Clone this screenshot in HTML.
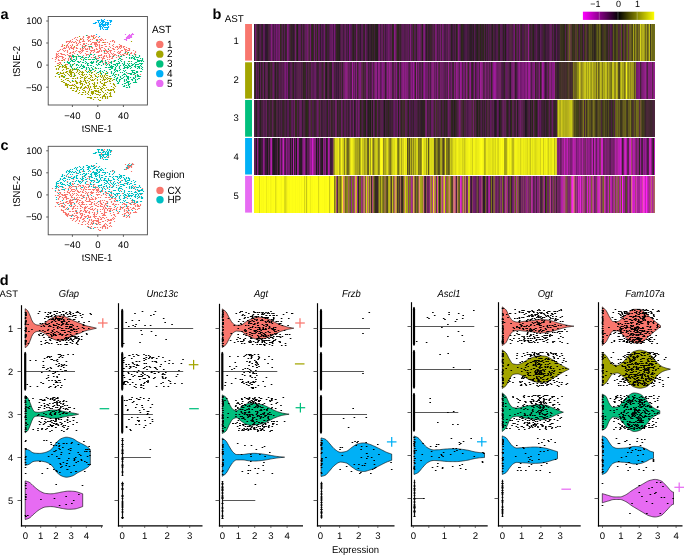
<!DOCTYPE html>
<html><head><meta charset="utf-8"><title>Figure</title>
<style>
html,body{margin:0;padding:0;background:#fff;}
body{width:685px;height:555px;overflow:hidden;}
svg{display:block;font-family:"Liberation Sans", sans-serif;text-rendering:geometricPrecision;filter:blur(0.4px);}
.h0 rect{width:1px;height:36.6px}.h1 rect{width:1px;height:36.3px}.h2 rect{width:1px;height:36.7px}.h3 rect{width:1px;height:36.5px}.h4 rect{width:1px;height:36.7px}
</style></head><body>
<svg width="685" height="555" viewBox="0 0 685 555">
<rect width="685" height="555" fill="#fff"/>
<g>
<path stroke="#F8766D" stroke-width="1.15" d="M97.92 56.5h1.15M108.92 57.5h1.15M91.92 36.5h1.15M60.92 56.5h1.15M77.92 51.5h1.15M93.92 50.5h1.15M86.92 49.5h1.15M108.92 44.5h1.15M63.92 67.5h1.15M68.92 49.5h1.15M65.92 47.5h1.15M69.92 47.5h1.15M61.92 45.5h1.15M59.92 62.5h1.15M104.92 63.5h1.15M58.92 56.5h1.15M58.92 50.5h1.15M91.92 47.5h1.15M117.92 48.5h1.15M82.92 46.5h1.15M84.92 53.5h1.15M110.92 58.5h1.15M66.92 62.5h1.15M81.92 38.5h1.15M121.92 50.5h1.15M118.92 52.5h1.15M81.92 50.5h1.15M104.92 61.5h1.15M112.92 53.5h1.15M128.93 48.5h1.15M109.92 51.5h1.15M81.92 51.5h1.15M79.92 48.5h1.15M104.92 42.5h1.15M113.92 49.5h1.15M119.92 48.5h1.15M106.92 51.5h1.15M88.92 48.5h1.15M66.92 41.5h1.15M65.92 46.5h1.15M89.92 52.5h1.15M92.92 50.5h1.15M54.92 59.5h1.15M75.92 48.5h1.15M88.92 36.5h1.15M103.92 55.5h1.15M130.93 57.5h1.15M66.92 51.5h1.15M105.92 50.5h1.15M105.92 56.5h1.15M96.92 51.5h1.15M56.92 63.5h1.15M85.92 43.5h1.15M108.92 44.5h1.15M96.92 39.5h1.15M78.92 52.5h1.15M118.92 44.5h1.15M82.92 55.5h1.15M86.92 39.5h1.15M111.92 56.5h1.15M98.92 50.5h1.15M57.92 59.5h1.15M98.92 55.5h1.15M71.92 52.5h1.15M78.92 41.5h1.15M84.92 46.5h1.15M70.92 42.5h1.15M90.92 47.5h1.15M98.92 47.5h1.15M79.92 48.5h1.15M90.92 47.5h1.15M87.92 41.5h1.15M108.92 55.5h1.15M123.92 55.5h1.15M69.92 53.5h1.15M93.92 38.5h1.15M92.92 42.5h1.15M113.92 54.5h1.15M82.92 44.5h1.15M104.92 53.5h1.15M103.92 56.5h1.15M68.92 56.5h1.15M93.92 42.5h1.15M86.92 35.5h1.15M107.92 63.5h1.15M72.92 42.5h1.15M74.92 51.5h1.15M100.92 51.5h1.15M100.92 45.5h1.15M95.92 44.5h1.15M79.92 38.5h1.15M109.92 41.5h1.15M70.92 47.5h1.15M79.92 44.5h1.15M97.92 55.5h1.15M55.92 56.5h1.15M119.92 45.5h1.15M125.92 49.5h1.15M68.92 57.5h1.15M86.92 48.5h1.15M74.92 41.5h1.15M62.92 57.5h1.15M111.92 45.5h1.15M133.93 74.5h1.15M64.92 58.5h1.15M86.92 48.5h1.15M69.92 45.5h1.15M91.92 48.5h1.15M92.92 55.5h1.15M67.92 60.5h1.15M125.92 54.5h1.15M62.92 59.5h1.15M97.92 58.5h1.15M86.92 49.5h1.15M90.92 51.5h1.15M95.92 49.5h1.15M96.92 52.5h1.15M71.92 44.5h1.15M82.92 40.5h1.15M95.92 43.5h1.15M95.92 58.5h1.15M76.92 45.5h1.15M97.92 52.5h1.15M57.92 57.5h1.15M72.92 49.5h1.15M75.92 45.5h1.15M106.92 59.5h1.15M106.92 57.5h1.15M125.92 47.5h1.15M70.92 58.5h1.15M101.92 45.5h1.15M103.92 53.5h1.15M121.92 59.5h1.15M123.92 53.5h1.15M103.92 44.5h1.15M97.92 60.5h1.15M94.92 45.5h1.15M115.92 55.5h1.15M90.92 43.5h1.15M59.92 49.5h1.15M110.92 61.5h1.15M97.92 42.5h1.15M71.92 48.5h1.15M109.92 47.5h1.15M101.92 42.5h1.15M73.92 42.5h1.15M106.92 59.5h1.15M85.92 51.5h1.15M86.92 51.5h1.15M82.92 37.5h1.15M112.92 44.5h1.15M68.92 41.5h1.15M90.92 44.5h1.15M132.93 50.5h1.15M55.92 54.5h1.15M70.92 57.5h1.15M85.92 45.5h1.15M94.92 45.5h1.15M68.92 41.5h1.15M108.92 62.5h1.15M85.92 55.5h1.15M62.92 50.5h1.15M126.92 54.5h1.15M100.92 38.5h1.15M95.92 39.5h1.15M70.92 46.5h1.15M98.92 39.5h1.15M82.92 36.5h1.15M81.92 45.5h1.15M81.92 41.5h1.15M98.92 46.5h1.15M82.92 48.5h1.15M119.92 46.5h1.15M130.93 58.5h1.15M83.92 47.5h1.15M63.92 48.5h1.15M123.92 46.5h1.15M101.92 58.5h1.15M91.92 47.5h1.15M104.92 46.5h1.15M83.92 43.5h1.15M100.92 54.5h1.15M96.92 49.5h1.15M95.92 49.5h1.15M91.92 42.5h1.15M103.92 50.5h1.15M111.92 58.5h1.15M75.92 42.5h1.15M76.92 48.5h1.15M78.92 42.5h1.15M73.92 47.5h1.15M94.92 44.5h1.15M133.93 53.5h1.15M70.92 56.5h1.15M113.92 41.5h1.15M99.92 55.5h1.15M127.92 50.5h1.15M118.92 57.5h1.15M58.92 50.5h1.15M102.92 57.5h1.15M57.92 53.5h1.15M94.92 43.5h1.15M80.92 52.5h1.15M91.92 39.5h1.15M96.92 41.5h1.15M118.92 53.5h1.15M90.92 50.5h1.15M125.92 51.5h1.15M85.92 54.5h1.15M100.92 47.5h1.15M120.92 45.5h1.15M67.92 55.5h1.15M100.92 40.5h1.15M85.92 49.5h1.15M117.92 53.5h1.15M102.92 40.5h1.15M71.92 39.5h1.15M63.92 59.5h1.15M134.93 52.5h1.15M113.92 51.5h1.15M84.92 48.5h1.15M107.92 48.5h1.15M101.92 47.5h1.15M69.92 56.5h1.15M71.92 84.5h1.15M123.92 53.5h1.15M82.92 50.5h1.15M91.92 36.5h1.15M102.92 56.5h1.15M108.92 56.5h1.15M121.92 54.5h1.15M114.92 47.5h1.15M65.92 42.5h1.15M95.92 46.5h1.15M110.92 53.5h1.15M97.92 37.5h1.15M79.92 49.5h1.15M102.92 58.5h1.15M100.92 57.5h1.15M58.92 62.5h1.15M98.92 48.5h1.15M103.92 58.5h1.15M74.92 37.5h1.15M66.92 45.5h1.15M57.92 51.5h1.15M94.92 42.5h1.15M60.92 53.5h1.15M94.92 46.5h1.15M59.92 49.5h1.15M116.92 47.5h1.15M77.92 51.5h1.15M115.92 57.5h1.15M79.92 53.5h1.15M76.92 45.5h1.15M70.92 59.5h1.15M66.92 50.5h1.15M101.92 39.5h1.15M66.92 52.5h1.15M68.92 42.5h1.15M59.92 66.5h1.15M96.92 45.5h1.15M119.92 52.5h1.15M72.92 48.5h1.15M92.92 38.5h1.15M77.92 55.5h1.15M126.92 73.5h1.15M91.92 59.5h1.15M66.92 54.5h1.15M87.92 37.5h1.15M134.93 54.5h1.15M110.92 50.5h1.15M61.92 54.5h1.15M88.92 47.5h1.15M67.92 59.5h1.15M61.92 57.5h1.15M85.92 57.5h1.15M122.92 46.5h1.15M100.92 55.5h1.15M75.92 47.5h1.15M89.92 53.5h1.15M58.92 56.5h1.15M94.92 57.5h1.15M67.92 55.5h1.15M55.92 53.5h1.15M76.92 87.5h1.15M95.92 42.5h1.15M75.92 39.5h1.15M55.92 57.5h1.15M77.92 43.5h1.15M79.92 81.5h1.15M68.92 55.5h1.15M119.92 54.5h1.15M79.92 42.5h1.15M68.92 48.5h1.15M64.92 50.5h1.15M130.93 53.5h1.15M89.92 41.5h1.15M113.92 42.5h1.15M70.92 48.5h1.15M98.92 42.5h1.15M68.92 41.5h1.15M99.92 48.5h1.15M98.92 45.5h1.15M62.92 54.5h1.15M68.92 57.5h1.15M117.92 51.5h1.15M134.93 51.5h1.15M109.92 50.5h1.15M60.92 60.5h1.15M89.92 54.5h1.15M86.92 37.5h1.15M107.92 53.5h1.15M98.92 51.5h1.15M71.92 45.5h1.15M112.92 55.5h1.15M95.92 44.5h1.15M76.92 40.5h1.15M93.92 49.5h1.15M59.92 53.5h1.15M120.92 47.5h1.15M112.92 49.5h1.15M57.92 55.5h1.15M89.92 39.5h1.15M62.92 50.5h1.15M64.92 48.5h1.15M101.92 60.5h1.15M108.92 43.5h1.15M95.92 36.5h1.15M64.92 55.5h1.15M64.92 48.5h1.15M126.92 50.5h1.15M61.92 44.5h1.15M124.92 50.5h1.15M105.92 51.5h1.15M118.92 47.5h1.15M82.92 39.5h1.15M57.92 60.5h1.15M127.92 48.5h1.15M122.92 54.5h1.15M120.92 50.5h1.15M107.92 51.5h1.15M71.92 54.5h1.15M88.92 49.5h1.15M57.92 60.5h1.15M105.92 53.5h1.15M112.92 40.5h1.15M59.92 53.5h1.15M87.92 54.5h1.15M134.93 55.5h1.15M126.92 52.5h1.15M56.92 54.5h1.15M80.92 39.5h1.15M63.92 48.5h1.15M54.92 61.5h1.15M116.92 52.5h1.15M98.92 41.5h1.15M96.92 52.5h1.15M91.92 47.5h1.15M72.92 49.5h1.15M74.92 51.5h1.15M104.92 64.5h1.15M75.92 43.5h1.15M123.92 48.5h1.15M87.92 40.5h1.15M105.92 46.5h1.15M57.92 63.5h1.15M81.92 48.5h1.15M83.92 46.5h1.15M92.92 35.5h1.15M83.92 41.5h1.15M131.93 55.5h1.15M133.93 54.5h1.15M84.92 53.5h1.15M60.92 46.5h1.15M78.92 40.5h1.15M94.92 57.5h1.15M64.92 58.5h1.15M63.92 54.5h1.15M117.92 56.5h1.15M67.92 47.5h1.15M111.92 41.5h1.15M93.92 44.5h1.15M106.92 52.5h1.15M84.92 49.5h1.15M51.92 58.5h1.15M98.92 44.5h1.15M60.92 54.5h1.15M112.92 48.5h1.15M87.92 44.5h1.15M108.92 50.5h1.15M79.92 51.5h1.15M124.92 53.5h1.15M96.92 58.5h1.15M63.92 51.5h1.15M101.92 62.5h1.15M72.92 52.5h1.15M112.92 53.5h1.15M127.92 48.5h1.15M93.92 51.5h1.15M139.93 74.5h1.15M108.92 59.5h1.15M75.92 47.5h1.15M127.92 48.5h1.15M66.92 64.5h1.15M92.92 57.5h1.15M122.92 47.5h1.15M87.92 38.5h1.15M69.92 40.5h1.15M89.92 50.5h1.15M89.92 44.5h1.15M95.92 52.5h1.15M103.92 52.5h1.15M66.92 54.5h1.15M112.92 49.5h1.15M95.92 48.5h1.15M119.92 51.5h1.15M98.92 50.5h1.15M104.92 49.5h1.15M94.92 43.5h1.15M75.92 39.5h1.15M56.92 51.5h1.15M66.92 44.5h1.15M76.92 37.5h1.15M92.92 38.5h1.15M67.92 58.5h1.15M96.92 61.5h1.15M87.92 46.5h1.15M109.92 56.5h1.15M124.92 49.5h1.15M61.92 54.5h1.15M111.92 40.5h1.15M92.92 55.5h1.15M95.92 44.5h1.15M92.92 57.5h1.15M59.92 63.5h1.15M113.92 55.5h1.15M91.92 47.5h1.15M80.92 50.5h1.15M85.92 43.5h1.15M112.92 46.5h1.15M91.92 47.5h1.15M120.92 55.5h1.15M73.92 53.5h1.15M81.92 46.5h1.15M78.92 41.5h1.15M63.92 65.5h1.15M90.92 57.5h1.15M72.92 51.5h1.15M75.92 56.5h1.15M92.92 52.5h1.15M67.92 43.5h1.15M94.92 37.5h1.15M104.92 50.5h1.15M120.92 46.5h1.15M98.92 47.5h1.15M103.92 48.5h1.15M128.93 50.5h1.15M54.92 57.5h1.15M123.92 49.5h1.15M116.92 49.5h1.15M103.92 42.5h1.15M72.92 47.5h1.15M100.92 50.5h1.15M129.93 53.5h1.15M58.92 60.5h1.15M93.92 35.5h1.15M96.92 60.5h1.15M67.92 46.5h1.15M90.92 35.5h1.15M69.92 55.5h1.15M72.92 51.5h1.15M60.92 56.5h1.15M55.92 53.5h1.15M99.92 39.5h1.15M75.92 50.5h1.15M118.92 46.5h1.15M88.92 37.5h1.15M73.92 38.5h1.15M71.92 41.5h1.15M93.92 43.5h1.15M68.92 41.5h1.15M101.92 59.5h1.15M107.92 61.5h1.15M56.92 56.5h1.15M108.92 54.5h1.15M63.92 47.5h1.15M86.92 54.5h1.15M104.92 39.5h1.15M81.92 50.5h1.15M54.92 61.5h1.15M97.92 51.5h1.15M68.92 53.5h1.15M96.92 49.5h1.15M93.92 38.5h1.15M64.92 48.5h1.15M55.92 57.5h1.15M115.92 46.5h1.15M63.92 60.5h1.15M83.92 44.5h1.15M90.92 36.5h1.15M93.92 59.5h1.15M67.92 41.5h1.15M111.92 54.5h1.15M62.92 48.5h1.15M102.92 50.5h1.15M128.93 49.5h1.15M92.92 42.5h1.15M79.92 39.5h1.15M81.92 49.5h1.15M119.92 45.5h1.15M112.92 61.5h1.15M108.92 46.5h1.15M91.92 50.5h1.15M69.92 41.5h1.15M89.92 46.5h1.15M130.93 52.5h1.15M65.92 41.5h1.15M76.92 44.5h1.15M59.92 56.5h1.15M82.92 43.5h1.15M105.92 55.5h1.15M71.92 41.5h1.15M106.92 51.5h1.15M104.92 44.5h1.15M114.92 54.5h1.15M99.92 40.5h1.15M96.92 44.5h1.15M93.92 54.5h1.15M65.92 64.5h1.15M111.92 57.5h1.15M87.92 36.5h1.15M61.92 56.5h1.15M61.92 49.5h1.15M55.92 55.5h1.15M86.92 88.5h1.15M61.92 58.5h1.15M82.92 41.5h1.15M55.92 58.5h1.15M89.92 52.5h1.15M104.92 61.5h1.15M106.92 42.5h1.15M57.92 60.5h1.15M65.92 45.5h1.15M109.92 52.5h1.15M88.92 40.5h1.15M69.92 52.5h1.15M66.92 51.5h1.15M92.92 36.5h1.15M94.92 45.5h1.15M82.92 57.5h1.15M101.92 61.5h1.15M74.92 41.5h1.15M96.92 40.5h1.15M99.92 49.5h1.15M111.92 48.5h1.15M124.92 51.5h1.15M78.92 51.5h1.15M116.92 46.5h1.15M61.92 46.5h1.15"/>
<path stroke="#00BF7D" stroke-width="1.15" d="M91.92 68.5h1.15M94.92 56.5h1.15M90.92 61.5h1.15M136.93 72.5h1.15M89.92 62.5h1.15M89.92 65.5h1.15M103.92 85.5h1.15M135.93 72.5h1.15M131.93 72.5h1.15M96.92 77.5h1.15M122.92 55.5h1.15M82.92 65.5h1.15M128.93 57.5h1.15M123.92 83.5h1.15M117.92 82.5h1.15M123.92 76.5h1.15M77.92 65.5h1.15M91.92 69.5h1.15M89.92 59.5h1.15M110.92 62.5h1.15M124.92 74.5h1.15M136.93 68.5h1.15M120.92 78.5h1.15M127.92 65.5h1.15M133.93 72.5h1.15M116.92 83.5h1.15M99.92 61.5h1.15M118.92 81.5h1.15M98.92 71.5h1.15M141.93 69.5h1.15M127.92 79.5h1.15M123.92 73.5h1.15M140.93 68.5h1.15M113.92 75.5h1.15M114.92 68.5h1.15M131.93 64.5h1.15M126.92 68.5h1.15M100.92 61.5h1.15M73.92 69.5h1.15M85.92 69.5h1.15M135.93 57.5h1.15M127.92 73.5h1.15M112.92 56.5h1.15M120.92 56.5h1.15M105.92 73.5h1.15M66.92 61.5h1.15M85.92 67.5h1.15M117.92 74.5h1.15M84.92 57.5h1.15M114.92 67.5h1.15M83.92 66.5h1.15M130.93 70.5h1.15M113.92 69.5h1.15M122.92 64.5h1.15M94.92 56.5h1.15M101.92 71.5h1.15M114.92 71.5h1.15M91.92 63.5h1.15M128.93 66.5h1.15M93.92 57.5h1.15M141.93 60.5h1.15M110.92 73.5h1.15M129.93 83.5h1.15M110.92 72.5h1.15M96.92 60.5h1.15M122.92 86.5h1.15M95.92 68.5h1.15M82.92 59.5h1.15M79.92 66.5h1.15M135.93 62.5h1.15M97.92 63.5h1.15M140.93 71.5h1.15M136.93 61.5h1.15M129.93 83.5h1.15M128.93 86.5h1.15M126.92 66.5h1.15M119.92 77.5h1.15M86.92 63.5h1.15M86.92 64.5h1.15M124.92 74.5h1.15M85.92 57.5h1.15M92.92 66.5h1.15M134.93 66.5h1.15M123.92 85.5h1.15M96.92 65.5h1.15M94.92 67.5h1.15M91.92 59.5h1.15M132.93 77.5h1.15M118.92 58.5h1.15M133.93 82.5h1.15M136.93 57.5h1.15M89.92 70.5h1.15M92.92 69.5h1.15M71.92 80.5h1.15M134.93 59.5h1.15M104.92 67.5h1.15M89.92 54.5h1.15M136.93 66.5h1.15M128.93 54.5h1.15M123.92 62.5h1.15M127.92 83.5h1.15M77.92 69.5h1.15M129.93 83.5h1.15M63.92 62.5h1.15M133.93 63.5h1.15M134.93 64.5h1.15M76.92 54.5h1.15M91.92 62.5h1.15M102.92 72.5h1.15M77.92 62.5h1.15M80.92 65.5h1.15M132.93 70.5h1.15M71.92 55.5h1.15M134.93 56.5h1.15M75.92 57.5h1.15M105.92 71.5h1.15M70.92 66.5h1.15M134.93 65.5h1.15M118.92 66.5h1.15M79.92 56.5h1.15M139.93 58.5h1.15M94.92 68.5h1.15M90.92 72.5h1.15M83.92 58.5h1.15M121.92 63.5h1.15M76.92 69.5h1.15M125.92 75.5h1.15M128.93 65.5h1.15M134.93 62.5h1.15M116.92 71.5h1.15M88.92 68.5h1.15M127.92 77.5h1.15M105.92 67.5h1.15M90.92 54.5h1.15M117.92 83.5h1.15M114.92 65.5h1.15M136.93 60.5h1.15M123.92 64.5h1.15M135.93 82.5h1.15M97.92 72.5h1.15M132.93 82.5h1.15M135.93 64.5h1.15M130.93 57.5h1.15M69.92 69.5h1.15M131.93 70.5h1.15M99.92 71.5h1.15M85.92 35.5h1.15M135.93 71.5h1.15M90.92 67.5h1.15M82.92 60.5h1.15M139.93 63.5h1.15M138.93 56.5h1.15M118.92 62.5h1.15M118.92 68.5h1.15M87.92 67.5h1.15M136.93 74.5h1.15M126.92 76.5h1.15M100.92 73.5h1.15M98.92 64.5h1.15M125.92 79.5h1.15M85.92 69.5h1.15M111.92 68.5h1.15M125.92 67.5h1.15M90.92 46.5h1.15M134.93 73.5h1.15M102.92 63.5h1.15M81.92 57.5h1.15M84.92 59.5h1.15M88.92 68.5h1.15M137.93 60.5h1.15M119.92 65.5h1.15M81.92 62.5h1.15M122.92 70.5h1.15M135.93 82.5h1.15M121.92 78.5h1.15M126.92 77.5h1.15M80.92 64.5h1.15M101.92 61.5h1.15M115.92 79.5h1.15M125.92 85.5h1.15M128.93 55.5h1.15M138.93 78.5h1.15M139.93 76.5h1.15M74.92 60.5h1.15M138.93 76.5h1.15M129.93 73.5h1.15M137.93 78.5h1.15M125.92 75.5h1.15M133.93 59.5h1.15M112.92 64.5h1.15M118.92 58.5h1.15M103.92 51.5h1.15M120.92 61.5h1.15M67.92 63.5h1.15M131.93 79.5h1.15M110.92 67.5h1.15M96.92 72.5h1.15M107.92 49.5h1.15M132.93 56.5h1.15M137.93 61.5h1.15M75.92 68.5h1.15M110.92 68.5h1.15M136.93 68.5h1.15M130.93 61.5h1.15M86.92 72.5h1.15M125.92 85.5h1.15M92.92 61.5h1.15M122.92 68.5h1.15M140.93 64.5h1.15M138.93 60.5h1.15M94.92 70.5h1.15M131.93 80.5h1.15M140.93 68.5h1.15M126.92 82.5h1.15M79.92 58.5h1.15M92.92 59.5h1.15M83.92 58.5h1.15M98.92 57.5h1.15M113.92 72.5h1.15M134.93 54.5h1.15M123.92 61.5h1.15M95.92 61.5h1.15M72.92 59.5h1.15M119.92 79.5h1.15M115.92 78.5h1.15M111.92 67.5h1.15M123.92 67.5h1.15M106.92 64.5h1.15M69.92 66.5h1.15M136.93 64.5h1.15M75.92 65.5h1.15M132.93 58.5h1.15M72.92 56.5h1.15M116.92 81.5h1.15M80.92 68.5h1.15M119.92 58.5h1.15M131.93 55.5h1.15M77.92 56.5h1.15M125.92 80.5h1.15M116.92 71.5h1.15M126.92 82.5h1.15M76.92 61.5h1.15M115.92 70.5h1.15M73.92 61.5h1.15M87.92 59.5h1.15M127.92 78.5h1.15M136.93 57.5h1.15M76.92 64.5h1.15M130.93 74.5h1.15M79.92 56.5h1.15M93.92 74.5h1.15M120.92 59.5h1.15M121.92 78.5h1.15M132.93 72.5h1.15M128.93 66.5h1.15M124.92 67.5h1.15M126.92 78.5h1.15M87.92 57.5h1.15M126.92 87.5h1.15M83.92 67.5h1.15M118.92 79.5h1.15M85.92 59.5h1.15M114.92 60.5h1.15M118.92 80.5h1.15M71.92 56.5h1.15M125.92 65.5h1.15M90.92 65.5h1.15M89.92 62.5h1.15M110.92 65.5h1.15M75.92 58.5h1.15M73.92 68.5h1.15M86.92 80.5h1.15M119.92 79.5h1.15M123.92 76.5h1.15M139.93 65.5h1.15M84.92 63.5h1.15M131.93 65.5h1.15M128.93 58.5h1.15M123.92 81.5h1.15M133.93 72.5h1.15M110.92 72.5h1.15M75.92 64.5h1.15M71.92 65.5h1.15M108.92 65.5h1.15M141.93 63.5h1.15M134.93 79.5h1.15M73.92 59.5h1.15M123.92 86.5h1.15M66.92 62.5h1.15M117.92 63.5h1.15M128.93 73.5h1.15M132.93 56.5h1.15M119.92 58.5h1.15M123.92 68.5h1.15M76.92 61.5h1.15M84.92 45.5h1.15M108.92 64.5h1.15M99.92 62.5h1.15M88.92 56.5h1.15M87.92 63.5h1.15M74.92 69.5h1.15M136.93 79.5h1.15M118.92 67.5h1.15M139.93 71.5h1.15M75.92 56.5h1.15M133.93 58.5h1.15M77.92 61.5h1.15M109.92 69.5h1.15M63.92 76.5h1.15M124.92 65.5h1.15M88.92 69.5h1.15M81.92 66.5h1.15M130.93 58.5h1.15M104.92 60.5h1.15M82.92 66.5h1.15M68.92 63.5h1.15M140.93 60.5h1.15M125.92 82.5h1.15M132.93 70.5h1.15M117.92 59.5h1.15M130.93 67.5h1.15M134.93 75.5h1.15M135.93 71.5h1.15M69.92 61.5h1.15M93.92 54.5h1.15M131.93 71.5h1.15M97.92 64.5h1.15M123.92 62.5h1.15M140.93 63.5h1.15M113.92 61.5h1.15M85.92 59.5h1.15M124.92 52.5h1.15M117.92 74.5h1.15M99.92 68.5h1.15M124.92 83.5h1.15M112.92 73.5h1.15M111.92 66.5h1.15M127.92 61.5h1.15M90.92 63.5h1.15M99.92 71.5h1.15M138.93 67.5h1.15M67.92 62.5h1.15M88.92 46.5h1.15M76.92 82.5h1.15M124.92 65.5h1.15M121.92 84.5h1.15M88.92 55.5h1.15M132.93 72.5h1.15M114.92 76.5h1.15M126.92 68.5h1.15M118.92 63.5h1.15M138.93 66.5h1.15M87.92 57.5h1.15M136.93 75.5h1.15M116.92 63.5h1.15M123.92 80.5h1.15M117.92 59.5h1.15M115.92 80.5h1.15M95.92 64.5h1.15M117.92 83.5h1.15M116.92 77.5h1.15M140.93 61.5h1.15M123.92 85.5h1.15M73.92 63.5h1.15M69.92 64.5h1.15M114.92 64.5h1.15M77.92 69.5h1.15M124.92 70.5h1.15M121.92 78.5h1.15M117.92 59.5h1.15M137.93 75.5h1.15M114.92 69.5h1.15M138.93 61.5h1.15M128.93 81.5h1.15M137.93 57.5h1.15M118.92 68.5h1.15M113.92 70.5h1.15M140.93 66.5h1.15M68.92 63.5h1.15M134.93 80.5h1.15M142.93 61.5h1.15M66.92 62.5h1.15M91.92 68.5h1.15M81.92 62.5h1.15M104.92 62.5h1.15M85.92 67.5h1.15M92.92 66.5h1.15M109.92 62.5h1.15M129.93 77.5h1.15M123.92 79.5h1.15M131.93 70.5h1.15M78.92 56.5h1.15M119.92 69.5h1.15M127.92 81.5h1.15M105.92 65.5h1.15M141.93 59.5h1.15M113.92 60.5h1.15M72.92 55.5h1.15M134.93 62.5h1.15M125.92 87.5h1.15M79.92 71.5h1.15M130.93 73.5h1.15M130.93 63.5h1.15M80.92 86.5h1.15M72.92 57.5h1.15M134.93 82.5h1.15M75.92 59.5h1.15M76.92 67.5h1.15M71.92 64.5h1.15M68.92 62.5h1.15M137.93 64.5h1.15M110.92 62.5h1.15M121.92 72.5h1.15M96.92 65.5h1.15M95.92 59.5h1.15M133.93 73.5h1.15M71.92 68.5h1.15M128.93 57.5h1.15M82.92 67.5h1.15M129.93 68.5h1.15M116.92 70.5h1.15M132.93 74.5h1.15M99.92 71.5h1.15M110.92 61.5h1.15M75.92 68.5h1.15M110.92 65.5h1.15M127.92 82.5h1.15M131.93 57.5h1.15M141.93 67.5h1.15M108.92 69.5h1.15M123.92 74.5h1.15M97.92 60.5h1.15M128.93 63.5h1.15M113.92 79.5h1.15M71.92 60.5h1.15M133.93 78.5h1.15M94.92 58.5h1.15M134.93 77.5h1.15M78.92 62.5h1.15M68.92 56.5h1.15M137.93 76.5h1.15M127.92 85.5h1.15M128.93 87.5h1.15M136.93 76.5h1.15M103.92 70.5h1.15M132.93 64.5h1.15M115.92 63.5h1.15M110.92 63.5h1.15M138.93 55.5h1.15M134.93 67.5h1.15M110.92 71.5h1.15M85.92 68.5h1.15M126.92 63.5h1.15M112.92 73.5h1.15M73.92 56.5h1.15M82.92 62.5h1.15M133.93 57.5h1.15M96.92 65.5h1.15M136.93 71.5h1.15M112.92 74.5h1.15M127.92 84.5h1.15M81.92 68.5h1.15M136.93 59.5h1.15M96.92 65.5h1.15M69.92 65.5h1.15M104.92 62.5h1.15M87.92 71.5h1.15M115.92 80.5h1.15M76.92 88.5h1.15M127.92 67.5h1.15M132.93 78.5h1.15M121.92 75.5h1.15M129.93 66.5h1.15M138.93 68.5h1.15M117.92 61.5h1.15M116.92 78.5h1.15M70.92 67.5h1.15M61.92 65.5h1.15M115.92 66.5h1.15M127.92 76.5h1.15M99.92 70.5h1.15M127.92 64.5h1.15M70.92 60.5h1.15M110.92 66.5h1.15M127.92 76.5h1.15M57.92 74.5h1.15M138.93 63.5h1.15M114.92 68.5h1.15M125.92 72.5h1.15M130.93 79.5h1.15M97.92 68.5h1.15M114.92 71.5h1.15M125.92 57.5h1.15M118.92 70.5h1.15M134.93 81.5h1.15M69.92 58.5h1.15M116.92 65.5h1.15M128.93 84.5h1.15M127.92 52.5h1.15M132.93 70.5h1.15M106.92 72.5h1.15M86.92 65.5h1.15M109.92 67.5h1.15M73.92 75.5h1.15M126.92 67.5h1.15M93.92 59.5h1.15M114.92 74.5h1.15M130.93 65.5h1.15M116.92 65.5h1.15M139.93 60.5h1.15M109.92 76.5h1.15M129.93 74.5h1.15M134.93 76.5h1.15M119.92 76.5h1.15M82.92 65.5h1.15M116.92 64.5h1.15M123.92 81.5h1.15M133.93 70.5h1.15M105.92 63.5h1.15M76.92 67.5h1.15M130.93 67.5h1.15M90.92 67.5h1.15M117.92 55.5h1.15M125.92 76.5h1.15M106.92 73.5h1.15M133.93 66.5h1.15M90.92 62.5h1.15M119.92 56.5h1.15M117.92 75.5h1.15M105.92 63.5h1.15M128.93 65.5h1.15M86.92 64.5h1.15M116.92 65.5h1.15M108.92 67.5h1.15M71.92 61.5h1.15M119.92 72.5h1.15M111.92 75.5h1.15M84.92 61.5h1.15M119.92 60.5h1.15M123.92 66.5h1.15M122.92 74.5h1.15M69.92 59.5h1.15M98.92 62.5h1.15M126.92 66.5h1.15M79.92 61.5h1.15M116.92 71.5h1.15M137.93 67.5h1.15M90.92 70.5h1.15M100.92 60.5h1.15M123.92 63.5h1.15M102.92 64.5h1.15M89.92 46.5h1.15M123.92 71.5h1.15M141.93 58.5h1.15M141.93 59.5h1.15M100.92 65.5h1.15M122.92 77.5h1.15M92.92 62.5h1.15M107.92 67.5h1.15M81.92 47.5h1.15M122.92 65.5h1.15M126.92 81.5h1.15M81.92 56.5h1.15M87.92 65.5h1.15M113.92 64.5h1.15M87.92 67.5h1.15M113.92 77.5h1.15M85.92 62.5h1.15M80.92 57.5h1.15M72.92 61.5h1.15M114.92 60.5h1.15M142.93 61.5h1.15M112.92 66.5h1.15M100.92 74.5h1.15M78.92 67.5h1.15M95.92 62.5h1.15M73.92 56.5h1.15M137.93 66.5h1.15M105.92 62.5h1.15M109.92 66.5h1.15M94.92 68.5h1.15"/>
<path stroke="#A3A500" stroke-width="1.15" d="M95.92 94.5h1.15M93.92 86.5h1.15M105.92 78.5h1.15M109.92 79.5h1.15M103.92 82.5h1.15M101.92 91.5h1.15M69.92 76.5h1.15M82.92 88.5h1.15M60.92 75.5h1.15M80.92 72.5h1.15M66.92 84.5h1.15M99.92 76.5h1.15M96.92 82.5h1.15M61.92 60.5h1.15M99.92 94.5h1.15M106.92 97.5h1.15M80.92 87.5h1.15M112.92 89.5h1.15M63.92 45.5h1.15M78.92 74.5h1.15M72.92 64.5h1.15M91.92 79.5h1.15M66.92 87.5h1.15M88.92 72.5h1.15M75.92 91.5h1.15M101.92 80.5h1.15M105.92 87.5h1.15M75.92 72.5h1.15M93.92 90.5h1.15M89.92 79.5h1.15M103.92 95.5h1.15M73.92 84.5h1.15M109.92 81.5h1.15M62.92 82.5h1.15M59.92 72.5h1.15M92.92 84.5h1.15M69.92 73.5h1.15M67.92 78.5h1.15M77.92 73.5h1.15M103.92 85.5h1.15M75.92 69.5h1.15M64.92 64.5h1.15M87.92 78.5h1.15M74.92 85.5h1.15M114.92 86.5h1.15M88.92 74.5h1.15M65.92 72.5h1.15M66.92 85.5h1.15M69.92 71.5h1.15M103.92 94.5h1.15M61.92 67.5h1.15M60.92 73.5h1.15M88.92 97.5h1.15M64.92 79.5h1.15M85.92 82.5h1.15M100.92 88.5h1.15M61.92 76.5h1.15M113.92 84.5h1.15M99.92 76.5h1.15M61.92 76.5h1.15M69.92 74.5h1.15M128.93 61.5h1.15M99.92 92.5h1.15M65.92 85.5h1.15M69.92 71.5h1.15M97.92 90.5h1.15M58.92 77.5h1.15M87.92 87.5h1.15M73.92 86.5h1.15M92.92 37.5h1.15M82.92 92.5h1.15M77.92 93.5h1.15M70.92 73.5h1.15M78.92 90.5h1.15M102.92 42.5h1.15M81.92 75.5h1.15M99.92 100.5h1.15M94.92 78.5h1.15M65.92 71.5h1.15M92.92 93.5h1.15M64.92 85.5h1.15M66.92 85.5h1.15M70.92 75.5h1.15M65.92 84.5h1.15M64.92 84.5h1.15M74.92 56.5h1.15M109.92 90.5h1.15M107.92 90.5h1.15M72.92 72.5h1.15M92.92 86.5h1.15M80.92 59.5h1.15M102.92 85.5h1.15M93.92 82.5h1.15M95.92 40.5h1.15M58.92 67.5h1.15M99.92 72.5h1.15M84.92 76.5h1.15M96.92 94.5h1.15M88.92 89.5h1.15M85.92 71.5h1.15M84.92 87.5h1.15M90.92 98.5h1.15M60.92 75.5h1.15M111.92 89.5h1.15M72.92 78.5h1.15M100.92 77.5h1.15M86.92 85.5h1.15M97.92 99.5h1.15M110.92 89.5h1.15M102.92 78.5h1.15M93.92 71.5h1.15M90.92 89.5h1.15M109.92 93.5h1.15M99.92 79.5h1.15M81.92 89.5h1.15M70.92 76.5h1.15M63.92 74.5h1.15M68.92 71.5h1.15M85.92 82.5h1.15M75.92 82.5h1.15M91.92 72.5h1.15M95.92 85.5h1.15M101.92 83.5h1.15M94.92 76.5h1.15M76.92 83.5h1.15M90.92 93.5h1.15M84.92 78.5h1.15M71.92 81.5h1.15M90.92 73.5h1.15M72.92 72.5h1.15M89.92 98.5h1.15M58.92 64.5h1.15M73.92 73.5h1.15M65.92 68.5h1.15M93.92 85.5h1.15M68.92 81.5h1.15M84.92 81.5h1.15M95.92 73.5h1.15M94.92 86.5h1.15M75.92 81.5h1.15M56.92 72.5h1.15M88.92 90.5h1.15M69.92 85.5h1.15M66.92 86.5h1.15M59.92 72.5h1.15M81.92 71.5h1.15M63.92 67.5h1.15M88.92 81.5h1.15M93.92 83.5h1.15M113.92 92.5h1.15M90.92 76.5h1.15M87.92 94.5h1.15M103.92 80.5h1.15M55.92 69.5h1.15M73.92 68.5h1.15M87.92 97.5h1.15M87.92 82.5h1.15M112.92 84.5h1.15M61.92 81.5h1.15M94.92 90.5h1.15M76.92 82.5h1.15M85.92 74.5h1.15M90.92 75.5h1.15M100.92 89.5h1.15M58.92 76.5h1.15M96.92 83.5h1.15M101.92 97.5h1.15M90.92 76.5h1.15M97.92 91.5h1.15M90.92 97.5h1.15M112.92 83.5h1.15M101.92 97.5h1.15M54.92 76.5h1.15M130.93 41.5h1.15M64.92 83.5h1.15M109.92 92.5h1.15M61.92 66.5h1.15M84.92 92.5h1.15M95.92 86.5h1.15M110.92 96.5h1.15M58.92 67.5h1.15M95.92 90.5h1.15M71.92 70.5h1.15M80.92 81.5h1.15M88.92 88.5h1.15M76.92 88.5h1.15M79.92 81.5h1.15M101.92 98.5h1.15M95.92 94.5h1.15M89.92 95.5h1.15M79.92 84.5h1.15M66.92 85.5h1.15M72.92 81.5h1.15M84.92 91.5h1.15M87.92 97.5h1.15M91.92 91.5h1.15M106.92 75.5h1.15M115.92 74.5h1.15M73.92 74.5h1.15M93.92 88.5h1.15M81.92 94.5h1.15M88.92 83.5h1.15M57.92 68.5h1.15M93.92 79.5h1.15M64.92 72.5h1.15M81.92 84.5h1.15M109.92 81.5h1.15M94.92 75.5h1.15M72.92 78.5h1.15M94.92 93.5h1.15M72.92 69.5h1.15M62.92 72.5h1.15M67.92 84.5h1.15M79.92 76.5h1.15M75.92 69.5h1.15M102.92 85.5h1.15M104.92 77.5h1.15M73.92 88.5h1.15M90.92 93.5h1.15M102.92 84.5h1.15M106.92 98.5h1.15M106.92 77.5h1.15M108.92 81.5h1.15M83.92 90.5h1.15M113.92 88.5h1.15M64.92 84.5h1.15M91.92 93.5h1.15M98.92 86.5h1.15M74.92 80.5h1.15M102.92 85.5h1.15M103.92 82.5h1.15M110.92 86.5h1.15M99.92 97.5h1.15M74.92 78.5h1.15M79.92 87.5h1.15M85.92 83.5h1.15M92.92 99.5h1.15M94.92 88.5h1.15M66.92 73.5h1.15M85.92 74.5h1.15M83.92 78.5h1.15M69.92 70.5h1.15M98.92 95.5h1.15M57.92 65.5h1.15M62.92 76.5h1.15M64.92 75.5h1.15M83.92 88.5h1.15M55.92 68.5h1.15M101.92 88.5h1.15M79.92 84.5h1.15M62.92 73.5h1.15M66.92 68.5h1.15M82.92 90.5h1.15M84.92 94.5h1.15M74.92 80.5h1.15M68.92 72.5h1.15M101.92 75.5h1.15M69.92 69.5h1.15M102.92 95.5h1.15M91.92 83.5h1.15M94.92 78.5h1.15M97.92 90.5h1.15M71.92 90.5h1.15M59.92 73.5h1.15M105.92 94.5h1.15M74.92 81.5h1.15M81.92 72.5h1.15M79.92 71.5h1.15M96.92 91.5h1.15M102.92 79.5h1.15M83.92 87.5h1.15M110.92 90.5h1.15M113.92 91.5h1.15M96.92 97.5h1.15M103.92 82.5h1.15M93.92 84.5h1.15M103.92 83.5h1.15M104.92 73.5h1.15M75.92 90.5h1.15M94.92 91.5h1.15M70.92 88.5h1.15M104.92 79.5h1.15M73.92 76.5h1.15M84.92 80.5h1.15M102.92 87.5h1.15M89.92 87.5h1.15M65.92 67.5h1.15M60.92 79.5h1.15M57.92 72.5h1.15M90.92 92.5h1.15M104.92 90.5h1.15M88.92 70.5h1.15M62.92 69.5h1.15M110.92 78.5h1.15M67.92 80.5h1.15M56.92 73.5h1.15M93.92 97.5h1.15M113.92 85.5h1.15M70.92 85.5h1.15M83.92 84.5h1.15M101.92 76.5h1.15M72.92 88.5h1.15M83.92 77.5h1.15M106.92 81.5h1.15M75.92 87.5h1.15M76.92 70.5h1.15M101.92 96.5h1.15M71.92 85.5h1.15M58.92 76.5h1.15M71.92 72.5h1.15M87.92 86.5h1.15M75.92 86.5h1.15M88.92 97.5h1.15M81.92 73.5h1.15M109.92 94.5h1.15M83.92 79.5h1.15M79.92 78.5h1.15M66.92 71.5h1.15M81.92 92.5h1.15M63.92 82.5h1.15M62.92 76.5h1.15M104.92 82.5h1.15M96.92 79.5h1.15M93.92 85.5h1.15M84.92 78.5h1.15M64.92 84.5h1.15M102.92 87.5h1.15M68.92 70.5h1.15M58.92 74.5h1.15M109.92 89.5h1.15M72.92 72.5h1.15M66.92 78.5h1.15M74.92 91.5h1.15M71.92 78.5h1.15M78.92 72.5h1.15M102.92 85.5h1.15M96.92 91.5h1.15M99.92 81.5h1.15M89.92 86.5h1.15M98.92 92.5h1.15M69.92 72.5h1.15M103.92 79.5h1.15M82.92 92.5h1.15M84.92 86.5h1.15M99.92 82.5h1.15M112.92 87.5h1.15M104.92 97.5h1.15M70.92 72.5h1.15M70.92 87.5h1.15M109.92 78.5h1.15M66.92 86.5h1.15M90.92 80.5h1.15M58.92 66.5h1.15M69.92 82.5h1.15M97.92 94.5h1.15M101.92 86.5h1.15M104.92 74.5h1.15M107.92 78.5h1.15M75.92 72.5h1.15M86.92 93.5h1.15M59.92 66.5h1.15M62.92 77.5h1.15M91.92 80.5h1.15M80.92 86.5h1.15M105.92 75.5h1.15M76.92 69.5h1.15M75.92 83.5h1.15M77.92 93.5h1.15M65.92 68.5h1.15M64.92 83.5h1.15M89.92 75.5h1.15M108.92 80.5h1.15M91.92 77.5h1.15M106.92 96.5h1.15M70.92 74.5h1.15M126.92 53.5h1.15M109.92 90.5h1.15M78.92 82.5h1.15M100.92 90.5h1.15M109.92 83.5h1.15M97.92 74.5h1.15M73.92 46.5h1.15M76.92 78.5h1.15M66.92 68.5h1.15M103.92 75.5h1.15M89.92 79.5h1.15M79.92 76.5h1.15M98.92 100.5h1.15M76.92 77.5h1.15M97.92 76.5h1.15M81.92 77.5h1.15M86.92 80.5h1.15M62.92 69.5h1.15M61.92 73.5h1.15M61.92 75.5h1.15M77.92 87.5h1.15M62.92 80.5h1.15M96.92 83.5h1.15M106.92 79.5h1.15M95.92 91.5h1.15M78.92 36.5h1.15M108.92 93.5h1.15M76.92 89.5h1.15M67.92 84.5h1.15M83.92 74.5h1.15M55.92 73.5h1.15M108.92 78.5h1.15M99.92 73.5h1.15M112.92 90.5h1.15M69.92 70.5h1.15M69.92 66.5h1.15M54.92 66.5h1.15M112.92 79.5h1.15M79.92 80.5h1.15M99.92 87.5h1.15M57.92 68.5h1.15M65.92 78.5h1.15M64.92 66.5h1.15M108.92 76.5h1.15M79.92 39.5h1.15M93.92 87.5h1.15M85.92 87.5h1.15M62.92 82.5h1.15M64.92 65.5h1.15M72.92 85.5h1.15M91.92 94.5h1.15M97.92 92.5h1.15M79.92 88.5h1.15M107.92 90.5h1.15M88.92 78.5h1.15M103.92 76.5h1.15M58.92 74.5h1.15M85.92 77.5h1.15M79.92 83.5h1.15M86.92 76.5h1.15M87.92 91.5h1.15M83.92 77.5h1.15M82.92 72.5h1.15M104.92 98.5h1.15M77.92 87.5h1.15M64.92 67.5h1.15M96.92 80.5h1.15M97.92 88.5h1.15M103.92 96.5h1.15M107.92 89.5h1.15M92.92 91.5h1.15M81.92 83.5h1.15M94.92 97.5h1.15M80.92 74.5h1.15M72.92 76.5h1.15M76.92 71.5h1.15M69.92 88.5h1.15M102.92 77.5h1.15M65.92 83.5h1.15M99.92 89.5h1.15M91.92 92.5h1.15M67.92 74.5h1.15M103.92 84.5h1.15M100.92 83.5h1.15M91.92 72.5h1.15M106.92 72.5h1.15M81.92 74.5h1.15M104.92 96.5h1.15M106.92 89.5h1.15M76.92 77.5h1.15M82.92 81.5h1.15M108.92 78.5h1.15M88.92 59.5h1.15M89.92 71.5h1.15M95.92 76.5h1.15M75.92 81.5h1.15M89.92 77.5h1.15M104.92 85.5h1.15M64.92 79.5h1.15M86.92 97.5h1.15M60.92 81.5h1.15M92.92 80.5h1.15M76.92 87.5h1.15M103.92 88.5h1.15M92.92 91.5h1.15M68.92 81.5h1.15M79.92 83.5h1.15M60.92 76.5h1.15M92.92 92.5h1.15M63.92 77.5h1.15M108.92 81.5h1.15M66.92 86.5h1.15M84.92 82.5h1.15M105.92 82.5h1.15M67.92 68.5h1.15M109.92 95.5h1.15M79.92 82.5h1.15M62.92 66.5h1.15M104.92 93.5h1.15M84.92 70.5h1.15M103.92 88.5h1.15M72.92 76.5h1.15M93.92 74.5h1.15M74.92 75.5h1.15M60.92 64.5h1.15M99.92 75.5h1.15M56.92 65.5h1.15M93.92 74.5h1.15M80.92 83.5h1.15M108.92 90.5h1.15M68.92 75.5h1.15M108.92 96.5h1.15M84.92 78.5h1.15M65.92 66.5h1.15M96.92 82.5h1.15M80.92 94.5h1.15M87.92 92.5h1.15M61.92 70.5h1.15M109.92 96.5h1.15M78.92 70.5h1.15M93.92 74.5h1.15M68.92 85.5h1.15M63.92 65.5h1.15M83.92 80.5h1.15M94.92 68.5h1.15M66.92 80.5h1.15M89.92 97.5h1.15M78.92 92.5h1.15M91.92 79.5h1.15M88.92 84.5h1.15M71.92 69.5h1.15M80.92 77.5h1.15M96.92 88.5h1.15M90.92 91.5h1.15M102.92 96.5h1.15M65.92 78.5h1.15M104.92 74.5h1.15M87.92 85.5h1.15M84.92 80.5h1.15M68.92 72.5h1.15M111.92 80.5h1.15M70.92 71.5h1.15M106.92 92.5h1.15M57.92 69.5h1.15M65.92 69.5h1.15M81.92 85.5h1.15M84.92 78.5h1.15M102.92 92.5h1.15M72.92 90.5h1.15M82.92 75.5h1.15"/>
<path stroke="#00B0F6" stroke-width="1.15" d="M101.92 28.5h1.15M105.92 29.5h1.15M106.92 22.5h1.15M104.92 27.5h1.15M99.92 29.5h1.15M102.92 29.5h1.15M103.92 19.5h1.15M102.92 21.5h1.15M103.92 25.5h1.15M101.92 25.5h1.15M102.92 26.5h1.15M106.92 25.5h1.15M106.92 25.5h1.15M102.92 20.5h1.15M98.92 20.5h1.15M109.92 24.5h1.15M101.92 28.5h1.15M93.92 23.5h1.15M101.92 24.5h1.15M105.92 27.5h1.15M92.92 23.5h1.15M101.92 27.5h1.15M109.92 21.5h1.15M104.92 29.5h1.15M109.92 22.5h1.15M95.92 34.5h1.15M106.92 22.5h1.15M100.92 24.5h1.15M99.92 24.5h1.15M109.92 22.5h1.15M100.92 21.5h1.15M109.92 20.5h1.15M103.92 24.5h1.15M102.92 20.5h1.15M103.92 21.5h1.15M100.92 24.5h1.15M106.92 20.5h1.15M108.92 20.5h1.15M100.92 23.5h1.15M103.92 27.5h1.15M101.92 20.5h1.15M104.92 22.5h1.15M107.92 26.5h1.15M106.92 29.5h1.15M99.92 27.5h1.15M105.92 24.5h1.15M107.92 26.5h1.15M100.92 19.5h1.15M107.92 27.5h1.15M99.92 22.5h1.15M104.92 23.5h1.15M106.92 20.5h1.15M97.92 22.5h1.15M100.92 26.5h1.15M94.92 22.5h1.15M97.92 21.5h1.15M99.92 27.5h1.15M102.92 24.5h1.15M102.92 25.5h1.15M94.92 23.5h1.15M100.92 24.5h1.15M107.92 22.5h1.15M106.92 23.5h1.15M107.92 22.5h1.15M106.92 20.5h1.15M99.92 28.5h1.15M101.92 25.5h1.15M102.92 29.5h1.15M109.92 22.5h1.15M94.92 23.5h1.15M98.92 26.5h1.15M106.92 24.5h1.15M96.92 20.5h1.15M109.92 21.5h1.15M96.92 40.5h1.15M106.92 28.5h1.15M101.92 20.5h1.15M99.92 27.5h1.15M99.92 26.5h1.15M98.92 24.5h1.15M99.92 29.5h1.15M100.92 20.5h1.15M107.92 23.5h1.15M97.92 20.5h1.15M109.92 21.5h1.15M93.92 23.5h1.15M102.92 22.5h1.15M101.92 23.5h1.15M99.92 22.5h1.15M107.92 24.5h1.15M110.92 20.5h1.15M97.92 20.5h1.15M98.92 25.5h1.15M101.92 21.5h1.15M106.92 24.5h1.15M110.92 21.5h1.15M106.92 23.5h1.15M102.92 21.5h1.15M95.92 22.5h1.15M106.92 27.5h1.15M104.92 22.5h1.15M105.92 22.5h1.15M101.92 22.5h1.15M108.92 20.5h1.15M104.92 24.5h1.15M98.92 23.5h1.15M99.92 28.5h1.15M99.92 25.5h1.15M104.92 25.5h1.15M98.92 36.5h1.15"/>
<path stroke="#E76BF3" stroke-width="1.15" d="M129.93 35.5h1.15M126.92 38.5h1.15M132.93 34.5h1.15M130.93 35.5h1.15M127.92 36.5h1.15M127.92 35.5h1.15M124.92 34.5h1.15M131.93 33.5h1.15M123.92 39.5h1.15M125.92 40.5h1.15M129.93 35.5h1.15M128.93 37.5h1.15M126.92 37.5h1.15M128.93 37.5h1.15M126.92 36.5h1.15M130.93 37.5h1.15M130.93 36.5h1.15M131.93 34.5h1.15M129.93 36.5h1.15M127.92 35.5h1.15M125.92 37.5h1.15M126.92 37.5h1.15M129.93 37.5h1.15M127.92 37.5h1.15M128.93 36.5h1.15M131.93 34.5h1.15M130.93 34.5h1.15M127.92 37.5h1.15M132.93 34.5h1.15M127.92 37.5h1.15M128.93 35.5h1.15M131.93 33.5h1.15M127.92 36.5h1.15M128.93 38.5h1.15M125.92 39.5h1.15M127.92 36.5h1.15M127.92 36.5h1.15M124.92 39.5h1.15M128.93 36.5h1.15M127.92 38.5h1.15M125.92 38.5h1.15M128.93 34.5h1.15"/>
</g>
<rect x="48.2" y="16.5" width="99.2" height="88.5" fill="none" stroke="#4d4d4d" stroke-width="0.9"/>
<line x1="46.2" y1="21" x2="48.2" y2="21" stroke="#4d4d4d" stroke-width="0.9"/>
<text x="42.2" y="24.3" font-size="9.6" text-anchor="end">100</text>
<line x1="46.2" y1="43" x2="48.2" y2="43" stroke="#4d4d4d" stroke-width="0.9"/>
<text x="42.2" y="46.3" font-size="9.6" text-anchor="end">50</text>
<line x1="46.2" y1="65.1" x2="48.2" y2="65.1" stroke="#4d4d4d" stroke-width="0.9"/>
<text x="42.2" y="68.4" font-size="9.6" text-anchor="end">0</text>
<line x1="46.2" y1="87.2" x2="48.2" y2="87.2" stroke="#4d4d4d" stroke-width="0.9"/>
<text x="42.2" y="90.5" font-size="9.6" text-anchor="end">−50</text>
<line x1="72.4" y1="105" x2="72.4" y2="107" stroke="#4d4d4d" stroke-width="0.9"/>
<text x="72.4" y="118.6" font-size="9.6" text-anchor="middle">−40</text>
<line x1="97.8" y1="105" x2="97.8" y2="107" stroke="#4d4d4d" stroke-width="0.9"/>
<text x="97.8" y="118.6" font-size="9.6" text-anchor="middle">0</text>
<line x1="123.4" y1="105" x2="123.4" y2="107" stroke="#4d4d4d" stroke-width="0.9"/>
<text x="123.4" y="118.6" font-size="9.6" text-anchor="middle">40</text>
<text x="0" y="0" font-size="9.5" text-anchor="middle" transform="translate(97,131.6) scale(1,1.07)">tSNE-1</text>
<text transform="translate(20.4,61.3) rotate(-90) scale(1,1.07)" font-size="9.5" text-anchor="middle">tSNE-2</text>
<text x="0" y="0" font-size="10" transform="translate(151.9,33.2) scale(1,1.04)">AST</text>
<circle cx="159.8" cy="44.4" r="3.7" fill="#F8766D"/>
<text x="0" y="0" font-size="10" transform="translate(166.9,47.7) scale(1,1.04)">1</text>
<circle cx="159.8" cy="54.15" r="3.7" fill="#A3A500"/>
<text x="0" y="0" font-size="10" transform="translate(166.9,57.45) scale(1,1.04)">2</text>
<circle cx="159.8" cy="63.9" r="3.7" fill="#00BF7D"/>
<text x="0" y="0" font-size="10" transform="translate(166.9,67.2) scale(1,1.04)">3</text>
<circle cx="159.8" cy="73.65" r="3.7" fill="#00B0F6"/>
<text x="0" y="0" font-size="10" transform="translate(166.9,76.95) scale(1,1.04)">4</text>
<circle cx="159.8" cy="83.4" r="3.7" fill="#E76BF3"/>
<text x="0" y="0" font-size="10" transform="translate(166.9,86.7) scale(1,1.04)">5</text>
<g>
<path stroke="#00BFC4" stroke-width="1.15" d="M101.92 155.5h1.15M122.92 177.5h1.15M87.92 227.5h1.15M115.92 187.5h1.15M124.92 200.5h1.15M107.92 179.5h1.15M108.92 194.5h1.15M104.92 173.5h1.15M72.92 199.5h1.15M87.92 173.5h1.15M117.92 183.5h1.15M85.92 173.5h1.15M98.92 185.5h1.15M112.92 179.5h1.15M118.92 196.5h1.15M131.93 185.5h1.15M100.92 168.5h1.15M106.92 203.5h1.15M61.92 187.5h1.15M91.92 180.5h1.15M122.92 184.5h1.15M72.92 178.5h1.15M97.92 151.5h1.15M93.92 184.5h1.15M124.92 204.5h1.15M124.92 194.5h1.15M67.92 177.5h1.15M119.92 202.5h1.15M99.92 156.5h1.15M101.92 175.5h1.15M55.92 182.5h1.15M108.92 187.5h1.15M97.92 186.5h1.15M55.92 183.5h1.15M140.93 201.5h1.15M112.92 173.5h1.15M109.92 211.5h1.15M107.92 220.5h1.15M105.92 185.5h1.15M70.92 205.5h1.15M121.92 184.5h1.15M123.92 196.5h1.15M110.92 180.5h1.15M134.93 192.5h1.15M106.92 152.5h1.15M96.92 171.5h1.15M97.92 149.5h1.15M98.92 166.5h1.15M110.92 195.5h1.15M98.92 172.5h1.15M75.92 169.5h1.15M65.92 176.5h1.15M63.92 181.5h1.15M72.92 181.5h1.15M86.92 195.5h1.15M74.92 181.5h1.15M134.93 197.5h1.15M102.92 151.5h1.15M73.92 168.5h1.15M128.93 196.5h1.15M130.93 186.5h1.15M110.92 192.5h1.15M69.92 183.5h1.15M133.93 184.5h1.15M91.92 177.5h1.15M88.92 166.5h1.15M71.92 174.5h1.15M66.92 184.5h1.15M84.92 174.5h1.15M100.92 154.5h1.15M90.92 195.5h1.15M104.92 191.5h1.15M126.92 193.5h1.15M104.92 154.5h1.15M89.92 182.5h1.15M61.92 200.5h1.15M123.92 175.5h1.15M141.93 197.5h1.15M116.92 193.5h1.15M102.92 152.5h1.15M141.93 189.5h1.15M99.92 179.5h1.15M96.92 182.5h1.15M96.92 211.5h1.15M114.92 198.5h1.15M113.92 194.5h1.15M92.92 223.5h1.15M98.92 177.5h1.15M101.92 189.5h1.15M96.92 170.5h1.15M56.92 183.5h1.15M64.92 185.5h1.15M113.92 181.5h1.15M122.92 185.5h1.15M76.92 175.5h1.15M138.93 185.5h1.15M128.93 193.5h1.15M127.92 196.5h1.15M119.92 175.5h1.15M99.92 152.5h1.15M139.93 193.5h1.15M101.92 158.5h1.15M102.92 151.5h1.15M87.92 168.5h1.15M100.92 190.5h1.15M95.92 174.5h1.15M68.92 205.5h1.15M61.92 174.5h1.15M117.92 193.5h1.15M140.93 193.5h1.15M128.93 165.5h1.15M105.92 154.5h1.15M132.93 164.5h1.15M94.92 186.5h1.15M105.92 156.5h1.15M68.92 170.5h1.15M108.92 180.5h1.15M139.93 187.5h1.15M61.92 189.5h1.15M76.92 178.5h1.15M103.92 182.5h1.15M95.92 152.5h1.15M95.92 174.5h1.15M106.92 187.5h1.15M90.92 173.5h1.15M106.92 155.5h1.15M69.92 184.5h1.15M84.92 221.5h1.15M106.92 193.5h1.15M126.92 198.5h1.15M136.93 190.5h1.15M102.92 156.5h1.15M59.92 186.5h1.15M85.92 173.5h1.15M131.93 210.5h1.15M125.92 202.5h1.15M107.92 151.5h1.15M103.92 182.5h1.15M93.92 167.5h1.15M70.92 176.5h1.15M134.93 195.5h1.15M107.92 153.5h1.15M83.92 176.5h1.15M120.92 176.5h1.15M99.92 158.5h1.15M94.92 172.5h1.15M118.92 188.5h1.15M140.93 196.5h1.15M104.92 152.5h1.15M73.92 183.5h1.15M124.92 181.5h1.15M102.92 155.5h1.15M60.92 176.5h1.15M103.92 174.5h1.15M120.92 191.5h1.15M131.93 187.5h1.15M90.92 184.5h1.15M79.92 181.5h1.15M118.92 187.5h1.15M61.92 186.5h1.15M97.92 150.5h1.15M94.92 167.5h1.15M130.93 191.5h1.15M127.92 178.5h1.15M108.92 149.5h1.15M76.92 175.5h1.15M113.92 190.5h1.15M108.92 184.5h1.15M109.92 176.5h1.15M64.92 178.5h1.15M108.92 189.5h1.15M136.93 198.5h1.15M105.92 176.5h1.15M130.93 188.5h1.15M102.92 180.5h1.15M128.93 195.5h1.15M117.92 180.5h1.15M95.92 173.5h1.15M123.92 183.5h1.15M134.93 196.5h1.15M141.93 189.5h1.15M100.92 149.5h1.15M89.92 176.5h1.15M115.92 210.5h1.15M118.92 174.5h1.15M114.92 190.5h1.15M127.92 191.5h1.15M108.92 176.5h1.15M99.92 158.5h1.15M137.93 187.5h1.15M106.92 152.5h1.15M126.92 196.5h1.15M90.92 177.5h1.15M76.92 184.5h1.15M63.92 177.5h1.15M113.92 190.5h1.15M80.92 179.5h1.15M129.93 198.5h1.15M66.92 174.5h1.15M116.92 200.5h1.15M89.92 183.5h1.15M133.93 187.5h1.15M95.92 169.5h1.15M65.92 176.5h1.15M108.92 174.5h1.15M127.92 194.5h1.15M126.92 198.5h1.15M66.92 184.5h1.15M71.92 171.5h1.15M56.92 181.5h1.15M99.92 154.5h1.15M92.92 166.5h1.15M78.92 166.5h1.15M67.92 185.5h1.15M129.93 165.5h1.15M103.92 179.5h1.15M135.93 192.5h1.15M96.92 180.5h1.15M79.92 169.5h1.15M125.92 215.5h1.15M106.92 181.5h1.15M71.92 215.5h1.15M80.92 169.5h1.15M61.92 186.5h1.15M129.93 195.5h1.15M67.92 173.5h1.15M95.92 182.5h1.15M116.92 182.5h1.15M132.93 200.5h1.15M92.92 228.5h1.15M126.92 202.5h1.15M99.92 156.5h1.15M134.93 184.5h1.15M138.93 190.5h1.15M130.93 187.5h1.15M79.92 169.5h1.15M133.93 202.5h1.15M112.92 196.5h1.15M79.92 183.5h1.15M108.92 191.5h1.15M112.92 178.5h1.15M141.93 193.5h1.15M82.92 180.5h1.15M120.92 188.5h1.15M112.92 185.5h1.15M94.92 175.5h1.15M66.92 215.5h1.15M106.92 153.5h1.15M68.92 171.5h1.15M123.92 191.5h1.15M78.92 171.5h1.15M91.92 177.5h1.15M138.93 197.5h1.15M100.92 180.5h1.15M121.92 189.5h1.15M98.92 155.5h1.15M134.93 181.5h1.15M87.92 169.5h1.15M116.92 195.5h1.15M113.92 184.5h1.15M107.92 155.5h1.15M102.92 186.5h1.15M69.92 174.5h1.15M91.92 166.5h1.15M108.92 150.5h1.15M115.92 193.5h1.15M107.92 183.5h1.15M94.92 175.5h1.15M62.92 189.5h1.15M118.92 200.5h1.15M86.92 169.5h1.15M103.92 178.5h1.15M107.92 191.5h1.15M128.93 188.5h1.15M98.92 180.5h1.15M83.92 173.5h1.15M131.93 199.5h1.15M85.92 165.5h1.15M81.92 174.5h1.15M82.92 173.5h1.15M93.92 153.5h1.15M89.92 168.5h1.15M99.92 158.5h1.15M81.92 181.5h1.15M112.92 186.5h1.15M123.92 169.5h1.15M110.92 197.5h1.15M82.92 170.5h1.15M60.92 182.5h1.15M61.92 179.5h1.15M102.92 150.5h1.15M98.92 175.5h1.15M132.93 188.5h1.15M118.92 198.5h1.15M66.92 174.5h1.15M85.92 179.5h1.15M79.92 178.5h1.15M98.92 187.5h1.15M82.92 178.5h1.15M128.93 195.5h1.15M90.92 186.5h1.15M136.93 198.5h1.15M104.92 183.5h1.15M100.92 156.5h1.15M102.92 170.5h1.15M114.92 190.5h1.15M65.92 172.5h1.15M138.93 186.5h1.15M126.92 168.5h1.15M135.93 202.5h1.15M109.92 152.5h1.15M74.92 171.5h1.15M64.92 178.5h1.15M94.92 172.5h1.15M64.92 180.5h1.15M115.92 200.5h1.15M119.92 184.5h1.15M123.92 194.5h1.15M64.92 188.5h1.15M99.92 169.5h1.15M82.92 169.5h1.15M89.92 176.5h1.15M128.93 195.5h1.15M94.92 152.5h1.15M109.92 222.5h1.15M132.93 180.5h1.15M93.92 181.5h1.15M132.93 194.5h1.15M114.92 195.5h1.15M55.92 184.5h1.15M142.93 191.5h1.15M92.92 184.5h1.15M111.92 187.5h1.15M125.92 167.5h1.15M114.92 197.5h1.15M91.92 177.5h1.15M104.92 168.5h1.15M136.93 187.5h1.15M101.92 150.5h1.15M61.92 176.5h1.15M57.92 187.5h1.15M98.92 177.5h1.15M95.92 176.5h1.15M87.92 166.5h1.15M131.93 164.5h1.15M112.92 190.5h1.15M87.92 171.5h1.15M128.93 186.5h1.15M123.92 206.5h1.15M140.93 189.5h1.15M93.92 174.5h1.15M89.92 174.5h1.15M127.92 167.5h1.15M100.92 191.5h1.15M96.92 169.5h1.15M130.93 193.5h1.15M98.92 169.5h1.15M104.92 176.5h1.15M74.92 181.5h1.15M106.92 159.5h1.15M94.92 173.5h1.15M100.92 177.5h1.15M59.92 182.5h1.15M59.92 196.5h1.15M125.92 206.5h1.15M141.93 198.5h1.15M123.92 191.5h1.15M107.92 178.5h1.15M124.92 181.5h1.15M90.92 175.5h1.15M75.92 175.5h1.15M134.93 194.5h1.15M113.92 172.5h1.15M68.92 185.5h1.15M99.92 158.5h1.15M127.92 178.5h1.15M103.92 172.5h1.15M57.92 183.5h1.15M128.93 184.5h1.15M71.92 169.5h1.15M131.93 193.5h1.15M118.92 176.5h1.15M77.92 180.5h1.15M108.92 195.5h1.15M111.92 170.5h1.15M89.92 180.5h1.15M134.93 181.5h1.15M73.92 176.5h1.15M93.92 153.5h1.15M75.92 176.5h1.15M61.92 175.5h1.15M59.92 183.5h1.15M90.92 166.5h1.15M72.92 179.5h1.15M90.92 165.5h1.15M58.92 190.5h1.15M93.92 172.5h1.15M130.93 195.5h1.15M114.92 201.5h1.15M88.92 186.5h1.15M82.92 173.5h1.15M101.92 188.5h1.15M76.92 170.5h1.15M103.92 157.5h1.15M58.92 180.5h1.15M119.92 178.5h1.15M122.92 198.5h1.15M67.92 185.5h1.15M129.93 165.5h1.15M111.92 197.5h1.15M119.92 195.5h1.15M111.92 174.5h1.15M114.92 183.5h1.15M99.92 155.5h1.15M96.92 182.5h1.15M116.92 176.5h1.15M68.92 186.5h1.15M85.92 181.5h1.15M68.92 183.5h1.15M72.92 181.5h1.15M73.92 177.5h1.15M130.93 196.5h1.15M62.92 180.5h1.15M98.92 175.5h1.15M80.92 182.5h1.15M64.92 209.5h1.15M112.92 178.5h1.15M119.92 181.5h1.15M101.92 149.5h1.15M95.92 163.5h1.15M103.92 184.5h1.15M81.92 177.5h1.15M82.92 171.5h1.15M95.92 179.5h1.15M90.92 176.5h1.15M124.92 197.5h1.15M105.92 159.5h1.15M128.93 178.5h1.15M99.92 157.5h1.15M101.92 155.5h1.15M77.92 181.5h1.15M101.92 152.5h1.15M69.92 182.5h1.15M74.92 167.5h1.15M82.92 221.5h1.15M110.92 201.5h1.15M112.92 182.5h1.15M79.92 167.5h1.15M98.92 176.5h1.15M54.92 188.5h1.15M100.92 187.5h1.15M117.92 188.5h1.15M98.92 149.5h1.15M58.92 180.5h1.15M75.92 180.5h1.15M60.92 186.5h1.15M95.92 170.5h1.15M80.92 187.5h1.15M110.92 183.5h1.15M92.92 187.5h1.15M116.92 201.5h1.15M105.92 180.5h1.15M104.92 192.5h1.15M114.92 194.5h1.15M92.92 166.5h1.15M88.92 167.5h1.15M91.92 177.5h1.15M59.92 179.5h1.15M125.92 187.5h1.15M76.92 167.5h1.15M93.92 178.5h1.15M74.92 171.5h1.15M62.92 178.5h1.15M128.93 179.5h1.15M116.92 194.5h1.15M136.93 187.5h1.15M83.92 173.5h1.15M70.92 178.5h1.15M129.93 203.5h1.15M90.92 181.5h1.15M98.92 152.5h1.15M84.92 182.5h1.15M96.92 175.5h1.15M95.92 172.5h1.15M127.92 177.5h1.15M91.92 172.5h1.15M86.92 165.5h1.15M84.92 175.5h1.15M104.92 180.5h1.15M125.92 177.5h1.15M62.92 184.5h1.15M103.92 154.5h1.15M106.92 182.5h1.15M131.93 195.5h1.15M132.93 202.5h1.15M86.92 218.5h1.15M115.92 185.5h1.15M126.92 182.5h1.15M111.92 184.5h1.15M86.92 167.5h1.15M55.92 187.5h1.15M106.92 150.5h1.15M105.92 151.5h1.15M132.93 200.5h1.15M88.92 170.5h1.15M104.92 178.5h1.15M139.93 201.5h1.15M114.92 206.5h1.15M98.92 174.5h1.15M133.93 200.5h1.15M93.92 173.5h1.15M81.92 168.5h1.15M106.92 181.5h1.15M62.92 180.5h1.15M112.92 193.5h1.15M136.93 201.5h1.15M116.92 179.5h1.15M101.92 172.5h1.15M86.92 178.5h1.15M96.92 169.5h1.15M106.92 206.5h1.15M106.92 150.5h1.15M132.93 200.5h1.15M119.92 188.5h1.15M63.92 177.5h1.15M125.92 195.5h1.15M119.92 188.5h1.15M61.92 206.5h1.15M99.92 170.5h1.15M78.92 181.5h1.15M94.92 175.5h1.15M122.92 195.5h1.15M92.92 171.5h1.15M128.93 184.5h1.15M82.92 197.5h1.15M60.92 184.5h1.15M112.92 203.5h1.15M120.92 184.5h1.15M128.93 187.5h1.15M98.92 180.5h1.15M133.93 201.5h1.15M73.92 172.5h1.15M109.92 196.5h1.15M82.92 167.5h1.15M122.92 200.5h1.15M94.92 176.5h1.15M91.92 166.5h1.15M111.92 177.5h1.15M132.93 186.5h1.15M79.92 172.5h1.15M112.92 176.5h1.15M100.92 184.5h1.15M89.92 228.5h1.15M100.92 180.5h1.15M79.92 211.5h1.15M81.92 179.5h1.15M125.92 181.5h1.15M110.92 191.5h1.15M114.92 176.5h1.15M99.92 157.5h1.15M68.92 177.5h1.15M101.92 177.5h1.15M106.92 157.5h1.15M131.93 185.5h1.15M98.92 171.5h1.15M104.92 192.5h1.15M130.93 164.5h1.15M134.93 189.5h1.15M107.92 157.5h1.15M126.92 196.5h1.15M117.92 178.5h1.15M102.92 193.5h1.15M97.92 172.5h1.15M93.92 187.5h1.15M78.92 170.5h1.15M137.93 195.5h1.15M123.92 198.5h1.15M109.92 171.5h1.15M63.92 175.5h1.15M63.92 184.5h1.15M128.93 180.5h1.15M107.92 154.5h1.15M66.92 181.5h1.15M69.92 169.5h1.15M95.92 174.5h1.15M130.93 181.5h1.15M61.92 183.5h1.15M85.92 174.5h1.15M118.92 191.5h1.15M123.92 215.5h1.15M83.92 171.5h1.15M57.92 204.5h1.15M123.92 179.5h1.15M94.92 152.5h1.15M93.92 165.5h1.15M99.92 152.5h1.15M67.92 171.5h1.15M82.92 166.5h1.15M127.92 182.5h1.15M92.92 182.5h1.15M85.92 184.5h1.15M88.92 176.5h1.15M133.93 188.5h1.15M70.92 185.5h1.15M101.92 169.5h1.15M62.92 203.5h1.15M56.92 186.5h1.15M69.92 177.5h1.15M113.92 184.5h1.15M92.92 153.5h1.15M95.92 224.5h1.15M107.92 152.5h1.15M71.92 181.5h1.15M123.92 190.5h1.15M125.92 183.5h1.15M126.92 180.5h1.15M78.92 171.5h1.15M70.92 172.5h1.15M131.93 200.5h1.15M140.93 197.5h1.15M117.92 190.5h1.15M99.92 178.5h1.15M79.92 200.5h1.15M118.92 197.5h1.15M89.92 184.5h1.15M66.92 170.5h1.15M101.92 227.5h1.15M108.92 174.5h1.15M108.92 184.5h1.15M71.92 171.5h1.15M79.92 178.5h1.15M127.92 215.5h1.15M120.92 175.5h1.15M109.92 192.5h1.15M84.92 179.5h1.15M88.92 177.5h1.15M127.92 210.5h1.15M103.92 188.5h1.15M94.92 187.5h1.15M136.93 193.5h1.15M94.92 174.5h1.15M69.92 195.5h1.15M119.92 199.5h1.15M104.92 172.5h1.15M109.92 150.5h1.15M119.92 175.5h1.15M110.92 192.5h1.15M106.92 149.5h1.15M105.92 186.5h1.15M92.92 180.5h1.15M98.92 155.5h1.15M98.92 154.5h1.15M75.92 211.5h1.15M66.92 182.5h1.15M79.92 213.5h1.15M139.93 194.5h1.15M71.92 174.5h1.15M100.92 170.5h1.15M116.92 177.5h1.15M55.92 185.5h1.15M75.92 178.5h1.15M75.92 220.5h1.15M120.92 186.5h1.15M89.92 184.5h1.15M108.92 173.5h1.15M59.92 178.5h1.15M79.92 174.5h1.15M126.92 183.5h1.15M81.92 180.5h1.15M136.93 189.5h1.15M75.92 177.5h1.15M96.92 173.5h1.15M54.92 186.5h1.15M65.92 171.5h1.15M118.92 182.5h1.15M118.92 193.5h1.15M130.93 188.5h1.15M140.93 190.5h1.15M97.92 181.5h1.15M102.92 159.5h1.15M103.92 180.5h1.15M71.92 178.5h1.15M111.92 187.5h1.15M55.92 199.5h1.15M73.92 203.5h1.15M68.92 179.5h1.15M105.92 193.5h1.15M137.93 194.5h1.15M122.92 175.5h1.15M134.93 184.5h1.15M102.92 172.5h1.15M122.92 193.5h1.15M138.93 193.5h1.15M77.92 173.5h1.15M121.92 180.5h1.15M134.93 184.5h1.15M105.92 183.5h1.15M103.92 186.5h1.15M124.92 180.5h1.15M109.92 151.5h1.15M99.92 185.5h1.15M81.92 178.5h1.15M112.92 183.5h1.15M104.92 153.5h1.15M123.92 192.5h1.15M101.92 150.5h1.15M55.92 187.5h1.15M126.92 165.5h1.15M66.92 179.5h1.15M106.92 155.5h1.15M118.92 211.5h1.15M117.92 185.5h1.15M127.92 195.5h1.15M126.92 167.5h1.15M104.92 191.5h1.15M92.92 168.5h1.15M109.92 152.5h1.15M66.92 209.5h1.15M130.93 183.5h1.15M106.92 188.5h1.15M101.92 157.5h1.15M141.93 190.5h1.15M84.92 177.5h1.15M115.92 176.5h1.15M95.92 179.5h1.15M60.92 186.5h1.15M97.92 182.5h1.15M74.92 186.5h1.15M91.92 177.5h1.15M110.92 150.5h1.15M115.92 196.5h1.15M96.92 149.5h1.15M86.92 178.5h1.15M100.92 175.5h1.15M109.92 151.5h1.15M123.92 201.5h1.15M100.92 149.5h1.15M57.92 193.5h1.15M133.93 196.5h1.15M100.92 150.5h1.15M136.93 202.5h1.15M109.92 180.5h1.15M138.93 196.5h1.15M119.92 176.5h1.15M92.92 172.5h1.15M96.92 179.5h1.15M104.92 157.5h1.15M137.93 197.5h1.15M104.92 204.5h1.15M127.92 180.5h1.15M62.92 206.5h1.15M118.92 197.5h1.15M128.93 191.5h1.15M67.92 189.5h1.15M110.92 187.5h1.15M109.92 151.5h1.15M138.93 191.5h1.15M93.92 168.5h1.15M131.93 202.5h1.15M109.92 152.5h1.15M108.92 186.5h1.15M140.93 198.5h1.15M67.92 208.5h1.15M127.92 164.5h1.15M135.93 187.5h1.15M68.92 171.5h1.15M124.92 179.5h1.15M102.92 154.5h1.15M63.92 178.5h1.15M82.92 195.5h1.15M110.92 193.5h1.15M120.92 207.5h1.15M101.92 152.5h1.15M96.92 179.5h1.15M106.92 154.5h1.15M120.92 177.5h1.15M126.92 211.5h1.15M91.92 177.5h1.15M64.92 178.5h1.15M68.92 171.5h1.15M76.92 173.5h1.15M113.92 179.5h1.15M101.92 154.5h1.15M100.92 185.5h1.15M81.92 187.5h1.15M94.92 220.5h1.15M57.92 181.5h1.15M78.92 172.5h1.15M97.92 201.5h1.15M123.92 178.5h1.15M68.92 186.5h1.15M109.92 154.5h1.15M102.92 159.5h1.15M106.92 172.5h1.15M133.93 182.5h1.15M97.92 185.5h1.15M68.92 172.5h1.15M128.93 166.5h1.15M137.93 191.5h1.15M104.92 152.5h1.15M94.92 187.5h1.15M84.92 183.5h1.15M139.93 190.5h1.15M130.93 196.5h1.15M125.92 178.5h1.15M106.92 152.5h1.15M62.92 206.5h1.15M83.92 175.5h1.15M131.93 163.5h1.15M118.92 177.5h1.15M119.92 186.5h1.15M104.92 159.5h1.15M55.92 197.5h1.15M97.92 167.5h1.15M63.92 189.5h1.15M123.92 210.5h1.15M107.92 180.5h1.15M70.92 216.5h1.15M117.92 189.5h1.15M123.92 183.5h1.15M118.92 188.5h1.15M79.92 178.5h1.15M102.92 186.5h1.15M86.92 178.5h1.15M135.93 194.5h1.15M72.92 177.5h1.15M54.92 190.5h1.15M75.92 172.5h1.15M75.92 168.5h1.15M81.92 176.5h1.15M121.92 202.5h1.15M97.92 152.5h1.15M98.92 181.5h1.15M109.92 182.5h1.15M106.92 154.5h1.15M93.92 204.5h1.15M103.92 154.5h1.15M78.92 182.5h1.15M133.93 192.5h1.15M117.92 189.5h1.15M105.92 181.5h1.15M123.92 197.5h1.15M61.92 184.5h1.15M69.92 171.5h1.15M103.92 151.5h1.15M91.92 169.5h1.15M124.92 195.5h1.15M136.93 196.5h1.15M142.93 191.5h1.15M74.92 199.5h1.15M116.92 195.5h1.15M88.92 179.5h1.15M119.92 182.5h1.15M90.92 174.5h1.15M134.93 191.5h1.15M87.92 167.5h1.15M104.92 153.5h1.15M100.92 154.5h1.15M90.92 180.5h1.15M55.92 186.5h1.15M72.92 172.5h1.15M92.92 168.5h1.15M99.92 191.5h1.15M113.92 171.5h1.15M129.93 183.5h1.15M137.93 190.5h1.15M123.92 185.5h1.15M75.92 188.5h1.15M94.92 153.5h1.15M104.92 189.5h1.15M95.92 178.5h1.15M126.92 184.5h1.15M125.92 205.5h1.15"/>
<path stroke="#F8766D" stroke-width="1.15" d="M108.92 211.5h1.15M100.92 154.5h1.15M122.92 216.5h1.15M123.92 214.5h1.15M74.92 210.5h1.15M100.92 219.5h1.15M91.92 192.5h1.15M75.92 198.5h1.15M127.92 165.5h1.15M134.93 209.5h1.15M64.92 195.5h1.15M81.92 202.5h1.15M82.92 196.5h1.15M62.92 207.5h1.15M83.92 209.5h1.15M76.92 216.5h1.15M83.92 208.5h1.15M94.92 186.5h1.15M81.92 215.5h1.15M69.92 204.5h1.15M64.92 194.5h1.15M65.92 201.5h1.15M124.92 204.5h1.15M70.92 187.5h1.15M94.92 198.5h1.15M101.92 227.5h1.15M100.92 204.5h1.15M93.92 227.5h1.15M128.93 167.5h1.15M59.92 201.5h1.15M126.92 212.5h1.15M72.92 219.5h1.15M81.92 191.5h1.15M86.92 201.5h1.15M69.92 188.5h1.15M72.92 208.5h1.15M88.92 219.5h1.15M58.92 206.5h1.15M84.92 221.5h1.15M93.92 213.5h1.15M93.92 184.5h1.15M79.92 218.5h1.15M68.92 202.5h1.15M124.92 213.5h1.15M129.93 207.5h1.15M66.92 192.5h1.15M89.92 201.5h1.15M127.92 206.5h1.15M127.92 212.5h1.15M91.92 198.5h1.15M102.92 226.5h1.15M88.92 189.5h1.15M104.92 194.5h1.15M131.93 208.5h1.15M69.92 186.5h1.15M75.92 210.5h1.15M51.92 188.5h1.15M70.92 200.5h1.15M64.92 212.5h1.15M85.92 189.5h1.15M86.92 194.5h1.15M63.92 197.5h1.15M72.92 186.5h1.15M72.92 194.5h1.15M104.92 228.5h1.15M74.92 205.5h1.15M89.92 217.5h1.15M79.92 208.5h1.15M90.92 192.5h1.15M123.92 216.5h1.15M69.92 199.5h1.15M106.92 202.5h1.15M75.92 198.5h1.15M102.92 225.5h1.15M101.92 200.5h1.15M65.92 202.5h1.15M86.92 184.5h1.15M83.92 187.5h1.15M76.92 194.5h1.15M54.92 191.5h1.15M74.92 221.5h1.15M66.92 216.5h1.15M70.92 189.5h1.15M95.92 190.5h1.15M136.93 205.5h1.15M93.92 212.5h1.15M57.92 202.5h1.15M93.92 215.5h1.15M84.92 211.5h1.15M134.93 209.5h1.15M100.92 203.5h1.15M83.92 214.5h1.15M118.92 209.5h1.15M77.92 191.5h1.15M90.92 202.5h1.15M58.92 186.5h1.15M92.92 190.5h1.15M78.92 202.5h1.15M77.92 203.5h1.15M133.93 204.5h1.15M63.92 212.5h1.15M87.92 196.5h1.15M98.92 216.5h1.15M66.92 201.5h1.15M72.92 215.5h1.15M73.92 197.5h1.15M130.93 204.5h1.15M79.92 213.5h1.15M138.93 206.5h1.15M104.92 223.5h1.15M105.92 208.5h1.15M133.93 203.5h1.15M102.92 187.5h1.15M88.92 227.5h1.15M63.92 192.5h1.15M116.92 207.5h1.15M137.93 206.5h1.15M98.92 222.5h1.15M102.92 207.5h1.15M89.92 189.5h1.15M92.92 216.5h1.15M76.92 200.5h1.15M89.92 209.5h1.15M72.92 207.5h1.15M80.92 217.5h1.15M103.92 213.5h1.15M87.92 215.5h1.15M127.92 213.5h1.15M88.92 200.5h1.15M76.92 217.5h1.15M55.92 188.5h1.15M123.92 211.5h1.15M128.93 166.5h1.15M87.92 216.5h1.15M137.93 205.5h1.15M128.93 167.5h1.15M103.92 218.5h1.15M99.92 224.5h1.15M112.92 170.5h1.15M125.92 215.5h1.15M79.92 188.5h1.15M109.92 181.5h1.15M90.92 199.5h1.15M62.92 212.5h1.15M108.92 206.5h1.15M106.92 209.5h1.15M71.92 189.5h1.15M80.92 216.5h1.15M67.92 192.5h1.15M68.92 201.5h1.15M90.92 193.5h1.15M100.92 218.5h1.15M95.92 187.5h1.15M124.92 169.5h1.15M87.92 201.5h1.15M60.92 210.5h1.15M113.92 221.5h1.15M102.92 221.5h1.15M119.92 209.5h1.15M115.92 208.5h1.15M55.92 202.5h1.15M90.92 222.5h1.15M104.92 220.5h1.15M69.92 201.5h1.15M96.92 195.5h1.15M65.92 198.5h1.15M114.92 198.5h1.15M119.92 206.5h1.15M132.93 204.5h1.15M86.92 215.5h1.15M58.92 204.5h1.15M86.92 194.5h1.15M92.92 210.5h1.15M123.92 210.5h1.15M67.92 198.5h1.15M61.92 210.5h1.15M76.92 197.5h1.15M122.92 207.5h1.15M94.92 188.5h1.15M57.92 195.5h1.15M81.92 219.5h1.15M93.92 204.5h1.15M107.92 208.5h1.15M73.92 199.5h1.15M85.92 204.5h1.15M113.92 201.5h1.15M113.92 205.5h1.15M92.92 199.5h1.15M126.92 207.5h1.15M94.92 205.5h1.15M96.92 189.5h1.15M64.92 213.5h1.15M119.92 208.5h1.15M67.92 214.5h1.15M69.92 195.5h1.15M99.92 201.5h1.15M112.92 217.5h1.15M60.92 209.5h1.15M138.93 197.5h1.15M123.92 203.5h1.15M126.92 196.5h1.15M81.92 171.5h1.15M81.92 201.5h1.15M78.92 192.5h1.15M107.92 197.5h1.15M127.92 168.5h1.15M98.92 201.5h1.15M71.92 208.5h1.15M64.92 196.5h1.15M69.92 201.5h1.15M72.92 184.5h1.15M71.92 200.5h1.15M73.92 216.5h1.15M63.92 190.5h1.15M92.92 196.5h1.15M83.92 210.5h1.15M88.92 204.5h1.15M89.92 171.5h1.15M103.92 214.5h1.15M102.92 208.5h1.15M65.92 196.5h1.15M129.93 204.5h1.15M80.92 215.5h1.15M64.92 205.5h1.15M70.92 202.5h1.15M118.92 182.5h1.15M93.92 209.5h1.15M83.92 220.5h1.15M86.92 226.5h1.15M104.92 192.5h1.15M96.92 213.5h1.15M73.92 213.5h1.15M104.92 215.5h1.15M89.92 192.5h1.15M71.92 211.5h1.15M65.92 175.5h1.15M74.92 211.5h1.15M116.92 211.5h1.15M115.92 209.5h1.15M97.92 190.5h1.15M94.92 220.5h1.15M104.92 197.5h1.15M65.92 208.5h1.15M103.92 225.5h1.15M66.92 181.5h1.15M81.92 224.5h1.15M85.92 187.5h1.15M90.92 206.5h1.15M126.92 211.5h1.15M89.92 182.5h1.15M84.92 208.5h1.15M109.92 220.5h1.15M72.92 202.5h1.15M96.92 191.5h1.15M71.92 214.5h1.15M84.92 193.5h1.15M125.92 168.5h1.15M90.92 223.5h1.15M127.92 166.5h1.15M65.92 199.5h1.15M77.92 192.5h1.15M60.92 205.5h1.15M58.92 192.5h1.15M90.92 197.5h1.15M90.92 204.5h1.15M69.92 211.5h1.15M85.92 192.5h1.15M66.92 216.5h1.15M62.92 210.5h1.15M103.92 211.5h1.15M101.92 191.5h1.15M111.92 171.5h1.15M101.92 213.5h1.15M63.92 204.5h1.15M69.92 206.5h1.15M113.92 198.5h1.15M105.92 193.5h1.15M100.92 219.5h1.15M117.92 204.5h1.15M133.93 212.5h1.15M99.92 227.5h1.15M121.92 193.5h1.15M82.92 218.5h1.15M71.92 191.5h1.15M87.92 192.5h1.15M110.92 151.5h1.15M99.92 211.5h1.15M99.92 217.5h1.15M85.92 207.5h1.15M66.92 216.5h1.15M81.92 204.5h1.15M91.92 189.5h1.15M83.92 216.5h1.15M87.92 189.5h1.15M121.92 214.5h1.15M95.92 198.5h1.15M64.92 214.5h1.15M99.92 219.5h1.15M78.92 220.5h1.15M57.92 190.5h1.15M68.92 211.5h1.15M104.92 212.5h1.15M117.92 213.5h1.15M96.92 210.5h1.15M110.92 202.5h1.15M136.93 204.5h1.15M132.93 202.5h1.15M117.92 185.5h1.15M91.92 189.5h1.15M99.92 230.5h1.15M86.92 178.5h1.15M61.92 203.5h1.15M127.92 166.5h1.15M123.92 209.5h1.15M85.92 201.5h1.15M114.92 216.5h1.15M106.92 219.5h1.15M97.92 189.5h1.15M76.92 206.5h1.15M97.92 188.5h1.15M63.92 197.5h1.15M108.92 208.5h1.15M105.92 217.5h1.15M100.92 213.5h1.15M96.92 187.5h1.15M72.92 211.5h1.15M61.92 194.5h1.15M86.92 193.5h1.15M112.92 219.5h1.15M77.92 195.5h1.15M66.92 191.5h1.15M65.92 197.5h1.15M90.92 203.5h1.15M83.92 207.5h1.15M96.92 202.5h1.15M76.92 206.5h1.15M102.92 150.5h1.15M105.92 192.5h1.15M93.92 203.5h1.15M71.92 197.5h1.15M90.92 191.5h1.15M124.92 164.5h1.15M128.93 217.5h1.15M109.92 209.5h1.15M67.92 188.5h1.15M127.92 208.5h1.15M72.92 206.5h1.15M98.92 230.5h1.15M89.92 224.5h1.15M73.92 189.5h1.15M98.92 194.5h1.15M83.92 207.5h1.15M83.92 218.5h1.15M116.92 201.5h1.15M79.92 191.5h1.15M91.92 193.5h1.15M83.92 195.5h1.15M79.92 205.5h1.15M87.92 222.5h1.15M92.92 189.5h1.15M112.92 212.5h1.15M65.92 214.5h1.15M85.92 187.5h1.15M60.92 203.5h1.15M70.92 190.5h1.15M70.92 176.5h1.15M91.92 202.5h1.15M62.92 211.5h1.15M94.92 197.5h1.15M81.92 196.5h1.15M69.92 215.5h1.15M79.92 214.5h1.15M132.93 186.5h1.15M68.92 215.5h1.15M92.92 196.5h1.15M80.92 202.5h1.15M64.92 188.5h1.15M70.92 204.5h1.15M79.92 186.5h1.15M108.92 199.5h1.15M91.92 202.5h1.15M117.92 204.5h1.15M112.92 219.5h1.15M127.92 213.5h1.15M125.92 197.5h1.15M90.92 197.5h1.15M79.92 200.5h1.15M69.92 202.5h1.15M73.92 193.5h1.15M82.92 221.5h1.15M88.92 201.5h1.15M97.92 204.5h1.15M82.92 204.5h1.15M95.92 194.5h1.15M68.92 200.5h1.15M91.92 206.5h1.15M75.92 201.5h1.15M85.92 197.5h1.15M95.92 216.5h1.15M123.92 204.5h1.15M93.92 216.5h1.15M99.92 200.5h1.15M107.92 156.5h1.15M68.92 193.5h1.15M91.92 199.5h1.15M97.92 218.5h1.15M88.92 227.5h1.15M72.92 191.5h1.15M125.92 217.5h1.15M130.93 200.5h1.15M132.93 164.5h1.15M111.92 218.5h1.15M89.92 227.5h1.15M113.92 221.5h1.15M76.92 218.5h1.15M66.92 191.5h1.15M67.92 213.5h1.15M66.92 198.5h1.15M72.92 186.5h1.15M54.92 195.5h1.15M90.92 220.5h1.15M81.92 180.5h1.15M113.92 209.5h1.15M66.92 214.5h1.15M106.92 188.5h1.15M110.92 219.5h1.15M84.92 208.5h1.15M82.92 185.5h1.15M84.92 186.5h1.15M95.92 220.5h1.15M105.92 212.5h1.15M102.92 217.5h1.15M71.92 202.5h1.15M101.92 217.5h1.15M98.92 191.5h1.15M125.92 169.5h1.15M113.92 218.5h1.15M91.92 221.5h1.15M109.92 208.5h1.15M75.92 186.5h1.15M101.92 226.5h1.15M125.92 212.5h1.15M96.92 194.5h1.15M60.92 206.5h1.15M121.92 204.5h1.15M85.92 199.5h1.15M109.92 210.5h1.15M97.92 197.5h1.15M81.92 222.5h1.15M76.92 191.5h1.15M135.93 201.5h1.15M83.92 188.5h1.15M99.92 205.5h1.15M80.92 195.5h1.15M91.92 198.5h1.15M141.93 188.5h1.15M96.92 224.5h1.15M67.92 192.5h1.15M76.92 219.5h1.15M139.93 204.5h1.15M111.92 198.5h1.15M117.92 204.5h1.15M76.92 199.5h1.15M89.92 204.5h1.15M93.92 217.5h1.15M99.92 201.5h1.15M88.92 212.5h1.15M108.92 210.5h1.15M88.92 213.5h1.15M63.92 195.5h1.15M59.92 196.5h1.15M94.92 198.5h1.15M131.93 164.5h1.15M129.93 166.5h1.15M134.93 212.5h1.15M92.92 221.5h1.15M75.92 217.5h1.15M71.92 186.5h1.15M104.92 226.5h1.15M81.92 207.5h1.15M104.92 207.5h1.15M101.92 209.5h1.15M68.92 187.5h1.15M136.93 206.5h1.15M75.92 199.5h1.15M61.92 195.5h1.15M59.92 193.5h1.15M109.92 225.5h1.15M103.92 212.5h1.15M103.92 210.5h1.15M106.92 221.5h1.15M127.92 209.5h1.15M88.92 198.5h1.15M75.92 193.5h1.15M106.92 157.5h1.15M101.92 215.5h1.15M111.92 186.5h1.15M69.92 194.5h1.15M66.92 198.5h1.15M92.92 186.5h1.15M96.92 209.5h1.15M76.92 213.5h1.15M92.92 214.5h1.15M102.92 214.5h1.15M102.92 214.5h1.15M127.92 167.5h1.15M84.92 189.5h1.15M127.92 166.5h1.15M137.93 208.5h1.15M105.92 195.5h1.15M103.92 214.5h1.15M63.92 206.5h1.15M75.92 189.5h1.15M107.92 220.5h1.15M79.92 185.5h1.15M57.92 190.5h1.15M93.92 217.5h1.15M66.92 203.5h1.15M82.92 186.5h1.15M95.92 205.5h1.15M93.92 214.5h1.15M73.92 204.5h1.15M65.92 194.5h1.15M90.92 209.5h1.15M128.93 214.5h1.15M69.92 195.5h1.15M88.92 178.5h1.15M61.92 206.5h1.15M103.92 212.5h1.15M67.92 176.5h1.15M54.92 206.5h1.15M136.93 190.5h1.15M102.92 215.5h1.15M119.92 190.5h1.15M138.93 208.5h1.15M70.92 215.5h1.15M132.93 212.5h1.15M127.92 202.5h1.15M82.92 202.5h1.15M102.92 208.5h1.15M70.92 218.5h1.15M84.92 217.5h1.15M75.92 173.5h1.15M86.92 210.5h1.15M86.92 210.5h1.15M96.92 190.5h1.15M115.92 204.5h1.15M94.92 199.5h1.15M131.93 201.5h1.15M59.92 192.5h1.15M56.92 195.5h1.15M114.92 201.5h1.15M62.92 202.5h1.15M66.92 215.5h1.15M84.92 200.5h1.15M74.92 210.5h1.15M80.92 210.5h1.15M99.92 203.5h1.15M130.93 209.5h1.15M135.93 201.5h1.15M116.92 213.5h1.15M72.92 179.5h1.15M139.93 205.5h1.15M113.92 215.5h1.15M129.93 213.5h1.15M72.92 202.5h1.15M58.92 186.5h1.15M72.92 202.5h1.15M91.92 224.5h1.15M90.92 226.5h1.15M97.92 221.5h1.15M68.92 186.5h1.15M77.92 199.5h1.15M77.92 199.5h1.15M123.92 206.5h1.15M86.92 206.5h1.15M97.92 223.5h1.15M108.92 226.5h1.15M81.92 213.5h1.15M104.92 204.5h1.15M77.92 184.5h1.15M57.92 189.5h1.15M135.93 212.5h1.15M103.92 205.5h1.15M101.92 158.5h1.15M108.92 197.5h1.15M101.92 191.5h1.15M133.93 188.5h1.15M60.92 194.5h1.15M96.92 206.5h1.15M78.92 185.5h1.15M64.92 214.5h1.15M56.92 202.5h1.15M93.92 201.5h1.15M109.92 222.5h1.15M111.92 196.5h1.15M110.92 202.5h1.15M79.92 211.5h1.15M93.92 189.5h1.15M79.92 210.5h1.15M96.92 195.5h1.15M71.92 195.5h1.15M127.92 166.5h1.15M97.92 222.5h1.15M110.92 226.5h1.15M79.92 214.5h1.15M82.92 192.5h1.15M67.92 209.5h1.15M75.92 195.5h1.15M120.92 180.5h1.15M81.92 185.5h1.15M88.92 185.5h1.15M60.92 205.5h1.15M75.92 187.5h1.15M72.92 218.5h1.15M88.92 199.5h1.15M87.92 176.5h1.15M69.92 203.5h1.15M92.92 185.5h1.15M134.93 186.5h1.15M87.92 197.5h1.15M64.92 214.5h1.15M101.92 204.5h1.15M96.92 221.5h1.15M76.92 199.5h1.15M100.92 195.5h1.15M116.92 195.5h1.15M119.92 207.5h1.15M72.92 206.5h1.15M123.92 213.5h1.15M126.92 206.5h1.15M103.92 200.5h1.15M129.93 213.5h1.15M132.93 207.5h1.15M110.92 191.5h1.15M91.92 209.5h1.15M85.92 212.5h1.15M78.92 212.5h1.15M58.92 197.5h1.15M83.92 204.5h1.15M110.92 195.5h1.15M113.92 200.5h1.15M71.92 184.5h1.15M69.92 188.5h1.15M79.92 211.5h1.15M127.92 206.5h1.15M81.92 204.5h1.15M68.92 193.5h1.15M90.92 223.5h1.15M83.92 197.5h1.15M122.92 203.5h1.15M65.92 198.5h1.15M76.92 217.5h1.15M68.92 192.5h1.15M103.92 206.5h1.15M131.93 163.5h1.15M78.92 204.5h1.15M85.92 204.5h1.15M58.92 204.5h1.15M94.92 205.5h1.15M69.92 199.5h1.15M93.92 180.5h1.15M73.92 218.5h1.15M92.92 220.5h1.15M74.92 190.5h1.15M105.92 224.5h1.15M64.92 214.5h1.15M115.92 209.5h1.15M96.92 195.5h1.15M69.92 218.5h1.15M126.92 216.5h1.15M107.92 219.5h1.15M102.92 217.5h1.15M109.92 225.5h1.15M113.92 214.5h1.15M74.92 208.5h1.15M74.92 215.5h1.15M95.92 166.5h1.15M71.92 199.5h1.15M71.92 193.5h1.15M87.92 187.5h1.15M57.92 198.5h1.15M68.92 202.5h1.15M71.92 209.5h1.15M130.93 167.5h1.15M70.92 187.5h1.15M106.92 205.5h1.15M96.92 212.5h1.15M62.92 187.5h1.15M108.92 210.5h1.15M78.92 200.5h1.15M75.92 220.5h1.15M70.92 196.5h1.15M80.92 224.5h1.15M82.92 190.5h1.15M136.93 209.5h1.15M64.92 202.5h1.15M94.92 208.5h1.15M125.92 169.5h1.15M125.92 208.5h1.15M69.92 191.5h1.15M59.92 201.5h1.15M75.92 213.5h1.15M110.92 220.5h1.15M89.92 216.5h1.15M71.92 220.5h1.15M79.92 195.5h1.15M109.92 213.5h1.15M101.92 191.5h1.15M105.92 203.5h1.15M93.92 189.5h1.15M62.92 199.5h1.15M130.93 166.5h1.15M95.92 214.5h1.15M134.93 205.5h1.15M71.92 183.5h1.15M69.92 200.5h1.15M94.92 216.5h1.15M97.92 219.5h1.15M110.92 208.5h1.15M84.92 206.5h1.15M58.92 197.5h1.15M100.92 153.5h1.15M89.92 192.5h1.15M80.92 189.5h1.15M97.92 194.5h1.15M86.92 223.5h1.15M85.92 198.5h1.15M92.92 165.5h1.15M81.92 214.5h1.15M90.92 228.5h1.15M68.92 211.5h1.15M99.92 206.5h1.15M84.92 207.5h1.15M72.92 189.5h1.15M102.92 215.5h1.15M129.93 212.5h1.15M112.92 204.5h1.15M76.92 212.5h1.15M85.92 199.5h1.15M65.92 208.5h1.15M102.92 194.5h1.15M129.93 166.5h1.15M108.92 208.5h1.15M57.92 199.5h1.15M76.92 190.5h1.15M121.92 208.5h1.15M94.92 223.5h1.15M88.92 217.5h1.15M103.92 149.5h1.15M88.92 220.5h1.15M77.92 186.5h1.15M79.92 217.5h1.15M135.93 212.5h1.15M87.92 208.5h1.15M103.92 226.5h1.15M59.92 203.5h1.15M65.92 213.5h1.15M85.92 184.5h1.15M132.93 208.5h1.15M91.92 208.5h1.15M66.92 191.5h1.15M58.92 206.5h1.15M93.92 204.5h1.15M77.92 223.5h1.15M81.92 203.5h1.15M87.92 224.5h1.15M82.92 211.5h1.15M99.92 201.5h1.15M77.92 217.5h1.15M87.92 217.5h1.15M134.93 203.5h1.15M96.92 213.5h1.15M128.93 210.5h1.15M125.92 210.5h1.15M110.92 201.5h1.15M98.92 224.5h1.15M57.92 198.5h1.15M82.92 176.5h1.15M77.92 217.5h1.15M58.92 206.5h1.15M73.92 204.5h1.15M67.92 203.5h1.15M112.92 203.5h1.15M82.92 219.5h1.15M106.92 225.5h1.15M99.92 209.5h1.15M58.92 194.5h1.15M117.92 212.5h1.15M56.92 192.5h1.15M70.92 203.5h1.15M86.92 181.5h1.15M96.92 227.5h1.15M95.92 189.5h1.15M81.92 192.5h1.15M87.92 226.5h1.15M95.92 203.5h1.15M128.93 163.5h1.15M62.92 198.5h1.15M56.92 203.5h1.15M126.92 208.5h1.15M118.92 209.5h1.15M105.92 205.5h1.15M111.92 204.5h1.15M93.92 215.5h1.15M79.92 206.5h1.15M101.92 206.5h1.15M125.92 204.5h1.15M101.92 228.5h1.15M111.92 210.5h1.15M88.92 208.5h1.15M69.92 199.5h1.15M94.92 208.5h1.15M112.92 214.5h1.15M77.92 223.5h1.15M89.92 209.5h1.15M73.92 198.5h1.15M109.92 220.5h1.15M64.92 197.5h1.15M85.92 212.5h1.15M84.92 216.5h1.15M124.92 183.5h1.15M89.92 194.5h1.15M107.92 193.5h1.15M75.92 202.5h1.15M99.92 192.5h1.15M87.92 184.5h1.15M94.92 198.5h1.15M121.92 208.5h1.15M66.92 214.5h1.15M134.93 211.5h1.15M109.92 219.5h1.15M78.92 221.5h1.15M102.92 202.5h1.15M126.92 166.5h1.15M84.92 212.5h1.15M130.93 165.5h1.15M73.92 191.5h1.15M63.92 207.5h1.15M84.92 210.5h1.15M85.92 211.5h1.15M80.92 194.5h1.15M75.92 212.5h1.15M110.92 198.5h1.15M103.92 224.5h1.15M91.92 223.5h1.15M89.92 199.5h1.15M101.92 221.5h1.15M106.92 228.5h1.15M110.92 215.5h1.15M116.92 207.5h1.15M109.92 195.5h1.15M85.92 197.5h1.15M109.92 206.5h1.15M95.92 192.5h1.15M140.93 194.5h1.15M96.92 218.5h1.15M99.92 211.5h1.15M101.92 190.5h1.15M99.92 202.5h1.15M66.92 207.5h1.15M127.92 206.5h1.15M57.92 185.5h1.15M73.92 206.5h1.15M102.92 214.5h1.15M85.92 216.5h1.15M76.92 212.5h1.15M106.92 210.5h1.15M85.92 189.5h1.15M84.92 191.5h1.15M96.92 220.5h1.15M108.92 223.5h1.15M92.92 192.5h1.15M128.93 203.5h1.15M91.92 209.5h1.15M84.92 210.5h1.15M127.92 167.5h1.15M84.92 224.5h1.15M64.92 209.5h1.15M103.92 215.5h1.15M76.92 208.5h1.15M133.93 208.5h1.15M105.92 197.5h1.15M75.92 186.5h1.15M65.92 215.5h1.15M114.92 199.5h1.15M116.92 201.5h1.15M105.92 201.5h1.15M97.92 192.5h1.15M63.92 194.5h1.15M130.93 171.5h1.15M80.92 213.5h1.15M76.92 201.5h1.15M88.92 211.5h1.15M66.92 216.5h1.15M75.92 199.5h1.15M82.92 195.5h1.15M97.92 229.5h1.15M94.92 218.5h1.15M73.92 186.5h1.15M130.93 202.5h1.15M87.92 221.5h1.15M76.92 197.5h1.15M87.92 195.5h1.15M109.92 185.5h1.15M99.92 197.5h1.15M104.92 227.5h1.15M84.92 208.5h1.15M88.92 198.5h1.15M109.92 223.5h1.15M61.92 205.5h1.15M113.92 207.5h1.15M70.92 197.5h1.15M108.92 220.5h1.15M110.92 194.5h1.15M82.92 189.5h1.15M103.92 209.5h1.15M121.92 207.5h1.15M93.92 220.5h1.15M97.92 220.5h1.15M60.92 189.5h1.15M81.92 198.5h1.15M109.92 199.5h1.15M80.92 206.5h1.15M99.92 205.5h1.15M67.92 190.5h1.15M58.92 196.5h1.15M90.92 219.5h1.15M97.92 206.5h1.15M70.92 206.5h1.15M114.92 204.5h1.15M89.92 207.5h1.15M100.92 206.5h1.15M78.92 197.5h1.15M128.93 167.5h1.15M80.92 204.5h1.15M106.92 227.5h1.15M106.92 201.5h1.15M95.92 223.5h1.15M134.93 206.5h1.15M75.92 215.5h1.15M91.92 221.5h1.15M91.92 212.5h1.15M80.92 198.5h1.15M104.92 203.5h1.15M103.92 218.5h1.15M62.92 195.5h1.15M90.92 206.5h1.15M72.92 181.5h1.15M95.92 221.5h1.15M112.92 209.5h1.15M99.92 222.5h1.15M61.92 197.5h1.15M117.92 212.5h1.15M87.92 186.5h1.15M57.92 190.5h1.15M94.92 227.5h1.15M134.93 205.5h1.15M104.92 208.5h1.15M73.92 186.5h1.15M66.92 194.5h1.15M128.93 216.5h1.15M87.92 212.5h1.15M92.92 222.5h1.15"/>
</g>
<rect x="48.2" y="146.3" width="99.2" height="88.5" fill="none" stroke="#4d4d4d" stroke-width="0.9"/>
<line x1="46.2" y1="150.8" x2="48.2" y2="150.8" stroke="#4d4d4d" stroke-width="0.9"/>
<text x="42.2" y="154.1" font-size="9.6" text-anchor="end">100</text>
<line x1="46.2" y1="172.8" x2="48.2" y2="172.8" stroke="#4d4d4d" stroke-width="0.9"/>
<text x="42.2" y="176.1" font-size="9.6" text-anchor="end">50</text>
<line x1="46.2" y1="194.9" x2="48.2" y2="194.9" stroke="#4d4d4d" stroke-width="0.9"/>
<text x="42.2" y="198.2" font-size="9.6" text-anchor="end">0</text>
<line x1="46.2" y1="217" x2="48.2" y2="217" stroke="#4d4d4d" stroke-width="0.9"/>
<text x="42.2" y="220.3" font-size="9.6" text-anchor="end">−50</text>
<line x1="72.4" y1="234.8" x2="72.4" y2="236.8" stroke="#4d4d4d" stroke-width="0.9"/>
<text x="72.4" y="248.4" font-size="9.6" text-anchor="middle">−40</text>
<line x1="97.8" y1="234.8" x2="97.8" y2="236.8" stroke="#4d4d4d" stroke-width="0.9"/>
<text x="97.8" y="248.4" font-size="9.6" text-anchor="middle">0</text>
<line x1="123.4" y1="234.8" x2="123.4" y2="236.8" stroke="#4d4d4d" stroke-width="0.9"/>
<text x="123.4" y="248.4" font-size="9.6" text-anchor="middle">40</text>
<text x="0" y="0" font-size="9.5" text-anchor="middle" transform="translate(97,261.4) scale(1,1.07)">tSNE-1</text>
<text transform="translate(20.4,191.1) rotate(-90) scale(1,1.07)" font-size="9.5" text-anchor="middle">tSNE-2</text>
<text x="0" y="0" font-size="10" transform="translate(152.9,177.6) scale(1,1.04)">Region</text>
<circle cx="160" cy="190.4" r="3.7" fill="#F8766D"/>
<text x="0" y="0" font-size="10" transform="translate(167.4,193.8) scale(1,1.04)">CX</text>
<circle cx="160" cy="199.7" r="3.7" fill="#00BFC4"/>
<text x="0" y="0" font-size="10" transform="translate(167.4,203.1) scale(1,1.04)">HP</text>
<text x="0.6" y="18.6" font-size="14.5" font-weight="bold">a</text>
<text x="0.6" y="149.7" font-size="14.5" font-weight="bold">c</text>
<text x="212.6" y="18.8" font-size="14.5" font-weight="bold">b</text>
<text x="-0.2" y="284.6" font-size="14.5" font-weight="bold">d</text>
<g shape-rendering="crispEdges">
<g transform="translate(0,24)" class="h0">
<rect x="253.8" width="0.2" fill="#241d1d"/>
<rect x="254" fill="#3b1d34"/>
<rect x="255" fill="#791a76"/>
<rect x="256" fill="#552b40"/>
<rect x="257" fill="#3f2134"/>
<rect x="258" fill="#301d29"/>
<rect x="259" fill="#471c40"/>
<rect x="260" fill="#551c4f"/>
<rect x="261" fill="#3c2032"/>
<rect x="262" fill="#321e2b"/>
<rect x="263" fill="#5e1b59"/>
<rect x="264" fill="#5a1c54"/>
<rect x="265" fill="#321632"/>
<rect x="266" fill="#2f172e"/>
<rect x="267" fill="#301e29"/>
<rect x="268" fill="#47223b"/>
<rect x="269" fill="#4e1d47"/>
<rect x="270" fill="#5a1d53"/>
<rect x="271" fill="#851d7e"/>
<rect x="272" fill="#611e58"/>
<rect x="273" fill="#4a1649"/>
<rect x="274" fill="#691c63"/>
<rect x="275" fill="#531a4f"/>
<rect x="276" fill="#771975"/>
<rect x="277" fill="#621b5d"/>
<rect x="278" fill="#691c63"/>
<rect x="279" fill="#761d6f"/>
<rect x="280" fill="#33291f"/>
<rect x="281" fill="#432336"/>
<rect x="282" fill="#541f4c"/>
<rect x="283" fill="#39202f"/>
<rect x="284" fill="#5a1b55"/>
<rect x="285" fill="#37212c"/>
<rect x="286" fill="#3d2133"/>
<rect x="287" fill="#7e1c78"/>
<rect x="288" fill="#6c1b67"/>
<rect x="289" fill="#4f1c48"/>
<rect x="290" fill="#3f2332"/>
<rect x="291" fill="#312523"/>
<rect x="292" fill="#381d31"/>
<rect x="293" fill="#301b2b"/>
<rect x="294" fill="#441f3a"/>
<rect x="295" fill="#721e6b"/>
<rect x="296" fill="#3e2332"/>
<rect x="297" fill="#24201a"/>
<rect x="298" fill="#551c4f"/>
<rect x="299" fill="#5e175c"/>
<rect x="300" fill="#591b53"/>
<rect x="301" fill="#342327"/>
<rect x="302" fill="#591e51"/>
<rect x="303" fill="#3a1c33"/>
<rect x="304" fill="#4e2043"/>
<rect x="305" fill="#631e5c"/>
<rect x="306" fill="#621c5c"/>
<rect x="307" fill="#731c6d"/>
<rect x="308" fill="#5e274d"/>
<rect x="309" fill="#48223c"/>
<rect x="310" fill="#741872"/>
<rect x="311" fill="#372428"/>
<rect x="312" fill="#2e2a1a"/>
<rect x="313" fill="#3c1f34"/>
<rect x="314" fill="#6e1d67"/>
<rect x="315" fill="#3c252c"/>
<rect x="316" fill="#5b1b56"/>
<rect x="317" fill="#2e2b19"/>
<rect x="318" fill="#601c5a"/>
<rect x="319" fill="#581856"/>
<rect x="320" fill="#321b2d"/>
<rect x="321" fill="#5a1957"/>
<rect x="322" fill="#441941"/>
<rect x="323" fill="#50194d"/>
<rect x="324" fill="#6f1c69"/>
<rect x="325" fill="#3d2132"/>
<rect x="326" fill="#2e261f"/>
<rect x="327" fill="#421b3d"/>
<rect x="328" fill="#3f2035"/>
<rect x="329" fill="#511b4c"/>
<rect x="330" fill="#621a5e"/>
<rect x="331" fill="#641b60"/>
<rect x="332" fill="#6d1c67"/>
<rect x="333" fill="#451645"/>
<rect x="334" fill="#791976"/>
<rect x="335" fill="#4e1a4a"/>
<rect x="336" fill="#342723"/>
<rect x="337" fill="#2c2022"/>
<rect x="338" fill="#2d2122"/>
<rect x="339" fill="#261a22"/>
<rect x="340" fill="#471e3f"/>
<rect x="341" fill="#5c1e53"/>
<rect x="342" fill="#591e51"/>
<rect x="343" fill="#3f1c39"/>
<rect x="344" fill="#571e4e"/>
<rect x="345" fill="#661e5e"/>
<rect x="346" fill="#431c3e"/>
<rect x="347" fill="#551a51"/>
<rect x="348" fill="#381d31"/>
<rect x="349" fill="#771677"/>
<rect x="350" fill="#591659"/>
<rect x="351" fill="#4f1b4b"/>
<rect x="352" fill="#39212e"/>
<rect x="353" fill="#2a221d"/>
<rect x="354" fill="#411c3b"/>
<rect x="355" fill="#361f2c"/>
<rect x="356" fill="#731d6b"/>
<rect x="357" fill="#4b2141"/>
<rect x="358" fill="#3d2230"/>
<rect x="359" fill="#431c3e"/>
<rect x="360" fill="#311631"/>
<rect x="361" fill="#551d4e"/>
<rect x="362" fill="#5b1b56"/>
<rect x="363" fill="#3a232d"/>
<rect x="364" fill="#35202b"/>
<rect x="365" fill="#6c1c65"/>
<rect x="366" fill="#4f1a4b"/>
<rect x="367" fill="#411c3b"/>
<rect x="368" fill="#291b24"/>
<rect x="369" fill="#401f37"/>
<rect x="370" fill="#3b2032"/>
<rect x="371" fill="#2c1d25"/>
<rect x="372" fill="#362527"/>
<rect x="373" fill="#2e2321"/>
<rect x="374" fill="#421c3c"/>
<rect x="375" fill="#2a241b"/>
<rect x="376" fill="#271f1e"/>
<rect x="377" fill="#251d1e"/>
<rect x="378" fill="#601d59"/>
<rect x="379" fill="#721d6c"/>
<rect x="380" fill="#471945"/>
<rect x="381" fill="#602353"/>
<rect x="382" fill="#651b60"/>
<rect x="383" fill="#402531"/>
<rect x="384" fill="#621e5a"/>
<rect x="385" fill="#40173f"/>
<rect x="386" fill="#591a55"/>
<rect x="387" fill="#5c1b57"/>
<rect x="388" fill="#701b6b"/>
<rect x="389" fill="#651c5f"/>
<rect x="390" fill="#551e4d"/>
<rect x="391" fill="#5e2054"/>
<rect x="392" fill="#302621"/>
<rect x="393" fill="#342327"/>
<rect x="394" fill="#8a1987"/>
<rect x="395" fill="#711f68"/>
<rect x="396" fill="#532345"/>
<rect x="397" fill="#31291e"/>
<rect x="398" fill="#2f2322"/>
<rect x="399" fill="#422236"/>
<rect x="400" fill="#37212c"/>
<rect x="401" fill="#511f48"/>
<rect x="402" fill="#5b1a57"/>
<rect x="403" fill="#5d1b57"/>
<rect x="404" fill="#4f1c49"/>
<rect x="405" fill="#541c4d"/>
<rect x="406" fill="#5a1f51"/>
<rect x="407" fill="#581e50"/>
<rect x="408" fill="#62185f"/>
<rect x="409" fill="#481e40"/>
<rect x="410" fill="#821f79"/>
<rect x="411" fill="#521d4b"/>
<rect x="412" fill="#501d4a"/>
<rect x="413" fill="#332f1a"/>
<rect x="414" fill="#551b50"/>
<rect x="415" fill="#511e49"/>
<rect x="416" fill="#351e2d"/>
<rect x="417" fill="#661e5e"/>
<rect x="418" fill="#6c1969"/>
<rect x="419" fill="#771a74"/>
<rect x="420" fill="#661d5f"/>
<rect x="421" fill="#522543"/>
<rect x="422" fill="#2b1e23"/>
<rect x="423" fill="#701f67"/>
<rect x="424" fill="#821c7c"/>
<rect x="425" fill="#4f184d"/>
<rect x="426" fill="#2e1d26"/>
<rect x="427" fill="#48223c"/>
<rect x="428" fill="#342327"/>
<rect x="429" fill="#391936"/>
<rect x="430" fill="#3a262b"/>
<rect x="431" fill="#3d2132"/>
<rect x="432" fill="#4c2240"/>
<rect x="433" fill="#581d52"/>
<rect x="434" fill="#47223a"/>
<rect x="435" fill="#7b1e73"/>
<rect x="436" fill="#721b6d"/>
<rect x="437" fill="#461d40"/>
<rect x="438" fill="#5a1d53"/>
<rect x="439" fill="#4f1b4a"/>
<rect x="440" fill="#741f6b"/>
<rect x="441" fill="#47233a"/>
<rect x="442" fill="#781975"/>
<rect x="443" fill="#64205a"/>
<rect x="444" fill="#491a46"/>
<rect x="445" fill="#4a1a46"/>
<rect x="446" fill="#5b1e52"/>
<rect x="447" fill="#501e47"/>
<rect x="448" fill="#6d1e65"/>
<rect x="449" fill="#5d1d56"/>
<rect x="450" fill="#4f1e47"/>
<rect x="451" fill="#2b1f22"/>
<rect x="452" fill="#3b1938"/>
<rect x="453" fill="#4d1b48"/>
<rect x="454" fill="#401d38"/>
<rect x="455" fill="#521e4a"/>
<rect x="456" fill="#2b221f"/>
<rect x="457" fill="#442436"/>
<rect x="458" fill="#7c1a77"/>
<rect x="459" fill="#61185f"/>
<rect x="460" fill="#4c1c46"/>
<rect x="461" fill="#2a251b"/>
<rect x="462" fill="#31281f"/>
<rect x="463" fill="#331c2d"/>
<rect x="464" fill="#41193f"/>
<rect x="465" fill="#4b1c46"/>
<rect x="466" fill="#4f1b4a"/>
<rect x="467" fill="#3f1a3b"/>
<rect x="468" fill="#421f38"/>
<rect x="469" fill="#361c2f"/>
<rect x="470" fill="#2d1b28"/>
<rect x="471" fill="#2d1f24"/>
<rect x="472" fill="#3b1839"/>
<rect x="473" fill="#2a2020"/>
<rect x="474" fill="#541b4f"/>
<rect x="475" fill="#3c1c36"/>
<rect x="476" fill="#301d2a"/>
<rect x="477" fill="#262319"/>
<rect x="478" fill="#3c2032"/>
<rect x="479" fill="#3e2232"/>
<rect x="480" fill="#2b2719"/>
<rect x="481" fill="#381f2f"/>
<rect x="482" fill="#34202a"/>
<rect x="483" fill="#2d291b"/>
<rect x="484" fill="#4e2045"/>
<rect x="485" fill="#2c2221"/>
<rect x="486" fill="#4d1c47"/>
<rect x="487" fill="#391e31"/>
<rect x="488" fill="#511a4d"/>
<rect x="489" fill="#46213b"/>
<rect x="490" fill="#512245"/>
<rect x="491" fill="#3d1c37"/>
<rect x="492" fill="#28201e"/>
<rect x="493" fill="#4c2240"/>
<rect x="494" fill="#402036"/>
<rect x="495" fill="#3d163d"/>
<rect x="496" fill="#501b4b"/>
<rect x="497" fill="#521c4c"/>
<rect x="498" fill="#332524"/>
<rect x="499" fill="#2c2220"/>
<rect x="500" fill="#581c52"/>
<rect x="501" fill="#561f4d"/>
<rect x="502" fill="#4a1a46"/>
<rect x="503" fill="#2d2221"/>
<rect x="504" fill="#421b3d"/>
<rect x="505" fill="#231e1b"/>
<rect x="506" fill="#4f1a4b"/>
<rect x="507" fill="#5e1a5a"/>
<rect x="508" fill="#4f194c"/>
<rect x="509" fill="#512444"/>
<rect x="510" fill="#542842"/>
<rect x="511" fill="#512641"/>
<rect x="512" fill="#48203e"/>
<rect x="513" fill="#601a5c"/>
<rect x="514" fill="#761973"/>
<rect x="515" fill="#2f291c"/>
<rect x="516" fill="#4f2540"/>
<rect x="517" fill="#601e57"/>
<rect x="518" fill="#471e3f"/>
<rect x="519" fill="#721a6e"/>
<rect x="520" fill="#462438"/>
<rect x="521" fill="#36212b"/>
<rect x="522" fill="#4c1849"/>
<rect x="523" fill="#4d194b"/>
<rect x="524" fill="#462734"/>
<rect x="525" fill="#5b264b"/>
<rect x="526" fill="#541f4b"/>
<rect x="527" fill="#502442"/>
<rect x="528" fill="#901f87"/>
<rect x="529" fill="#4b1e44"/>
<rect x="530" fill="#39242b"/>
<rect x="531" fill="#49203f"/>
<rect x="532" fill="#382529"/>
<rect x="533" fill="#27211c"/>
<rect x="534" fill="#461a42"/>
<rect x="535" fill="#481d41"/>
<rect x="536" fill="#5b1958"/>
<rect x="537" fill="#401e38"/>
<rect x="538" fill="#371a32"/>
<rect x="539" fill="#2f182c"/>
<rect x="540" fill="#5d1c58"/>
<rect x="541" fill="#4e1b4a"/>
<rect x="542" fill="#451c3e"/>
<rect x="543" fill="#3e252f"/>
<rect x="544" fill="#322326"/>
<rect x="545" fill="#371835"/>
<rect x="546" fill="#471f3e"/>
<rect x="547" fill="#451a41"/>
<rect x="548" fill="#421b3d"/>
<rect x="549" fill="#561e4e"/>
<rect x="550" fill="#66205c"/>
<rect x="551" fill="#611e59"/>
<rect x="552" fill="#3c242e"/>
<rect x="553" fill="#551c50"/>
<rect x="554" fill="#331f2a"/>
<rect x="555" fill="#32192f"/>
<rect x="556" fill="#591b54"/>
<rect x="557" fill="#3a1b35"/>
<rect x="558" fill="#3b1d34"/>
<rect x="559" fill="#402135"/>
<rect x="560" fill="#403621"/>
<rect x="561" fill="#38301e"/>
<rect x="562" fill="#38311d"/>
<rect x="563" fill="#2e2d17"/>
<rect x="564" fill="#2f271d"/>
<rect x="565" fill="#56214b"/>
<rect x="566" fill="#312a1d"/>
<rect x="567" fill="#483529"/>
<rect x="568" fill="#683c42"/>
<rect x="569" fill="#69611e"/>
<rect x="570" fill="#613f38"/>
<rect x="571" fill="#543633"/>
<rect x="572" fill="#342d1c"/>
<rect x="573" fill="#383519"/>
<rect x="574" fill="#372c21"/>
<rect x="575" fill="#533c2c"/>
<rect x="576" fill="#503333"/>
<rect x="577" fill="#494817"/>
<rect x="578" fill="#352428"/>
<rect x="579" fill="#4f2243"/>
<rect x="580" fill="#39331b"/>
<rect x="581" fill="#423721"/>
<rect x="582" fill="#2f2421"/>
<rect x="583" fill="#581f4f"/>
<rect x="584" fill="#3a2a26"/>
<rect x="585" fill="#4c441e"/>
<rect x="586" fill="#57333a"/>
<rect x="587" fill="#382727"/>
<rect x="588" fill="#3d371c"/>
<rect x="589" fill="#57531a"/>
<rect x="590" fill="#4b461b"/>
<rect x="591" fill="#524c1c"/>
<rect x="592" fill="#332e1b"/>
<rect x="593" fill="#41381f"/>
<rect x="594" fill="#2d2122"/>
<rect x="595" fill="#332b1e"/>
<rect x="596" fill="#4c4919"/>
<rect x="597" fill="#5f5d18"/>
<rect x="598" fill="#444119"/>
<rect x="599" fill="#6e671d"/>
<rect x="600" fill="#545218"/>
<rect x="601" fill="#292818"/>
<rect x="602" fill="#3c2c26"/>
<rect x="603" fill="#433523"/>
<rect x="604" fill="#444119"/>
<rect x="605" fill="#463d1f"/>
<rect x="606" fill="#362c20"/>
<rect x="607" fill="#322820"/>
<rect x="608" fill="#4f273e"/>
<rect x="609" fill="#3e2b29"/>
<rect x="610" fill="#5a1e51"/>
<rect x="611" fill="#4e1a4a"/>
<rect x="612" fill="#3d262d"/>
<rect x="613" fill="#5c5919"/>
<rect x="614" fill="#3d3320"/>
<rect x="615" fill="#363517"/>
<rect x="616" fill="#524d1a"/>
<rect x="617" fill="#514c1b"/>
<rect x="618" fill="#4d273c"/>
<rect x="619" fill="#4c3032"/>
<rect x="620" fill="#564f1d"/>
<rect x="621" fill="#692d52"/>
<rect x="622" fill="#2d261d"/>
<rect x="623" fill="#4c4b16"/>
<rect x="624" fill="#5f373e"/>
<rect x="625" fill="#452932"/>
<rect x="626" fill="#4c4a18"/>
<rect x="627" fill="#606016"/>
<rect x="628" fill="#603046"/>
<rect x="629" fill="#69601e"/>
<rect x="630" fill="#716423"/>
<rect x="631" fill="#5d551e"/>
<rect x="632" fill="#474418"/>
<rect x="633" fill="#a6a418"/>
<rect x="634" fill="#575419"/>
<rect x="635" fill="#908b1a"/>
<rect x="636" fill="#6e661f"/>
<rect x="637" fill="#58521c"/>
<rect x="638" fill="#77711c"/>
<rect x="639" fill="#6f6124"/>
<rect x="640" fill="#d9d41b"/>
<rect x="641" fill="#a19e19"/>
<rect x="642" fill="#b2ac1c"/>
<rect x="643" fill="#b5b219"/>
<rect x="644" fill="#9c9a19"/>
<rect x="645" fill="#70691c"/>
<rect x="646" fill="#9c961d"/>
<rect x="647" fill="#5f5a1b"/>
<rect x="648" fill="#7f791c"/>
<rect x="649" fill="#bfbb1a"/>
<rect x="650" fill="#3f3b1a"/>
<rect x="651" fill="#847e1c"/>
<rect x="652" fill="#696718"/>
<rect x="653" fill="#6b6819"/>
<rect x="654" width="0.9" fill="#706e18"/>
</g>
<g transform="translate(0,62.3)" class="h1">
<rect x="253.8" width="0.2" fill="#48312d"/>
<rect x="254" fill="#452f2c"/>
<rect x="255" fill="#2e2421"/>
<rect x="256" fill="#621b5d"/>
<rect x="257" fill="#451a41"/>
<rect x="258" fill="#57214c"/>
<rect x="259" fill="#251c1f"/>
<rect x="260" fill="#5c1e54"/>
<rect x="261" fill="#342327"/>
<rect x="262" fill="#4a223d"/>
<rect x="263" fill="#661f5d"/>
<rect x="264" fill="#2d2123"/>
<rect x="265" fill="#561c50"/>
<rect x="266" fill="#5b254c"/>
<rect x="267" fill="#531f4a"/>
<rect x="268" fill="#29201f"/>
<rect x="269" fill="#322325"/>
<rect x="270" fill="#4a253b"/>
<rect x="271" fill="#3e292b"/>
<rect x="272" fill="#58204d"/>
<rect x="273" fill="#6a1b65"/>
<rect x="274" fill="#4b1e43"/>
<rect x="275" fill="#291f21"/>
<rect x="276" fill="#4e2044"/>
<rect x="277" fill="#37242a"/>
<rect x="278" fill="#411f38"/>
<rect x="279" fill="#5a1c54"/>
<rect x="280" fill="#4e2044"/>
<rect x="281" fill="#511e49"/>
<rect x="282" fill="#5d1f54"/>
<rect x="283" fill="#511e49"/>
<rect x="284" fill="#6b1f62"/>
<rect x="285" fill="#7d197a"/>
<rect x="286" fill="#5f1a5b"/>
<rect x="287" fill="#761a72"/>
<rect x="288" fill="#341e2c"/>
<rect x="289" fill="#3b1f32"/>
<rect x="290" fill="#571855"/>
<rect x="291" fill="#5c2150"/>
<rect x="292" fill="#442238"/>
<rect x="293" fill="#2d2320"/>
<rect x="294" fill="#571c51"/>
<rect x="295" fill="#451744"/>
<rect x="296" fill="#4d1f44"/>
<rect x="297" fill="#55214a"/>
<rect x="298" fill="#59234c"/>
<rect x="299" fill="#581f4f"/>
<rect x="300" fill="#5b254c"/>
<rect x="301" fill="#471c41"/>
<rect x="302" fill="#502442"/>
<rect x="303" fill="#2d2420"/>
<rect x="304" fill="#352625"/>
<rect x="305" fill="#352526"/>
<rect x="306" fill="#591857"/>
<rect x="307" fill="#3d1e35"/>
<rect x="308" fill="#522543"/>
<rect x="309" fill="#442435"/>
<rect x="310" fill="#412334"/>
<rect x="311" fill="#641d5d"/>
<rect x="312" fill="#581d51"/>
<rect x="313" fill="#551c4f"/>
<rect x="314" fill="#651b61"/>
<rect x="315" fill="#6b1d64"/>
<rect x="316" fill="#4a1d43"/>
<rect x="317" fill="#3a1d33"/>
<rect x="318" fill="#402333"/>
<rect x="319" fill="#5e1d57"/>
<rect x="320" fill="#591b54"/>
<rect x="321" fill="#4e2241"/>
<rect x="322" fill="#3b252d"/>
<rect x="323" fill="#512245"/>
<rect x="324" fill="#711f68"/>
<rect x="325" fill="#2f2322"/>
<rect x="326" fill="#231c1d"/>
<rect x="327" fill="#4b233d"/>
<rect x="328" fill="#552249"/>
<rect x="329" fill="#3b2130"/>
<rect x="330" fill="#322523"/>
<rect x="331" fill="#301d29"/>
<rect x="332" fill="#741d6d"/>
<rect x="333" fill="#6a1f61"/>
<rect x="334" fill="#452339"/>
<rect x="335" fill="#4d1b48"/>
<rect x="336" fill="#3d183b"/>
<rect x="337" fill="#4b1d44"/>
<rect x="338" fill="#381837"/>
<rect x="339" fill="#58234b"/>
<rect x="340" fill="#452536"/>
<rect x="341" fill="#602056"/>
<rect x="342" fill="#381f30"/>
<rect x="343" fill="#69205f"/>
<rect x="344" fill="#732267"/>
<rect x="345" fill="#891c83"/>
<rect x="346" fill="#8c2082"/>
<rect x="347" fill="#7e2371"/>
<rect x="348" fill="#622058"/>
<rect x="349" fill="#6a1e63"/>
<rect x="350" fill="#521e4a"/>
<rect x="351" fill="#4d1f44"/>
<rect x="352" fill="#a41d9d"/>
<rect x="353" fill="#612255"/>
<rect x="354" fill="#7a1c74"/>
<rect x="355" fill="#551952"/>
<rect x="356" fill="#851f7c"/>
<rect x="357" fill="#3e252f"/>
<rect x="358" fill="#642159"/>
<rect x="359" fill="#7d1b79"/>
<rect x="360" fill="#801a7c"/>
<rect x="361" fill="#60294d"/>
<rect x="362" fill="#592847"/>
<rect x="363" fill="#3c252d"/>
<rect x="364" fill="#512245"/>
<rect x="365" fill="#48223c"/>
<rect x="366" fill="#7b1d74"/>
<rect x="367" fill="#781e70"/>
<rect x="368" fill="#461c40"/>
<rect x="369" fill="#5a1d53"/>
<rect x="370" fill="#441c3e"/>
<rect x="371" fill="#522048"/>
<rect x="372" fill="#7c1a78"/>
<rect x="373" fill="#501f46"/>
<rect x="374" fill="#712265"/>
<rect x="375" fill="#8b227f"/>
<rect x="376" fill="#901b8b"/>
<rect x="377" fill="#561656"/>
<rect x="378" fill="#912483"/>
<rect x="379" fill="#8a1e82"/>
<rect x="380" fill="#5a1b55"/>
<rect x="381" fill="#6a1a66"/>
<rect x="382" fill="#8a1888"/>
<rect x="383" fill="#7d2271"/>
<rect x="384" fill="#751e6d"/>
<rect x="385" fill="#371d30"/>
<rect x="386" fill="#611c5b"/>
<rect x="387" fill="#8f1e87"/>
<rect x="388" fill="#77216d"/>
<rect x="389" fill="#98218d"/>
<rect x="390" fill="#832079"/>
<rect x="391" fill="#802175"/>
<rect x="392" fill="#48213d"/>
<rect x="393" fill="#501c4a"/>
<rect x="394" fill="#772569"/>
<rect x="395" fill="#632158"/>
<rect x="396" fill="#861983"/>
<rect x="397" fill="#471f3e"/>
<rect x="398" fill="#382529"/>
<rect x="399" fill="#7e1d77"/>
<rect x="400" fill="#451f3c"/>
<rect x="401" fill="#721a6e"/>
<rect x="402" fill="#851f7c"/>
<rect x="403" fill="#901f87"/>
<rect x="404" fill="#7c1d74"/>
<rect x="405" fill="#8d1c87"/>
<rect x="406" fill="#7f2174"/>
<rect x="407" fill="#811b7c"/>
<rect x="408" fill="#5f1d58"/>
<rect x="409" fill="#4e2143"/>
<rect x="410" fill="#6c1f62"/>
<rect x="411" fill="#881d82"/>
<rect x="412" fill="#731a6f"/>
<rect x="413" fill="#9c1a98"/>
<rect x="414" fill="#6f1c68"/>
<rect x="415" fill="#362428"/>
<rect x="416" fill="#9c2191"/>
<rect x="417" fill="#591c52"/>
<rect x="418" fill="#771d70"/>
<rect x="419" fill="#502046"/>
<rect x="420" fill="#541c4e"/>
<rect x="421" fill="#651e5d"/>
<rect x="422" fill="#3f2035"/>
<rect x="423" fill="#7a1a75"/>
<rect x="424" fill="#951793"/>
<rect x="425" fill="#6f1d68"/>
<rect x="426" fill="#6a1c64"/>
<rect x="427" fill="#701c6a"/>
<rect x="428" fill="#4e1f44"/>
<rect x="429" fill="#69225d"/>
<rect x="430" fill="#491c43"/>
<rect x="431" fill="#771b72"/>
<rect x="432" fill="#88237b"/>
<rect x="433" fill="#89217d"/>
<rect x="434" fill="#641e5c"/>
<rect x="435" fill="#771b72"/>
<rect x="436" fill="#571a52"/>
<rect x="437" fill="#871c81"/>
<rect x="438" fill="#59254a"/>
<rect x="439" fill="#4d263d"/>
<rect x="440" fill="#731f6a"/>
<rect x="441" fill="#6c2161"/>
<rect x="442" fill="#6f1e67"/>
<rect x="443" fill="#651d5e"/>
<rect x="444" fill="#5a2050"/>
<rect x="445" fill="#551c4e"/>
<rect x="446" fill="#631d5c"/>
<rect x="447" fill="#4f1f46"/>
<rect x="448" fill="#981f8f"/>
<rect x="449" fill="#562646"/>
<rect x="450" fill="#5b1a57"/>
<rect x="451" fill="#721e6a"/>
<rect x="452" fill="#46203c"/>
<rect x="453" fill="#402135"/>
<rect x="454" fill="#841d7c"/>
<rect x="455" fill="#602353"/>
<rect x="456" fill="#951b90"/>
<rect x="457" fill="#842179"/>
<rect x="458" fill="#751c6f"/>
<rect x="459" fill="#571f4e"/>
<rect x="460" fill="#9a1997"/>
<rect x="461" fill="#8c2081"/>
<rect x="462" fill="#502145"/>
<rect x="463" fill="#731871"/>
<rect x="464" fill="#731b6e"/>
<rect x="465" fill="#4f2441"/>
<rect x="466" fill="#8c1e84"/>
<rect x="467" fill="#642456"/>
<rect x="468" fill="#3d292a"/>
<rect x="469" fill="#791e71"/>
<rect x="470" fill="#91188f"/>
<rect x="471" fill="#432336"/>
<rect x="472" fill="#36222b"/>
<rect x="473" fill="#571d50"/>
<rect x="474" fill="#831c7d"/>
<rect x="475" fill="#3e2034"/>
<rect x="476" fill="#5f1c59"/>
<rect x="477" fill="#6f186d"/>
<rect x="478" fill="#7c1c75"/>
<rect x="479" fill="#501f47"/>
<rect x="480" fill="#9f1e97"/>
<rect x="481" fill="#902284"/>
<rect x="482" fill="#85217b"/>
<rect x="483" fill="#512146"/>
<rect x="484" fill="#5c1e55"/>
<rect x="485" fill="#7f2273"/>
<rect x="486" fill="#5e1c59"/>
<rect x="487" fill="#611f57"/>
<rect x="488" fill="#732069"/>
<rect x="489" fill="#522048"/>
<rect x="490" fill="#731d6c"/>
<rect x="491" fill="#36212b"/>
<rect x="492" fill="#66215c"/>
<rect x="493" fill="#91198d"/>
<rect x="494" fill="#9f199c"/>
<rect x="495" fill="#971e8f"/>
<rect x="496" fill="#771b71"/>
<rect x="497" fill="#681e60"/>
<rect x="498" fill="#6d1f64"/>
<rect x="499" fill="#702363"/>
<rect x="500" fill="#712265"/>
<rect x="501" fill="#4f2144"/>
<rect x="502" fill="#491846"/>
<rect x="503" fill="#401c3a"/>
<rect x="504" fill="#352228"/>
<rect x="505" fill="#5c2151"/>
<rect x="506" fill="#641763"/>
<rect x="507" fill="#602056"/>
<rect x="508" fill="#5a234d"/>
<rect x="509" fill="#461d3f"/>
<rect x="510" fill="#2f192b"/>
<rect x="511" fill="#6b1e64"/>
<rect x="512" fill="#781d71"/>
<rect x="513" fill="#822178"/>
<rect x="514" fill="#6d2260"/>
<rect x="515" fill="#321a2e"/>
<rect x="516" fill="#471d3f"/>
<rect x="517" fill="#631b5f"/>
<rect x="518" fill="#831a7f"/>
<rect x="519" fill="#921f89"/>
<rect x="520" fill="#701a6c"/>
<rect x="521" fill="#761972"/>
<rect x="522" fill="#811d7a"/>
<rect x="523" fill="#841c7e"/>
<rect x="524" fill="#731a6f"/>
<rect x="525" fill="#871f7e"/>
<rect x="526" fill="#941d8d"/>
<rect x="527" fill="#691e61"/>
<rect x="528" fill="#991e92"/>
<rect x="529" fill="#a11c9a"/>
<rect x="530" fill="#771e6f"/>
<rect x="531" fill="#4e1d48"/>
<rect x="532" fill="#741e6c"/>
<rect x="533" fill="#7d1c77"/>
<rect x="534" fill="#8a1b85"/>
<rect x="535" fill="#3b242c"/>
<rect x="536" fill="#5a234e"/>
<rect x="537" fill="#532049"/>
<rect x="538" fill="#621e5a"/>
<rect x="539" fill="#811d79"/>
<rect x="540" fill="#332326"/>
<rect x="541" fill="#5c2052"/>
<rect x="542" fill="#a31e9c"/>
<rect x="543" fill="#951893"/>
<rect x="544" fill="#611d5a"/>
<rect x="545" fill="#371835"/>
<rect x="546" fill="#491a45"/>
<rect x="547" fill="#691d62"/>
<rect x="548" fill="#51283f"/>
<rect x="549" fill="#802176"/>
<rect x="550" fill="#8c2082"/>
<rect x="551" fill="#6c1f62"/>
<rect x="552" fill="#881787"/>
<rect x="553" fill="#881a84"/>
<rect x="554" fill="#902185"/>
<rect x="555" fill="#3f292c"/>
<rect x="556" fill="#442337"/>
<rect x="557" fill="#302026"/>
<rect x="558" fill="#361b30"/>
<rect x="559" fill="#3f3025"/>
<rect x="560" fill="#3f3124"/>
<rect x="561" fill="#4b342d"/>
<rect x="562" fill="#44312a"/>
<rect x="563" fill="#462f2d"/>
<rect x="564" fill="#422c2c"/>
<rect x="565" fill="#492f2f"/>
<rect x="566" fill="#422c2c"/>
<rect x="567" fill="#3f361f"/>
<rect x="568" fill="#57412c"/>
<rect x="569" fill="#4c342e"/>
<rect x="570" fill="#3f282d"/>
<rect x="571" fill="#472a33"/>
<rect x="572" fill="#443227"/>
<rect x="573" fill="#7d761c"/>
<rect x="574" fill="#6d5f24"/>
<rect x="575" fill="#6a6020"/>
<rect x="576" fill="#6c6b17"/>
<rect x="577" fill="#8f8b1b"/>
<rect x="578" fill="#948f1a"/>
<rect x="579" fill="#d3d019"/>
<rect x="580" fill="#b3aa1f"/>
<rect x="581" fill="#8d841e"/>
<rect x="582" fill="#9e981d"/>
<rect x="583" fill="#afaa1b"/>
<rect x="584" fill="#c5c01b"/>
<rect x="585" fill="#cac51a"/>
<rect x="586" fill="#9d9c17"/>
<rect x="587" fill="#c7c419"/>
<rect x="588" fill="#a29f19"/>
<rect x="589" fill="#cfcc19"/>
<rect x="590" fill="#a7a519"/>
<rect x="591" fill="#999817"/>
<rect x="592" fill="#c3bd1c"/>
<rect x="593" fill="#a49c1e"/>
<rect x="594" fill="#9c9919"/>
<rect x="595" fill="#a5a11a"/>
<rect x="596" fill="#746822"/>
<rect x="597" fill="#b4ae1c"/>
<rect x="598" fill="#66621a"/>
<rect x="599" fill="#87811c"/>
<rect x="600" fill="#c1ba1d"/>
<rect x="601" fill="#afac19"/>
<rect x="602" fill="#817b1c"/>
<rect x="603" fill="#aeae16"/>
<rect x="604" fill="#a4a217"/>
<rect x="605" fill="#c6c21a"/>
<rect x="606" fill="#bfb91c"/>
<rect x="607" fill="#86811b"/>
<rect x="608" fill="#b2ad1b"/>
<rect x="609" fill="#958e1d"/>
<rect x="610" fill="#827e1a"/>
<rect x="611" fill="#716e19"/>
<rect x="612" fill="#c0c016"/>
<rect x="613" fill="#c7c418"/>
<rect x="614" fill="#92891f"/>
<rect x="615" fill="#8f871d"/>
<rect x="616" fill="#c5c01a"/>
<rect x="617" fill="#aba51d"/>
<rect x="618" fill="#56501c"/>
<rect x="619" fill="#4d451e"/>
<rect x="620" fill="#a4a01a"/>
<rect x="621" fill="#c6c418"/>
<rect x="622" fill="#a3a019"/>
<rect x="623" fill="#a8a41a"/>
<rect x="624" fill="#77711c"/>
<rect x="625" fill="#9d951e"/>
<rect x="626" fill="#f3f019"/>
<rect x="627" fill="#a09c1a"/>
<rect x="628" fill="#8c881a"/>
<rect x="629" fill="#afab1a"/>
<rect x="630" fill="#8d861c"/>
<rect x="631" fill="#a6a01c"/>
<rect x="632" fill="#9f961e"/>
<rect x="633" fill="#9c961c"/>
<rect x="634" fill="#59501f"/>
<rect x="635" fill="#827720"/>
<rect x="636" fill="#6e1a6b"/>
<rect x="637" fill="#761b71"/>
<rect x="638" fill="#7e1e76"/>
<rect x="639" fill="#881986"/>
<rect x="640" fill="#432237"/>
<rect x="641" fill="#6b1e63"/>
<rect x="642" fill="#7d1d76"/>
<rect x="643" fill="#841f7b"/>
<rect x="644" fill="#8e1f85"/>
<rect x="645" fill="#9b2190"/>
<rect x="646" fill="#6d1f64"/>
<rect x="647" fill="#4d2142"/>
<rect x="648" fill="#88217d"/>
<rect x="649" fill="#8a1c83"/>
<rect x="650" fill="#871f7e"/>
<rect x="651" fill="#912087"/>
<rect x="652" fill="#59224c"/>
<rect x="653" fill="#86207c"/>
<rect x="654" width="0.9" fill="#951f8c"/>
</g>
<g transform="translate(0,100)" class="h2">
<rect x="253.8" width="0.2" fill="#29211e"/>
<rect x="254" fill="#531c4e"/>
<rect x="255" fill="#40272f"/>
<rect x="256" fill="#2b1d25"/>
<rect x="257" fill="#531f4a"/>
<rect x="258" fill="#5c1b57"/>
<rect x="259" fill="#431a40"/>
<rect x="260" fill="#2a2020"/>
<rect x="261" fill="#422137"/>
<rect x="262" fill="#441e3d"/>
<rect x="263" fill="#5c2052"/>
<rect x="264" fill="#511c4a"/>
<rect x="265" fill="#4c1c47"/>
<rect x="266" fill="#65215a"/>
<rect x="267" fill="#312226"/>
<rect x="268" fill="#3c2032"/>
<rect x="269" fill="#4c1c45"/>
<rect x="270" fill="#3a252b"/>
<rect x="271" fill="#3b222f"/>
<rect x="272" fill="#5e2054"/>
<rect x="273" fill="#482538"/>
<rect x="274" fill="#312225"/>
<rect x="275" fill="#2b221f"/>
<rect x="276" fill="#4d233f"/>
<rect x="277" fill="#4c2041"/>
<rect x="278" fill="#381a35"/>
<rect x="279" fill="#4f2144"/>
<rect x="280" fill="#3f2035"/>
<rect x="281" fill="#4f1c49"/>
<rect x="282" fill="#39202e"/>
<rect x="283" fill="#352625"/>
<rect x="284" fill="#45213a"/>
<rect x="285" fill="#4f1f46"/>
<rect x="286" fill="#391f30"/>
<rect x="287" fill="#531752"/>
<rect x="288" fill="#561c50"/>
<rect x="289" fill="#342228"/>
<rect x="290" fill="#3b2829"/>
<rect x="291" fill="#571b52"/>
<rect x="292" fill="#5e195b"/>
<rect x="293" fill="#4b1c45"/>
<rect x="294" fill="#6b235e"/>
<rect x="295" fill="#312a1d"/>
<rect x="296" fill="#342c1e"/>
<rect x="297" fill="#541e4c"/>
<rect x="298" fill="#3e2134"/>
<rect x="299" fill="#5b1d54"/>
<rect x="300" fill="#651f5d"/>
<rect x="301" fill="#5e1c58"/>
<rect x="302" fill="#311c2b"/>
<rect x="303" fill="#4e2143"/>
<rect x="304" fill="#4c2042"/>
<rect x="305" fill="#342327"/>
<rect x="306" fill="#2a2817"/>
<rect x="307" fill="#302a1c"/>
<rect x="308" fill="#3d1d36"/>
<rect x="309" fill="#621d5b"/>
<rect x="310" fill="#542249"/>
<rect x="311" fill="#422f29"/>
<rect x="312" fill="#4f184d"/>
<rect x="313" fill="#4c1f43"/>
<rect x="314" fill="#37232a"/>
<rect x="315" fill="#3d2231"/>
<rect x="316" fill="#511e49"/>
<rect x="317" fill="#6b1b66"/>
<rect x="318" fill="#5b2150"/>
<rect x="319" fill="#3f2c29"/>
<rect x="320" fill="#59234c"/>
<rect x="321" fill="#361f2e"/>
<rect x="322" fill="#421a3e"/>
<rect x="323" fill="#4c233f"/>
<rect x="324" fill="#4a2040"/>
<rect x="325" fill="#501b4b"/>
<rect x="326" fill="#421e3b"/>
<rect x="327" fill="#2e261e"/>
<rect x="328" fill="#5a1c54"/>
<rect x="329" fill="#431c3d"/>
<rect x="330" fill="#562646"/>
<rect x="331" fill="#342623"/>
<rect x="332" fill="#3f2134"/>
<rect x="333" fill="#4d2241"/>
<rect x="334" fill="#3f1e37"/>
<rect x="335" fill="#6d2064"/>
<rect x="336" fill="#69205f"/>
<rect x="337" fill="#312423"/>
<rect x="338" fill="#442139"/>
<rect x="339" fill="#3b252c"/>
<rect x="340" fill="#382529"/>
<rect x="341" fill="#6a1e63"/>
<rect x="342" fill="#551c4f"/>
<rect x="343" fill="#372627"/>
<rect x="344" fill="#571b51"/>
<rect x="345" fill="#591a55"/>
<rect x="346" fill="#422137"/>
<rect x="347" fill="#532148"/>
<rect x="348" fill="#391d32"/>
<rect x="349" fill="#4c1b47"/>
<rect x="350" fill="#6c1e64"/>
<rect x="351" fill="#412235"/>
<rect x="352" fill="#4a1947"/>
<rect x="353" fill="#702066"/>
<rect x="354" fill="#2c1d24"/>
<rect x="355" fill="#3f1c39"/>
<rect x="356" fill="#701d68"/>
<rect x="357" fill="#521f49"/>
<rect x="358" fill="#721e6a"/>
<rect x="359" fill="#5d1b58"/>
<rect x="360" fill="#2a251a"/>
<rect x="361" fill="#422433"/>
<rect x="362" fill="#4f1d48"/>
<rect x="363" fill="#38222d"/>
<rect x="364" fill="#2f291c"/>
<rect x="365" fill="#27201d"/>
<rect x="366" fill="#5e1d57"/>
<rect x="367" fill="#3b1c35"/>
<rect x="368" fill="#261d1f"/>
<rect x="369" fill="#2d2321"/>
<rect x="370" fill="#1e1e16"/>
<rect x="371" fill="#542347"/>
<rect x="372" fill="#26201b"/>
<rect x="373" fill="#641e5c"/>
<rect x="374" fill="#501f47"/>
<rect x="375" fill="#2d2122"/>
<rect x="376" fill="#372f1e"/>
<rect x="377" fill="#5f1c59"/>
<rect x="378" fill="#3f1f35"/>
<rect x="379" fill="#3b2130"/>
<rect x="380" fill="#502243"/>
<rect x="381" fill="#542149"/>
<rect x="382" fill="#571d50"/>
<rect x="383" fill="#411d3a"/>
<rect x="384" fill="#1f1c19"/>
<rect x="385" fill="#471e3f"/>
<rect x="386" fill="#38242b"/>
<rect x="387" fill="#3a1f31"/>
<rect x="388" fill="#2e271d"/>
<rect x="389" fill="#3d2033"/>
<rect x="390" fill="#3c1b37"/>
<rect x="391" fill="#442238"/>
<rect x="392" fill="#3e2132"/>
<rect x="393" fill="#591b54"/>
<rect x="394" fill="#681a64"/>
<rect x="395" fill="#531e4b"/>
<rect x="396" fill="#521f4a"/>
<rect x="397" fill="#6b1a67"/>
<rect x="398" fill="#28201d"/>
<rect x="399" fill="#641c5d"/>
<rect x="400" fill="#45203b"/>
<rect x="401" fill="#30291e"/>
<rect x="402" fill="#462834"/>
<rect x="403" fill="#432732"/>
<rect x="404" fill="#3b2e23"/>
<rect x="405" fill="#601e58"/>
<rect x="406" fill="#58204d"/>
<rect x="407" fill="#441e3d"/>
<rect x="408" fill="#2d261d"/>
<rect x="409" fill="#551a52"/>
<rect x="410" fill="#471a43"/>
<rect x="411" fill="#3d2132"/>
<rect x="412" fill="#491b45"/>
<rect x="413" fill="#351f2c"/>
<rect x="414" fill="#531c4d"/>
<rect x="415" fill="#511f48"/>
<rect x="416" fill="#501d49"/>
<rect x="417" fill="#442039"/>
<rect x="418" fill="#36202c"/>
<rect x="419" fill="#431e3b"/>
<rect x="420" fill="#362329"/>
<rect x="421" fill="#2e1b2a"/>
<rect x="422" fill="#2d2122"/>
<rect x="423" fill="#2e2123"/>
<rect x="424" fill="#2f2521"/>
<rect x="425" fill="#6e2361"/>
<rect x="426" fill="#781c72"/>
<rect x="427" fill="#402036"/>
<rect x="428" fill="#4d1f44"/>
<rect x="429" fill="#4c2240"/>
<rect x="430" fill="#3a2030"/>
<rect x="431" fill="#661963"/>
<rect x="432" fill="#6b1e63"/>
<rect x="433" fill="#5b1f52"/>
<rect x="434" fill="#3d282a"/>
<rect x="435" fill="#602057"/>
<rect x="436" fill="#433029"/>
<rect x="437" fill="#4e2341"/>
<rect x="438" fill="#49233d"/>
<rect x="439" fill="#551f4d"/>
<rect x="440" fill="#4c1e44"/>
<rect x="441" fill="#312621"/>
<rect x="442" fill="#49213e"/>
<rect x="443" fill="#481c42"/>
<rect x="444" fill="#2e261e"/>
<rect x="445" fill="#3d2132"/>
<rect x="446" fill="#312423"/>
<rect x="447" fill="#451e3d"/>
<rect x="448" fill="#6c1e64"/>
<rect x="449" fill="#5b2150"/>
<rect x="450" fill="#532049"/>
<rect x="451" fill="#2f261f"/>
<rect x="452" fill="#2b231e"/>
<rect x="453" fill="#3c1d35"/>
<rect x="454" fill="#232316"/>
<rect x="455" fill="#352526"/>
<rect x="456" fill="#3d2033"/>
<rect x="457" fill="#4b2041"/>
<rect x="458" fill="#5a244c"/>
<rect x="459" fill="#771a74"/>
<rect x="460" fill="#65205b"/>
<rect x="461" fill="#4d2939"/>
<rect x="462" fill="#462636"/>
<rect x="463" fill="#312720"/>
<rect x="464" fill="#4d2043"/>
<rect x="465" fill="#48243a"/>
<rect x="466" fill="#571e4f"/>
<rect x="467" fill="#481a44"/>
<rect x="468" fill="#541c4e"/>
<rect x="469" fill="#5c1f54"/>
<rect x="470" fill="#5f1d58"/>
<rect x="471" fill="#56224a"/>
<rect x="472" fill="#4b2a37"/>
<rect x="473" fill="#722069"/>
<rect x="474" fill="#41272f"/>
<rect x="475" fill="#512343"/>
<rect x="476" fill="#351d2d"/>
<rect x="477" fill="#242416"/>
<rect x="478" fill="#412532"/>
<rect x="479" fill="#2d2122"/>
<rect x="480" fill="#432138"/>
<rect x="481" fill="#511c4b"/>
<rect x="482" fill="#35202b"/>
<rect x="483" fill="#47233a"/>
<rect x="484" fill="#341f2b"/>
<rect x="485" fill="#541a50"/>
<rect x="486" fill="#38242a"/>
<rect x="487" fill="#522a3e"/>
<rect x="488" fill="#512344"/>
<rect x="489" fill="#3f2034"/>
<rect x="490" fill="#61195e"/>
<rect x="491" fill="#591f50"/>
<rect x="492" fill="#4d2142"/>
<rect x="493" fill="#5a2050"/>
<rect x="494" fill="#30172f"/>
<rect x="495" fill="#231c1d"/>
<rect x="496" fill="#361b31"/>
<rect x="497" fill="#611b5c"/>
<rect x="498" fill="#51184f"/>
<rect x="499" fill="#211e19"/>
<rect x="500" fill="#322424"/>
<rect x="501" fill="#3e1c38"/>
<rect x="502" fill="#58234b"/>
<rect x="503" fill="#671e5f"/>
<rect x="504" fill="#58224d"/>
<rect x="505" fill="#5f2153"/>
<rect x="506" fill="#3c252e"/>
<rect x="507" fill="#2b231e"/>
<rect x="508" fill="#3d1f34"/>
<rect x="509" fill="#521b4d"/>
<rect x="510" fill="#2c1a28"/>
<rect x="511" fill="#2e2e16"/>
<rect x="512" fill="#58214e"/>
<rect x="513" fill="#562349"/>
<rect x="514" fill="#3d2032"/>
<rect x="515" fill="#3a222e"/>
<rect x="516" fill="#632159"/>
<rect x="517" fill="#291e20"/>
<rect x="518" fill="#501f47"/>
<rect x="519" fill="#5d1d57"/>
<rect x="520" fill="#6e1e65"/>
<rect x="521" fill="#5a214f"/>
<rect x="522" fill="#5a2050"/>
<rect x="523" fill="#49223d"/>
<rect x="524" fill="#471e3f"/>
<rect x="525" fill="#20181e"/>
<rect x="526" fill="#281925"/>
<rect x="527" fill="#3e2232"/>
<rect x="528" fill="#4a1f41"/>
<rect x="529" fill="#501d49"/>
<rect x="530" fill="#2a1a26"/>
<rect x="531" fill="#442535"/>
<rect x="532" fill="#292719"/>
<rect x="533" fill="#602056"/>
<rect x="534" fill="#422631"/>
<rect x="535" fill="#31281f"/>
<rect x="536" fill="#28221c"/>
<rect x="537" fill="#441c3e"/>
<rect x="538" fill="#701b6b"/>
<rect x="539" fill="#551d4e"/>
<rect x="540" fill="#5e1a5a"/>
<rect x="541" fill="#411c3b"/>
<rect x="542" fill="#3e2133"/>
<rect x="543" fill="#3b2130"/>
<rect x="544" fill="#2f2025"/>
<rect x="545" fill="#471e3f"/>
<rect x="546" fill="#2f1f26"/>
<rect x="547" fill="#332523"/>
<rect x="548" fill="#432534"/>
<rect x="549" fill="#5b1e53"/>
<rect x="550" fill="#362428"/>
<rect x="551" fill="#4c233f"/>
<rect x="552" fill="#6a1a66"/>
<rect x="553" fill="#402532"/>
<rect x="554" fill="#322523"/>
<rect x="555" fill="#362428"/>
<rect x="556" fill="#451f3d"/>
<rect x="557" fill="#888618"/>
<rect x="558" fill="#cfcc19"/>
<rect x="559" fill="#b1ad19"/>
<rect x="560" fill="#aba71b"/>
<rect x="561" fill="#cfc71e"/>
<rect x="562" fill="#bdba18"/>
<rect x="563" fill="#aeac17"/>
<rect x="564" fill="#b8b41b"/>
<rect x="565" fill="#afab19"/>
<rect x="566" fill="#aeab1a"/>
<rect x="567" fill="#b4b01a"/>
<rect x="568" fill="#bab11f"/>
<rect x="569" fill="#c2be1b"/>
<rect x="570" fill="#c6c517"/>
<rect x="571" fill="#cbcb17"/>
<rect x="572" fill="#a09a1c"/>
<rect x="573" fill="#766d1f"/>
<rect x="574" fill="#4e471c"/>
<rect x="575" fill="#565319"/>
<rect x="576" fill="#433f1a"/>
<rect x="577" fill="#434217"/>
<rect x="578" fill="#403a1b"/>
<rect x="579" fill="#553c2f"/>
<rect x="580" fill="#3d3122"/>
<rect x="581" fill="#473e1e"/>
<rect x="582" fill="#5f5322"/>
<rect x="583" fill="#78731b"/>
<rect x="584" fill="#49233d"/>
<rect x="585" fill="#6b651c"/>
<rect x="586" fill="#403125"/>
<rect x="587" fill="#5e581c"/>
<rect x="588" fill="#726e19"/>
<rect x="589" fill="#59521d"/>
<rect x="590" fill="#59521d"/>
<rect x="591" fill="#423820"/>
<rect x="592" fill="#564f1e"/>
<rect x="593" fill="#796f20"/>
<rect x="594" fill="#635d1b"/>
<rect x="595" fill="#453f1c"/>
<rect x="596" fill="#392e21"/>
<rect x="597" fill="#4e4420"/>
<rect x="598" fill="#5e551f"/>
<rect x="599" fill="#524c1c"/>
<rect x="600" fill="#544723"/>
<rect x="601" fill="#4a2739"/>
<rect x="602" fill="#3d361d"/>
<rect x="603" fill="#494619"/>
<rect x="604" fill="#59521d"/>
<rect x="605" fill="#40391e"/>
<rect x="606" fill="#4b431e"/>
<rect x="607" fill="#362f1e"/>
<rect x="608" fill="#534e1c"/>
<rect x="609" fill="#3d292a"/>
<rect x="610" fill="#352a22"/>
<rect x="611" fill="#481f3f"/>
<rect x="612" fill="#362824"/>
<rect x="613" fill="#423d1c"/>
<rect x="614" fill="#502144"/>
<rect x="615" fill="#665923"/>
<rect x="616" fill="#656417"/>
<rect x="617" fill="#6f6a1b"/>
<rect x="618" fill="#5b5021"/>
<rect x="619" fill="#6b6120"/>
<rect x="620" fill="#3c381a"/>
<rect x="621" fill="#3d341e"/>
<rect x="622" fill="#514a1d"/>
<rect x="623" fill="#675c21"/>
<rect x="624" fill="#645d1d"/>
<rect x="625" fill="#696619"/>
<rect x="626" fill="#483e21"/>
<rect x="627" fill="#3e351f"/>
<rect x="628" fill="#635b1f"/>
<rect x="629" fill="#625d1b"/>
<rect x="630" fill="#79741b"/>
<rect x="631" fill="#44401a"/>
<rect x="632" fill="#46312b"/>
<rect x="633" fill="#51392f"/>
<rect x="634" fill="#5c581a"/>
<rect x="635" fill="#4d4023"/>
<rect x="636" fill="#746c1f"/>
<rect x="637" fill="#6e6a1a"/>
<rect x="638" fill="#69621d"/>
<rect x="639" fill="#572e3f"/>
<rect x="640" fill="#735336"/>
<rect x="641" fill="#564c20"/>
<rect x="642" fill="#3e371d"/>
<rect x="643" fill="#413d1a"/>
<rect x="644" fill="#403125"/>
<rect x="645" fill="#38232b"/>
<rect x="646" fill="#492639"/>
<rect x="647" fill="#4c2839"/>
<rect x="648" fill="#482836"/>
<rect x="649" fill="#452833"/>
<rect x="650" fill="#3e252e"/>
<rect x="651" fill="#3e282d"/>
<rect x="652" fill="#422335"/>
<rect x="653" fill="#48223d"/>
<rect x="654" width="0.9" fill="#4c263b"/>
</g>
<g transform="translate(0,138)" class="h3">
<rect x="253.8" width="0.2" fill="#5e1f55"/>
<rect x="254" fill="#5d1e55"/>
<rect x="255" fill="#5c1c55"/>
<rect x="256" fill="#231820"/>
<rect x="257" fill="#8d1d86"/>
<rect x="258" fill="#4b1b45"/>
<rect x="259" fill="#201b1b"/>
<rect x="260" fill="#281c22"/>
<rect x="261" fill="#3e1c37"/>
<rect x="262" fill="#441842"/>
<rect x="263" fill="#8e1c88"/>
<rect x="264" fill="#741a70"/>
<rect x="265" fill="#381836"/>
<rect x="266" fill="#391a35"/>
<rect x="267" fill="#1e191b"/>
<rect x="268" fill="#5f2154"/>
<rect x="269" fill="#321a2e"/>
<rect x="270" fill="#931e8b"/>
<rect x="271" fill="#b61fad"/>
<rect x="272" fill="#411c3c"/>
<rect x="273" fill="#1e181c"/>
<rect x="274" fill="#21181f"/>
<rect x="275" fill="#311730"/>
<rect x="276" fill="#301b2a"/>
<rect x="277" fill="#542447"/>
<rect x="278" fill="#1d1c16"/>
<rect x="279" fill="#441c3e"/>
<rect x="280" fill="#8e1c88"/>
<rect x="281" fill="#4e1d47"/>
<rect x="282" fill="#8e198a"/>
<rect x="283" fill="#c323b6"/>
<rect x="284" fill="#5f1b5a"/>
<rect x="285" fill="#481b42"/>
<rect x="286" fill="#8b1b86"/>
<rect x="287" fill="#691a65"/>
<rect x="288" fill="#771c71"/>
<rect x="289" fill="#6f1b6a"/>
<rect x="290" fill="#2c1b27"/>
<rect x="291" fill="#6d1c66"/>
<rect x="292" fill="#2b1829"/>
<rect x="293" fill="#b71fae"/>
<rect x="294" fill="#3b1d33"/>
<rect x="295" fill="#651f5d"/>
<rect x="296" fill="#1d1a19"/>
<rect x="297" fill="#9d1b98"/>
<rect x="298" fill="#891c83"/>
<rect x="299" fill="#301c2a"/>
<rect x="300" fill="#2a1b25"/>
<rect x="301" fill="#291926"/>
<rect x="302" fill="#691a65"/>
<rect x="303" fill="#8e1e86"/>
<rect x="304" fill="#991c93"/>
<rect x="305" fill="#5c1b57"/>
<rect x="306" fill="#2e192b"/>
<rect x="307" fill="#5e1e56"/>
<rect x="308" fill="#591d52"/>
<rect x="309" fill="#781c72"/>
<rect x="310" fill="#a01f97"/>
<rect x="311" fill="#941991"/>
<rect x="312" fill="#d21bcd"/>
<rect x="313" fill="#a02492"/>
<rect x="314" fill="#851f7d"/>
<rect x="315" fill="#811f78"/>
<rect x="316" fill="#1c171b"/>
<rect x="317" fill="#621a5f"/>
<rect x="318" fill="#2d1b28"/>
<rect x="319" fill="#841e7c"/>
<rect x="320" fill="#441c3f"/>
<rect x="321" fill="#2e1b29"/>
<rect x="322" fill="#211c1b"/>
<rect x="323" fill="#8a237e"/>
<rect x="324" fill="#721a6e"/>
<rect x="325" fill="#8f1c89"/>
<rect x="326" fill="#2e1b29"/>
<rect x="327" fill="#461e3e"/>
<rect x="328" fill="#ac1ea4"/>
<rect x="329" fill="#8e1a8a"/>
<rect x="330" fill="#3d1b38"/>
<rect x="331" fill="#3c1d36"/>
<rect x="332" fill="#521e4a"/>
<rect x="333" fill="#8d683b"/>
<rect x="334" fill="#9f9f16"/>
<rect x="335" fill="#dfdc19"/>
<rect x="336" fill="#ded71d"/>
<rect x="337" fill="#ded91a"/>
<rect x="338" fill="#eeed18"/>
<rect x="339" fill="#aaa41c"/>
<rect x="340" fill="#c7c21b"/>
<rect x="341" fill="#f7f31a"/>
<rect x="342" fill="#dcd71b"/>
<rect x="343" fill="#cac917"/>
<rect x="344" fill="#847c1e"/>
<rect x="345" fill="#d6d418"/>
<rect x="346" fill="#a09c1a"/>
<rect x="347" fill="#6b641d"/>
<rect x="348" fill="#746d1e"/>
<rect x="349" fill="#a7a31a"/>
<rect x="350" fill="#deda1a"/>
<rect x="351" fill="#f6f21a"/>
<rect x="352" fill="#eeec18"/>
<rect x="353" fill="#dedb18"/>
<rect x="354" fill="#c8c717"/>
<rect x="355" fill="#a8a41b"/>
<rect x="356" fill="#aca71c"/>
<rect x="357" fill="#a49f1b"/>
<rect x="358" fill="#ada91a"/>
<rect x="359" fill="#807e17"/>
<rect x="360" fill="#b2b018"/>
<rect x="361" fill="#eeea1a"/>
<rect x="362" fill="#c9c31c"/>
<rect x="363" fill="#cac719"/>
<rect x="364" fill="#a29a1e"/>
<rect x="365" fill="#b4ae1c"/>
<rect x="366" fill="#c1bd1a"/>
<rect x="367" fill="#6d661e"/>
<rect x="368" fill="#655c1f"/>
<rect x="369" fill="#d7d31a"/>
<rect x="370" fill="#a29f1a"/>
<rect x="371" fill="#f2f018"/>
<rect x="372" fill="#ada220"/>
<rect x="373" fill="#7a6e21"/>
<rect x="374" fill="#aba819"/>
<rect x="375" fill="#c8c41a"/>
<rect x="376" fill="#cfcd17"/>
<rect x="377" fill="#bebb19"/>
<rect x="378" fill="#84801a"/>
<rect x="379" fill="#9c971b"/>
<rect x="380" fill="#f9f619"/>
<rect x="381" fill="#fffe1b"/>
<rect x="382" fill="#f9f11d"/>
<rect x="383" fill="#8f871e"/>
<rect x="384" fill="#b0aa1b"/>
<rect x="385" fill="#abaa17"/>
<rect x="386" fill="#cccb17"/>
<rect x="387" fill="#e0dc1a"/>
<rect x="388" fill="#b3ae1c"/>
<rect x="389" fill="#8f8421"/>
<rect x="390" fill="#7c731f"/>
<rect x="391" fill="#adaa19"/>
<rect x="392" fill="#cfcd18"/>
<rect x="393" fill="#dedb18"/>
<rect x="394" fill="#d9d817"/>
<rect x="395" fill="#f1ef18"/>
<rect x="396" fill="#efec18"/>
<rect x="397" fill="#918d1a"/>
<rect x="398" fill="#737218"/>
<rect x="399" fill="#b6b319"/>
<rect x="400" fill="#e1dd1a"/>
<rect x="401" fill="#aba61b"/>
<rect x="402" fill="#d8d41a"/>
<rect x="403" fill="#d2ce1a"/>
<rect x="404" fill="#f6ef1d"/>
<rect x="405" fill="#e4e219"/>
<rect x="406" fill="#ecea18"/>
<rect x="407" fill="#544921"/>
<rect x="408" fill="#85801b"/>
<rect x="409" fill="#544a20"/>
<rect x="410" fill="#b4af1b"/>
<rect x="411" fill="#807a1c"/>
<rect x="412" fill="#bdb61c"/>
<rect x="413" fill="#8b8918"/>
<rect x="414" fill="#c2be1a"/>
<rect x="415" fill="#a7a716"/>
<rect x="416" fill="#d2d117"/>
<rect x="417" fill="#d7d518"/>
<rect x="418" fill="#7a751b"/>
<rect x="419" fill="#87801d"/>
<rect x="420" fill="#777517"/>
<rect x="421" fill="#978f1e"/>
<rect x="422" fill="#fbf819"/>
<rect x="423" fill="#e5e319"/>
<rect x="424" fill="#d4d119"/>
<rect x="425" fill="#dddc17"/>
<rect x="426" fill="#9b9a17"/>
<rect x="427" fill="#d3d218"/>
<rect x="428" fill="#5a561a"/>
<rect x="429" fill="#bfba1b"/>
<rect x="430" fill="#e0de18"/>
<rect x="431" fill="#d9d816"/>
<rect x="432" fill="#dedb19"/>
<rect x="433" fill="#d6d21a"/>
<rect x="434" fill="#59521d"/>
<rect x="435" fill="#68641a"/>
<rect x="436" fill="#918a1c"/>
<rect x="437" fill="#797718"/>
<rect x="438" fill="#544e1c"/>
<rect x="439" fill="#5d581c"/>
<rect x="440" fill="#a5a11a"/>
<rect x="441" fill="#ada91a"/>
<rect x="442" fill="#726820"/>
<rect x="443" fill="#504224"/>
<rect x="444" fill="#837920"/>
<rect x="445" fill="#ddd91a"/>
<rect x="446" fill="#7d751e"/>
<rect x="447" fill="#7e781c"/>
<rect x="448" fill="#605c1a"/>
<rect x="449" fill="#78731b"/>
<rect x="450" fill="#cac817"/>
<rect x="451" fill="#b8b51a"/>
<rect x="452" fill="#c8c618"/>
<rect x="453" fill="#e1e116"/>
<rect x="454" fill="#e7e517"/>
<rect x="455" fill="#dad817"/>
<rect x="456" fill="#ebea16"/>
<rect x="457" fill="#f4f417"/>
<rect x="458" fill="#eae917"/>
<rect x="459" fill="#e4e416"/>
<rect x="460" fill="#e8e816"/>
<rect x="461" fill="#edec16"/>
<rect x="462" fill="#d5d417"/>
<rect x="463" fill="#dede17"/>
<rect x="464" fill="#cac719"/>
<rect x="465" fill="#dfdd17"/>
<rect x="466" fill="#eded16"/>
<rect x="467" fill="#efef16"/>
<rect x="468" fill="#f4f416"/>
<rect x="469" fill="#f8f816"/>
<rect x="470" fill="#ebeb16"/>
<rect x="471" fill="#ecec16"/>
<rect x="472" fill="#d0ce18"/>
<rect x="473" fill="#f5f516"/>
<rect x="474" fill="#f5f516"/>
<rect x="475" fill="#e8e816"/>
<rect x="476" fill="#e6e616"/>
<rect x="477" fill="#eded16"/>
<rect x="478" fill="#eeee16"/>
<rect x="479" fill="#f5f517"/>
<rect x="480" fill="#fbfb17"/>
<rect x="481" fill="#ffff16"/>
<rect x="482" fill="#f8f816"/>
<rect x="483" fill="#f0ef16"/>
<rect x="484" fill="#b3b217"/>
<rect x="485" fill="#c2c018"/>
<rect x="486" fill="#eeed17"/>
<rect x="487" fill="#eeed18"/>
<rect x="488" fill="#e3e316"/>
<rect x="489" fill="#e3e316"/>
<rect x="490" fill="#e5e417"/>
<rect x="491" fill="#ebeb16"/>
<rect x="492" fill="#d8d816"/>
<rect x="493" fill="#dbdb16"/>
<rect x="494" fill="#e6e616"/>
<rect x="495" fill="#d6d616"/>
<rect x="496" fill="#f3f316"/>
<rect x="497" fill="#dcdc16"/>
<rect x="498" fill="#d7d617"/>
<rect x="499" fill="#f4f416"/>
<rect x="500" fill="#f4f316"/>
<rect x="501" fill="#fdfd16"/>
<rect x="502" fill="#f7f617"/>
<rect x="503" fill="#fafa16"/>
<rect x="504" fill="#a6a418"/>
<rect x="505" fill="#a4a416"/>
<rect x="506" fill="#adab17"/>
<rect x="507" fill="#e5e516"/>
<rect x="508" fill="#f9f916"/>
<rect x="509" fill="#ecec16"/>
<rect x="510" fill="#f5f516"/>
<rect x="511" fill="#dddd16"/>
<rect x="512" fill="#bbba17"/>
<rect x="513" fill="#bdb71b"/>
<rect x="514" fill="#ebe819"/>
<rect x="515" fill="#f6f617"/>
<rect x="516" fill="#f4f416"/>
<rect x="517" fill="#eeee16"/>
<rect x="518" fill="#ebea17"/>
<rect x="519" fill="#f0ef17"/>
<rect x="520" fill="#d4d417"/>
<rect x="521" fill="#ebea17"/>
<rect x="522" fill="#f2f117"/>
<rect x="523" fill="#e8e816"/>
<rect x="524" fill="#eeee16"/>
<rect x="525" fill="#e7e717"/>
<rect x="526" fill="#e7e617"/>
<rect x="527" fill="#dad916"/>
<rect x="528" fill="#efee17"/>
<rect x="529" fill="#e1e016"/>
<rect x="530" fill="#c6c517"/>
<rect x="531" fill="#f0f016"/>
<rect x="532" fill="#e2e216"/>
<rect x="533" fill="#eded16"/>
<rect x="534" fill="#e1e117"/>
<rect x="535" fill="#d9d816"/>
<rect x="536" fill="#e2e116"/>
<rect x="537" fill="#e9e816"/>
<rect x="538" fill="#eceb17"/>
<rect x="539" fill="#ebeb16"/>
<rect x="540" fill="#d4d119"/>
<rect x="541" fill="#f6f517"/>
<rect x="542" fill="#f6f616"/>
<rect x="543" fill="#cecc17"/>
<rect x="544" fill="#f1f116"/>
<rect x="545" fill="#eeee16"/>
<rect x="546" fill="#f6f616"/>
<rect x="547" fill="#e3e317"/>
<rect x="548" fill="#cfce17"/>
<rect x="549" fill="#edec17"/>
<rect x="550" fill="#e5e516"/>
<rect x="551" fill="#e3e216"/>
<rect x="552" fill="#f2f217"/>
<rect x="553" fill="#f6f616"/>
<rect x="554" fill="#bbba16"/>
<rect x="555" fill="#e2e117"/>
<rect x="556" fill="#decd27"/>
<rect x="557" fill="#842575"/>
<rect x="558" fill="#791e71"/>
<rect x="559" fill="#901c8a"/>
<rect x="560" fill="#641e5c"/>
<rect x="561" fill="#76216c"/>
<rect x="562" fill="#9d2192"/>
<rect x="563" fill="#922583"/>
<rect x="564" fill="#c521ba"/>
<rect x="565" fill="#98248a"/>
<rect x="566" fill="#a21e99"/>
<rect x="567" fill="#bf21b4"/>
<rect x="568" fill="#87217c"/>
<rect x="569" fill="#98238b"/>
<rect x="570" fill="#7a1d72"/>
<rect x="571" fill="#7c1e74"/>
<rect x="572" fill="#991f8f"/>
<rect x="573" fill="#bd1fb3"/>
<rect x="574" fill="#af23a2"/>
<rect x="575" fill="#a9239c"/>
<rect x="576" fill="#751a72"/>
<rect x="577" fill="#8f2086"/>
<rect x="578" fill="#8d1b88"/>
<rect x="579" fill="#a71f9e"/>
<rect x="580" fill="#922286"/>
<rect x="581" fill="#83207a"/>
<rect x="582" fill="#b023a3"/>
<rect x="583" fill="#812176"/>
<rect x="584" fill="#802472"/>
<rect x="585" fill="#732a5f"/>
<rect x="586" fill="#9d2390"/>
<rect x="587" fill="#851d7e"/>
<rect x="588" fill="#941e8b"/>
<rect x="589" fill="#901d89"/>
<rect x="590" fill="#711e69"/>
<rect x="591" fill="#932485"/>
<rect x="592" fill="#bc1bb7"/>
<rect x="593" fill="#55204b"/>
<rect x="594" fill="#bc24af"/>
<rect x="595" fill="#941d8d"/>
<rect x="596" fill="#641d5d"/>
<rect x="597" fill="#a01d9a"/>
<rect x="598" fill="#ab1ca5"/>
<rect x="599" fill="#76216c"/>
<rect x="600" fill="#823b5d"/>
<rect x="601" fill="#ce23c0"/>
<rect x="602" fill="#ce1fc5"/>
<rect x="603" fill="#642259"/>
<rect x="604" fill="#6d2064"/>
<rect x="605" fill="#822079"/>
<rect x="606" fill="#751c6e"/>
<rect x="607" fill="#762566"/>
<rect x="608" fill="#7a216f"/>
<rect x="609" fill="#641e5c"/>
<rect x="610" fill="#571c51"/>
<rect x="611" fill="#791e71"/>
<rect x="612" fill="#78216e"/>
<rect x="613" fill="#712166"/>
<rect x="614" fill="#831f7a"/>
<rect x="615" fill="#b222a7"/>
<rect x="616" fill="#9f2392"/>
<rect x="617" fill="#a52596"/>
<rect x="618" fill="#bb22af"/>
<rect x="619" fill="#bd1cb7"/>
<rect x="620" fill="#d21ccc"/>
<rect x="621" fill="#a22099"/>
<rect x="622" fill="#3c1c36"/>
<rect x="623" fill="#6a2060"/>
<rect x="624" fill="#bb24ae"/>
<rect x="625" fill="#d120c7"/>
<rect x="626" fill="#ad1da6"/>
<rect x="627" fill="#611f58"/>
<rect x="628" fill="#5b1f52"/>
<rect x="629" fill="#bd21b2"/>
<rect x="630" fill="#d820ce"/>
<rect x="631" fill="#a24d6c"/>
<rect x="632" fill="#94208a"/>
<rect x="633" fill="#b420aa"/>
<rect x="634" fill="#ad1fa4"/>
<rect x="635" fill="#862675"/>
<rect x="636" fill="#6b2060"/>
<rect x="637" fill="#8a2080"/>
<rect x="638" fill="#832277"/>
<rect x="639" fill="#2f2124"/>
<rect x="640" fill="#9c1c96"/>
<rect x="641" fill="#531f4b"/>
<rect x="642" fill="#4a1e43"/>
<rect x="643" fill="#961f8e"/>
<rect x="644" fill="#861a82"/>
<rect x="645" fill="#9b1b96"/>
<rect x="646" fill="#791c73"/>
<rect x="647" fill="#491b45"/>
<rect x="648" fill="#551f4c"/>
<rect x="649" fill="#c422b8"/>
<rect x="650" fill="#cb24bd"/>
<rect x="651" fill="#901f88"/>
<rect x="652" fill="#541c4e"/>
<rect x="653" fill="#2d1d26"/>
<rect x="654" width="0.9" fill="#bf1db8"/>
</g>
<g transform="translate(0,175.9)" class="h4">
<rect x="253.8" width="0.2" fill="#fcfc16"/>
<rect x="254" fill="#fcfc16"/>
<rect x="255" fill="#fcfb16"/>
<rect x="256" fill="#fffe17"/>
<rect x="257" fill="#fefd18"/>
<rect x="258" fill="#ffff17"/>
<rect x="259" fill="#dfdf16"/>
<rect x="260" fill="#ffff16"/>
<rect x="261" fill="#fbfb16"/>
<rect x="262" fill="#fdfc17"/>
<rect x="263" fill="#fbfa17"/>
<rect x="264" fill="#ffff17"/>
<rect x="265" fill="#ffff17"/>
<rect x="266" fill="#eceb16"/>
<rect x="267" fill="#fdfd16"/>
<rect x="268" fill="#fbfb16"/>
<rect x="269" fill="#ffff17"/>
<rect x="270" fill="#f5f516"/>
<rect x="271" fill="#f9f916"/>
<rect x="272" fill="#fdfd16"/>
<rect x="273" fill="#fcfc16"/>
<rect x="274" fill="#ffff17"/>
<rect x="275" fill="#dfdf16"/>
<rect x="276" fill="#f1f116"/>
<rect x="277" fill="#fdfd16"/>
<rect x="278" fill="#ffff16"/>
<rect x="279" fill="#fefe16"/>
<rect x="280" fill="#fcfc16"/>
<rect x="281" fill="#f7f716"/>
<rect x="282" fill="#ffff17"/>
<rect x="283" fill="#fffe16"/>
<rect x="284" fill="#dcdc16"/>
<rect x="285" fill="#d8d816"/>
<rect x="286" fill="#e9e718"/>
<rect x="287" fill="#f8f617"/>
<rect x="288" fill="#fcfc16"/>
<rect x="289" fill="#fafa16"/>
<rect x="290" fill="#ffff16"/>
<rect x="291" fill="#fefe17"/>
<rect x="292" fill="#fcfc16"/>
<rect x="293" fill="#fefe16"/>
<rect x="294" fill="#ffff16"/>
<rect x="295" fill="#fafa16"/>
<rect x="296" fill="#ffff16"/>
<rect x="297" fill="#fdfc17"/>
<rect x="298" fill="#fffe16"/>
<rect x="299" fill="#fafa16"/>
<rect x="300" fill="#ffff17"/>
<rect x="301" fill="#f8f816"/>
<rect x="302" fill="#fefd17"/>
<rect x="303" fill="#ffff18"/>
<rect x="304" fill="#d8d816"/>
<rect x="305" fill="#f8f816"/>
<rect x="306" fill="#c6c616"/>
<rect x="307" fill="#f7f716"/>
<rect x="308" fill="#ffff16"/>
<rect x="309" fill="#fcfc16"/>
<rect x="310" fill="#eded16"/>
<rect x="311" fill="#fcfc16"/>
<rect x="312" fill="#fbfb16"/>
<rect x="313" fill="#ffff16"/>
<rect x="314" fill="#fdfd16"/>
<rect x="315" fill="#ffff16"/>
<rect x="316" fill="#ffff16"/>
<rect x="317" fill="#ffff16"/>
<rect x="318" fill="#dbdb16"/>
<rect x="319" fill="#fafa16"/>
<rect x="320" fill="#ffff16"/>
<rect x="321" fill="#ffff17"/>
<rect x="322" fill="#fefe16"/>
<rect x="323" fill="#ffff16"/>
<rect x="324" fill="#f9f916"/>
<rect x="325" fill="#fcfc16"/>
<rect x="326" fill="#fcfb16"/>
<rect x="327" fill="#ffff16"/>
<rect x="328" fill="#ffff17"/>
<rect x="329" fill="#c9c817"/>
<rect x="330" fill="#f7f716"/>
<rect x="331" fill="#fdfc16"/>
<rect x="332" fill="#ffff17"/>
<rect x="333" fill="#fffe17"/>
<rect x="334" fill="#848118"/>
<rect x="335" fill="#b0ab1a"/>
<rect x="336" fill="#ab5071"/>
<rect x="337" fill="#532b3e"/>
<rect x="338" fill="#a09720"/>
<rect x="339" fill="#948d1d"/>
<rect x="340" fill="#706e19"/>
<rect x="341" fill="#a6a418"/>
<rect x="342" fill="#fce929"/>
<rect x="343" fill="#da846c"/>
<rect x="344" fill="#bf8d48"/>
<rect x="345" fill="#6c6a19"/>
<rect x="346" fill="#817d1a"/>
<rect x="347" fill="#918d1a"/>
<rect x="348" fill="#a05f58"/>
<rect x="349" fill="#88702e"/>
<rect x="350" fill="#655e1d"/>
<rect x="351" fill="#9a238d"/>
<rect x="352" fill="#7d741f"/>
<rect x="353" fill="#804f47"/>
<rect x="354" fill="#af4282"/>
<rect x="355" fill="#e2a157"/>
<rect x="356" fill="#b7b419"/>
<rect x="357" fill="#922781"/>
<rect x="358" fill="#302125"/>
<rect x="359" fill="#716d1a"/>
<rect x="360" fill="#66621a"/>
<rect x="361" fill="#9c3081"/>
<rect x="362" fill="#843c5e"/>
<rect x="363" fill="#b0695d"/>
<rect x="364" fill="#cc7072"/>
<rect x="365" fill="#736b1e"/>
<rect x="366" fill="#d3cf1a"/>
<rect x="367" fill="#c16770"/>
<rect x="368" fill="#bca42e"/>
<rect x="369" fill="#75602b"/>
<rect x="370" fill="#b87e50"/>
<rect x="371" fill="#362b21"/>
<rect x="372" fill="#ac477b"/>
<rect x="373" fill="#8e6d37"/>
<rect x="374" fill="#535019"/>
<rect x="375" fill="#342b1f"/>
<rect x="376" fill="#362824"/>
<rect x="377" fill="#39252a"/>
<rect x="378" fill="#716324"/>
<rect x="379" fill="#a29e19"/>
<rect x="380" fill="#726f19"/>
<rect x="381" fill="#b8b519"/>
<rect x="382" fill="#8b841c"/>
<rect x="383" fill="#70681e"/>
<rect x="384" fill="#947932"/>
<rect x="385" fill="#986a44"/>
<rect x="386" fill="#61581f"/>
<rect x="387" fill="#524522"/>
<rect x="388" fill="#ada919"/>
<rect x="389" fill="#c0bb1b"/>
<rect x="390" fill="#827a1f"/>
<rect x="391" fill="#513c2b"/>
<rect x="392" fill="#c1be19"/>
<rect x="393" fill="#7e682c"/>
<rect x="394" fill="#b56665"/>
<rect x="395" fill="#d99f51"/>
<rect x="396" fill="#b59a31"/>
<rect x="397" fill="#463428"/>
<rect x="398" fill="#645d1c"/>
<rect x="399" fill="#4f3431"/>
<rect x="400" fill="#9c674b"/>
<rect x="401" fill="#402c2a"/>
<rect x="402" fill="#362724"/>
<rect x="403" fill="#716e1a"/>
<rect x="404" fill="#c17760"/>
<rect x="405" fill="#d1cf18"/>
<rect x="406" fill="#a09d19"/>
<rect x="407" fill="#a5a11a"/>
<rect x="408" fill="#8b425f"/>
<rect x="409" fill="#807e18"/>
<rect x="410" fill="#87623b"/>
<rect x="411" fill="#aa2c95"/>
<rect x="412" fill="#933c6d"/>
<rect x="413" fill="#dfa84d"/>
<rect x="414" fill="#9a733d"/>
<rect x="415" fill="#543c2e"/>
<rect x="416" fill="#777419"/>
<rect x="417" fill="#5c591a"/>
<rect x="418" fill="#90594d"/>
<rect x="419" fill="#e39860"/>
<rect x="420" fill="#acac16"/>
<rect x="421" fill="#a7a11c"/>
<rect x="422" fill="#948e1c"/>
<rect x="423" fill="#cf796d"/>
<rect x="424" fill="#552645"/>
<rect x="425" fill="#312126"/>
<rect x="426" fill="#905254"/>
<rect x="427" fill="#6e2163"/>
<rect x="428" fill="#682657"/>
<rect x="429" fill="#872c71"/>
<rect x="430" fill="#b67557"/>
<rect x="431" fill="#8d881b"/>
<rect x="432" fill="#a83d81"/>
<rect x="433" fill="#ead42b"/>
<rect x="434" fill="#cc6a79"/>
<rect x="435" fill="#978924"/>
<rect x="436" fill="#652556"/>
<rect x="437" fill="#db559c"/>
<rect x="438" fill="#7f761e"/>
<rect x="439" fill="#2b2121"/>
<rect x="440" fill="#67631a"/>
<rect x="441" fill="#be6c69"/>
<rect x="442" fill="#a7417c"/>
<rect x="443" fill="#c38e4b"/>
<rect x="444" fill="#d8d618"/>
<rect x="445" fill="#b42f9a"/>
<rect x="446" fill="#7a7020"/>
<rect x="447" fill="#89801f"/>
<rect x="448" fill="#ab7d44"/>
<rect x="449" fill="#cf855f"/>
<rect x="450" fill="#8a851b"/>
<rect x="451" fill="#564e1f"/>
<rect x="452" fill="#563d2e"/>
<rect x="453" fill="#c87767"/>
<rect x="454" fill="#d96987"/>
<rect x="455" fill="#a85966"/>
<rect x="456" fill="#491e41"/>
<rect x="457" fill="#bb824f"/>
<rect x="458" fill="#736a20"/>
<rect x="459" fill="#615720"/>
<rect x="460" fill="#e32ecb"/>
<rect x="461" fill="#c127af"/>
<rect x="462" fill="#955f4c"/>
<rect x="463" fill="#bf8b4b"/>
<rect x="464" fill="#89544c"/>
<rect x="465" fill="#c46a70"/>
<rect x="466" fill="#633741"/>
<rect x="467" fill="#872479"/>
<rect x="468" fill="#bdb71c"/>
<rect x="469" fill="#bbb220"/>
<rect x="470" fill="#5a1c53"/>
<rect x="471" fill="#371b32"/>
<rect x="472" fill="#7f3f56"/>
<rect x="473" fill="#721f69"/>
<rect x="474" fill="#6f1c69"/>
<rect x="475" fill="#621a5e"/>
<rect x="476" fill="#623246"/>
<rect x="477" fill="#704b3b"/>
<rect x="478" fill="#4d253e"/>
<rect x="479" fill="#832178"/>
<rect x="480" fill="#7e1e75"/>
<rect x="481" fill="#9f3e78"/>
<rect x="482" fill="#7c3e54"/>
<rect x="483" fill="#2c1c26"/>
<rect x="484" fill="#2b1e23"/>
<rect x="485" fill="#655f1c"/>
<rect x="486" fill="#722661"/>
<rect x="487" fill="#421d3b"/>
<rect x="488" fill="#98218d"/>
<rect x="489" fill="#ac239f"/>
<rect x="490" fill="#502640"/>
<rect x="491" fill="#7c771a"/>
<rect x="492" fill="#391e31"/>
<rect x="493" fill="#7c4f43"/>
<rect x="494" fill="#835f3a"/>
<rect x="495" fill="#752665"/>
<rect x="496" fill="#641c5f"/>
<rect x="497" fill="#772963"/>
<rect x="498" fill="#602353"/>
<rect x="499" fill="#543832"/>
<rect x="500" fill="#88405e"/>
<rect x="501" fill="#7b1d74"/>
<rect x="502" fill="#806b2b"/>
<rect x="503" fill="#4a312f"/>
<rect x="504" fill="#711e69"/>
<rect x="505" fill="#b03a8c"/>
<rect x="506" fill="#945259"/>
<rect x="507" fill="#942387"/>
<rect x="508" fill="#4a243c"/>
<rect x="509" fill="#622d4b"/>
<rect x="510" fill="#625c1c"/>
<rect x="511" fill="#39222e"/>
<rect x="512" fill="#6a1c64"/>
<rect x="513" fill="#7c2170"/>
<rect x="514" fill="#8c4959"/>
<rect x="515" fill="#615621"/>
<rect x="516" fill="#ad3192"/>
<rect x="517" fill="#856339"/>
<rect x="518" fill="#7f4056"/>
<rect x="519" fill="#472439"/>
<rect x="520" fill="#4c1d45"/>
<rect x="521" fill="#7a315f"/>
<rect x="522" fill="#712563"/>
<rect x="523" fill="#823860"/>
<rect x="524" fill="#6e1e65"/>
<rect x="525" fill="#7c365b"/>
<rect x="526" fill="#911e8a"/>
<rect x="527" fill="#91386f"/>
<rect x="528" fill="#762567"/>
<rect x="529" fill="#723a4e"/>
<rect x="530" fill="#623345"/>
<rect x="531" fill="#b33297"/>
<rect x="532" fill="#a02591"/>
<rect x="533" fill="#56214b"/>
<rect x="534" fill="#66215b"/>
<rect x="535" fill="#88237c"/>
<rect x="536" fill="#4a2040"/>
<rect x="537" fill="#87217b"/>
<rect x="538" fill="#7e2372"/>
<rect x="539" fill="#943c6e"/>
<rect x="540" fill="#462c30"/>
<rect x="541" fill="#491a45"/>
<rect x="542" fill="#603244"/>
<rect x="543" fill="#8b425e"/>
<rect x="544" fill="#9a1f91"/>
<rect x="545" fill="#2d2221"/>
<rect x="546" fill="#534e1c"/>
<rect x="547" fill="#69235d"/>
<rect x="548" fill="#6e2163"/>
<rect x="549" fill="#74503b"/>
<rect x="550" fill="#b53d8e"/>
<rect x="551" fill="#531e4b"/>
<rect x="552" fill="#7d2a69"/>
<rect x="553" fill="#72493f"/>
<rect x="554" fill="#682c52"/>
<rect x="555" fill="#7f3065"/>
<rect x="556" fill="#412334"/>
<rect x="557" fill="#762665"/>
<rect x="558" fill="#702265"/>
<rect x="559" fill="#69205f"/>
<rect x="560" fill="#832475"/>
<rect x="561" fill="#ac21a1"/>
<rect x="562" fill="#b821ad"/>
<rect x="563" fill="#b33c8d"/>
<rect x="564" fill="#bc379b"/>
<rect x="565" fill="#914f58"/>
<rect x="566" fill="#7c5240"/>
<rect x="567" fill="#743456"/>
<rect x="568" fill="#84207a"/>
<rect x="569" fill="#7f2075"/>
<rect x="570" fill="#884b52"/>
<rect x="571" fill="#d52ebc"/>
<rect x="572" fill="#fa27ea"/>
<rect x="573" fill="#ed5aa9"/>
<rect x="574" fill="#b36168"/>
<rect x="575" fill="#7b3160"/>
<rect x="576" fill="#a1387f"/>
<rect x="577" fill="#831e7b"/>
<rect x="578" fill="#d325c4"/>
<rect x="579" fill="#ba25aa"/>
<rect x="580" fill="#e822db"/>
<rect x="581" fill="#992985"/>
<rect x="582" fill="#c130a8"/>
<rect x="583" fill="#a54a71"/>
<rect x="584" fill="#9c377b"/>
<rect x="585" fill="#6d374c"/>
<rect x="586" fill="#7b1f71"/>
<rect x="587" fill="#d625c7"/>
<rect x="588" fill="#854952"/>
<rect x="589" fill="#c823ba"/>
<rect x="590" fill="#af2a9b"/>
<rect x="591" fill="#806035"/>
<rect x="592" fill="#b24781"/>
<rect x="593" fill="#bf369f"/>
<rect x="594" fill="#6b1e63"/>
<rect x="595" fill="#7e1a7a"/>
<rect x="596" fill="#7e4153"/>
<rect x="597" fill="#bc2aa8"/>
<rect x="598" fill="#d226c3"/>
<rect x="599" fill="#d637b5"/>
<rect x="600" fill="#ad5a68"/>
<rect x="601" fill="#702165"/>
<rect x="602" fill="#824e4a"/>
<rect x="603" fill="#746723"/>
<rect x="604" fill="#c938a6"/>
<rect x="605" fill="#a8249a"/>
<rect x="606" fill="#75216a"/>
<rect x="607" fill="#8a2080"/>
<rect x="608" fill="#bf29ac"/>
<rect x="609" fill="#6a5828"/>
<rect x="610" fill="#bd30a3"/>
<rect x="611" fill="#b61fad"/>
<rect x="612" fill="#7e1e76"/>
<rect x="613" fill="#964369"/>
<rect x="614" fill="#b0299d"/>
<rect x="615" fill="#744f3b"/>
<rect x="616" fill="#a44476"/>
<rect x="617" fill="#9b446c"/>
<rect x="618" fill="#7f6134"/>
<rect x="619" fill="#9b258c"/>
<rect x="620" fill="#c92db1"/>
<rect x="621" fill="#6c5929"/>
<rect x="622" fill="#fb26eb"/>
<rect x="623" fill="#97228b"/>
<rect x="624" fill="#9e2291"/>
<rect x="625" fill="#5d3241"/>
<rect x="626" fill="#5a4d23"/>
<rect x="627" fill="#7d1e75"/>
<rect x="628" fill="#b423a8"/>
<rect x="629" fill="#822276"/>
<rect x="630" fill="#6a215f"/>
<rect x="631" fill="#d17078"/>
<rect x="632" fill="#e630cc"/>
<rect x="633" fill="#cc1fc4"/>
<rect x="634" fill="#d21fc9"/>
<rect x="635" fill="#a74479"/>
<rect x="636" fill="#d231b7"/>
<rect x="637" fill="#a42298"/>
<rect x="638" fill="#9f2491"/>
<rect x="639" fill="#9f2590"/>
<rect x="640" fill="#d222c6"/>
<rect x="641" fill="#c924bb"/>
<rect x="642" fill="#d343a6"/>
<rect x="643" fill="#ff35e1"/>
<rect x="644" fill="#f02bdc"/>
<rect x="645" fill="#c423b6"/>
<rect x="646" fill="#fd1ff5"/>
<rect x="647" fill="#c523b8"/>
<rect x="648" fill="#a9239c"/>
<rect x="649" fill="#9e3a7b"/>
<rect x="650" fill="#cc2db5"/>
<rect x="651" fill="#bd5e74"/>
<rect x="652" fill="#a92798"/>
<rect x="653" fill="#a84f6f"/>
<rect x="654" width="0.9" fill="#b26662"/>
</g>
</g>
<rect x="245.1" y="24" width="6.9" height="36.6" fill="#F8766D"/>
<text x="236.2" y="44.1" font-size="9.5" text-anchor="middle">1</text>
<rect x="245.1" y="62.3" width="6.9" height="36.3" fill="#A3A500"/>
<text x="236.2" y="82.7" font-size="9.5" text-anchor="middle">2</text>
<rect x="245.1" y="100" width="6.9" height="36.7" fill="#00BF7D"/>
<text x="236.2" y="121.3" font-size="9.5" text-anchor="middle">3</text>
<rect x="245.1" y="138" width="6.9" height="36.5" fill="#00B0F6"/>
<text x="236.2" y="159.9" font-size="9.5" text-anchor="middle">4</text>
<rect x="245.1" y="175.9" width="6.9" height="36.7" fill="#E76BF3"/>
<text x="236.2" y="198.5" font-size="9.5" text-anchor="middle">5</text>
<text x="224.8" y="22" font-size="9.8">AST</text>
<defs><linearGradient id="cb" x1="0" x2="1" y1="0" y2="0"><stop offset="0" stop-color="#ff00ff"/><stop offset="0.5" stop-color="#000000"/><stop offset="1" stop-color="#ffff00"/></linearGradient></defs>
<rect x="582.9" y="11.7" width="71.3" height="8.2" fill="url(#cb)"/>
<line x1="599.3" y1="11.7" x2="599.3" y2="19.9" stroke="#ffffff" stroke-opacity="0.45" stroke-width="0.6"/>
<line x1="618" y1="11.7" x2="618" y2="19.9" stroke="#ffffff" stroke-opacity="0.45" stroke-width="0.6"/>
<line x1="637.2" y1="11.7" x2="637.2" y2="19.9" stroke="#ffffff" stroke-opacity="0.45" stroke-width="0.6"/>
<text x="600.4" y="7.3" font-size="9" text-anchor="end">−1</text>
<text x="618.5" y="7.3" font-size="9" text-anchor="middle">0</text>
<text x="637.4" y="7.3" font-size="9" text-anchor="middle">1</text>
<line x1="21.5" y1="305.2" x2="21.5" y2="526.5" stroke="#000" stroke-width="1.15"/>
<line x1="20.9" y1="525.9" x2="102.8" y2="525.9" stroke="#000" stroke-width="1.15"/>
<line x1="17.5" y1="328.5" x2="21.5" y2="328.5" stroke="#333" stroke-width="0.8"/>
<line x1="17.5" y1="371.5" x2="21.5" y2="371.5" stroke="#333" stroke-width="0.8"/>
<line x1="17.5" y1="414.5" x2="21.5" y2="414.5" stroke="#333" stroke-width="0.8"/>
<line x1="17.5" y1="457.5" x2="21.5" y2="457.5" stroke="#333" stroke-width="0.8"/>
<line x1="17.5" y1="500.5" x2="21.5" y2="500.5" stroke="#333" stroke-width="0.8"/>
<line x1="25.5" y1="525.7" x2="25.5" y2="528" stroke="#333" stroke-width="0.7"/>
<line x1="40.7" y1="525.7" x2="40.7" y2="528" stroke="#333" stroke-width="0.7"/>
<line x1="55.9" y1="525.7" x2="55.9" y2="528" stroke="#333" stroke-width="0.7"/>
<line x1="71.1" y1="525.7" x2="71.1" y2="528" stroke="#333" stroke-width="0.7"/>
<line x1="86.3" y1="525.7" x2="86.3" y2="528" stroke="#333" stroke-width="0.7"/>
<line x1="101.5" y1="525.7" x2="101.5" y2="528" stroke="#333" stroke-width="0.7"/>
<text x="25.5" y="539.1" font-size="9.6" text-anchor="middle">0</text>
<text x="40.7" y="539.1" font-size="9.6" text-anchor="middle">1</text>
<text x="55.9" y="539.1" font-size="9.6" text-anchor="middle">2</text>
<text x="71.1" y="539.1" font-size="9.6" text-anchor="middle">3</text>
<text x="86.3" y="539.1" font-size="9.6" text-anchor="middle">4</text>
<text x="0" y="0" font-size="9.4" text-anchor="middle" font-style="italic" transform="translate(68.9,297.3) scale(1,1.08)">Gfap</text>
<path d="M25.2,308.7 L26.49,309.61 L27.79,310.86 L29.08,313.29 L30.38,316.28 L31.67,319.89 L32.97,322.24 L34.26,323.75 L35.56,324.44 L36.85,324.92 L38.15,325.1 L39.44,324.98 L40.73,324.72 L42.03,324.37 L43.32,323.77 L44.62,323 L45.91,322.15 L47.21,321.1 L48.5,320.04 L49.8,319.14 L51.09,318.4 L52.39,317.73 L53.68,317.16 L54.97,316.7 L56.27,316.25 L57.56,315.89 L58.86,315.71 L60.15,315.74 L61.45,315.9 L62.74,316.12 L64.04,316.37 L65.33,316.78 L66.63,317.31 L67.92,317.89 L69.21,318.47 L70.51,319.11 L71.8,319.78 L73.1,320.44 L74.39,321.04 L75.69,321.58 L76.98,322.09 L78.28,322.59 L79.57,323.09 L80.87,323.62 L82.16,324.2 L83.45,324.78 L84.75,325.31 L86.04,325.74 L87.34,326.07 L88.63,326.35 L89.93,326.61 L91.22,326.89 L92.52,327.2 L93.81,327.53 L95.11,327.87 L96.4,328.2 L96.4,328.2 L95.11,328.53 L93.81,328.87 L92.52,329.2 L91.22,329.51 L89.93,329.79 L88.63,330.05 L87.34,330.33 L86.04,330.66 L84.75,331.09 L83.45,331.62 L82.16,332.2 L80.87,332.78 L79.57,333.31 L78.28,333.81 L76.98,334.31 L75.69,334.82 L74.39,335.36 L73.1,335.96 L71.8,336.62 L70.51,337.29 L69.21,337.93 L67.92,338.51 L66.63,339.09 L65.33,339.62 L64.04,340.03 L62.74,340.28 L61.45,340.5 L60.15,340.66 L58.86,340.69 L57.56,340.51 L56.27,340.15 L54.97,339.7 L53.68,339.24 L52.39,338.67 L51.09,338 L49.8,337.26 L48.5,336.36 L47.21,335.3 L45.91,334.25 L44.62,333.4 L43.32,332.63 L42.03,332.03 L40.73,331.68 L39.44,331.42 L38.15,331.3 L36.85,331.48 L35.56,331.96 L34.26,332.65 L32.97,334.16 L31.67,336.51 L30.38,340.12 L29.08,343.11 L27.79,345.54 L26.49,346.79 L25.2,347.7Z" fill="#F8766D" stroke="#000" stroke-width="0.6"/>
<path stroke="#000" stroke-width="1" d="M24.88 322.5h1.6M25.19 329.5h1.6M25.04 341.5h1.6M24.86 328.5h1.6M24.94 321.5h1.6M24.96 331.5h1.6M24.66 330.5h1.6M24.85 317.5h1.6M25.07 340.5h1.6M25.08 340.5h1.6M24.72 324.5h1.6M24.76 312.5h1.6M25.07 315.5h1.6M25.18 328.5h1.6M24.91 341.5h1.6M24.82 341.5h1.6M25.1 334.5h1.6M25.17 328.5h1.6M24.86 335.5h1.6M24.72 336.5h1.6M24.68 343.5h1.6M25.26 320.5h1.6M24.84 334.5h1.6M25.27 327.5h1.6M24.91 328.5h1.6M24.68 340.5h1.6M25.05 336.5h1.6M25.18 314.5h1.6M24.81 335.5h1.6M24.72 330.5h1.6M24.96 321.5h1.6M24.66 330.5h1.6M24.68 337.5h1.6M25.21 315.5h1.6M25.06 331.5h1.6M25.02 321.5h1.6M24.77 344.5h1.6M25.14 313.5h1.6M24.75 323.5h1.6M24.9 314.5h1.6M25.23 335.5h1.6M24.82 324.5h1.6M24.72 318.5h1.6M24.77 342.5h1.6M24.98 312.5h1.6M77.22 312.5h1.6M70.06 338.5h1.6M45.67 316.5h1.6M65.21 335.5h1.6M56.97 328.5h1.6M65.93 342.5h1.6M69.55 336.5h1.6M66.78 334.5h1.6M62.78 330.5h1.6M61.97 339.5h1.6M67.68 316.5h1.6M76.69 311.5h1.6M58.59 320.5h1.6M80.75 339.5h1.6M87.99 328.5h1.6M61.79 321.5h1.6M68.28 331.5h1.6M40.62 344.5h1.6M53.23 329.5h1.6M70.58 339.5h1.6M59.51 333.5h1.6M38.66 335.5h1.6M47.61 329.5h1.6M50.68 319.5h1.6M59.44 316.5h1.6M71.6 316.5h1.6M71.22 335.5h1.6M77.76 338.5h1.6M50.91 335.5h1.6M57.17 319.5h1.6M72.57 315.5h1.6M76.5 326.5h1.6M72.26 341.5h1.6M38.05 334.5h1.6M60.66 321.5h1.6M66.51 326.5h1.6M70.87 327.5h1.6M61.12 322.5h1.6M40.32 341.5h1.6M81.16 317.5h1.6M42.17 330.5h1.6M54.08 334.5h1.6M59.16 316.5h1.6M72.93 328.5h1.6M61.23 324.5h1.6M65.84 338.5h1.6M61.28 330.5h1.6M47.02 314.5h1.6M39.75 333.5h1.6M63.95 332.5h1.6M67.39 331.5h1.6M54.87 315.5h1.6M46.38 333.5h1.6M62.19 323.5h1.6M49.12 339.5h1.6M56.28 342.5h1.6M45.33 324.5h1.6M58.61 318.5h1.6M72.88 339.5h1.6M89.53 313.5h1.6M53.6 320.5h1.6M59.22 341.5h1.6M82.95 328.5h1.6M75.59 312.5h1.6M77.52 340.5h1.6M67.19 324.5h1.6M70.33 329.5h1.6M51.45 321.5h1.6M73.36 329.5h1.6M56.17 342.5h1.6M66.14 322.5h1.6M82.61 324.5h1.6M40.2 333.5h1.6M65.31 326.5h1.6M58.69 312.5h1.6M60.1 334.5h1.6M50.71 322.5h1.6M55.27 335.5h1.6M63.76 321.5h1.6M78.38 339.5h1.6M73.88 319.5h1.6M43.58 326.5h1.6M86.18 334.5h1.6M57.48 344.5h1.6M51.04 315.5h1.6M38.79 311.5h1.6M68.01 321.5h1.6M74.39 337.5h1.6M88.29 321.5h1.6M49.47 313.5h1.6M56.93 339.5h1.6M63.23 321.5h1.6M67.44 338.5h1.6M58.43 324.5h1.6M47.85 312.5h1.6M48.4 323.5h1.6M83.3 322.5h1.6M78.07 338.5h1.6M52.82 334.5h1.6M68.99 326.5h1.6M67.79 340.5h1.6M54.48 311.5h1.6M56.73 327.5h1.6M61.33 339.5h1.6M56.15 318.5h1.6M72.6 329.5h1.6M69.3 327.5h1.6M59.12 327.5h1.6M46.51 333.5h1.6M62.34 340.5h1.6M65.76 323.5h1.6M56.07 313.5h1.6M47.54 317.5h1.6M66.48 334.5h1.6M61.97 324.5h1.6M60.94 322.5h1.6M49.86 312.5h1.6M62.2 317.5h1.6M63.19 315.5h1.6M46.78 342.5h1.6M53.01 325.5h1.6M61.69 328.5h1.6M47.36 316.5h1.6M60.81 330.5h1.6M54.37 325.5h1.6M79.86 315.5h1.6M57.79 339.5h1.6M69.05 327.5h1.6M69.92 314.5h1.6M44.37 343.5h1.6M56.15 318.5h1.6M73.41 336.5h1.6M66.82 314.5h1.6M48.66 319.5h1.6M60.91 328.5h1.6M53.45 311.5h1.6M72.19 336.5h1.6M27.63 343.5h1.6M59.35 312.5h1.6M75.98 342.5h1.6M44.92 340.5h1.6M79.31 313.5h1.6M71.48 340.5h1.6M67.97 328.5h1.6M47.04 330.5h1.6M65.06 313.5h1.6M74.88 336.5h1.6M52.86 335.5h1.6M54.82 321.5h1.6M66.52 344.5h1.6M60.71 314.5h1.6M69.8 324.5h1.6M69.2 319.5h1.6M75.73 343.5h1.6M74.28 338.5h1.6M64.12 338.5h1.6M71.63 336.5h1.6M41.71 335.5h1.6M61.31 318.5h1.6M40.57 326.5h1.6M37.63 313.5h1.6M83.03 325.5h1.6M65.35 344.5h1.6M62.91 314.5h1.6M52.53 333.5h1.6M55.18 325.5h1.6M67.72 337.5h1.6M46.99 314.5h1.6M38.93 330.5h1.6M48.32 337.5h1.6M50.66 316.5h1.6M60.61 325.5h1.6M42.83 325.5h1.6M78.12 321.5h1.6M74.9 315.5h1.6M75.68 329.5h1.6M60.69 319.5h1.6M51.56 330.5h1.6M77.72 312.5h1.6M71.23 324.5h1.6M83 328.5h1.6M51.08 336.5h1.6M68.93 311.5h1.6M65.76 312.5h1.6M57.36 318.5h1.6M77.6 336.5h1.6M57.28 326.5h1.6M50.51 332.5h1.6M57.7 332.5h1.6M49.38 316.5h1.6M69.67 332.5h1.6M76.05 331.5h1.6M65.05 344.5h1.6M85.79 333.5h1.6M62.69 323.5h1.6M49.92 326.5h1.6M56.17 323.5h1.6M66.01 339.5h1.6M64.38 332.5h1.6M82.63 325.5h1.6M81.74 327.5h1.6M55 335.5h1.6M76.02 338.5h1.6M80.97 336.5h1.6M49.63 326.5h1.6M44.8 321.5h1.6M90.39 314.5h1.6M51.96 331.5h1.6M50.05 334.5h1.6M69.24 339.5h1.6M52.79 324.5h1.6M73.3 329.5h1.6M59.38 334.5h1.6M76.11 337.5h1.6M55.29 317.5h1.6M54.41 319.5h1.6M54.93 325.5h1.6M56.43 311.5h1.6M44.15 331.5h1.6M76.92 344.5h1.6M70.79 326.5h1.6M56.08 331.5h1.6M44.82 323.5h1.6M60.67 339.5h1.6M54.58 334.5h1.6M64.8 340.5h1.6M72.46 313.5h1.6M44.52 312.5h1.6M48.85 325.5h1.6M61.99 334.5h1.6M57.15 340.5h1.6M47.99 326.5h1.6M74.81 317.5h1.6M64.37 344.5h1.6M48 333.5h1.6M73.76 315.5h1.6M69.74 312.5h1.6M82.07 314.5h1.6M58.6 334.5h1.6M72.36 325.5h1.6M46.95 324.5h1.6M62.88 319.5h1.6M69.22 326.5h1.6M65.99 328.5h1.6M50.89 343.5h1.6M71.53 343.5h1.6M39.56 323.5h1.6M42.67 334.5h1.6M63.75 330.5h1.6M64.89 337.5h1.6M82.01 331.5h1.6M50.73 338.5h1.6M69.07 316.5h1.6M49.67 340.5h1.6M73.89 331.5h1.6M69.64 342.5h1.6M66.97 319.5h1.6M63.21 320.5h1.6M48.25 343.5h1.6M53.48 314.5h1.6M65.99 337.5h1.6M69.87 334.5h1.6M76.24 333.5h1.6M57.69 320.5h1.6M43.18 337.5h1.6M59.81 344.5h1.6M27.3 324.5h1.6M58.82 319.5h1.6M68.83 313.5h1.6M59.31 318.5h1.6M31.15 329.5h1.6M75.66 333.5h1.6M57.63 324.5h1.6M52.48 319.5h1.6M72.91 319.5h1.6M45.55 342.5h1.6M54.04 325.5h1.6M54.98 318.5h1.6M77.05 341.5h1.6M71.56 330.5h1.6M52.7 327.5h1.6M41.62 323.5h1.6M70.27 330.5h1.6M52.19 318.5h1.6M62.1 311.5h1.6M69.1 313.5h1.6M68.15 321.5h1.6M28.12 331.5h1.6M51.81 319.5h1.6M54.09 332.5h1.6M65.22 324.5h1.6M66.73 324.5h1.6M77.66 328.5h1.6M73.89 329.5h1.6M65.3 328.5h1.6M54.18 316.5h1.6M43.99 318.5h1.6M62.77 311.5h1.6M70.05 336.5h1.6M61.28 335.5h1.6"/>
<line x1="25.5" y1="371.5" x2="75" y2="371.5" stroke="#444" stroke-width="0.9"/>
<rect x="24.1" y="351.7" width="2.2" height="39" rx="1.1" ry="2.5"/>
<path stroke="#000" stroke-width="1" d="M42.69 365.5h1.6M52.94 373.5h1.6M48.15 380.5h1.6M47.28 356.5h1.6M49.66 386.5h1.6M59.74 356.5h1.6M55.46 382.5h1.6M47.36 356.5h1.6M50.49 368.5h1.6M47.64 375.5h1.6M57.28 385.5h1.6M60.69 366.5h1.6M48.26 356.5h1.6M35.07 360.5h1.6M49.72 367.5h1.6M61.73 357.5h1.6M47.57 377.5h1.6M52.58 371.5h1.6M55.58 381.5h1.6M48.76 370.5h1.6M29.57 386.5h1.6M56.88 371.5h1.6M56.81 382.5h1.6M57.69 354.5h1.6M58.23 374.5h1.6M50.45 356.5h1.6M61.56 365.5h1.6M45.85 369.5h1.6M63.02 367.5h1.6M58.31 363.5h1.6M49.74 386.5h1.6M63.55 364.5h1.6M55.56 364.5h1.6M40.29 382.5h1.6M42.51 361.5h1.6M61.01 385.5h1.6M59.89 369.5h1.6M48.2 387.5h1.6M56.65 359.5h1.6M67.32 354.5h1.6M64.19 370.5h1.6M56.74 361.5h1.6M62.6 355.5h1.6M53.14 360.5h1.6M54.44 387.5h1.6M54.54 380.5h1.6M61.46 371.5h1.6M72.42 354.5h1.6M60.66 355.5h1.6M60.82 364.5h1.6M52.95 376.5h1.6M29.5 360.5h1.6M57.53 366.5h1.6M65.61 365.5h1.6M65.35 370.5h1.6M52.16 373.5h1.6M58.47 354.5h1.6M42.36 383.5h1.6M56.29 376.5h1.6M58.37 365.5h1.6M58.45 357.5h1.6M64.03 379.5h1.6M59.5 354.5h1.6M46.33 357.5h1.6M60.04 387.5h1.6M47.24 368.5h1.6M43.2 367.5h1.6M56.48 377.5h1.6M26.45 384.5h1.6M59.01 380.5h1.6M43.82 358.5h1.6M54.49 372.5h1.6M36.64 386.5h1.6M55.03 386.5h1.6M40.97 372.5h1.6M45.91 378.5h1.6M42.52 383.5h1.6M62.86 365.5h1.6M51.33 380.5h1.6M55.58 360.5h1.6M59.51 382.5h1.6M54.75 371.5h1.6M51.37 359.5h1.6M48.96 357.5h1.6M54.88 382.5h1.6M52.99 384.5h1.6M50.4 359.5h1.6M65.62 361.5h1.6M57.87 380.5h1.6M42.13 367.5h1.6"/>
<path d="M25.2,395.5 L26.5,396.58 L27.8,397.91 L29.11,400.44 L30.41,403.62 L31.71,407.24 L33.01,409.88 L34.32,411.64 L35.62,412.06 L36.92,412.23 L38.22,412.3 L39.53,412.27 L40.83,412.19 L42.13,412.07 L43.43,411.81 L44.74,411.46 L46.04,411.15 L47.34,410.8 L48.64,410.46 L49.95,410.2 L51.25,410.1 L52.55,410.1 L53.85,410.1 L55.16,410.1 L56.46,410.1 L57.76,410.14 L59.06,410.35 L60.37,410.66 L61.67,411.01 L62.97,411.31 L64.27,411.57 L65.58,411.83 L66.88,412.07 L68.18,412.31 L69.48,412.53 L70.79,412.72 L72.09,412.9 L73.39,413.09 L74.69,413.32 L76,413.59 L77.3,413.9 L78.6,414.2 L78.6,414.2 L77.3,414.5 L76,414.81 L74.69,415.08 L73.39,415.31 L72.09,415.5 L70.79,415.68 L69.48,415.87 L68.18,416.09 L66.88,416.33 L65.58,416.57 L64.27,416.83 L62.97,417.09 L61.67,417.39 L60.37,417.74 L59.06,418.05 L57.76,418.26 L56.46,418.3 L55.16,418.3 L53.85,418.3 L52.55,418.3 L51.25,418.3 L49.95,418.2 L48.64,417.94 L47.34,417.6 L46.04,417.25 L44.74,416.94 L43.43,416.59 L42.13,416.33 L40.83,416.21 L39.53,416.13 L38.22,416.1 L36.92,416.17 L35.62,416.34 L34.32,416.76 L33.01,418.52 L31.71,421.16 L30.41,424.78 L29.11,427.96 L27.8,430.49 L26.5,431.82 L25.2,432.9Z" fill="#00BF7D" stroke="#000" stroke-width="0.6"/>
<path stroke="#000" stroke-width="1" d="M24.79 401.5h1.6M25 409.5h1.6M25.17 407.5h1.6M24.67 397.5h1.6M24.94 431.5h1.6M25.22 419.5h1.6M25.14 397.5h1.6M25.14 417.5h1.6M24.75 397.5h1.6M25.08 398.5h1.6M24.95 397.5h1.6M25.04 397.5h1.6M25.27 423.5h1.6M24.64 396.5h1.6M25.27 425.5h1.6M25.15 413.5h1.6M25.17 422.5h1.6M25.18 406.5h1.6M24.66 413.5h1.6M25.01 428.5h1.6M24.98 404.5h1.6M24.62 402.5h1.6M25.26 396.5h1.6M25.06 429.5h1.6M24.94 427.5h1.6M25.03 410.5h1.6M24.87 398.5h1.6M24.75 398.5h1.6M25.08 419.5h1.6M24.6 411.5h1.6M24.63 417.5h1.6M24.82 417.5h1.6M24.71 429.5h1.6M25.06 423.5h1.6M25.18 411.5h1.6M24.64 416.5h1.6M25.02 423.5h1.6M24.99 415.5h1.6M24.74 402.5h1.6M24.67 408.5h1.6M25.11 398.5h1.6M24.91 417.5h1.6M24.66 400.5h1.6M25.29 423.5h1.6M24.69 431.5h1.6M51.33 426.5h1.6M50.08 414.5h1.6M72.24 417.5h1.6M53.69 400.5h1.6M48.2 421.5h1.6M38.9 424.5h1.6M42.65 416.5h1.6M55.26 420.5h1.6M56.31 404.5h1.6M44.73 419.5h1.6M50.51 420.5h1.6M42.83 400.5h1.6M58.77 402.5h1.6M55.15 421.5h1.6M51.31 408.5h1.6M60.01 407.5h1.6M58.1 419.5h1.6M53.95 402.5h1.6M28.92 406.5h1.6M58.78 410.5h1.6M60.49 419.5h1.6M55.7 424.5h1.6M38.57 421.5h1.6M57.72 409.5h1.6M32.21 398.5h1.6M67.56 426.5h1.6M38.61 402.5h1.6M50.56 425.5h1.6M72.37 424.5h1.6M64.05 405.5h1.6M60.26 417.5h1.6M67.04 409.5h1.6M55.44 419.5h1.6M39.46 399.5h1.6M43.99 405.5h1.6M49.69 421.5h1.6M69.27 407.5h1.6M42.74 424.5h1.6M43.76 399.5h1.6M63.19 412.5h1.6M58.94 411.5h1.6M49.69 399.5h1.6M58.33 405.5h1.6M65.39 408.5h1.6M72.69 420.5h1.6M50.05 398.5h1.6M58.2 412.5h1.6M52.23 403.5h1.6M64.78 409.5h1.6M50.85 415.5h1.6M50.09 412.5h1.6M55.51 410.5h1.6M54.33 421.5h1.6M47.65 405.5h1.6M37.82 409.5h1.6M40.59 405.5h1.6M41.52 428.5h1.6M51.21 422.5h1.6M49.52 424.5h1.6M26.8 424.5h1.6M61.83 426.5h1.6M49.22 414.5h1.6M46.56 404.5h1.6M48.54 410.5h1.6M59.3 414.5h1.6M55.07 419.5h1.6M53.37 400.5h1.6M46.08 407.5h1.6M66.5 405.5h1.6M47.5 426.5h1.6M32.45 429.5h1.6M49.55 408.5h1.6M48.91 403.5h1.6M51.07 426.5h1.6M62.73 408.5h1.6M53.72 402.5h1.6M76.16 422.5h1.6M64.46 425.5h1.6M60.06 403.5h1.6M55 427.5h1.6M47.18 398.5h1.6M45.11 422.5h1.6M67.1 417.5h1.6M53.61 405.5h1.6M57.17 424.5h1.6M62.58 401.5h1.6M53.98 413.5h1.6M39.19 407.5h1.6M55.93 423.5h1.6M55.13 407.5h1.6M66.24 429.5h1.6M51.92 399.5h1.6M64.05 421.5h1.6M36.95 415.5h1.6M73.47 408.5h1.6M60.89 430.5h1.6M48.13 426.5h1.6M52.2 406.5h1.6M39.96 422.5h1.6M62.72 425.5h1.6M62.74 412.5h1.6M62.49 401.5h1.6M49.96 425.5h1.6M73.49 417.5h1.6M28.32 408.5h1.6M56.85 402.5h1.6M48.36 407.5h1.6M67.04 428.5h1.6M37.26 428.5h1.6M45.71 397.5h1.6M55.96 398.5h1.6M66.65 419.5h1.6M53.34 411.5h1.6M48.48 410.5h1.6M57.06 398.5h1.6M49.27 431.5h1.6M61.24 423.5h1.6M75.67 430.5h1.6M41.43 428.5h1.6M55.47 398.5h1.6M69.01 411.5h1.6M65.97 413.5h1.6M57.57 400.5h1.6M52.82 423.5h1.6M66.73 420.5h1.6M65.77 413.5h1.6M57.63 418.5h1.6M52.03 398.5h1.6M43.61 408.5h1.6M46.92 421.5h1.6M65.66 401.5h1.6M68.02 407.5h1.6M41.4 416.5h1.6M49.79 418.5h1.6M59.88 411.5h1.6M40.73 399.5h1.6M52.38 397.5h1.6M54.45 414.5h1.6M53.81 414.5h1.6M27.27 407.5h1.6M54.27 421.5h1.6M55.24 402.5h1.6M55.75 418.5h1.6M62.64 413.5h1.6M44.97 429.5h1.6M37.96 414.5h1.6M51.77 411.5h1.6M56.77 405.5h1.6M43.7 423.5h1.6M52.5 420.5h1.6M61.66 413.5h1.6M57.58 425.5h1.6M46.36 428.5h1.6M41.1 429.5h1.6M43.97 421.5h1.6M63.13 400.5h1.6M52.51 406.5h1.6M53.87 423.5h1.6M66.94 422.5h1.6M61.92 406.5h1.6M56.28 403.5h1.6M38.04 407.5h1.6M59.34 401.5h1.6M56.96 397.5h1.6M49.51 413.5h1.6M55.18 424.5h1.6M59.3 408.5h1.6M63.11 431.5h1.6M41.03 418.5h1.6M56.09 401.5h1.6M60.04 406.5h1.6M43.48 403.5h1.6M59.56 422.5h1.6M28.42 400.5h1.6M52.47 425.5h1.6M65.22 413.5h1.6M56.74 407.5h1.6M60.52 424.5h1.6M43.84 406.5h1.6M44.04 400.5h1.6M41.79 400.5h1.6M62.73 403.5h1.6M69.23 421.5h1.6M37.17 430.5h1.6M59.78 422.5h1.6M43.09 413.5h1.6M51.13 430.5h1.6M45.23 414.5h1.6M54.42 413.5h1.6M62.34 404.5h1.6M53.75 397.5h1.6M54.12 399.5h1.6M54.93 427.5h1.6M51.35 425.5h1.6M46.75 404.5h1.6M65.77 408.5h1.6M58.76 409.5h1.6M54.98 418.5h1.6M54.86 412.5h1.6M63.3 427.5h1.6"/>
<path d="M25.2,448.9 L26.48,449.28 L27.75,449.65 L29.03,450.11 L30.31,450.9 L31.58,451.9 L32.86,452.73 L34.14,453.05 L35.41,453.19 L36.69,453.3 L37.96,453.37 L39.24,453.4 L40.52,453.36 L41.79,453.2 L43.07,452.96 L44.35,452.66 L45.62,452.34 L46.9,451.92 L48.18,451.35 L49.45,450.66 L50.73,449.83 L52.01,448.76 L53.28,447.1 L54.56,445.15 L55.84,443.26 L57.11,441.79 L58.39,440.63 L59.66,439.58 L60.94,438.75 L62.22,438.2 L63.49,437.75 L64.77,437.39 L66.05,437.21 L67.32,437.24 L68.6,437.43 L69.88,437.72 L71.15,438.08 L72.43,438.48 L73.71,439.07 L74.98,439.86 L76.26,440.74 L77.54,441.57 L78.81,442.27 L80.09,442.89 L81.36,443.49 L82.64,444.12 L83.92,444.81 L85.19,445.54 L86.47,446.28 L87.75,447.13 L89.02,448.16 L90.3,449.6 L90.3,464.8 L89.02,466.24 L87.75,467.27 L86.47,468.12 L85.19,468.86 L83.92,469.59 L82.64,470.28 L81.36,470.91 L80.09,471.51 L78.81,472.13 L77.54,472.83 L76.26,473.66 L74.98,474.54 L73.71,475.33 L72.43,475.92 L71.15,476.32 L69.88,476.68 L68.6,476.97 L67.32,477.16 L66.05,477.19 L64.77,477.01 L63.49,476.65 L62.22,476.2 L60.94,475.65 L59.66,474.82 L58.39,473.77 L57.11,472.61 L55.84,471.14 L54.56,469.25 L53.28,467.3 L52.01,465.64 L50.73,464.57 L49.45,463.74 L48.18,463.05 L46.9,462.48 L45.62,462.06 L44.35,461.74 L43.07,461.44 L41.79,461.2 L40.52,461.04 L39.24,461 L37.96,461.03 L36.69,461.1 L35.41,461.21 L34.14,461.35 L32.86,461.67 L31.58,462.5 L30.31,463.5 L29.03,464.29 L27.75,464.75 L26.48,465.12 L25.2,465.5Z" fill="#00B0F6" stroke="#000" stroke-width="0.6"/>
<path stroke="#000" stroke-width="1" d="M24.85 473.5h1.6M25.19 449.5h1.6M24.73 467.5h1.6M24.68 459.5h1.6M24.73 457.5h1.6M25.09 440.5h1.6M24.84 448.5h1.6M25.17 464.5h1.6M24.79 462.5h1.6M24.65 441.5h1.6M25.08 456.5h1.6M24.85 448.5h1.6M69.67 448.5h1.6M50.1 442.5h1.6M55.7 442.5h1.6M75.03 471.5h1.6M59.93 464.5h1.6M74.94 457.5h1.6M52.85 445.5h1.6M85.98 451.5h1.6M77.41 452.5h1.6M87.58 464.5h1.6M60.01 467.5h1.6M73.28 465.5h1.6M86.75 456.5h1.6M71.26 442.5h1.6M85.07 449.5h1.6M58.02 443.5h1.6M53.37 451.5h1.6M39.24 461.5h1.6M58.28 446.5h1.6M80.53 459.5h1.6M88.37 446.5h1.6M65.41 465.5h1.6M60.73 452.5h1.6M69.73 450.5h1.6M56.23 471.5h1.6M43.25 440.5h1.6M86.44 449.5h1.6M80.9 460.5h1.6M77.38 461.5h1.6M65.91 443.5h1.6M75.43 462.5h1.6M53.97 451.5h1.6M78.67 454.5h1.6M68.63 466.5h1.6M68.59 453.5h1.6M45.8 440.5h1.6M89.2 455.5h1.6M50.54 444.5h1.6M89.28 464.5h1.6M59.25 449.5h1.6M88.36 449.5h1.6M58.33 448.5h1.6M73.49 460.5h1.6M84.03 461.5h1.6M70.04 448.5h1.6M59.46 463.5h1.6M83.95 471.5h1.6M70.58 443.5h1.6M66 463.5h1.6M67.85 449.5h1.6M66.82 469.5h1.6M85.93 462.5h1.6M58.71 458.5h1.6M46.71 468.5h1.6M61.21 466.5h1.6M73.8 459.5h1.6M70.27 472.5h1.6M59.06 472.5h1.6M51.24 454.5h1.6M65.93 463.5h1.6M55.66 470.5h1.6M47.81 456.5h1.6M41.48 473.5h1.6M83.14 441.5h1.6M66.56 460.5h1.6M73.58 458.5h1.6M75.56 471.5h1.6M55.51 445.5h1.6M84.13 451.5h1.6M68 458.5h1.6M89.16 451.5h1.6M63.17 443.5h1.6M62.59 443.5h1.6M57.81 458.5h1.6M62.61 462.5h1.6M77.71 444.5h1.6M80.03 455.5h1.6M53.09 469.5h1.6M60.34 454.5h1.6M49.43 464.5h1.6M56.01 456.5h1.6M66.45 469.5h1.6M58.68 445.5h1.6M55.21 450.5h1.6M62.08 447.5h1.6"/>
<path d="M25.2,480.9 L26.48,481.26 L27.76,481.63 L29.03,482.12 L30.31,482.97 L31.59,484.17 L32.87,485.45 L34.14,486.57 L35.42,487.68 L36.7,488.78 L37.98,489.79 L39.26,490.66 L40.53,491.39 L41.81,492.1 L43.09,492.73 L44.37,493.19 L45.64,493.43 L46.92,493.57 L48.2,493.68 L49.48,493.76 L50.76,493.8 L52.03,493.77 L53.31,493.64 L54.59,493.44 L55.87,493.2 L57.14,492.98 L58.42,492.73 L59.7,492.45 L60.98,492.16 L62.26,491.91 L63.53,491.7 L64.81,491.49 L66.09,491.3 L67.37,491.16 L68.64,491.1 L69.92,491.12 L71.2,491.16 L72.48,491.24 L73.76,491.33 L75.03,491.45 L76.31,491.7 L77.59,492.06 L78.87,492.49 L80.14,492.92 L81.42,493.34 L82.7,493.8 L82.7,506.6 L81.42,507.06 L80.14,507.48 L78.87,507.91 L77.59,508.34 L76.31,508.7 L75.03,508.95 L73.76,509.07 L72.48,509.16 L71.2,509.24 L69.92,509.28 L68.64,509.3 L67.37,509.24 L66.09,509.1 L64.81,508.91 L63.53,508.7 L62.26,508.49 L60.98,508.24 L59.7,507.95 L58.42,507.67 L57.14,507.42 L55.87,507.2 L54.59,506.96 L53.31,506.76 L52.03,506.63 L50.76,506.6 L49.48,506.64 L48.2,506.72 L46.92,506.83 L45.64,506.97 L44.37,507.21 L43.09,507.67 L41.81,508.3 L40.53,509.01 L39.26,509.74 L37.98,510.61 L36.7,511.62 L35.42,512.72 L34.14,513.83 L32.87,514.95 L31.59,516.23 L30.31,517.43 L29.03,518.28 L27.76,518.77 L26.48,519.14 L25.2,519.5Z" fill="#E76BF3" stroke="#000" stroke-width="0.6"/>
<path stroke="#000" stroke-width="1" d="M25.03 516.5h1.6M25.04 497.5h1.6M25.23 494.5h1.6M25.21 483.5h1.6M24.96 516.5h1.6M24.86 499.5h1.6M24.87 485.5h1.6M24.95 496.5h1.6M25.16 488.5h1.6M24.64 515.5h1.6"/>
<path stroke="#000" stroke-width="1" d="M40.12 499.5h1.6M53.67 498.5h1.6M65.35 496.5h1.6M72.94 500.5h1.6M78.08 494.5h1.6M58.81 505.5h1.6M65.35 504.5h1.6M71.07 503.5h1.6M55.42 484.5h1.6M81.7 485.5h1.6M27.04 515.5h1.6"/>
<line x1="98" y1="323" x2="107.6" y2="323" stroke="#F8766D" stroke-width="1.25"/>
<line x1="102.8" y1="318.2" x2="102.8" y2="327.8" stroke="#F8766D" stroke-width="1.25"/>
<line x1="99.6" y1="408.7" x2="109.2" y2="408.7" stroke="#00BF7D" stroke-width="1.25"/>
<line x1="118.5" y1="303.2" x2="118.5" y2="526.5" stroke="#000" stroke-width="1.15"/>
<line x1="117.9" y1="525.9" x2="202.5" y2="525.9" stroke="#000" stroke-width="1.15"/>
<line x1="114.5" y1="328.5" x2="118.5" y2="328.5" stroke="#333" stroke-width="0.8"/>
<line x1="114.5" y1="371.5" x2="118.5" y2="371.5" stroke="#333" stroke-width="0.8"/>
<line x1="114.5" y1="414.5" x2="118.5" y2="414.5" stroke="#333" stroke-width="0.8"/>
<line x1="114.5" y1="457.5" x2="118.5" y2="457.5" stroke="#333" stroke-width="0.8"/>
<line x1="114.5" y1="500.5" x2="118.5" y2="500.5" stroke="#333" stroke-width="0.8"/>
<line x1="122.2" y1="525.7" x2="122.2" y2="528" stroke="#333" stroke-width="0.7"/>
<line x1="144.7" y1="525.7" x2="144.7" y2="528" stroke="#333" stroke-width="0.7"/>
<line x1="167.2" y1="525.7" x2="167.2" y2="528" stroke="#333" stroke-width="0.7"/>
<line x1="189.7" y1="525.7" x2="189.7" y2="528" stroke="#333" stroke-width="0.7"/>
<text x="122.2" y="539.1" font-size="9.6" text-anchor="middle">0</text>
<text x="144.7" y="539.1" font-size="9.6" text-anchor="middle">1</text>
<text x="167.2" y="539.1" font-size="9.6" text-anchor="middle">2</text>
<text x="189.7" y="539.1" font-size="9.6" text-anchor="middle">3</text>
<text x="0" y="0" font-size="9.4" text-anchor="middle" font-style="italic" transform="translate(162.3,297.3) scale(1,1.08)">Unc13c</text>
<line x1="122.2" y1="328.5" x2="193.2" y2="328.5" stroke="#444" stroke-width="0.9"/>
<rect x="121.1" y="308.7" width="2.2" height="39" rx="1.1" ry="2.5"/>
<path stroke="#000" stroke-width="1" d="M139.22 342.5h1.6M134.4 326.5h1.6M141.7 311.5h1.6M165.34 339.5h1.6M164.39 322.5h1.6M144.26 325.5h1.6M127.98 326.5h1.6M134.21 313.5h1.6M140.37 330.5h1.6M154.63 311.5h1.6M171.28 324.5h1.6M122.9 343.5h1.6M162.88 318.5h1.6M141.23 334.5h1.6M149.81 325.5h1.6M150.12 315.5h1.6M138.41 320.5h1.6M131.56 320.5h1.6M150.7 331.5h1.6M153.07 314.5h1.6M132.32 325.5h1.6M125.39 322.5h1.6M155.01 335.5h1.6M135.28 324.5h1.6"/>
<line x1="122.2" y1="371.5" x2="183.2" y2="371.5" stroke="#444" stroke-width="0.9"/>
<rect x="121.1" y="351.7" width="2.2" height="39" rx="1.1" ry="2.5"/>
<path stroke="#000" stroke-width="1" d="M145.11 359.5h1.6M144.27 378.5h1.6M168.67 360.5h1.6M136.07 365.5h1.6M181.16 383.5h1.6M155.17 361.5h1.6M132.33 363.5h1.6M149.6 367.5h1.6M167.58 386.5h1.6M140.25 385.5h1.6M137.79 355.5h1.6M154.32 373.5h1.6M140.2 387.5h1.6M154.13 361.5h1.6M136.3 364.5h1.6M175.61 376.5h1.6M169.48 381.5h1.6M162.35 378.5h1.6M125.63 366.5h1.6M151.02 371.5h1.6M149.36 356.5h1.6M122.9 368.5h1.6M146.01 381.5h1.6M122.9 360.5h1.6M142.53 385.5h1.6M135.75 361.5h1.6M151.74 361.5h1.6M138.88 376.5h1.6M161.7 376.5h1.6M164.52 378.5h1.6M127.15 382.5h1.6M155.74 386.5h1.6M145.56 357.5h1.6M132.38 376.5h1.6M182.25 359.5h1.6M124.99 381.5h1.6M143.67 358.5h1.6M165.13 377.5h1.6M137.88 370.5h1.6M122.9 382.5h1.6M133.75 364.5h1.6M164.97 372.5h1.6M162.26 373.5h1.6M133.38 371.5h1.6M147.38 381.5h1.6M146.29 369.5h1.6M148.67 366.5h1.6M143.21 354.5h1.6M143.11 358.5h1.6M140.47 374.5h1.6M168.24 363.5h1.6M162.08 374.5h1.6M137.76 365.5h1.6M151.28 358.5h1.6M148.41 377.5h1.6M138.64 361.5h1.6M140.2 376.5h1.6M154.21 377.5h1.6M174.17 383.5h1.6M130.93 374.5h1.6M164.48 361.5h1.6M162.18 357.5h1.6M135.04 384.5h1.6M133.68 386.5h1.6M135.35 367.5h1.6M144.09 374.5h1.6M123.51 382.5h1.6M140.42 384.5h1.6M147.99 376.5h1.6M128.75 379.5h1.6M124.11 357.5h1.6M139.04 379.5h1.6M157.96 356.5h1.6M130.95 358.5h1.6M178.16 370.5h1.6M128.06 364.5h1.6M145.92 366.5h1.6M161.89 377.5h1.6M129.85 367.5h1.6M132.66 366.5h1.6M123.68 377.5h1.6M149.01 357.5h1.6M122.9 383.5h1.6M147.91 355.5h1.6M142.63 378.5h1.6M141.21 376.5h1.6M169.83 383.5h1.6M163.04 386.5h1.6M127.53 372.5h1.6M144.04 367.5h1.6M133.18 356.5h1.6M143.21 383.5h1.6M128.92 355.5h1.6M159.48 366.5h1.6M129.54 379.5h1.6M125.42 364.5h1.6M122.9 358.5h1.6M128.36 355.5h1.6M122.9 371.5h1.6M155.19 368.5h1.6M143.38 360.5h1.6M126.13 381.5h1.6M129.86 366.5h1.6M143.96 382.5h1.6M140.68 387.5h1.6M133.88 375.5h1.6M135.88 354.5h1.6M155.93 358.5h1.6M146.61 375.5h1.6M162.96 369.5h1.6M153.85 367.5h1.6M123.58 381.5h1.6M150.82 372.5h1.6M180.59 363.5h1.6M131.81 362.5h1.6M152.95 378.5h1.6M135.32 387.5h1.6M141.96 375.5h1.6M152.73 357.5h1.6M160.36 383.5h1.6M135.7 361.5h1.6M142.86 368.5h1.6M172.16 363.5h1.6M148.07 358.5h1.6M161.58 374.5h1.6M157.87 372.5h1.6M151.34 357.5h1.6M144.09 378.5h1.6M163.94 374.5h1.6M122.9 383.5h1.6M122.9 368.5h1.6M142.94 388.5h1.6M124.77 384.5h1.6M160.36 364.5h1.6M147.13 382.5h1.6M141.87 372.5h1.6M176.88 374.5h1.6M150.74 372.5h1.6M137.33 355.5h1.6M129.25 384.5h1.6M162.25 382.5h1.6M153.62 373.5h1.6M147.25 380.5h1.6M167.98 380.5h1.6M132.17 354.5h1.6M145.24 355.5h1.6M155.71 362.5h1.6M127.97 373.5h1.6M155.02 361.5h1.6M131.88 382.5h1.6M136.48 372.5h1.6M154.61 367.5h1.6M133.11 366.5h1.6M142.35 373.5h1.6M128.76 368.5h1.6M122.9 384.5h1.6M145.38 363.5h1.6M136.64 365.5h1.6M122.9 362.5h1.6M122.9 375.5h1.6M156.34 369.5h1.6M143.54 363.5h1.6M153.4 371.5h1.6M129.2 366.5h1.6M137.97 376.5h1.6"/>
<line x1="122.2" y1="414.5" x2="152.9" y2="414.5" stroke="#444" stroke-width="0.9"/>
<rect x="121.1" y="394.7" width="2.2" height="39" rx="1.1" ry="2.5"/>
<path stroke="#000" stroke-width="1" d="M141.35 405.5h1.6M149.78 407.5h1.6M128.67 399.5h1.6M144.36 420.5h1.6M141.32 405.5h1.6M136.93 420.5h1.6M143.35 427.5h1.6M128.18 419.5h1.6M151.59 419.5h1.6M138.78 399.5h1.6M144.85 425.5h1.6M146.95 413.5h1.6M151.75 421.5h1.6M129.42 429.5h1.6M138.03 421.5h1.6M135.19 424.5h1.6M139.58 412.5h1.6M130.36 399.5h1.6M138.35 420.5h1.6M136.84 417.5h1.6M130.08 430.5h1.6M151.52 404.5h1.6M138.79 410.5h1.6M146.63 411.5h1.6M133.01 401.5h1.6M148.65 417.5h1.6M123.78 400.5h1.6M137.66 399.5h1.6M143.11 409.5h1.6M131.08 417.5h1.6M146.37 414.5h1.6M135.98 398.5h1.6M131.29 397.5h1.6M141.71 407.5h1.6M126.81 410.5h1.6M127.09 409.5h1.6M147.77 411.5h1.6M125.77 426.5h1.6M125.03 405.5h1.6M143.01 398.5h1.6M138.63 424.5h1.6M136.09 404.5h1.6M147.52 400.5h1.6M125.82 427.5h1.6M148.37 398.5h1.6M126.2 400.5h1.6M139.73 397.5h1.6M149.56 423.5h1.6M131.81 402.5h1.6M134.97 407.5h1.6"/>
<line x1="122.2" y1="457.5" x2="150.9" y2="457.5" stroke="#444" stroke-width="0.9"/>
<line x1="122.5" y1="438.7" x2="122.5" y2="475.7" stroke="#111" stroke-width="1.2"/>
<path stroke="#000" stroke-width="1" d="M121.7 444.5h1.6M121.7 440.5h1.6M121.7 449.5h1.6M121.7 467.5h1.6M121.7 458.5h1.6M121.7 453.5h1.6M121.7 453.5h1.6M121.7 466.5h1.6M121.7 457.5h1.6M121.7 440.5h1.6M121.7 452.5h1.6M121.7 471.5h1.6M121.7 450.5h1.6M121.7 459.5h1.6M121.7 440.5h1.6M121.7 438.5h1.6M121.7 465.5h1.6M121.7 446.5h1.6M121.7 444.5h1.6M121.7 451.5h1.6M121.7 472.5h1.6M121.7 475.5h1.6M121.7 465.5h1.6M121.7 450.5h1.6M121.7 464.5h1.6M121.7 461.5h1.6M121.7 453.5h1.6M121.7 458.5h1.6M121.7 459.5h1.6M121.7 444.5h1.6"/>
<line x1="122.5" y1="481.7" x2="122.5" y2="518.7" stroke="#111" stroke-width="1.2"/>
<path stroke="#000" stroke-width="1" d="M121.7 483.5h1.6M121.7 495.5h1.6M121.7 517.5h1.6M121.7 484.5h1.6M121.7 511.5h1.6M121.7 485.5h1.6M121.7 518.5h1.6M121.7 504.5h1.6M121.7 503.5h1.6M121.7 489.5h1.6M121.7 512.5h1.6M121.7 488.5h1.6M121.7 483.5h1.6M121.7 509.5h1.6M121.7 483.5h1.6M121.7 489.5h1.6M121.7 502.5h1.6M121.7 498.5h1.6M121.7 483.5h1.6M121.7 488.5h1.6M121.7 507.5h1.6M121.7 505.5h1.6M121.7 496.5h1.6M121.7 495.5h1.6M121.7 496.5h1.6M121.7 517.5h1.6M121.7 501.5h1.6M121.7 517.5h1.6M121.7 517.5h1.6M121.7 506.5h1.6"/>
<path stroke="#000" stroke-width="1" d="M149.5 449.5h1.6"/>
<line x1="188.8" y1="364.7" x2="198.4" y2="364.7" stroke="#A3A500" stroke-width="1.25"/>
<line x1="193.6" y1="359.9" x2="193.6" y2="369.5" stroke="#A3A500" stroke-width="1.25"/>
<line x1="189.2" y1="408.7" x2="198.8" y2="408.7" stroke="#00BF7D" stroke-width="1.25"/>
<line x1="219.5" y1="303.8" x2="219.5" y2="526.5" stroke="#000" stroke-width="1.15"/>
<line x1="218.9" y1="525.9" x2="303" y2="525.9" stroke="#000" stroke-width="1.15"/>
<line x1="215.5" y1="328.5" x2="219.5" y2="328.5" stroke="#333" stroke-width="0.8"/>
<line x1="215.5" y1="371.5" x2="219.5" y2="371.5" stroke="#333" stroke-width="0.8"/>
<line x1="215.5" y1="414.5" x2="219.5" y2="414.5" stroke="#333" stroke-width="0.8"/>
<line x1="215.5" y1="457.5" x2="219.5" y2="457.5" stroke="#333" stroke-width="0.8"/>
<line x1="215.5" y1="500.5" x2="219.5" y2="500.5" stroke="#333" stroke-width="0.8"/>
<line x1="222.3" y1="525.7" x2="222.3" y2="528" stroke="#333" stroke-width="0.7"/>
<line x1="238.5" y1="525.7" x2="238.5" y2="528" stroke="#333" stroke-width="0.7"/>
<line x1="254.7" y1="525.7" x2="254.7" y2="528" stroke="#333" stroke-width="0.7"/>
<line x1="270.9" y1="525.7" x2="270.9" y2="528" stroke="#333" stroke-width="0.7"/>
<line x1="287.1" y1="525.7" x2="287.1" y2="528" stroke="#333" stroke-width="0.7"/>
<text x="222.3" y="539.1" font-size="9.6" text-anchor="middle">0</text>
<text x="238.5" y="539.1" font-size="9.6" text-anchor="middle">1</text>
<text x="254.7" y="539.1" font-size="9.6" text-anchor="middle">2</text>
<text x="270.9" y="539.1" font-size="9.6" text-anchor="middle">3</text>
<text x="287.1" y="539.1" font-size="9.6" text-anchor="middle">4</text>
<text x="0" y="0" font-size="9.4" text-anchor="middle" font-style="italic" transform="translate(261,297.3) scale(1,1.08)">Agt</text>
<path d="M222.3,308.9 L223.58,309.81 L224.85,310.73 L226.13,311.95 L227.41,314.11 L228.68,316.77 L229.96,319.08 L231.24,321.27 L232.51,323.05 L233.79,324.1 L235.07,324.91 L236.34,325.29 L237.62,325.27 L238.9,325.18 L240.18,325.04 L241.45,324.85 L242.73,324.22 L244.01,323.23 L245.28,322.21 L246.56,321.42 L247.84,320.68 L249.11,319.98 L250.39,319.35 L251.67,318.81 L252.94,318.31 L254.22,317.81 L255.5,317.4 L256.77,317.14 L258.05,317.11 L259.33,317.18 L260.6,317.31 L261.88,317.47 L263.16,317.66 L264.43,317.89 L265.71,318.22 L266.99,318.61 L268.26,319.06 L269.54,319.53 L270.82,320.12 L272.09,320.79 L273.37,321.5 L274.65,322.18 L275.93,322.8 L277.2,323.41 L278.48,324 L279.76,324.55 L281.03,325.05 L282.31,325.49 L283.59,325.91 L284.86,326.29 L286.14,326.63 L287.42,326.95 L288.69,327.22 L289.97,327.47 L291.25,327.71 L292.52,327.95 L293.8,328.2 L293.8,328.2 L292.52,328.45 L291.25,328.69 L289.97,328.93 L288.69,329.18 L287.42,329.45 L286.14,329.77 L284.86,330.11 L283.59,330.49 L282.31,330.91 L281.03,331.35 L279.76,331.85 L278.48,332.4 L277.2,332.99 L275.93,333.6 L274.65,334.22 L273.37,334.9 L272.09,335.61 L270.82,336.28 L269.54,336.87 L268.26,337.34 L266.99,337.79 L265.71,338.18 L264.43,338.51 L263.16,338.74 L261.88,338.93 L260.6,339.09 L259.33,339.22 L258.05,339.29 L256.77,339.26 L255.5,339 L254.22,338.59 L252.94,338.09 L251.67,337.59 L250.39,337.05 L249.11,336.42 L247.84,335.72 L246.56,334.98 L245.28,334.19 L244.01,333.17 L242.73,332.18 L241.45,331.55 L240.18,331.36 L238.9,331.22 L237.62,331.13 L236.34,331.11 L235.07,331.49 L233.79,332.3 L232.51,333.35 L231.24,335.13 L229.96,337.32 L228.68,339.63 L227.41,342.29 L226.13,344.45 L224.85,345.67 L223.58,346.59 L222.3,347.5Z" fill="#F8766D" stroke="#000" stroke-width="0.6"/>
<path stroke="#000" stroke-width="1" d="M222.21 339.5h1.6M221.97 315.5h1.6M222.02 319.5h1.6M222.13 319.5h1.6M221.91 334.5h1.6M221.79 339.5h1.6M222.14 335.5h1.6M222.08 324.5h1.6M221.82 338.5h1.6M221.99 337.5h1.6M222.13 316.5h1.6M222.28 340.5h1.6M221.83 343.5h1.6M222.33 334.5h1.6M221.81 317.5h1.6M221.94 339.5h1.6M221.88 326.5h1.6M222.2 314.5h1.6M221.94 319.5h1.6M221.83 332.5h1.6M222.14 343.5h1.6M222.38 320.5h1.6M221.75 333.5h1.6M221.94 311.5h1.6M222.18 323.5h1.6M222.28 314.5h1.6M222.19 310.5h1.6M222.06 330.5h1.6M222.27 324.5h1.6M222.33 322.5h1.6M222.31 346.5h1.6M221.8 341.5h1.6M222.26 323.5h1.6M221.88 340.5h1.6M221.92 314.5h1.6M222.25 312.5h1.6M221.85 334.5h1.6M222.33 343.5h1.6M222.13 313.5h1.6M222.35 329.5h1.6M222.12 320.5h1.6M221.86 316.5h1.6M222.27 327.5h1.6M221.92 345.5h1.6M222.23 322.5h1.6M275.46 321.5h1.6M259.38 338.5h1.6M247.98 328.5h1.6M248.95 336.5h1.6M267.29 317.5h1.6M277.27 336.5h1.6M272.37 341.5h1.6M254.29 331.5h1.6M243.83 330.5h1.6M262.72 333.5h1.6M244.48 338.5h1.6M249.74 332.5h1.6M270.7 328.5h1.6M265.12 335.5h1.6M259.15 338.5h1.6M267.11 317.5h1.6M272.39 328.5h1.6M251.82 315.5h1.6M261.5 320.5h1.6M237.26 341.5h1.6M264.47 334.5h1.6M255.69 317.5h1.6M242.55 321.5h1.6M275.05 334.5h1.6M248.03 323.5h1.6M249.64 323.5h1.6M291.74 313.5h1.6M268.69 321.5h1.6M258.28 340.5h1.6M269.18 342.5h1.6M255.91 320.5h1.6M270.24 335.5h1.6M269.08 332.5h1.6M253.46 330.5h1.6M264.33 338.5h1.6M256.31 338.5h1.6M257.4 325.5h1.6M257.88 336.5h1.6M263.17 340.5h1.6M271.08 337.5h1.6M242.99 334.5h1.6M249.8 321.5h1.6M256.82 323.5h1.6M281.61 336.5h1.6M271.88 334.5h1.6M244.99 325.5h1.6M273.48 315.5h1.6M265.74 343.5h1.6M266.9 337.5h1.6M261.56 314.5h1.6M273.24 340.5h1.6M249.22 342.5h1.6M258.77 327.5h1.6M257.23 338.5h1.6M272.38 315.5h1.6M260.76 334.5h1.6M248.92 342.5h1.6M239.31 338.5h1.6M268.76 344.5h1.6M284.95 334.5h1.6M290.99 313.5h1.6M246.98 320.5h1.6M254.86 342.5h1.6M273.01 318.5h1.6M280.61 321.5h1.6M245.11 331.5h1.6M267.53 320.5h1.6M271.79 337.5h1.6M271.54 345.5h1.6M270.99 328.5h1.6M261.77 317.5h1.6M258.06 333.5h1.6M262.97 329.5h1.6M265.29 326.5h1.6M270.55 335.5h1.6M250.73 316.5h1.6M250.19 341.5h1.6M253.03 311.5h1.6M268.66 322.5h1.6M267.61 335.5h1.6M281.63 325.5h1.6M262.88 335.5h1.6M263.73 340.5h1.6M277.65 330.5h1.6M256.99 338.5h1.6M260.4 330.5h1.6M241.04 343.5h1.6M273.16 329.5h1.6M273.03 313.5h1.6M273.78 329.5h1.6M274.08 340.5h1.6M272.63 319.5h1.6M266.75 318.5h1.6M245.32 312.5h1.6M270.76 319.5h1.6M255.36 332.5h1.6M248.85 332.5h1.6M251.52 320.5h1.6M276.07 315.5h1.6M261.63 324.5h1.6M240.6 341.5h1.6M251.45 335.5h1.6M244.34 317.5h1.6M261.71 329.5h1.6M229.79 340.5h1.6M263.31 317.5h1.6M263.35 341.5h1.6M250.69 323.5h1.6M267.46 312.5h1.6M264.78 318.5h1.6M286.53 334.5h1.6M285.95 312.5h1.6M241.26 331.5h1.6M250.12 338.5h1.6M264.87 317.5h1.6M272.39 319.5h1.6M264.02 342.5h1.6M271.86 341.5h1.6M264.25 340.5h1.6M258.7 331.5h1.6M274.5 329.5h1.6M262.4 327.5h1.6M236.16 339.5h1.6M264.29 317.5h1.6M268.53 332.5h1.6M252.8 341.5h1.6M266.38 324.5h1.6M245.34 335.5h1.6M249.73 329.5h1.6M237.4 334.5h1.6M284.72 343.5h1.6M272.89 317.5h1.6M248.04 313.5h1.6M266.6 325.5h1.6M252.81 324.5h1.6M265.02 317.5h1.6M274.05 331.5h1.6M252.18 333.5h1.6M239.09 312.5h1.6M257.37 314.5h1.6M264.69 321.5h1.6M265.54 315.5h1.6M258.99 328.5h1.6M251.91 344.5h1.6M263.02 333.5h1.6M278.43 323.5h1.6M237.46 328.5h1.6M267.38 331.5h1.6M268.3 338.5h1.6M276.07 336.5h1.6M258.11 337.5h1.6M259.33 333.5h1.6M268.67 326.5h1.6M250.28 337.5h1.6M247.21 317.5h1.6M277.22 321.5h1.6M237.92 325.5h1.6M271.93 341.5h1.6M253.82 324.5h1.6M271.14 342.5h1.6M241.93 341.5h1.6M260.86 339.5h1.6M253.09 321.5h1.6M274.8 339.5h1.6M275.24 331.5h1.6M250.98 338.5h1.6M254.51 312.5h1.6M240.04 323.5h1.6M233.58 325.5h1.6M265.68 340.5h1.6M252.72 318.5h1.6M257.01 312.5h1.6M248.26 322.5h1.6M245.28 330.5h1.6M271.6 342.5h1.6M273.11 327.5h1.6M264.4 329.5h1.6M272.25 338.5h1.6M265.64 315.5h1.6M254.33 316.5h1.6M261.43 342.5h1.6M279.14 341.5h1.6M252.64 314.5h1.6M280.93 345.5h1.6M271.85 343.5h1.6M265.31 329.5h1.6M269.08 315.5h1.6M279.31 334.5h1.6M270.77 321.5h1.6M252.75 321.5h1.6M242.22 314.5h1.6M248.68 342.5h1.6M257.49 316.5h1.6M253.76 331.5h1.6M279.06 336.5h1.6M251.22 318.5h1.6M256.99 325.5h1.6M239.97 311.5h1.6M265.93 317.5h1.6M256.93 335.5h1.6M249.61 327.5h1.6M260.11 336.5h1.6M257.56 340.5h1.6M288.86 334.5h1.6M274.83 327.5h1.6M278.42 341.5h1.6M257.48 338.5h1.6M261.19 335.5h1.6M274.07 333.5h1.6M233.82 342.5h1.6M248.24 341.5h1.6M289.78 338.5h1.6M243.76 343.5h1.6M253.47 312.5h1.6M251.84 317.5h1.6M261.66 313.5h1.6M240.77 324.5h1.6M271.61 323.5h1.6M264.73 336.5h1.6M254.8 327.5h1.6M227.64 318.5h1.6M243.75 315.5h1.6M244.36 329.5h1.6M276.05 333.5h1.6M269.31 315.5h1.6M241.37 311.5h1.6M244.57 331.5h1.6M272.96 336.5h1.6M280.78 318.5h1.6M257.47 327.5h1.6M271.25 313.5h1.6M254.12 319.5h1.6M264.91 332.5h1.6M279.99 323.5h1.6M273.04 340.5h1.6M243.65 318.5h1.6M251.18 333.5h1.6M256.65 331.5h1.6M250.14 342.5h1.6M254.05 323.5h1.6M252.04 326.5h1.6M261.31 319.5h1.6M268.67 340.5h1.6M258.71 312.5h1.6M249.99 329.5h1.6M259.39 344.5h1.6M249.48 340.5h1.6M255.54 330.5h1.6M279.79 337.5h1.6M259.96 332.5h1.6M279.37 342.5h1.6M262.93 336.5h1.6M257.35 341.5h1.6M256.32 319.5h1.6M254.8 312.5h1.6M266.88 321.5h1.6M268.46 313.5h1.6M247.72 325.5h1.6M265.32 324.5h1.6M230.44 333.5h1.6M258.74 329.5h1.6M262.79 314.5h1.6M273.21 330.5h1.6M270.18 311.5h1.6M256.31 339.5h1.6M265.31 322.5h1.6M263.76 344.5h1.6M268.07 328.5h1.6M255.76 316.5h1.6M282.73 314.5h1.6M261.24 314.5h1.6M263.91 334.5h1.6M251.45 327.5h1.6M262.47 328.5h1.6M269.87 334.5h1.6M235.51 313.5h1.6M258.98 344.5h1.6M269.93 337.5h1.6M261.96 320.5h1.6M260 320.5h1.6M272.25 320.5h1.6M251.75 316.5h1.6M249.88 316.5h1.6M237.85 321.5h1.6M262.93 344.5h1.6M265.76 336.5h1.6M254.67 330.5h1.6M259.21 329.5h1.6M260.99 316.5h1.6M260.24 344.5h1.6M261.42 340.5h1.6M263.9 345.5h1.6M256.46 344.5h1.6M265.18 312.5h1.6M243.06 340.5h1.6M256.8 342.5h1.6M245.76 333.5h1.6M240.07 341.5h1.6M265.76 317.5h1.6M269.01 342.5h1.6M255.52 330.5h1.6M249.05 334.5h1.6M257.24 322.5h1.6M241.53 315.5h1.6M257.14 329.5h1.6M268.84 327.5h1.6M248.38 321.5h1.6M263.71 313.5h1.6M261.21 312.5h1.6M278.43 324.5h1.6M261.47 338.5h1.6M263.01 325.5h1.6M262.25 312.5h1.6M261.55 341.5h1.6M287.98 318.5h1.6M264.97 328.5h1.6M243 339.5h1.6M266.8 313.5h1.6M271.59 329.5h1.6M237.41 337.5h1.6M262.76 336.5h1.6M283.77 330.5h1.6M270.53 322.5h1.6M261.16 332.5h1.6M262.59 335.5h1.6M287.28 325.5h1.6M254.16 333.5h1.6M238.95 319.5h1.6M284.86 345.5h1.6M267.28 340.5h1.6"/>
<line x1="222.3" y1="371.5" x2="277.3" y2="371.5" stroke="#444" stroke-width="0.9"/>
<rect x="221.2" y="351.7" width="2.2" height="39" rx="1.1" ry="2.5"/>
<path stroke="#000" stroke-width="1" d="M248.37 354.5h1.6M255.73 365.5h1.6M251.72 355.5h1.6M230.83 383.5h1.6M248.84 369.5h1.6M250.22 382.5h1.6M241.71 374.5h1.6M265.63 377.5h1.6M241.04 382.5h1.6M253.67 373.5h1.6M257.32 359.5h1.6M224.8 382.5h1.6M264.04 359.5h1.6M251.7 388.5h1.6M255.43 373.5h1.6M250.07 370.5h1.6M251.41 363.5h1.6M247.5 382.5h1.6M256.34 367.5h1.6M255.4 361.5h1.6M244.47 368.5h1.6M245.91 384.5h1.6M248.19 385.5h1.6M244.63 355.5h1.6M248.82 354.5h1.6M243.35 372.5h1.6M256.11 362.5h1.6M245.48 382.5h1.6M234.85 378.5h1.6M248.28 365.5h1.6M252.38 372.5h1.6M255.02 370.5h1.6M250.88 357.5h1.6M224.32 385.5h1.6M258.52 357.5h1.6M239.56 379.5h1.6M254.69 381.5h1.6M254.86 364.5h1.6M257.56 354.5h1.6M253.63 382.5h1.6M255.23 379.5h1.6M229.04 366.5h1.6M242.06 381.5h1.6M251.84 387.5h1.6M257.9 356.5h1.6M250.66 384.5h1.6M248.82 362.5h1.6M250.38 355.5h1.6M252.43 381.5h1.6M246.21 361.5h1.6M252.05 366.5h1.6M250.38 358.5h1.6M252.44 382.5h1.6M251.36 384.5h1.6M250.13 354.5h1.6M247.55 381.5h1.6M252.32 387.5h1.6M258.25 366.5h1.6M248.64 354.5h1.6M241.77 382.5h1.6M251.29 377.5h1.6M258.05 358.5h1.6M249.12 361.5h1.6M235.58 366.5h1.6M248.86 355.5h1.6M253.97 360.5h1.6M256.07 367.5h1.6M271.44 367.5h1.6M243.21 383.5h1.6M233.55 368.5h1.6M256.48 363.5h1.6M252.39 388.5h1.6M249.59 375.5h1.6M242.25 369.5h1.6M250.78 387.5h1.6M264.2 386.5h1.6M229.02 356.5h1.6M247.69 385.5h1.6M256.07 375.5h1.6M247.56 358.5h1.6M262.43 381.5h1.6M252.25 373.5h1.6M241.39 379.5h1.6M267.27 363.5h1.6M252.6 382.5h1.6M254.34 377.5h1.6M248.33 354.5h1.6M243.96 375.5h1.6M249.24 383.5h1.6M226.45 375.5h1.6M231.16 369.5h1.6M257.55 385.5h1.6M237.17 356.5h1.6M252.12 387.5h1.6M247.45 371.5h1.6M234.46 362.5h1.6M270.74 384.5h1.6M253.8 354.5h1.6M271.49 359.5h1.6M255.14 362.5h1.6M257.41 364.5h1.6M249.58 376.5h1.6M249.07 372.5h1.6M246.91 368.5h1.6M250.79 356.5h1.6M245.85 354.5h1.6M243.25 356.5h1.6M254.87 387.5h1.6M249.41 354.5h1.6M268.2 356.5h1.6"/>
<path d="M222.3,394.9 L223.58,395.64 L224.87,396.38 L226.15,397.47 L227.44,399.77 L228.72,402.75 L230.01,405.19 L231.29,407.47 L232.58,409.18 L233.86,409.96 L235.15,410.48 L236.43,410.7 L237.72,410.28 L239,409.2 L240.28,407.95 L241.57,406.95 L242.85,406.04 L244.14,405.19 L245.42,404.49 L246.71,404.01 L247.99,403.57 L249.28,403.24 L250.56,403.1 L251.85,403.14 L253.13,403.26 L254.42,403.42 L255.7,403.6 L256.98,403.78 L258.27,403.97 L259.55,404.2 L260.84,404.45 L262.12,404.75 L263.41,405.14 L264.69,405.64 L265.98,406.21 L267.26,406.81 L268.55,407.41 L269.83,408.05 L271.12,408.74 L272.4,409.42 L273.68,410.07 L274.97,410.65 L276.25,411.15 L277.54,411.63 L278.82,412.07 L280.11,412.48 L281.39,412.83 L282.68,413.13 L283.96,413.37 L285.25,413.59 L286.53,413.79 L287.82,413.99 L289.1,414.2 L289.1,414.2 L287.82,414.41 L286.53,414.61 L285.25,414.81 L283.96,415.03 L282.68,415.27 L281.39,415.57 L280.11,415.92 L278.82,416.33 L277.54,416.77 L276.25,417.25 L274.97,417.75 L273.68,418.33 L272.4,418.98 L271.12,419.66 L269.83,420.35 L268.55,420.99 L267.26,421.59 L265.98,422.19 L264.69,422.76 L263.41,423.26 L262.12,423.65 L260.84,423.95 L259.55,424.2 L258.27,424.43 L256.98,424.62 L255.7,424.8 L254.42,424.98 L253.13,425.14 L251.85,425.26 L250.56,425.3 L249.28,425.16 L247.99,424.83 L246.71,424.39 L245.42,423.91 L244.14,423.21 L242.85,422.36 L241.57,421.45 L240.28,420.45 L239,419.2 L237.72,418.12 L236.43,417.7 L235.15,417.92 L233.86,418.44 L232.58,419.22 L231.29,420.93 L230.01,423.21 L228.72,425.65 L227.44,428.63 L226.15,430.93 L224.87,432.02 L223.58,432.76 L222.3,433.5Z" fill="#00BF7D" stroke="#000" stroke-width="0.6"/>
<path stroke="#000" stroke-width="1" d="M222.05 426.5h1.6M221.78 403.5h1.6M221.89 414.5h1.6M222.3 405.5h1.6M221.95 421.5h1.6M222.16 403.5h1.6M222.11 417.5h1.6M221.78 408.5h1.6M221.88 406.5h1.6M221.77 417.5h1.6M222.05 425.5h1.6M221.9 425.5h1.6M221.73 424.5h1.6M221.95 418.5h1.6M222.2 401.5h1.6M221.72 415.5h1.6M222.24 404.5h1.6M221.92 426.5h1.6M222.18 422.5h1.6M222.37 420.5h1.6M221.98 396.5h1.6M222.34 430.5h1.6M221.78 399.5h1.6M221.79 401.5h1.6M221.86 430.5h1.6M221.84 418.5h1.6M222.23 404.5h1.6M222.21 423.5h1.6M222.34 431.5h1.6M222.37 421.5h1.6M222.18 403.5h1.6M222.16 412.5h1.6M221.91 397.5h1.6M222.12 431.5h1.6M221.86 416.5h1.6M222.26 415.5h1.6M222.35 426.5h1.6M222.08 397.5h1.6M221.92 428.5h1.6M221.98 400.5h1.6M222.13 410.5h1.6M222.1 396.5h1.6M222.27 410.5h1.6M221.77 418.5h1.6M222.32 402.5h1.6M224.16 400.5h1.6M248.42 414.5h1.6M267.96 427.5h1.6M263.8 426.5h1.6M240.75 406.5h1.6M258.21 422.5h1.6M271.02 421.5h1.6M243.01 424.5h1.6M248.62 405.5h1.6M254.16 429.5h1.6M255.77 419.5h1.6M241.3 399.5h1.6M234.95 423.5h1.6M276.14 424.5h1.6M243.83 412.5h1.6M250.63 402.5h1.6M256.5 429.5h1.6M262.91 414.5h1.6M244.02 404.5h1.6M271.3 407.5h1.6M255.01 411.5h1.6M242.75 417.5h1.6M241.9 401.5h1.6M245.68 414.5h1.6M263.5 409.5h1.6M280.19 405.5h1.6M280.46 410.5h1.6M251.94 424.5h1.6M258.1 415.5h1.6M260.25 430.5h1.6M247.79 429.5h1.6M259.43 400.5h1.6M256.01 421.5h1.6M235.21 400.5h1.6M256.19 425.5h1.6M251.62 419.5h1.6M283.79 421.5h1.6M244.01 397.5h1.6M265.79 399.5h1.6M235.47 411.5h1.6M251.77 401.5h1.6M268.83 414.5h1.6M246.58 428.5h1.6M253.09 401.5h1.6M264.23 423.5h1.6M248.09 408.5h1.6M272.74 421.5h1.6M265.9 409.5h1.6M267.34 413.5h1.6M263.42 420.5h1.6M244.4 410.5h1.6M268.36 425.5h1.6M253.49 429.5h1.6M249.67 429.5h1.6M224.11 427.5h1.6M253.85 422.5h1.6M267.76 397.5h1.6M249.95 402.5h1.6M263.19 427.5h1.6M241.22 418.5h1.6M259.96 414.5h1.6M242.44 418.5h1.6M247.58 399.5h1.6M257.85 401.5h1.6M259.61 418.5h1.6M267.48 418.5h1.6M260.5 429.5h1.6M240.95 398.5h1.6M250.06 429.5h1.6M260.71 398.5h1.6M241.39 416.5h1.6M271.03 400.5h1.6M252.89 424.5h1.6M254.61 402.5h1.6M252.52 402.5h1.6M273.51 421.5h1.6M269.5 401.5h1.6M248.5 411.5h1.6M258.41 397.5h1.6M258.41 401.5h1.6M247.17 417.5h1.6M256.39 413.5h1.6M255.62 427.5h1.6M237.13 408.5h1.6M232.02 423.5h1.6M258.78 416.5h1.6M241.64 405.5h1.6M237.18 402.5h1.6M258.22 403.5h1.6M259.82 398.5h1.6M267.02 408.5h1.6M282.53 397.5h1.6M263.37 413.5h1.6M244.64 410.5h1.6M267.28 417.5h1.6M241.33 409.5h1.6M250.78 427.5h1.6M261.87 422.5h1.6M241.09 403.5h1.6M249.32 416.5h1.6M243.02 430.5h1.6M253.66 428.5h1.6M249.74 428.5h1.6M264.37 415.5h1.6M240.48 411.5h1.6M235.18 416.5h1.6M267.64 416.5h1.6M260.23 423.5h1.6M238.65 414.5h1.6M254.08 407.5h1.6M254.92 403.5h1.6M253.76 417.5h1.6M235.22 414.5h1.6M257.24 405.5h1.6M236.81 426.5h1.6M225.91 398.5h1.6M256.12 404.5h1.6M242.9 418.5h1.6M260.47 407.5h1.6M243.36 428.5h1.6M268.3 419.5h1.6M271.32 430.5h1.6M256.69 411.5h1.6M236.41 422.5h1.6M252.25 420.5h1.6M251.47 421.5h1.6M252.27 415.5h1.6M256.07 399.5h1.6M259.4 426.5h1.6M252.05 417.5h1.6M244.21 419.5h1.6M254.26 400.5h1.6M260.5 416.5h1.6M252.29 403.5h1.6M257.99 400.5h1.6M255.67 414.5h1.6M227.95 403.5h1.6M259.26 428.5h1.6M244.22 413.5h1.6M256.88 412.5h1.6M267.1 414.5h1.6M244.3 429.5h1.6M256.98 431.5h1.6M260.77 410.5h1.6M238.01 430.5h1.6M257.52 426.5h1.6M240.73 412.5h1.6M247.77 412.5h1.6M276.57 402.5h1.6M264.73 423.5h1.6M252.11 418.5h1.6M272.11 423.5h1.6M256.85 415.5h1.6M250.45 404.5h1.6M241.99 424.5h1.6M235.04 409.5h1.6M264.79 424.5h1.6M272.91 415.5h1.6M246.88 426.5h1.6M270.98 399.5h1.6M241.27 430.5h1.6M259.95 430.5h1.6M248.72 397.5h1.6M247.26 426.5h1.6M238.28 418.5h1.6M250.16 414.5h1.6M249.09 415.5h1.6M244.84 405.5h1.6M255.54 399.5h1.6M247.89 399.5h1.6M271.37 398.5h1.6M256.73 407.5h1.6M250.6 400.5h1.6M244.63 426.5h1.6M275.41 403.5h1.6M238.58 428.5h1.6M247.81 416.5h1.6M272.07 423.5h1.6M252.59 421.5h1.6M247.53 430.5h1.6M241.41 416.5h1.6M237.73 403.5h1.6M262.47 424.5h1.6M255.36 400.5h1.6M248.36 409.5h1.6M246.67 414.5h1.6M253.8 398.5h1.6M236.25 403.5h1.6M245.07 424.5h1.6M249.22 425.5h1.6M251.64 414.5h1.6M247.1 398.5h1.6M244.82 412.5h1.6M243.96 404.5h1.6M251.48 409.5h1.6M253.43 427.5h1.6M257.46 430.5h1.6M241.78 413.5h1.6M242.66 425.5h1.6M241.31 399.5h1.6M248.69 412.5h1.6M275.03 399.5h1.6M242.34 405.5h1.6M259.37 406.5h1.6M239.15 423.5h1.6M253.85 424.5h1.6M254.8 399.5h1.6M226.96 417.5h1.6M243.65 414.5h1.6M247.66 402.5h1.6M267.86 426.5h1.6M261.96 407.5h1.6M252.16 424.5h1.6M251.49 420.5h1.6M260.74 414.5h1.6M270.8 398.5h1.6M248.63 398.5h1.6M239.7 416.5h1.6M245.73 398.5h1.6M245.73 429.5h1.6M256.33 405.5h1.6M257.55 430.5h1.6M248.64 401.5h1.6M254.21 397.5h1.6M252 398.5h1.6M256.62 416.5h1.6M268.98 412.5h1.6M261.76 428.5h1.6M252.73 399.5h1.6M253.15 423.5h1.6M239.47 409.5h1.6M249.17 401.5h1.6M232.59 423.5h1.6M260.32 409.5h1.6M263.64 412.5h1.6M258.11 422.5h1.6M251.04 400.5h1.6M241.37 407.5h1.6M237.01 407.5h1.6M238.97 425.5h1.6M246.51 421.5h1.6M261.53 425.5h1.6M267.24 422.5h1.6M248.87 406.5h1.6M246.96 406.5h1.6M244.85 429.5h1.6M276.3 421.5h1.6M269.13 400.5h1.6M265.48 415.5h1.6M263.63 403.5h1.6M250.35 420.5h1.6M261.08 429.5h1.6M263.35 430.5h1.6M244.31 410.5h1.6M264.24 416.5h1.6M272.86 423.5h1.6M262.15 413.5h1.6M259.36 410.5h1.6M274.9 408.5h1.6M255.08 403.5h1.6M234.88 406.5h1.6M239.02 404.5h1.6M241.85 429.5h1.6M251.27 426.5h1.6M249.03 426.5h1.6M274.69 399.5h1.6M270.7 408.5h1.6M266.19 410.5h1.6M271.48 426.5h1.6M265.22 426.5h1.6M270.74 404.5h1.6M265.38 415.5h1.6M255.12 406.5h1.6M262.03 426.5h1.6M227.46 413.5h1.6M270.35 430.5h1.6M270.34 414.5h1.6M257.45 406.5h1.6M246.31 409.5h1.6M266.84 420.5h1.6M262.57 417.5h1.6M263.83 420.5h1.6M237.59 420.5h1.6M251.12 404.5h1.6M261.83 429.5h1.6M266.12 409.5h1.6M261.11 422.5h1.6M272.13 424.5h1.6M260.05 417.5h1.6M269.29 431.5h1.6M257.34 424.5h1.6M253.58 407.5h1.6M241.83 409.5h1.6M239.36 425.5h1.6M261.95 404.5h1.6M235.17 405.5h1.6M242.91 407.5h1.6M253.05 428.5h1.6M247.85 416.5h1.6M246.85 415.5h1.6"/>
<path d="M222.3,438.1 L223.6,439.03 L224.9,439.98 L226.19,441.22 L227.49,443.25 L228.79,445.68 L230.09,447.86 L231.39,450 L232.68,451.78 L233.98,453.04 L235.28,454.09 L236.58,454.5 L237.88,454.5 L239.17,454.5 L240.47,454.5 L241.77,454.5 L243.07,454.48 L244.36,454.33 L245.66,454.11 L246.96,453.88 L248.26,453.7 L249.56,453.58 L250.85,453.47 L252.15,453.37 L253.45,453.31 L254.75,453.31 L256.05,453.36 L257.34,453.45 L258.64,453.57 L259.94,453.69 L261.24,453.83 L262.54,453.99 L263.83,454.18 L265.13,454.38 L266.43,454.59 L267.73,454.82 L269.02,455.08 L270.32,455.33 L271.62,455.57 L272.92,455.79 L274.22,456.01 L275.51,456.21 L276.81,456.4 L278.11,456.56 L279.41,456.7 L280.71,456.83 L282,456.95 L283.3,457.07 L284.6,457.2 L284.6,457.2 L283.3,457.33 L282,457.45 L280.71,457.57 L279.41,457.7 L278.11,457.84 L276.81,458 L275.51,458.19 L274.22,458.39 L272.92,458.61 L271.62,458.83 L270.32,459.07 L269.02,459.32 L267.73,459.58 L266.43,459.81 L265.13,460.02 L263.83,460.22 L262.54,460.41 L261.24,460.57 L259.94,460.71 L258.64,460.83 L257.34,460.95 L256.05,461.04 L254.75,461.09 L253.45,461.09 L252.15,461.03 L250.85,460.93 L249.56,460.82 L248.26,460.7 L246.96,460.52 L245.66,460.29 L244.36,460.07 L243.07,459.92 L241.77,459.9 L240.47,459.9 L239.17,459.9 L237.88,459.9 L236.58,459.9 L235.28,460.31 L233.98,461.36 L232.68,462.62 L231.39,464.4 L230.09,466.54 L228.79,468.72 L227.49,471.15 L226.19,473.18 L224.9,474.42 L223.6,475.37 L222.3,476.3Z" fill="#00B0F6" stroke="#000" stroke-width="0.6"/>
<path stroke="#000" stroke-width="1" d="M221.91 453.5h1.6M221.95 474.5h1.6M222.1 463.5h1.6M222.11 462.5h1.6M222.22 439.5h1.6M222.09 454.5h1.6M221.91 445.5h1.6M221.91 453.5h1.6M221.86 451.5h1.6M222.38 460.5h1.6M222.38 459.5h1.6M222.03 446.5h1.6M221.73 471.5h1.6M221.7 466.5h1.6M222.26 451.5h1.6M221.88 452.5h1.6M222 447.5h1.6M222.11 464.5h1.6M221.89 464.5h1.6M221.81 449.5h1.6M222.2 465.5h1.6M221.95 453.5h1.6M222.32 464.5h1.6M222.04 470.5h1.6M222.22 444.5h1.6"/>
<line x1="222.3" y1="500.5" x2="255.3" y2="500.5" stroke="#444" stroke-width="0.9"/>
<line x1="222.5" y1="481.7" x2="222.5" y2="518.7" stroke="#111" stroke-width="1.2"/>
<path stroke="#000" stroke-width="1" d="M221.7 498.5h1.6M221.7 518.5h1.6M221.7 483.5h1.6M221.7 516.5h1.6M221.7 515.5h1.6M221.7 487.5h1.6M221.7 488.5h1.6M221.7 492.5h1.6M221.7 508.5h1.6M221.7 486.5h1.6M221.7 507.5h1.6M221.7 489.5h1.6M221.7 510.5h1.6M221.7 489.5h1.6M221.7 487.5h1.6M221.7 511.5h1.6M221.7 481.5h1.6M221.7 498.5h1.6M221.7 497.5h1.6M221.7 497.5h1.6M221.7 483.5h1.6M221.7 490.5h1.6M221.7 503.5h1.6M221.7 493.5h1.6M221.7 518.5h1.6M221.7 503.5h1.6M221.7 484.5h1.6M221.7 496.5h1.6M221.7 495.5h1.6M221.7 490.5h1.6"/>
<path stroke="#000" stroke-width="1" d="M254.6 484.5h1.6M236.89 443.5h1.6M244.13 445.5h1.6M250.67 445.5h1.6M255.57 449.5h1.6M261.65 447.5h1.6M263.75 446.5h1.6M269 452.5h1.6M240.74 454.5h1.6M249.97 454.5h1.6M250.32 456.5h1.6M259.08 454.5h1.6M264.33 456.5h1.6M263.16 462.5h1.6M247.98 465.5h1.6M262.35 465.5h1.6M254.4 468.5h1.6M257.67 468.5h1.6M241.56 471.5h1.6M247.4 470.5h1.6M249.5 470.5h1.6M262.81 470.5h1.6M247.4 473.5h1.6M256.74 473.5h1.6M271.57 473.5h1.6M249.97 461.5h1.6"/>
<line x1="295.2" y1="323" x2="304.8" y2="323" stroke="#F8766D" stroke-width="1.25"/>
<line x1="300" y1="318.2" x2="300" y2="327.8" stroke="#F8766D" stroke-width="1.25"/>
<line x1="294.9" y1="363.9" x2="304.5" y2="363.9" stroke="#A3A500" stroke-width="1.25"/>
<line x1="295.6" y1="407.7" x2="305.2" y2="407.7" stroke="#00BF7D" stroke-width="1.25"/>
<line x1="300.4" y1="402.9" x2="300.4" y2="412.5" stroke="#00BF7D" stroke-width="1.25"/>
<line x1="317.5" y1="303.2" x2="317.5" y2="526.5" stroke="#000" stroke-width="1.15"/>
<line x1="316.9" y1="525.9" x2="394.5" y2="525.9" stroke="#000" stroke-width="1.15"/>
<line x1="313.5" y1="328.5" x2="317.5" y2="328.5" stroke="#333" stroke-width="0.8"/>
<line x1="313.5" y1="371.5" x2="317.5" y2="371.5" stroke="#333" stroke-width="0.8"/>
<line x1="313.5" y1="414.5" x2="317.5" y2="414.5" stroke="#333" stroke-width="0.8"/>
<line x1="313.5" y1="457.5" x2="317.5" y2="457.5" stroke="#333" stroke-width="0.8"/>
<line x1="313.5" y1="500.5" x2="317.5" y2="500.5" stroke="#333" stroke-width="0.8"/>
<line x1="320.5" y1="525.7" x2="320.5" y2="528" stroke="#333" stroke-width="0.7"/>
<line x1="339.6" y1="525.7" x2="339.6" y2="528" stroke="#333" stroke-width="0.7"/>
<line x1="358.7" y1="525.7" x2="358.7" y2="528" stroke="#333" stroke-width="0.7"/>
<line x1="377.8" y1="525.7" x2="377.8" y2="528" stroke="#333" stroke-width="0.7"/>
<text x="320.5" y="539.1" font-size="9.6" text-anchor="middle">0</text>
<text x="339.6" y="539.1" font-size="9.6" text-anchor="middle">1</text>
<text x="358.7" y="539.1" font-size="9.6" text-anchor="middle">2</text>
<text x="377.8" y="539.1" font-size="9.6" text-anchor="middle">3</text>
<text x="0" y="0" font-size="9.4" text-anchor="middle" font-style="italic" transform="translate(351.3,297.3) scale(1,1.08)">Frzb</text>
<line x1="320.5" y1="328.5" x2="370" y2="328.5" stroke="#444" stroke-width="0.9"/>
<rect x="319.9" y="308.7" width="2.2" height="39" rx="1.1" ry="2.5"/>
<line x1="320.5" y1="371.5" x2="363.9" y2="371.5" stroke="#444" stroke-width="0.9"/>
<rect x="319.9" y="351.7" width="2.2" height="39" rx="1.1" ry="2.5"/>
<line x1="320.5" y1="414.5" x2="367" y2="414.5" stroke="#444" stroke-width="0.9"/>
<rect x="319.9" y="394.7" width="2.2" height="39" rx="1.1" ry="2.5"/>
<path d="M321,437.9 L322.29,438.22 L323.57,438.54 L324.86,438.96 L326.14,439.71 L327.43,441.01 L328.71,442.55 L330,444.01 L331.28,445.52 L332.57,447.08 L333.85,448.45 L335.14,449.49 L336.43,450.48 L337.71,451.37 L339,452.02 L340.28,452.3 L341.57,452.25 L342.85,452.11 L344.14,451.88 L345.42,451.59 L346.71,451.23 L347.99,450.5 L349.28,449.48 L350.57,448.38 L351.85,447.4 L353.14,446.53 L354.42,445.62 L355.71,444.77 L356.99,444.11 L358.28,443.71 L359.56,443.41 L360.85,443.16 L362.13,442.99 L363.42,442.9 L364.71,442.97 L365.99,443.21 L367.28,443.56 L368.56,443.97 L369.85,444.38 L371.13,444.83 L372.42,445.36 L373.7,445.93 L374.99,446.51 L376.27,447.11 L377.56,447.74 L378.85,448.4 L380.13,449.06 L381.42,449.71 L382.7,450.37 L383.99,451.03 L385.27,451.68 L386.56,452.27 L387.84,452.79 L389.13,453.24 L390.41,453.67 L391.7,454.1 L391.7,460.3 L390.41,460.73 L389.13,461.16 L387.84,461.61 L386.56,462.13 L385.27,462.72 L383.99,463.37 L382.7,464.03 L381.42,464.69 L380.13,465.34 L378.85,466 L377.56,466.66 L376.27,467.29 L374.99,467.89 L373.7,468.47 L372.42,469.04 L371.13,469.57 L369.85,470.02 L368.56,470.43 L367.28,470.84 L365.99,471.19 L364.71,471.43 L363.42,471.5 L362.13,471.41 L360.85,471.24 L359.56,470.99 L358.28,470.69 L356.99,470.29 L355.71,469.63 L354.42,468.78 L353.14,467.87 L351.85,467 L350.57,466.02 L349.28,464.92 L347.99,463.9 L346.71,463.17 L345.42,462.81 L344.14,462.52 L342.85,462.29 L341.57,462.15 L340.28,462.1 L339,462.38 L337.71,463.03 L336.43,463.92 L335.14,464.91 L333.85,465.95 L332.57,467.32 L331.28,468.88 L330,470.39 L328.71,471.85 L327.43,473.39 L326.14,474.69 L324.86,475.44 L323.57,475.86 L322.29,476.18 L321,476.5Z" fill="#00B0F6" stroke="#000" stroke-width="0.6"/>
<path stroke="#000" stroke-width="1" d="M320.63 453.5h1.6M320.89 440.5h1.6M320.86 448.5h1.6M320.81 463.5h1.6M320.62 472.5h1.6M320.47 445.5h1.6M320.89 442.5h1.6M320.99 460.5h1.6M320.89 464.5h1.6M320.56 460.5h1.6M320.83 467.5h1.6M321.05 458.5h1.6M321.08 452.5h1.6M320.89 443.5h1.6M320.91 449.5h1.6M320.97 447.5h1.6M320.6 444.5h1.6M320.92 461.5h1.6M320.56 442.5h1.6M320.66 444.5h1.6M321.07 458.5h1.6M320.97 440.5h1.6M320.94 459.5h1.6M320.6 445.5h1.6M320.5 465.5h1.6M320.89 473.5h1.6M320.98 443.5h1.6M321 463.5h1.6M372.91 449.5h1.6M367.15 456.5h1.6M339.19 449.5h1.6M365.81 453.5h1.6M339.36 469.5h1.6M378.15 454.5h1.6M374.93 467.5h1.6M350.65 471.5h1.6M366.1 453.5h1.6M363.77 465.5h1.6M370.01 473.5h1.6M373.75 468.5h1.6M365.33 442.5h1.6M360.83 446.5h1.6M373.4 460.5h1.6M390.3 462.5h1.6M345.85 466.5h1.6M351.62 442.5h1.6M376.99 444.5h1.6M371.85 469.5h1.6M373.68 464.5h1.6M353.54 464.5h1.6M361.61 465.5h1.6M357.26 441.5h1.6M341.55 455.5h1.6M390.9 469.5h1.6M370.88 457.5h1.6M355.44 445.5h1.6M360.34 449.5h1.6M358.98 473.5h1.6M339.6 447.5h1.6M358.13 464.5h1.6M357.59 468.5h1.6M360.6 457.5h1.6M325.19 457.5h1.6M360.09 472.5h1.6M365.82 446.5h1.6M341.49 447.5h1.6M356.31 442.5h1.6M354.25 441.5h1.6M364.58 463.5h1.6M366.03 458.5h1.6"/>
<line x1="321.5" y1="481.7" x2="321.5" y2="518.7" stroke="#111" stroke-width="1.2"/>
<path stroke="#000" stroke-width="1" d="M320.7 512.5h1.6M320.7 491.5h1.6M320.7 487.5h1.6M320.7 483.5h1.6M320.7 498.5h1.6M320.7 494.5h1.6M320.7 516.5h1.6M320.7 512.5h1.6M320.7 502.5h1.6M320.7 497.5h1.6M320.7 502.5h1.6M320.7 517.5h1.6M320.7 509.5h1.6M320.7 484.5h1.6M320.7 513.5h1.6M320.7 488.5h1.6M320.7 486.5h1.6M320.7 483.5h1.6M320.7 504.5h1.6M320.7 511.5h1.6M320.7 505.5h1.6M320.7 509.5h1.6M320.7 515.5h1.6M320.7 496.5h1.6M320.7 485.5h1.6M320.7 509.5h1.6M320.7 507.5h1.6M320.7 499.5h1.6M320.7 493.5h1.6M320.7 500.5h1.6"/>
<path stroke="#000" stroke-width="1" d="M368.5 312.5h1.6M362.2 318.5h1.6M362.2 333.5h1.6M362.2 373.5h1.6M352.4 408.5h1.6M342.8 418.5h1.6M353.6 417.5h1.6M365.5 417.5h1.6M347.8 427.5h1.6"/>
<line x1="386.9" y1="441.9" x2="396.5" y2="441.9" stroke="#00B0F6" stroke-width="1.25"/>
<line x1="391.7" y1="437.1" x2="391.7" y2="446.7" stroke="#00B0F6" stroke-width="1.25"/>
<line x1="411.5" y1="302.2" x2="411.5" y2="526.5" stroke="#000" stroke-width="1.15"/>
<line x1="410.9" y1="525.9" x2="487.7" y2="525.9" stroke="#000" stroke-width="1.15"/>
<line x1="407.5" y1="326.5" x2="411.5" y2="326.5" stroke="#333" stroke-width="0.8"/>
<line x1="407.5" y1="369.5" x2="411.5" y2="369.5" stroke="#333" stroke-width="0.8"/>
<line x1="407.5" y1="412.5" x2="411.5" y2="412.5" stroke="#333" stroke-width="0.8"/>
<line x1="407.5" y1="455.5" x2="411.5" y2="455.5" stroke="#333" stroke-width="0.8"/>
<line x1="407.5" y1="498.5" x2="411.5" y2="498.5" stroke="#333" stroke-width="0.8"/>
<line x1="413.3" y1="525.7" x2="413.3" y2="528" stroke="#333" stroke-width="0.7"/>
<line x1="428.8" y1="525.7" x2="428.8" y2="528" stroke="#333" stroke-width="0.7"/>
<line x1="444.3" y1="525.7" x2="444.3" y2="528" stroke="#333" stroke-width="0.7"/>
<line x1="459.8" y1="525.7" x2="459.8" y2="528" stroke="#333" stroke-width="0.7"/>
<line x1="475.3" y1="525.7" x2="475.3" y2="528" stroke="#333" stroke-width="0.7"/>
<text x="413.3" y="539.1" font-size="9.6" text-anchor="middle">0</text>
<text x="444.3" y="539.1" font-size="9.6" text-anchor="middle">1</text>
<text x="475.3" y="539.1" font-size="9.6" text-anchor="middle">2</text>
<text x="0" y="0" font-size="9.4" text-anchor="middle" font-style="italic" transform="translate(449,297.3) scale(1,1.08)">Ascl1</text>
<line x1="413.3" y1="326.5" x2="474.3" y2="326.5" stroke="#444" stroke-width="0.9"/>
<rect x="412.9" y="306.7" width="2.2" height="39" rx="1.1" ry="2.5"/>
<line x1="413.3" y1="369.5" x2="470.8" y2="369.5" stroke="#444" stroke-width="0.9"/>
<rect x="412.9" y="349.7" width="2.2" height="39" rx="1.1" ry="2.5"/>
<line x1="413.3" y1="412.5" x2="458.3" y2="412.5" stroke="#444" stroke-width="0.9"/>
<rect x="412.9" y="392.7" width="2.2" height="39" rx="1.1" ry="2.5"/>
<path d="M414,435.9 L415.28,436.42 L416.56,436.94 L417.85,437.6 L419.13,438.67 L420.41,440.2 L421.69,441.84 L422.97,443.3 L424.25,444.76 L425.54,446.16 L426.82,447.29 L428.1,448.06 L429.38,448.75 L430.66,449.34 L431.95,449.75 L433.23,449.9 L434.51,449.89 L435.79,449.85 L437.07,449.8 L438.35,449.73 L439.64,449.66 L440.92,449.53 L442.2,449.37 L443.48,449.22 L444.76,449.1 L446.05,449.01 L447.33,448.93 L448.61,448.85 L449.89,448.81 L451.17,448.8 L452.45,448.8 L453.74,448.8 L455.02,448.8 L456.3,448.8 L457.58,448.83 L458.86,448.94 L460.15,449.1 L461.43,449.27 L462.71,449.44 L463.99,449.61 L465.27,449.8 L466.55,450.01 L467.84,450.23 L469.12,450.49 L470.4,450.81 L471.68,451.16 L472.96,451.48 L474.25,451.75 L475.53,451.98 L476.81,452.2 L478.09,452.39 L479.37,452.55 L480.65,452.66 L481.94,452.75 L483.22,452.82 L484.5,452.9 L484.5,457.5 L483.22,457.58 L481.94,457.65 L480.65,457.74 L479.37,457.85 L478.09,458.01 L476.81,458.2 L475.53,458.42 L474.25,458.65 L472.96,458.92 L471.68,459.24 L470.4,459.59 L469.12,459.91 L467.84,460.17 L466.55,460.39 L465.27,460.6 L463.99,460.79 L462.71,460.96 L461.43,461.13 L460.15,461.3 L458.86,461.46 L457.58,461.57 L456.3,461.6 L455.02,461.6 L453.74,461.6 L452.45,461.6 L451.17,461.6 L449.89,461.59 L448.61,461.55 L447.33,461.47 L446.05,461.39 L444.76,461.3 L443.48,461.18 L442.2,461.03 L440.92,460.87 L439.64,460.74 L438.35,460.67 L437.07,460.6 L435.79,460.55 L434.51,460.51 L433.23,460.5 L431.95,460.65 L430.66,461.06 L429.38,461.65 L428.1,462.34 L426.82,463.11 L425.54,464.24 L424.25,465.64 L422.97,467.1 L421.69,468.56 L420.41,470.2 L419.13,471.73 L417.85,472.8 L416.56,473.46 L415.28,473.98 L414,474.5Z" fill="#00B0F6" stroke="#000" stroke-width="0.6"/>
<path stroke="#000" stroke-width="1" d="M413.78 469.5h1.6M414.06 463.5h1.6M413.51 456.5h1.6M413.53 443.5h1.6M413.48 443.5h1.6M413.68 466.5h1.6M414.06 458.5h1.6M413.74 453.5h1.6M413.57 441.5h1.6M413.52 437.5h1.6M413.66 460.5h1.6M413.6 451.5h1.6M413.95 458.5h1.6M413.49 445.5h1.6M413.72 437.5h1.6M413.76 441.5h1.6M414 442.5h1.6M413.63 450.5h1.6M413.79 452.5h1.6M413.45 468.5h1.6M413.85 446.5h1.6M413.69 462.5h1.6M413.55 468.5h1.6M413.58 444.5h1.6M414.01 448.5h1.6M413.46 467.5h1.6M414.04 458.5h1.6M413.89 439.5h1.6M437.07 463.5h1.6M456.18 450.5h1.6M442.33 456.5h1.6M438.33 457.5h1.6M470.39 438.5h1.6M430.87 456.5h1.6M451.88 466.5h1.6M481.84 462.5h1.6M464.99 469.5h1.6M435.94 444.5h1.6M462.74 441.5h1.6M482.14 452.5h1.6M422.28 443.5h1.6M453.82 451.5h1.6M442.8 452.5h1.6M473.5 456.5h1.6M435.49 446.5h1.6M483.08 453.5h1.6M430.82 451.5h1.6M421.49 454.5h1.6M429.81 446.5h1.6M420.29 460.5h1.6M461.52 464.5h1.6M431.73 467.5h1.6M458.96 465.5h1.6M441.87 467.5h1.6M459.37 449.5h1.6M459.84 468.5h1.6M435.29 446.5h1.6M437.85 444.5h1.6M458.77 444.5h1.6M461.9 453.5h1.6M436.72 466.5h1.6M458.61 442.5h1.6M460.01 443.5h1.6M434.9 470.5h1.6M455.47 448.5h1.6M481.67 461.5h1.6M415.3 450.5h1.6M440.54 454.5h1.6M452.35 448.5h1.6M450.61 438.5h1.6M441.72 468.5h1.6M441.01 455.5h1.6M449.88 454.5h1.6"/>
<line x1="413.3" y1="498.5" x2="423.9" y2="498.5" stroke="#444" stroke-width="0.9"/>
<line x1="414.5" y1="479.7" x2="414.5" y2="516.7" stroke="#111" stroke-width="1.2"/>
<path stroke="#000" stroke-width="1" d="M413.7 495.5h1.6M413.7 507.5h1.6M413.7 490.5h1.6M413.7 516.5h1.6M413.7 506.5h1.6M413.7 488.5h1.6M413.7 506.5h1.6M413.7 507.5h1.6M413.7 504.5h1.6M413.7 512.5h1.6M413.7 489.5h1.6M413.7 493.5h1.6M413.7 486.5h1.6M413.7 485.5h1.6M413.7 502.5h1.6M413.7 482.5h1.6M413.7 508.5h1.6M413.7 492.5h1.6M413.7 505.5h1.6M413.7 516.5h1.6M413.7 498.5h1.6M413.7 511.5h1.6M413.7 510.5h1.6M413.7 511.5h1.6M413.7 498.5h1.6M413.7 499.5h1.6M413.7 507.5h1.6M413.7 501.5h1.6M413.7 488.5h1.6M413.7 511.5h1.6"/>
<path stroke="#000" stroke-width="1" d="M432.1 312.5h1.6M426.7 317.5h1.6M428.2 318.5h1.6M433.9 315.5h1.6M448.3 312.5h1.6M448.3 314.5h1.6M442.9 318.5h1.6M444.2 319.5h1.6M457.9 313.5h1.6M462.4 315.5h1.6M461.9 318.5h1.6M456.1 319.5h1.6M454.7 321.5h1.6M473 310.5h1.6M447.1 324.5h1.6M441.1 327.5h1.6M457.7 331.5h1.6M461.5 335.5h1.6M447.1 336.5h1.6M415.9 341.5h1.6M425.8 342.5h1.6M463.1 341.5h1.6M439.3 354.5h1.6M447.4 353.5h1.6M452.8 367.5h1.6M469.4 369.5h1.6M429.4 398.5h1.6M429.4 402.5h1.6M452.9 411.5h1.6M447.1 412.5h1.6M437 422.5h1.6M452.1 424.5h1.6M457.1 424.5h1.6M423.1 498.5h1.6"/>
<line x1="477" y1="441.8" x2="486.6" y2="441.8" stroke="#00B0F6" stroke-width="1.25"/>
<line x1="481.8" y1="437" x2="481.8" y2="446.6" stroke="#00B0F6" stroke-width="1.25"/>
<line x1="498.5" y1="302.2" x2="498.5" y2="526.5" stroke="#000" stroke-width="1.15"/>
<line x1="497.9" y1="525.9" x2="580.7" y2="525.9" stroke="#000" stroke-width="1.15"/>
<line x1="494.5" y1="326.5" x2="498.5" y2="326.5" stroke="#333" stroke-width="0.8"/>
<line x1="494.5" y1="369.5" x2="498.5" y2="369.5" stroke="#333" stroke-width="0.8"/>
<line x1="494.5" y1="412.5" x2="498.5" y2="412.5" stroke="#333" stroke-width="0.8"/>
<line x1="494.5" y1="455.5" x2="498.5" y2="455.5" stroke="#333" stroke-width="0.8"/>
<line x1="494.5" y1="498.5" x2="498.5" y2="498.5" stroke="#333" stroke-width="0.8"/>
<line x1="502.3" y1="525.7" x2="502.3" y2="528" stroke="#333" stroke-width="0.7"/>
<line x1="521.6" y1="525.7" x2="521.6" y2="528" stroke="#333" stroke-width="0.7"/>
<line x1="540.9" y1="525.7" x2="540.9" y2="528" stroke="#333" stroke-width="0.7"/>
<line x1="560.2" y1="525.7" x2="560.2" y2="528" stroke="#333" stroke-width="0.7"/>
<text x="502.3" y="539.1" font-size="9.6" text-anchor="middle">0</text>
<text x="521.6" y="539.1" font-size="9.6" text-anchor="middle">1</text>
<text x="540.9" y="539.1" font-size="9.6" text-anchor="middle">2</text>
<text x="560.2" y="539.1" font-size="9.6" text-anchor="middle">3</text>
<text x="0" y="0" font-size="9.4" text-anchor="middle" font-style="italic" transform="translate(545.3,297.3) scale(1,1.08)">Ogt</text>
<path d="M502.3,306.9 L503.58,307.8 L504.86,308.71 L506.14,309.97 L507.41,312.37 L508.69,315.31 L509.97,317.5 L511.25,319.31 L512.53,320.63 L513.81,321.23 L515.09,321.68 L516.36,321.98 L517.64,322.1 L518.92,322.03 L520.2,321.84 L521.48,321.63 L522.76,321.46 L524.04,321.32 L525.31,321.19 L526.59,321.06 L527.87,320.94 L529.15,320.83 L530.43,320.72 L531.71,320.63 L532.99,320.52 L534.26,320.38 L535.54,320.16 L536.82,319.87 L538.1,319.6 L539.38,319.42 L540.66,319.41 L541.94,319.46 L543.21,319.55 L544.49,319.67 L545.77,319.8 L547.05,319.96 L548.33,320.17 L549.61,320.43 L550.89,320.71 L552.16,321.01 L553.44,321.38 L554.72,321.79 L556,322.22 L557.28,322.63 L558.56,323.02 L559.84,323.41 L561.11,323.79 L562.39,324.14 L563.67,324.47 L564.95,324.77 L566.23,325.05 L567.51,325.3 L568.79,325.51 L570.06,325.7 L571.34,325.87 L572.62,326.03 L573.9,326.2 L573.9,326.2 L572.62,326.37 L571.34,326.53 L570.06,326.7 L568.79,326.89 L567.51,327.1 L566.23,327.35 L564.95,327.63 L563.67,327.93 L562.39,328.26 L561.11,328.61 L559.84,328.99 L558.56,329.38 L557.28,329.77 L556,330.18 L554.72,330.61 L553.44,331.02 L552.16,331.39 L550.89,331.69 L549.61,331.97 L548.33,332.23 L547.05,332.44 L545.77,332.6 L544.49,332.73 L543.21,332.85 L541.94,332.94 L540.66,332.99 L539.38,332.98 L538.1,332.8 L536.82,332.53 L535.54,332.24 L534.26,332.02 L532.99,331.88 L531.71,331.77 L530.43,331.68 L529.15,331.57 L527.87,331.46 L526.59,331.34 L525.31,331.21 L524.04,331.08 L522.76,330.94 L521.48,330.77 L520.2,330.56 L518.92,330.37 L517.64,330.3 L516.36,330.42 L515.09,330.72 L513.81,331.17 L512.53,331.77 L511.25,333.09 L509.97,334.9 L508.69,337.09 L507.41,340.03 L506.14,342.43 L504.86,343.69 L503.58,344.6 L502.3,345.5Z" fill="#F8766D" stroke="#000" stroke-width="0.6"/>
<path stroke="#000" stroke-width="1" d="M502.11 332.5h1.6M502.15 333.5h1.6M502.04 319.5h1.6M501.78 321.5h1.6M502.08 343.5h1.6M501.71 319.5h1.6M502.37 333.5h1.6M502.32 314.5h1.6M501.97 325.5h1.6M502.32 329.5h1.6M502.08 342.5h1.6M502.03 340.5h1.6M502.13 326.5h1.6M502.21 328.5h1.6M501.92 331.5h1.6M502.13 321.5h1.6M501.87 318.5h1.6M501.91 328.5h1.6M502.04 327.5h1.6M502.18 308.5h1.6M502.25 337.5h1.6M501.89 336.5h1.6M502.17 339.5h1.6M502.4 341.5h1.6M501.93 337.5h1.6M501.73 342.5h1.6M502.02 338.5h1.6M501.82 343.5h1.6M502.25 315.5h1.6M501.79 341.5h1.6M502.17 333.5h1.6M502.15 319.5h1.6M501.74 341.5h1.6M502.37 335.5h1.6M501.98 335.5h1.6M501.72 308.5h1.6M501.86 323.5h1.6M502.35 319.5h1.6M501.79 340.5h1.6M501.87 341.5h1.6M502.06 330.5h1.6M502.09 322.5h1.6M501.95 339.5h1.6M501.97 313.5h1.6M501.86 342.5h1.6M528.24 315.5h1.6M561.34 342.5h1.6M551.94 332.5h1.6M529.62 328.5h1.6M528.83 330.5h1.6M562.21 337.5h1.6M554.19 320.5h1.6M540.21 316.5h1.6M541.06 312.5h1.6M530.24 340.5h1.6M559.13 333.5h1.6M552.09 329.5h1.6M541.22 320.5h1.6M514.35 309.5h1.6M552.17 342.5h1.6M552.21 330.5h1.6M554.52 319.5h1.6M527.66 338.5h1.6M538.18 331.5h1.6M541.51 336.5h1.6M533.01 329.5h1.6M522.69 329.5h1.6M509.8 343.5h1.6M552.15 318.5h1.6M529.27 329.5h1.6M535.49 340.5h1.6M548.95 325.5h1.6M527.16 319.5h1.6M528.33 312.5h1.6M544.26 338.5h1.6M531.52 318.5h1.6M532.96 336.5h1.6M536.16 335.5h1.6M526.6 340.5h1.6M521.01 343.5h1.6M532.76 323.5h1.6M539.1 323.5h1.6M533.84 337.5h1.6M524.33 340.5h1.6M540.09 327.5h1.6M533.71 325.5h1.6M564.04 329.5h1.6M539.27 330.5h1.6M511.32 340.5h1.6M537.67 319.5h1.6M536.55 312.5h1.6M521.2 317.5h1.6M544.85 338.5h1.6M544.9 333.5h1.6M520.61 326.5h1.6M523.74 341.5h1.6M513.86 335.5h1.6M547.09 315.5h1.6M516.08 327.5h1.6M523.27 336.5h1.6M530.24 315.5h1.6M543.28 310.5h1.6M536.09 333.5h1.6M531.1 342.5h1.6M546.3 312.5h1.6M516.56 331.5h1.6M538.58 324.5h1.6M546.2 337.5h1.6M533.81 318.5h1.6M540.98 331.5h1.6M560.26 331.5h1.6M535.39 314.5h1.6M549.08 336.5h1.6M540.17 313.5h1.6M544.68 328.5h1.6M525.45 328.5h1.6M516.33 326.5h1.6M537.39 323.5h1.6M566.82 343.5h1.6M529.9 340.5h1.6M531.29 310.5h1.6M556.61 311.5h1.6M551.13 313.5h1.6M561.47 331.5h1.6M531 314.5h1.6M523.64 326.5h1.6M547.94 331.5h1.6M541.96 317.5h1.6M556.55 332.5h1.6M543.66 320.5h1.6M550.94 313.5h1.6M550.44 335.5h1.6M530.09 334.5h1.6M541.79 339.5h1.6M543.42 335.5h1.6M521.25 312.5h1.6M523.13 339.5h1.6M551.97 325.5h1.6M560.52 310.5h1.6M566.18 331.5h1.6M536.73 324.5h1.6M521.3 336.5h1.6M539.21 327.5h1.6M528.41 342.5h1.6M522.32 310.5h1.6M543.09 321.5h1.6M516.17 326.5h1.6M549.57 334.5h1.6M546.94 315.5h1.6M539.41 325.5h1.6M518.94 328.5h1.6M525.3 313.5h1.6M528.81 336.5h1.6M543.25 341.5h1.6M537.01 342.5h1.6M512.63 330.5h1.6M528.36 316.5h1.6M530.18 330.5h1.6M552.02 316.5h1.6M537.9 317.5h1.6M526.42 334.5h1.6M540.59 318.5h1.6M529.61 335.5h1.6M514.58 313.5h1.6M549.87 327.5h1.6M533.99 342.5h1.6M539.78 323.5h1.6M531.91 311.5h1.6M557.07 319.5h1.6M554.29 324.5h1.6M546.95 313.5h1.6M549.31 317.5h1.6M534.31 314.5h1.6M560.33 309.5h1.6M525.63 321.5h1.6M530.72 330.5h1.6M557.12 328.5h1.6M557.68 325.5h1.6M553.67 326.5h1.6M537.49 324.5h1.6M548.94 335.5h1.6M547.38 311.5h1.6M532.74 334.5h1.6M554.15 326.5h1.6M545.1 337.5h1.6M520.81 340.5h1.6M533.33 329.5h1.6M559.7 317.5h1.6M546.8 333.5h1.6M523.25 337.5h1.6M546.38 331.5h1.6M545.57 340.5h1.6M518.63 311.5h1.6M551.44 325.5h1.6M540.9 313.5h1.6M539.25 317.5h1.6M509.77 313.5h1.6M518.79 312.5h1.6M551.36 335.5h1.6M531.46 316.5h1.6M526.71 316.5h1.6M546 312.5h1.6M553.63 341.5h1.6M513.51 328.5h1.6M535.74 335.5h1.6M543.03 313.5h1.6M549.48 321.5h1.6M529.42 320.5h1.6M534.32 322.5h1.6M543.63 317.5h1.6M516.19 333.5h1.6M546.47 335.5h1.6M536.54 322.5h1.6M523.64 314.5h1.6M534.48 315.5h1.6M518.73 322.5h1.6M554.54 311.5h1.6M513.02 338.5h1.6M522.3 328.5h1.6M532.2 316.5h1.6M536.06 317.5h1.6M526.42 328.5h1.6M536.25 324.5h1.6M534.95 330.5h1.6M553.54 326.5h1.6M518.61 318.5h1.6M552.03 314.5h1.6M555.46 320.5h1.6M532.77 311.5h1.6M548.91 319.5h1.6M526.28 325.5h1.6M554.78 326.5h1.6M559.96 336.5h1.6M518.4 321.5h1.6M528.18 311.5h1.6M550.12 318.5h1.6M544.44 335.5h1.6M551.59 314.5h1.6M518.54 334.5h1.6M525.82 328.5h1.6M523.39 326.5h1.6M538.06 316.5h1.6M536.27 321.5h1.6M503.77 322.5h1.6M519.41 324.5h1.6M537.07 316.5h1.6M560.18 325.5h1.6M540.27 325.5h1.6M546.96 339.5h1.6M538.81 325.5h1.6M522.84 317.5h1.6M529.88 325.5h1.6M536.98 310.5h1.6M553.37 311.5h1.6M535.39 340.5h1.6M526.4 330.5h1.6M554.12 332.5h1.6M518.54 334.5h1.6M529.32 342.5h1.6M531.68 322.5h1.6M510.29 323.5h1.6M534.89 319.5h1.6M535.24 328.5h1.6M531.15 316.5h1.6M527.67 340.5h1.6M525.27 326.5h1.6M538.44 330.5h1.6M535.96 339.5h1.6M533.92 338.5h1.6M523.58 340.5h1.6M527.69 341.5h1.6M529.77 331.5h1.6M541.98 330.5h1.6M539.97 329.5h1.6M559.74 321.5h1.6M517.56 334.5h1.6M533.05 312.5h1.6M532.85 341.5h1.6M531.67 330.5h1.6M530.76 319.5h1.6M543.03 337.5h1.6M537.97 337.5h1.6M541.24 322.5h1.6M509.48 339.5h1.6M536.51 314.5h1.6M562.07 321.5h1.6M559.26 341.5h1.6M561.46 316.5h1.6M531.69 338.5h1.6M517.13 341.5h1.6M518.79 327.5h1.6M530.2 335.5h1.6M545.29 335.5h1.6M546.47 326.5h1.6M526.74 333.5h1.6M549.44 322.5h1.6M544.85 315.5h1.6M526.98 332.5h1.6M538.21 322.5h1.6M565.66 325.5h1.6M539.23 310.5h1.6M522.08 328.5h1.6M530.28 324.5h1.6M528.22 326.5h1.6M554.5 313.5h1.6M516.56 318.5h1.6M556.35 319.5h1.6M539.7 339.5h1.6M522.08 323.5h1.6M542.77 326.5h1.6M536.68 337.5h1.6M538.51 339.5h1.6M558.27 331.5h1.6M545.34 329.5h1.6M509.81 335.5h1.6M549.58 327.5h1.6M557.65 331.5h1.6M546.6 342.5h1.6M508.99 313.5h1.6M547.26 327.5h1.6M527.4 338.5h1.6M545.7 316.5h1.6M548.87 311.5h1.6M543.01 330.5h1.6M543.73 314.5h1.6M523.21 310.5h1.6M531.91 311.5h1.6M530.83 314.5h1.6M552.2 341.5h1.6M537.63 315.5h1.6M521.3 310.5h1.6M518.31 338.5h1.6M539.49 333.5h1.6M538.19 309.5h1.6M555.23 326.5h1.6M542.59 341.5h1.6M543.04 322.5h1.6M522.44 312.5h1.6M532.06 315.5h1.6M541.86 317.5h1.6M549.99 315.5h1.6M507.25 317.5h1.6M519.08 340.5h1.6M514.01 318.5h1.6M554.31 313.5h1.6M546.67 325.5h1.6M518.57 317.5h1.6M527.07 311.5h1.6M529.23 311.5h1.6M520 324.5h1.6M547.85 316.5h1.6M520.54 325.5h1.6M526.61 336.5h1.6M537.31 313.5h1.6M557.87 338.5h1.6M555.49 316.5h1.6M505.96 314.5h1.6M526.18 321.5h1.6M512.58 327.5h1.6M558.49 310.5h1.6M536.49 335.5h1.6M533.59 332.5h1.6M523.84 338.5h1.6M529.78 338.5h1.6M554.92 318.5h1.6M521.21 325.5h1.6M518.08 327.5h1.6M530.77 329.5h1.6M541.07 318.5h1.6M539.21 312.5h1.6M518.93 320.5h1.6M525.98 320.5h1.6M530.27 331.5h1.6M534.68 328.5h1.6M529.63 319.5h1.6"/>
<path d="M502.3,349.9 L503.59,350.81 L504.87,351.74 L506.16,352.99 L507.45,355.22 L508.73,357.93 L510.02,360.14 L511.31,362.25 L512.59,363.71 L513.88,364.1 L515.17,364.32 L516.45,364.45 L517.74,364.5 L519.02,364.29 L520.31,363.8 L521.6,363.18 L522.88,362.57 L524.17,361.84 L525.46,361.01 L526.74,360.18 L528.03,359.44 L529.32,358.81 L530.6,358.2 L531.89,357.64 L533.18,357.17 L534.46,356.81 L535.75,356.47 L537.04,356.16 L538.32,355.93 L539.61,355.81 L540.9,355.81 L542.18,355.88 L543.47,356 L544.76,356.15 L546.04,356.34 L547.33,356.76 L548.62,357.42 L549.9,358.21 L551.19,359.01 L552.48,359.74 L553.76,360.5 L555.05,361.29 L556.33,362.09 L557.62,362.87 L558.91,363.65 L560.19,364.44 L561.48,365.21 L562.77,365.95 L564.05,366.65 L565.34,367.31 L566.63,367.94 L567.91,368.57 L569.2,369.2 L569.2,369.2 L567.91,369.83 L566.63,370.46 L565.34,371.09 L564.05,371.75 L562.77,372.45 L561.48,373.19 L560.19,373.96 L558.91,374.75 L557.62,375.53 L556.33,376.31 L555.05,377.11 L553.76,377.9 L552.48,378.66 L551.19,379.39 L549.9,380.19 L548.62,380.98 L547.33,381.64 L546.04,382.06 L544.76,382.25 L543.47,382.4 L542.18,382.52 L540.9,382.59 L539.61,382.59 L538.32,382.47 L537.04,382.24 L535.75,381.93 L534.46,381.59 L533.18,381.23 L531.89,380.76 L530.6,380.2 L529.32,379.59 L528.03,378.96 L526.74,378.22 L525.46,377.39 L524.17,376.56 L522.88,375.83 L521.6,375.22 L520.31,374.6 L519.02,374.11 L517.74,373.9 L516.45,373.95 L515.17,374.08 L513.88,374.3 L512.59,374.69 L511.31,376.15 L510.02,378.26 L508.73,380.47 L507.45,383.18 L506.16,385.41 L504.87,386.66 L503.59,387.59 L502.3,388.5Z" fill="#A3A500" stroke="#000" stroke-width="0.6"/>
<path stroke="#000" stroke-width="1" d="M501.82 353.5h1.6M502.07 383.5h1.6M501.86 359.5h1.6M502.29 378.5h1.6M502.21 380.5h1.6M502.17 355.5h1.6M502.37 382.5h1.6M502.39 378.5h1.6M502.39 353.5h1.6M502.34 363.5h1.6M502.24 366.5h1.6M502.2 356.5h1.6M502.26 359.5h1.6M501.72 356.5h1.6M501.8 360.5h1.6M501.86 354.5h1.6M502.07 362.5h1.6M502.17 373.5h1.6M501.97 380.5h1.6M502.13 359.5h1.6M502.17 380.5h1.6M502.08 351.5h1.6M501.72 372.5h1.6M501.85 355.5h1.6M502.1 359.5h1.6M501.73 361.5h1.6M501.82 362.5h1.6M502.21 354.5h1.6M501.98 365.5h1.6M502.07 379.5h1.6M502.27 370.5h1.6M501.85 371.5h1.6M502.11 356.5h1.6M502.32 383.5h1.6M502.01 369.5h1.6M501.97 378.5h1.6M502.01 359.5h1.6M501.72 374.5h1.6M501.77 386.5h1.6M502.08 379.5h1.6M502.14 380.5h1.6M502.18 378.5h1.6M502.24 382.5h1.6M501.75 377.5h1.6M502.02 382.5h1.6M536.09 377.5h1.6M527.57 373.5h1.6M535.86 376.5h1.6M519.62 382.5h1.6M531.01 355.5h1.6M540.84 374.5h1.6M523.47 369.5h1.6M536.5 369.5h1.6M562.22 368.5h1.6M553.8 382.5h1.6M557.48 374.5h1.6M553.73 370.5h1.6M549.46 367.5h1.6M553.19 371.5h1.6M536.66 362.5h1.6M530.09 354.5h1.6M527.03 374.5h1.6M529.72 375.5h1.6M536.78 374.5h1.6M529.5 379.5h1.6M546.14 379.5h1.6M554.34 353.5h1.6M547.61 381.5h1.6M533.66 355.5h1.6M538.45 363.5h1.6M538.69 367.5h1.6M552.75 380.5h1.6M542.85 362.5h1.6M540.84 358.5h1.6M554.71 353.5h1.6M532.48 380.5h1.6M553.17 380.5h1.6M520.97 371.5h1.6M540.31 383.5h1.6M563.27 358.5h1.6M558.73 372.5h1.6M546.7 366.5h1.6M534.46 360.5h1.6M529.56 372.5h1.6M538.22 360.5h1.6M533.74 381.5h1.6M533.38 354.5h1.6M521.45 377.5h1.6M507.98 380.5h1.6M539.35 372.5h1.6M520.71 368.5h1.6M536.55 354.5h1.6M533.69 368.5h1.6M535.3 372.5h1.6M560.14 372.5h1.6M526.1 364.5h1.6M536.53 383.5h1.6M532.59 383.5h1.6M534.25 371.5h1.6M537.82 380.5h1.6M540.95 385.5h1.6M521.38 356.5h1.6M537.5 386.5h1.6M509.05 381.5h1.6M525.71 377.5h1.6M545.08 375.5h1.6M554.94 354.5h1.6M542.04 352.5h1.6M520.64 384.5h1.6M538 353.5h1.6M539.97 365.5h1.6M532.03 380.5h1.6M549.91 352.5h1.6M540.24 358.5h1.6M555.53 361.5h1.6M529.27 384.5h1.6M528.49 379.5h1.6M528.51 354.5h1.6M556.31 363.5h1.6M519.14 381.5h1.6M520.58 385.5h1.6M547.25 381.5h1.6M521.37 361.5h1.6M547.29 361.5h1.6M534.43 372.5h1.6M565.21 361.5h1.6M534.72 356.5h1.6M542.47 374.5h1.6M524.08 355.5h1.6M544.62 367.5h1.6M539.86 381.5h1.6M545.46 361.5h1.6M539.86 377.5h1.6M536.66 364.5h1.6M516.96 367.5h1.6M534.93 373.5h1.6M537.88 381.5h1.6M551.45 360.5h1.6M552.58 354.5h1.6M537.34 379.5h1.6M541.62 377.5h1.6M547.52 354.5h1.6M553.3 357.5h1.6M521.05 378.5h1.6M538.42 363.5h1.6M524.79 361.5h1.6M543.69 371.5h1.6M553.16 360.5h1.6M541.76 360.5h1.6M535.05 363.5h1.6M538.49 363.5h1.6M544.76 364.5h1.6M539.4 352.5h1.6M545.89 379.5h1.6M551.14 377.5h1.6M565.13 368.5h1.6M537.09 370.5h1.6M552.82 373.5h1.6M560.82 353.5h1.6M547.13 359.5h1.6M548.59 380.5h1.6M541.06 367.5h1.6M549.76 368.5h1.6M533.05 365.5h1.6M524.83 370.5h1.6M540.7 364.5h1.6M527.42 366.5h1.6M524.41 375.5h1.6M552.34 378.5h1.6M550.4 377.5h1.6M560.09 364.5h1.6M526.76 354.5h1.6M510.52 370.5h1.6M540.37 364.5h1.6M542.23 379.5h1.6M539.36 358.5h1.6M542.43 385.5h1.6M535.16 365.5h1.6M548.91 363.5h1.6M531.58 379.5h1.6M528.63 382.5h1.6M537.96 354.5h1.6M533.72 353.5h1.6M526.72 372.5h1.6M522.74 378.5h1.6M550.46 353.5h1.6M538.16 356.5h1.6M507.64 364.5h1.6M556.48 366.5h1.6M549.79 375.5h1.6M561.71 362.5h1.6M519.84 382.5h1.6M535.44 373.5h1.6M547.34 373.5h1.6M540.84 373.5h1.6M546.61 375.5h1.6M550.3 368.5h1.6M547.15 353.5h1.6M565.49 384.5h1.6M537.76 364.5h1.6M525.29 365.5h1.6M527.86 358.5h1.6M537.54 373.5h1.6M547.51 354.5h1.6M557.41 358.5h1.6M536.1 360.5h1.6M507.26 382.5h1.6M551.25 372.5h1.6M513.66 377.5h1.6M522.06 376.5h1.6M505.37 368.5h1.6M522.89 353.5h1.6M519.88 385.5h1.6M544.44 375.5h1.6M538.32 371.5h1.6M529.98 355.5h1.6M550.84 384.5h1.6M558.05 386.5h1.6M527.23 363.5h1.6M550.22 366.5h1.6M524.04 383.5h1.6M566.63 383.5h1.6M545.98 379.5h1.6M553.5 358.5h1.6M547.67 374.5h1.6M553 371.5h1.6M532.9 368.5h1.6M546.65 367.5h1.6M556.19 355.5h1.6M544.34 366.5h1.6M533.85 360.5h1.6M558.63 382.5h1.6M547.52 359.5h1.6M529.66 362.5h1.6M537.37 381.5h1.6M529.39 375.5h1.6M546.48 379.5h1.6M526.91 370.5h1.6M546.38 384.5h1.6M536.69 371.5h1.6M550.42 374.5h1.6M525.95 364.5h1.6M540.01 361.5h1.6M555.43 353.5h1.6M547.08 378.5h1.6M552.27 353.5h1.6M547.56 384.5h1.6M552.6 356.5h1.6M544.81 383.5h1.6M547.84 355.5h1.6M540.35 373.5h1.6M538.92 385.5h1.6M561.56 355.5h1.6M549.01 372.5h1.6M529.14 379.5h1.6M539.66 374.5h1.6M527.98 375.5h1.6M520.49 385.5h1.6M538.29 376.5h1.6M531.73 352.5h1.6M523.45 377.5h1.6M530.57 362.5h1.6M542.83 379.5h1.6M547.51 358.5h1.6M529.69 356.5h1.6M536.11 374.5h1.6M538.71 367.5h1.6M532.18 361.5h1.6M547.26 366.5h1.6M536.9 378.5h1.6M538.19 361.5h1.6M539.34 370.5h1.6M546.57 382.5h1.6M532.88 375.5h1.6M549.74 383.5h1.6M537.31 354.5h1.6M536.01 353.5h1.6M535.62 366.5h1.6M544.46 359.5h1.6M536.61 372.5h1.6M542.25 373.5h1.6M538.19 380.5h1.6M565.59 375.5h1.6M521.4 381.5h1.6M552.04 376.5h1.6M549.47 380.5h1.6M533.39 378.5h1.6M534.49 364.5h1.6M533.16 354.5h1.6M541.01 370.5h1.6M541.06 361.5h1.6M516.52 353.5h1.6M543.24 370.5h1.6M540.68 358.5h1.6M535.25 361.5h1.6M538.3 373.5h1.6M546.55 381.5h1.6M535.01 370.5h1.6M519.39 362.5h1.6M543.95 373.5h1.6M526.59 352.5h1.6M557.22 358.5h1.6M556.16 381.5h1.6M546.1 385.5h1.6M532.93 368.5h1.6M554.13 361.5h1.6M535.08 356.5h1.6M537.37 370.5h1.6M558.96 369.5h1.6M526.78 372.5h1.6M538.96 372.5h1.6M532.43 379.5h1.6M556.62 385.5h1.6M545.82 352.5h1.6M540.21 352.5h1.6M559.03 356.5h1.6M515.94 358.5h1.6M541.62 383.5h1.6M536.04 378.5h1.6M552.78 368.5h1.6M530.52 369.5h1.6M509.34 378.5h1.6M537.26 360.5h1.6M536.22 385.5h1.6M536.76 369.5h1.6M540.16 378.5h1.6M544.58 369.5h1.6M543.74 375.5h1.6M532.5 365.5h1.6M535.41 357.5h1.6M525.52 385.5h1.6M538.26 358.5h1.6M538.63 364.5h1.6M557.44 378.5h1.6M551.42 370.5h1.6M542.22 369.5h1.6M543.21 381.5h1.6M541.75 360.5h1.6M524.77 367.5h1.6M537.06 356.5h1.6M554.63 363.5h1.6M543.17 376.5h1.6M546.99 354.5h1.6M529.46 358.5h1.6M548.49 371.5h1.6M538.56 363.5h1.6M546.85 375.5h1.6M539.66 355.5h1.6M507.23 365.5h1.6M562.82 360.5h1.6M534.77 362.5h1.6M512.17 382.5h1.6M537.13 369.5h1.6M561.24 382.5h1.6M534.68 374.5h1.6M542.85 382.5h1.6M536.17 374.5h1.6M539.2 366.5h1.6M537.48 380.5h1.6M538.42 374.5h1.6M532.97 361.5h1.6M538.82 367.5h1.6M545.4 358.5h1.6M524.94 384.5h1.6M529.7 384.5h1.6M524.72 361.5h1.6M530 379.5h1.6M537.98 379.5h1.6M556.16 363.5h1.6M548.33 359.5h1.6M523.29 375.5h1.6M539.26 381.5h1.6M533.02 361.5h1.6M550 373.5h1.6M535.37 372.5h1.6M547.27 364.5h1.6M532.8 364.5h1.6M540.65 372.5h1.6M539.18 368.5h1.6M560.7 384.5h1.6M540.13 371.5h1.6M516.25 355.5h1.6M555.69 376.5h1.6M539.08 374.5h1.6M533.83 352.5h1.6"/>
<path d="M502.3,392.9 L503.6,394.02 L504.9,395.15 L506.2,396.69 L507.5,399.54 L508.8,402.74 L510.1,404.82 L511.4,406.41 L512.7,407.4 L514,407.72 L515.3,407.93 L516.6,408.06 L517.9,408.1 L519.2,407.88 L520.5,407.48 L521.8,407.05 L523.1,406.75 L524.4,406.49 L525.7,406.24 L527,406.01 L528.3,405.8 L529.6,405.59 L530.9,405.39 L532.2,405.21 L533.5,405.06 L534.8,404.93 L536.1,404.81 L537.4,404.71 L538.7,404.63 L540,404.6 L541.3,404.64 L542.6,404.75 L543.9,404.91 L545.2,405.1 L546.5,405.35 L547.8,405.77 L549.1,406.32 L550.4,406.92 L551.7,407.5 L553,408.07 L554.3,408.67 L555.6,409.28 L556.9,409.85 L558.2,410.37 L559.5,410.85 L560.8,411.3 L562.1,411.75 L563.4,412.2 L563.4,412.2 L562.1,412.65 L560.8,413.1 L559.5,413.55 L558.2,414.03 L556.9,414.55 L555.6,415.12 L554.3,415.73 L553,416.33 L551.7,416.9 L550.4,417.48 L549.1,418.08 L547.8,418.63 L546.5,419.05 L545.2,419.3 L543.9,419.49 L542.6,419.65 L541.3,419.76 L540,419.8 L538.7,419.77 L537.4,419.69 L536.1,419.59 L534.8,419.47 L533.5,419.34 L532.2,419.19 L530.9,419.01 L529.6,418.81 L528.3,418.6 L527,418.39 L525.7,418.16 L524.4,417.91 L523.1,417.65 L521.8,417.35 L520.5,416.92 L519.2,416.52 L517.9,416.3 L516.6,416.34 L515.3,416.47 L514,416.68 L512.7,417 L511.4,417.99 L510.1,419.58 L508.8,421.66 L507.5,424.86 L506.2,427.71 L504.9,429.25 L503.6,430.38 L502.3,431.5Z" fill="#00BF7D" stroke="#000" stroke-width="0.6"/>
<path stroke="#000" stroke-width="1" d="M502.01 411.5h1.6M501.92 398.5h1.6M502.05 395.5h1.6M502.13 424.5h1.6M502.04 417.5h1.6M501.77 402.5h1.6M502.03 409.5h1.6M501.76 418.5h1.6M501.73 398.5h1.6M501.87 421.5h1.6M501.77 413.5h1.6M502.37 419.5h1.6M501.99 415.5h1.6M501.94 421.5h1.6M502.11 404.5h1.6M502.31 427.5h1.6M502.3 404.5h1.6M502.29 410.5h1.6M502.33 422.5h1.6M501.96 416.5h1.6M502.23 403.5h1.6M501.99 427.5h1.6M502.37 426.5h1.6M501.86 424.5h1.6M502.35 402.5h1.6M501.76 410.5h1.6M502.22 417.5h1.6M502.17 426.5h1.6M502.36 402.5h1.6M501.74 414.5h1.6M502.01 394.5h1.6M502.4 396.5h1.6M502.06 425.5h1.6M501.74 423.5h1.6M501.8 425.5h1.6M502.35 406.5h1.6M501.82 399.5h1.6M501.73 415.5h1.6M501.89 405.5h1.6M502.08 422.5h1.6M502.25 400.5h1.6M501.76 408.5h1.6M502.34 427.5h1.6M502.36 406.5h1.6M502.15 414.5h1.6M526.39 405.5h1.6M523.54 415.5h1.6M517.47 421.5h1.6M539.03 395.5h1.6M529.6 415.5h1.6M545.49 429.5h1.6M539.44 420.5h1.6M545.6 409.5h1.6M552.19 405.5h1.6M543.3 414.5h1.6M544.25 415.5h1.6M531.19 418.5h1.6M544.12 417.5h1.6M534.75 421.5h1.6M519.33 400.5h1.6M549.55 426.5h1.6M536.6 421.5h1.6M536.2 401.5h1.6M531.13 399.5h1.6M530.77 401.5h1.6M537.31 418.5h1.6M541.09 416.5h1.6M531.74 410.5h1.6M557.08 402.5h1.6M545.02 426.5h1.6M534.01 405.5h1.6M552.05 423.5h1.6M535.2 419.5h1.6M537.28 396.5h1.6M541.38 409.5h1.6M553.75 404.5h1.6M531.35 406.5h1.6M528.74 423.5h1.6M540.05 424.5h1.6M542.44 414.5h1.6M526.88 409.5h1.6M532.7 395.5h1.6M542.42 410.5h1.6M538.38 400.5h1.6M546.85 421.5h1.6M523.8 413.5h1.6M515.56 426.5h1.6M553.7 400.5h1.6M508.99 409.5h1.6M536.8 423.5h1.6M537.33 395.5h1.6M527.65 417.5h1.6M541.08 424.5h1.6M544.38 395.5h1.6M528.38 396.5h1.6M521.92 417.5h1.6M539.64 412.5h1.6M532.46 422.5h1.6M532.07 406.5h1.6M545.96 406.5h1.6M539.48 406.5h1.6M509.15 428.5h1.6M520.62 426.5h1.6M529.57 401.5h1.6M539.76 410.5h1.6M541.31 425.5h1.6M555.94 409.5h1.6M545 405.5h1.6M538.93 398.5h1.6M512.37 397.5h1.6M532.06 399.5h1.6M548.41 400.5h1.6M552.68 396.5h1.6M548.39 426.5h1.6M538.54 405.5h1.6M523.92 429.5h1.6M552.38 404.5h1.6M551.54 427.5h1.6M559.27 418.5h1.6M548.88 402.5h1.6M537.84 407.5h1.6M544.85 420.5h1.6M504.9 403.5h1.6M549.81 415.5h1.6M530.89 403.5h1.6M532.53 424.5h1.6M534.05 415.5h1.6M512.4 423.5h1.6M553.57 419.5h1.6M551.35 396.5h1.6M546.84 395.5h1.6M537.22 427.5h1.6M541.8 426.5h1.6M533.08 407.5h1.6M560.54 417.5h1.6M534.22 395.5h1.6M526.81 425.5h1.6M545.51 403.5h1.6M561.28 396.5h1.6M530.4 419.5h1.6M545.41 418.5h1.6M559.32 426.5h1.6M545.65 414.5h1.6M509.13 415.5h1.6M532.18 411.5h1.6M540.3 403.5h1.6M545.58 399.5h1.6M546.41 411.5h1.6M531.96 420.5h1.6M530.29 402.5h1.6M543.74 395.5h1.6M532.84 425.5h1.6M515.99 419.5h1.6M519.17 400.5h1.6M532.82 400.5h1.6M534.09 415.5h1.6M544.44 414.5h1.6M526.74 415.5h1.6M534.02 423.5h1.6M528.34 418.5h1.6M528.26 428.5h1.6M549.76 402.5h1.6M509.68 420.5h1.6M528.52 422.5h1.6M531.97 415.5h1.6M519.77 412.5h1.6M520.4 408.5h1.6M541.85 426.5h1.6M505.66 422.5h1.6M516.84 424.5h1.6M522.24 405.5h1.6M532.05 409.5h1.6M521.22 418.5h1.6M512.19 396.5h1.6M504.44 425.5h1.6M504.24 397.5h1.6M517.68 402.5h1.6M551.53 397.5h1.6M548.67 419.5h1.6M524.74 408.5h1.6M529.72 414.5h1.6M514.12 414.5h1.6M540.64 410.5h1.6M544.96 427.5h1.6M540.89 404.5h1.6M535.44 417.5h1.6M556.89 426.5h1.6M523.57 395.5h1.6M521.96 420.5h1.6M515.26 408.5h1.6M530.96 426.5h1.6M534.21 424.5h1.6M504.97 406.5h1.6M544.31 409.5h1.6M538.19 410.5h1.6M557.36 415.5h1.6M538.7 402.5h1.6M543.9 399.5h1.6M533.95 424.5h1.6M538.81 412.5h1.6M542.12 425.5h1.6M530.57 413.5h1.6M558.09 409.5h1.6M519.22 417.5h1.6M549.79 419.5h1.6M541.5 413.5h1.6M526.62 425.5h1.6M535.03 403.5h1.6M553.41 396.5h1.6M548.52 426.5h1.6M542.26 407.5h1.6M534.95 395.5h1.6M523.17 409.5h1.6M523.42 397.5h1.6M506.16 419.5h1.6M522.91 427.5h1.6M544.7 402.5h1.6M517.48 399.5h1.6M551.03 428.5h1.6M535.18 425.5h1.6M529.29 427.5h1.6M543.35 403.5h1.6M528.71 426.5h1.6M545.68 395.5h1.6M543.3 418.5h1.6M531.21 403.5h1.6M542.67 401.5h1.6M549.65 424.5h1.6M557 398.5h1.6M511.4 420.5h1.6M542.92 398.5h1.6M537.13 426.5h1.6M537.21 400.5h1.6M540.57 402.5h1.6M536.25 417.5h1.6M542.52 396.5h1.6M534.31 426.5h1.6M543.3 399.5h1.6M544 417.5h1.6M542.45 408.5h1.6M539.26 408.5h1.6M538.02 399.5h1.6M542.6 402.5h1.6M540.46 397.5h1.6M524.7 419.5h1.6M549.58 398.5h1.6M525.08 402.5h1.6M549.77 426.5h1.6M533.39 420.5h1.6M538.97 414.5h1.6M526.57 424.5h1.6M543.36 422.5h1.6M535.19 417.5h1.6M517.19 413.5h1.6M520.8 416.5h1.6M538.37 400.5h1.6M548.63 399.5h1.6M516.21 398.5h1.6M549.45 424.5h1.6M526.87 420.5h1.6M522.08 418.5h1.6M539.48 412.5h1.6M531.82 427.5h1.6M524.69 415.5h1.6M544.71 428.5h1.6M543.17 400.5h1.6M532.66 405.5h1.6M542.25 405.5h1.6M535.22 404.5h1.6M523.56 404.5h1.6M538.75 397.5h1.6M553.65 407.5h1.6M531.32 406.5h1.6M556.76 420.5h1.6M518.67 419.5h1.6M524.24 401.5h1.6M556.99 408.5h1.6M518.2 429.5h1.6M539.6 402.5h1.6M558.64 404.5h1.6M522.95 406.5h1.6M547.69 407.5h1.6M531.29 396.5h1.6M522.88 396.5h1.6M524.24 414.5h1.6M536.01 404.5h1.6M550.83 413.5h1.6M528.68 420.5h1.6M549.88 412.5h1.6M539.56 407.5h1.6M535.33 419.5h1.6M523.54 423.5h1.6M539.88 401.5h1.6M535.6 401.5h1.6M539.27 416.5h1.6M555.08 427.5h1.6M527.55 396.5h1.6M511.27 425.5h1.6M547.89 421.5h1.6M538.79 413.5h1.6M550.78 423.5h1.6M514.15 423.5h1.6M542.78 406.5h1.6M535.74 412.5h1.6M530.74 412.5h1.6M521.43 426.5h1.6M539.43 398.5h1.6M526.46 422.5h1.6M520.8 416.5h1.6M543.18 407.5h1.6M537.03 411.5h1.6M517.16 427.5h1.6M546.61 418.5h1.6M546.39 416.5h1.6M539.9 407.5h1.6M542.94 401.5h1.6M548.88 420.5h1.6M540.5 411.5h1.6M513.43 418.5h1.6M530.8 425.5h1.6M539.75 404.5h1.6M529.54 414.5h1.6M536.34 406.5h1.6M524.12 422.5h1.6M543.2 406.5h1.6M535.61 424.5h1.6M506.03 428.5h1.6M527.38 423.5h1.6M546.59 413.5h1.6M516.93 406.5h1.6M542.51 417.5h1.6M532.74 401.5h1.6M538.52 412.5h1.6M524.8 401.5h1.6M539.03 429.5h1.6"/>
<path d="M502.3,435.9 L503.58,436.46 L504.87,437.02 L506.15,437.82 L507.43,439.35 L508.72,441.32 L510,443.04 L511.29,444.7 L512.57,446.07 L513.85,446.96 L515.14,447.67 L516.42,448 L517.7,447.97 L518.99,447.88 L520.27,447.77 L521.56,447.66 L522.84,447.57 L524.12,447.51 L525.41,447.44 L526.69,447.38 L527.97,447.32 L529.26,447.24 L530.54,447.16 L531.83,447.07 L533.11,447.02 L534.39,447 L535.68,447.03 L536.96,447.09 L538.24,447.17 L539.53,447.26 L540.81,447.37 L542.1,447.54 L543.38,447.74 L544.66,447.98 L545.95,448.23 L547.23,448.54 L548.51,448.91 L549.8,449.31 L551.08,449.71 L552.37,450.1 L553.65,450.49 L554.93,450.9 L556.22,451.3 L557.5,451.7 L557.5,458.7 L556.22,459.1 L554.93,459.5 L553.65,459.91 L552.37,460.3 L551.08,460.69 L549.8,461.09 L548.51,461.49 L547.23,461.86 L545.95,462.17 L544.66,462.42 L543.38,462.66 L542.1,462.86 L540.81,463.03 L539.53,463.14 L538.24,463.23 L536.96,463.31 L535.68,463.37 L534.39,463.4 L533.11,463.38 L531.83,463.33 L530.54,463.24 L529.26,463.16 L527.97,463.08 L526.69,463.02 L525.41,462.96 L524.12,462.89 L522.84,462.83 L521.56,462.74 L520.27,462.63 L518.99,462.52 L517.7,462.43 L516.42,462.4 L515.14,462.73 L513.85,463.44 L512.57,464.33 L511.29,465.7 L510,467.36 L508.72,469.08 L507.43,471.05 L506.15,472.58 L504.87,473.38 L503.58,473.94 L502.3,474.5Z" fill="#00B0F6" stroke="#000" stroke-width="0.6"/>
<path stroke="#000" stroke-width="1" d="M501.71 458.5h1.6M501.99 443.5h1.6M501.87 471.5h1.6M501.98 465.5h1.6M502.01 457.5h1.6M502.38 441.5h1.6M502.21 453.5h1.6M502.15 439.5h1.6M502.22 442.5h1.6M502.07 468.5h1.6M502.18 444.5h1.6M502.06 459.5h1.6M501.72 463.5h1.6M502.31 440.5h1.6M502.12 444.5h1.6M502.36 457.5h1.6M502.18 457.5h1.6M502.01 463.5h1.6M501.72 452.5h1.6M502.39 446.5h1.6M502.05 466.5h1.6M502.21 449.5h1.6M502.4 452.5h1.6M501.92 460.5h1.6M502.18 459.5h1.6M529.12 459.5h1.6M527.89 461.5h1.6M540.65 465.5h1.6M538.01 443.5h1.6M524.77 453.5h1.6M542.92 462.5h1.6M516.89 470.5h1.6M543.22 439.5h1.6M518.03 467.5h1.6M538.02 454.5h1.6M515.97 445.5h1.6M536.98 438.5h1.6M528.34 466.5h1.6M531.36 460.5h1.6M539.55 447.5h1.6M554.78 459.5h1.6M539.52 470.5h1.6M550.38 439.5h1.6M546.07 463.5h1.6M522.26 447.5h1.6M530.68 464.5h1.6M525.07 470.5h1.6M547.02 450.5h1.6M543.24 451.5h1.6M538.14 459.5h1.6M539.67 451.5h1.6M549.04 472.5h1.6M548.09 441.5h1.6M547.42 440.5h1.6M554.38 442.5h1.6M519.23 467.5h1.6M541.11 442.5h1.6M530.21 456.5h1.6M535.54 470.5h1.6M543.76 445.5h1.6M527.78 457.5h1.6M523.08 448.5h1.6M519.86 463.5h1.6M514.95 456.5h1.6M520.21 470.5h1.6"/>
<line x1="502.5" y1="479.7" x2="502.5" y2="516.7" stroke="#111" stroke-width="1.2"/>
<path stroke="#000" stroke-width="1" d="M501.7 483.5h1.6M501.7 509.5h1.6M501.7 502.5h1.6M501.7 490.5h1.6M501.7 500.5h1.6M501.7 490.5h1.6M501.7 492.5h1.6M501.7 487.5h1.6M501.7 481.5h1.6M501.7 511.5h1.6M501.7 497.5h1.6M501.7 492.5h1.6M501.7 513.5h1.6M501.7 507.5h1.6M501.7 512.5h1.6M501.7 516.5h1.6M501.7 488.5h1.6M501.7 483.5h1.6M501.7 500.5h1.6M501.7 486.5h1.6M501.7 501.5h1.6M501.7 506.5h1.6M501.7 509.5h1.6M501.7 510.5h1.6M501.7 485.5h1.6M501.7 483.5h1.6M501.7 494.5h1.6M501.7 492.5h1.6M501.7 493.5h1.6M501.7 487.5h1.6"/>
<line x1="561.4" y1="489.2" x2="571" y2="489.2" stroke="#E76BF3" stroke-width="1.25"/>
<line x1="598.5" y1="302.2" x2="598.5" y2="526.5" stroke="#000" stroke-width="1.15"/>
<line x1="597.9" y1="525.9" x2="682.5" y2="525.9" stroke="#000" stroke-width="1.15"/>
<line x1="594.5" y1="326.5" x2="598.5" y2="326.5" stroke="#333" stroke-width="0.8"/>
<line x1="594.5" y1="369.5" x2="598.5" y2="369.5" stroke="#333" stroke-width="0.8"/>
<line x1="594.5" y1="412.5" x2="598.5" y2="412.5" stroke="#333" stroke-width="0.8"/>
<line x1="594.5" y1="455.5" x2="598.5" y2="455.5" stroke="#333" stroke-width="0.8"/>
<line x1="594.5" y1="498.5" x2="598.5" y2="498.5" stroke="#333" stroke-width="0.8"/>
<line x1="602.5" y1="525.7" x2="602.5" y2="528" stroke="#333" stroke-width="0.7"/>
<line x1="620.9" y1="525.7" x2="620.9" y2="528" stroke="#333" stroke-width="0.7"/>
<line x1="639.3" y1="525.7" x2="639.3" y2="528" stroke="#333" stroke-width="0.7"/>
<line x1="657.7" y1="525.7" x2="657.7" y2="528" stroke="#333" stroke-width="0.7"/>
<line x1="676.1" y1="525.7" x2="676.1" y2="528" stroke="#333" stroke-width="0.7"/>
<text x="602.5" y="539.1" font-size="9.6" text-anchor="middle">0</text>
<text x="620.9" y="539.1" font-size="9.6" text-anchor="middle">1</text>
<text x="639.3" y="539.1" font-size="9.6" text-anchor="middle">2</text>
<text x="657.7" y="539.1" font-size="9.6" text-anchor="middle">3</text>
<text x="676.1" y="539.1" font-size="9.6" text-anchor="middle">4</text>
<text x="0" y="0" font-size="9.4" text-anchor="middle" font-style="italic" transform="translate(645,297.3) scale(1,1.08)">Fam107a</text>
<path d="M602.3,306.9 L603.6,308.04 L604.91,309.2 L606.21,310.69 L607.52,313.05 L608.82,315.72 L610.13,317.94 L611.43,320.15 L612.74,321.45 L614.04,321.5 L615.34,321.5 L616.65,321.5 L617.95,321.48 L619.26,320.88 L620.56,319.74 L621.87,318.46 L623.17,317.35 L624.48,316.16 L625.78,314.93 L627.08,313.76 L628.39,312.74 L629.69,311.72 L631,310.68 L632.3,309.83 L633.61,309.34 L634.91,309.3 L636.22,309.3 L637.52,309.3 L638.82,309.3 L640.13,309.3 L641.43,309.72 L642.74,310.64 L644.04,311.83 L645.35,313.03 L646.65,314.09 L647.96,315.23 L649.26,316.42 L650.56,317.61 L651.87,318.74 L653.17,319.82 L654.48,320.87 L655.78,321.91 L657.09,322.96 L658.39,324.03 L659.7,325.12 L661,326.2 L661,326.2 L659.7,327.28 L658.39,328.37 L657.09,329.44 L655.78,330.49 L654.48,331.53 L653.17,332.58 L651.87,333.66 L650.56,334.79 L649.26,335.98 L647.96,337.17 L646.65,338.31 L645.35,339.37 L644.04,340.57 L642.74,341.76 L641.43,342.68 L640.13,343.1 L638.82,343.1 L637.52,343.1 L636.22,343.1 L634.91,343.1 L633.61,343.06 L632.3,342.57 L631,341.72 L629.69,340.68 L628.39,339.66 L627.08,338.64 L625.78,337.47 L624.48,336.24 L623.17,335.05 L621.87,333.94 L620.56,332.66 L619.26,331.52 L617.95,330.92 L616.65,330.9 L615.34,330.9 L614.04,330.9 L612.74,330.95 L611.43,332.25 L610.13,334.46 L608.82,336.68 L607.52,339.35 L606.21,341.71 L604.91,343.2 L603.6,344.36 L602.3,345.5Z" fill="#F8766D" stroke="#000" stroke-width="0.6"/>
<path stroke="#000" stroke-width="1" d="M601.93 328.5h1.6M601.91 330.5h1.6M601.99 319.5h1.6M602.02 324.5h1.6M601.96 316.5h1.6M601.75 322.5h1.6M601.74 323.5h1.6M602.14 334.5h1.6M601.94 318.5h1.6M601.77 310.5h1.6M601.82 332.5h1.6M602.01 336.5h1.6M602 340.5h1.6M601.72 341.5h1.6M601.93 310.5h1.6M602.09 320.5h1.6M601.88 333.5h1.6M601.71 328.5h1.6M602.12 337.5h1.6M601.73 317.5h1.6M601.75 312.5h1.6M601.95 326.5h1.6M602.21 311.5h1.6M602.08 341.5h1.6M602.22 343.5h1.6M602.23 313.5h1.6M602.15 334.5h1.6M601.95 342.5h1.6M602.02 333.5h1.6M601.91 321.5h1.6M602.3 330.5h1.6M602.38 313.5h1.6M601.88 331.5h1.6M602 336.5h1.6M602.03 337.5h1.6M601.97 343.5h1.6M602.18 310.5h1.6M602.25 343.5h1.6M602.01 308.5h1.6M602.29 339.5h1.6M632.62 339.5h1.6M634.62 318.5h1.6M638.53 312.5h1.6M645.59 313.5h1.6M629.55 327.5h1.6M638.48 324.5h1.6M635.31 341.5h1.6M651.2 337.5h1.6M640.39 343.5h1.6M622.53 335.5h1.6M650.1 337.5h1.6M643.79 331.5h1.6M627.81 323.5h1.6M638.2 339.5h1.6M644.8 333.5h1.6M640.98 338.5h1.6M639.29 334.5h1.6M622.19 328.5h1.6M636.74 338.5h1.6M635.89 324.5h1.6M627.11 331.5h1.6M634.8 320.5h1.6M645.45 333.5h1.6M652.85 323.5h1.6M622.59 336.5h1.6M642.39 309.5h1.6M638.6 316.5h1.6M637.95 309.5h1.6M650.82 312.5h1.6M630.89 333.5h1.6M637.75 335.5h1.6M632.51 334.5h1.6M637.42 337.5h1.6M626.2 312.5h1.6M625.58 332.5h1.6M626.18 313.5h1.6M626.6 336.5h1.6M636.76 337.5h1.6M646.71 332.5h1.6M636.22 343.5h1.6M637.12 335.5h1.6M617.45 336.5h1.6M639.74 330.5h1.6M642.34 312.5h1.6M632.08 342.5h1.6M623.9 313.5h1.6M619.37 330.5h1.6M631.72 328.5h1.6M646.31 314.5h1.6M658.99 327.5h1.6M636.52 327.5h1.6M630.69 323.5h1.6M638.99 330.5h1.6M628.64 342.5h1.6M637.72 334.5h1.6M642.59 309.5h1.6M630.38 334.5h1.6M640.26 343.5h1.6M631.57 320.5h1.6M649.36 327.5h1.6M624.09 327.5h1.6M615.18 322.5h1.6M649.2 339.5h1.6M630.84 320.5h1.6M642.28 313.5h1.6M641.2 341.5h1.6M643.74 313.5h1.6M609.79 334.5h1.6M634 310.5h1.6M640.16 332.5h1.6M627.06 340.5h1.6M623.9 312.5h1.6M628.84 339.5h1.6M649.76 339.5h1.6M642.04 328.5h1.6M626.96 336.5h1.6M619.15 333.5h1.6M644.4 333.5h1.6M625.83 330.5h1.6M650.28 317.5h1.6M619.32 314.5h1.6M635.44 327.5h1.6M627.31 339.5h1.6M628.8 319.5h1.6M629.25 316.5h1.6M621.7 316.5h1.6M632.61 329.5h1.6M635 315.5h1.6M606.27 335.5h1.6M637.07 329.5h1.6M651.63 341.5h1.6M648.56 333.5h1.6M645.68 312.5h1.6M622.25 318.5h1.6M639.81 310.5h1.6M642.35 336.5h1.6M624.74 311.5h1.6M641.11 341.5h1.6M642.43 318.5h1.6M619.52 323.5h1.6M657.73 310.5h1.6M651.36 317.5h1.6M624.31 313.5h1.6M636.04 323.5h1.6M656.42 325.5h1.6M617.84 333.5h1.6M614.36 319.5h1.6M632.24 342.5h1.6M637.16 309.5h1.6M639.15 322.5h1.6M643.7 317.5h1.6M636.81 327.5h1.6M635.5 332.5h1.6M637.17 326.5h1.6M639.96 322.5h1.6M647.13 322.5h1.6M623.12 315.5h1.6M633.53 337.5h1.6M623.54 319.5h1.6M636.85 309.5h1.6M621.07 312.5h1.6M641.55 313.5h1.6M650.7 331.5h1.6M632.23 341.5h1.6M613.18 333.5h1.6M629.01 338.5h1.6M634.43 339.5h1.6M634.05 334.5h1.6M640.17 339.5h1.6M639.16 317.5h1.6M630.53 341.5h1.6M620.81 328.5h1.6M637.71 319.5h1.6M618.16 311.5h1.6M633.31 331.5h1.6M634.79 318.5h1.6M638.22 327.5h1.6M614.66 309.5h1.6M636.66 323.5h1.6M632.37 309.5h1.6M634.76 328.5h1.6M624.68 323.5h1.6M638.65 309.5h1.6M613.08 330.5h1.6M647.28 323.5h1.6M653.32 316.5h1.6M638.38 341.5h1.6M636.01 330.5h1.6M650.48 313.5h1.6M641.82 318.5h1.6M631.59 309.5h1.6M644.52 313.5h1.6M644.43 313.5h1.6M631.61 341.5h1.6M633.92 328.5h1.6M636.37 330.5h1.6M644.91 316.5h1.6M629.59 316.5h1.6M634.66 332.5h1.6M639.75 313.5h1.6M632.12 322.5h1.6M619.36 339.5h1.6M626.94 327.5h1.6M636.95 321.5h1.6M650.04 311.5h1.6M641.46 331.5h1.6M625.82 311.5h1.6M619.85 331.5h1.6M630.51 325.5h1.6M638.25 322.5h1.6M620.79 329.5h1.6M623.52 330.5h1.6M617.02 326.5h1.6M638.11 321.5h1.6M617.92 313.5h1.6M653.6 339.5h1.6M630.04 322.5h1.6M646.46 326.5h1.6M646.67 339.5h1.6M629.92 331.5h1.6M629.75 334.5h1.6M638.23 314.5h1.6M640.88 321.5h1.6M629.54 310.5h1.6M630.54 341.5h1.6M636.63 331.5h1.6M631.98 326.5h1.6M618.3 336.5h1.6M645.54 309.5h1.6M638.24 339.5h1.6M639.72 333.5h1.6M636.54 338.5h1.6M646.47 331.5h1.6M634.17 327.5h1.6M638.22 314.5h1.6M647.65 329.5h1.6M631.68 335.5h1.6M658.26 311.5h1.6M614.54 332.5h1.6M630.07 325.5h1.6M643.34 335.5h1.6M656.2 319.5h1.6M622.2 326.5h1.6M638.72 332.5h1.6M646.96 321.5h1.6M633.74 316.5h1.6M620.11 315.5h1.6M618.81 341.5h1.6M627.42 314.5h1.6M620.32 332.5h1.6M646.95 336.5h1.6M634.02 330.5h1.6M634.57 337.5h1.6M639.48 341.5h1.6M608.15 327.5h1.6M640.22 321.5h1.6M629.04 339.5h1.6M656.42 343.5h1.6M643.59 330.5h1.6M628.29 313.5h1.6M643.1 318.5h1.6M641.5 341.5h1.6M642.53 328.5h1.6M637.35 316.5h1.6M626.79 323.5h1.6M629.05 339.5h1.6M649.72 341.5h1.6M637.19 342.5h1.6M622.56 316.5h1.6M632.13 333.5h1.6M640.65 321.5h1.6M644.19 319.5h1.6M641.74 342.5h1.6M642.81 336.5h1.6M635.14 339.5h1.6M618.62 339.5h1.6M649.64 311.5h1.6M648.07 329.5h1.6M610.92 342.5h1.6M620.14 311.5h1.6M626.08 331.5h1.6M641.85 323.5h1.6M619.77 328.5h1.6M626.49 342.5h1.6M625.13 328.5h1.6M656.31 327.5h1.6M641.78 330.5h1.6M631.3 313.5h1.6M644.49 320.5h1.6M630.85 329.5h1.6M623.35 340.5h1.6M632.14 335.5h1.6M620.17 317.5h1.6M613.5 341.5h1.6M647.42 324.5h1.6M632.81 316.5h1.6M635.27 319.5h1.6M649.32 335.5h1.6M637.6 328.5h1.6M625.44 318.5h1.6M635.17 342.5h1.6M622.46 341.5h1.6M623.53 341.5h1.6M604.12 333.5h1.6M625.98 318.5h1.6M634.15 330.5h1.6M652.95 315.5h1.6M642.68 331.5h1.6M652.99 321.5h1.6M647.19 314.5h1.6M637.21 327.5h1.6M635.85 338.5h1.6M647.17 316.5h1.6M619.11 329.5h1.6M652.32 322.5h1.6M650.29 329.5h1.6M634.12 312.5h1.6M628.93 313.5h1.6M620.54 326.5h1.6M625.56 327.5h1.6M639.88 338.5h1.6M643.72 314.5h1.6M636.07 311.5h1.6M633.48 319.5h1.6M637.1 339.5h1.6M631.55 337.5h1.6M652.11 309.5h1.6M613.59 340.5h1.6M635.52 328.5h1.6M637.43 341.5h1.6M655.4 335.5h1.6M650.13 321.5h1.6M629.09 335.5h1.6M611.62 317.5h1.6M626.56 336.5h1.6M622.1 332.5h1.6M636.94 338.5h1.6M626.17 321.5h1.6M644.99 310.5h1.6M643.76 315.5h1.6M630.27 328.5h1.6M623.62 338.5h1.6M620.01 330.5h1.6M623.92 325.5h1.6M630.98 329.5h1.6M637.71 339.5h1.6M632.62 309.5h1.6M631.45 310.5h1.6M656.98 326.5h1.6M635.81 313.5h1.6M647.25 310.5h1.6M642.09 319.5h1.6M625.69 339.5h1.6M637.8 322.5h1.6M647.1 314.5h1.6M647.79 312.5h1.6M638.07 337.5h1.6M616.96 330.5h1.6M636.11 334.5h1.6M637.48 314.5h1.6M630.28 343.5h1.6M618.1 311.5h1.6M625.83 342.5h1.6M617.41 323.5h1.6M628.76 341.5h1.6M637.05 331.5h1.6M625.86 325.5h1.6M643.91 316.5h1.6M641.54 328.5h1.6M620.17 333.5h1.6M627.55 333.5h1.6M639.56 328.5h1.6M638.45 340.5h1.6M640.61 328.5h1.6M614.94 319.5h1.6M624.37 321.5h1.6M636.42 326.5h1.6M629.79 319.5h1.6M645.72 339.5h1.6M642.5 312.5h1.6M640.29 321.5h1.6M629.9 337.5h1.6M641.18 330.5h1.6M639.35 340.5h1.6M630.41 333.5h1.6M621.21 339.5h1.6M642.61 320.5h1.6M646.73 310.5h1.6M637.99 320.5h1.6M637.06 332.5h1.6M632.45 325.5h1.6M649.13 341.5h1.6M641.82 316.5h1.6M643.42 310.5h1.6M647.85 331.5h1.6M639.97 321.5h1.6M627.81 314.5h1.6M651.06 343.5h1.6M639.39 340.5h1.6M612.49 312.5h1.6M647.94 340.5h1.6M628.7 330.5h1.6M621.7 314.5h1.6M643.75 336.5h1.6M626.24 326.5h1.6M648.61 339.5h1.6M640.04 334.5h1.6M657.02 324.5h1.6M642 316.5h1.6M637.49 338.5h1.6M632.62 339.5h1.6M635.36 312.5h1.6M634.86 329.5h1.6M639.63 311.5h1.6M626.23 341.5h1.6M643.47 340.5h1.6M638.14 316.5h1.6M652.87 314.5h1.6M635.44 335.5h1.6M642.03 327.5h1.6M656.54 311.5h1.6M639.21 338.5h1.6M630.45 316.5h1.6M644.09 315.5h1.6M640.47 323.5h1.6M641.74 334.5h1.6M651.02 313.5h1.6M630.68 316.5h1.6M633.53 340.5h1.6M619.33 327.5h1.6M648.2 322.5h1.6M630.04 322.5h1.6M652.22 318.5h1.6M630.62 326.5h1.6M647.74 321.5h1.6M643.13 342.5h1.6M632.26 317.5h1.6M614.56 321.5h1.6M620 331.5h1.6M654.56 329.5h1.6M640.07 318.5h1.6M631.66 340.5h1.6M626.06 341.5h1.6M633.51 329.5h1.6M623.52 311.5h1.6M652.14 318.5h1.6M648.5 338.5h1.6M624.44 315.5h1.6M614.08 330.5h1.6M621.41 313.5h1.6M639.42 313.5h1.6M651.68 332.5h1.6M617.83 324.5h1.6M621.45 324.5h1.6M644.42 312.5h1.6M649.74 326.5h1.6M642.49 317.5h1.6M635.04 316.5h1.6M637.72 338.5h1.6M647.12 326.5h1.6"/>
<path d="M602.3,352.8 L603.58,353.66 L604.87,354.54 L606.15,355.66 L607.44,357.45 L608.72,359.56 L610.01,361.41 L611.29,363.28 L612.58,364.62 L613.86,364.99 L615.15,365.21 L616.43,365.35 L617.72,365.4 L619,365.06 L620.29,364.23 L621.57,363.17 L622.86,362.12 L624.14,360.82 L625.43,359.32 L626.71,357.78 L628,356.39 L629.28,355.16 L630.57,353.9 L631.85,352.75 L633.14,351.84 L634.42,351.3 L635.71,350.9 L636.99,350.57 L638.28,350.33 L639.56,350.21 L640.85,350.23 L642.13,350.4 L643.42,350.69 L644.7,351.05 L645.99,351.47 L647.27,352.14 L648.56,353.12 L649.84,354.29 L651.13,355.54 L652.41,356.85 L653.7,358.44 L654.98,360.17 L656.27,361.81 L657.55,363.14 L658.84,364.25 L660.12,365.26 L661.41,366.15 L662.69,366.88 L663.98,367.42 L665.26,367.86 L666.55,368.22 L667.83,368.54 L669.12,368.86 L670.4,369.2 L670.4,369.2 L669.12,369.54 L667.83,369.86 L666.55,370.18 L665.26,370.54 L663.98,370.98 L662.69,371.52 L661.41,372.25 L660.12,373.14 L658.84,374.15 L657.55,375.26 L656.27,376.59 L654.98,378.23 L653.7,379.96 L652.41,381.55 L651.13,382.86 L649.84,384.11 L648.56,385.28 L647.27,386.26 L645.99,386.93 L644.7,387.35 L643.42,387.71 L642.13,388 L640.85,388.17 L639.56,388.19 L638.28,388.07 L636.99,387.83 L635.71,387.5 L634.42,387.1 L633.14,386.56 L631.85,385.65 L630.57,384.5 L629.28,383.24 L628,382.01 L626.71,380.62 L625.43,379.08 L624.14,377.58 L622.86,376.28 L621.57,375.23 L620.29,374.17 L619,373.34 L617.72,373 L616.43,373.05 L615.15,373.19 L613.86,373.41 L612.58,373.78 L611.29,375.12 L610.01,376.99 L608.72,378.84 L607.44,380.95 L606.15,382.74 L604.87,383.86 L603.58,384.74 L602.3,385.6Z" fill="#A3A500" stroke="#000" stroke-width="0.6"/>
<path stroke="#000" stroke-width="1" d="M602.22 367.5h1.6M601.76 352.5h1.6M601.72 371.5h1.6M601.81 357.5h1.6M601.82 356.5h1.6M602.37 355.5h1.6M602.1 372.5h1.6M602.35 370.5h1.6M602.25 373.5h1.6M602.2 354.5h1.6M601.72 356.5h1.6M602.25 365.5h1.6M601.72 385.5h1.6M601.87 364.5h1.6M602.16 380.5h1.6M602.19 368.5h1.6M602.36 377.5h1.6M601.78 384.5h1.6M601.83 364.5h1.6M602.28 364.5h1.6M601.97 367.5h1.6M601.84 365.5h1.6M601.78 354.5h1.6M601.75 368.5h1.6M602.21 352.5h1.6M602.34 376.5h1.6M601.74 370.5h1.6M602.29 366.5h1.6M602.1 358.5h1.6M601.72 359.5h1.6M602.24 382.5h1.6M602.07 377.5h1.6M601.77 376.5h1.6M601.85 365.5h1.6M602.36 367.5h1.6M602.08 381.5h1.6M602.36 358.5h1.6M601.85 352.5h1.6M602.27 380.5h1.6M601.85 364.5h1.6M628 369.5h1.6M630.67 369.5h1.6M645.18 365.5h1.6M635.98 367.5h1.6M633.45 352.5h1.6M628.33 375.5h1.6M617.67 383.5h1.6M638.31 367.5h1.6M636.34 378.5h1.6M641.22 365.5h1.6M629.41 374.5h1.6M632.96 357.5h1.6M628.78 384.5h1.6M635.92 378.5h1.6M614.18 365.5h1.6M621.75 366.5h1.6M623.55 382.5h1.6M633.48 384.5h1.6M640.23 354.5h1.6M617.6 359.5h1.6M647.28 360.5h1.6M631.02 372.5h1.6M626.51 379.5h1.6M655.07 363.5h1.6M612.59 363.5h1.6M645.63 362.5h1.6M644.88 376.5h1.6M632.7 356.5h1.6M628.55 377.5h1.6M637.49 368.5h1.6M651.68 386.5h1.6M644.59 370.5h1.6M626.69 362.5h1.6M641.55 384.5h1.6M647.54 373.5h1.6M624.36 366.5h1.6M640.54 363.5h1.6M648.84 367.5h1.6M653.51 385.5h1.6M637.21 373.5h1.6M613.68 374.5h1.6M644.06 370.5h1.6M650.52 367.5h1.6M633.01 358.5h1.6M654.84 361.5h1.6M649.36 363.5h1.6M633.38 381.5h1.6M645.53 379.5h1.6M629.51 381.5h1.6M654.05 381.5h1.6M633.72 354.5h1.6M629.35 362.5h1.6M652.11 370.5h1.6M647.4 373.5h1.6M651.51 382.5h1.6M655.38 363.5h1.6M631.61 354.5h1.6M643.64 355.5h1.6M618.21 376.5h1.6M633.54 382.5h1.6M650.8 356.5h1.6M650.32 378.5h1.6M642.23 365.5h1.6M627.37 352.5h1.6M665.06 357.5h1.6M641.47 374.5h1.6M659.15 377.5h1.6M632.49 364.5h1.6M626.59 374.5h1.6M654.95 377.5h1.6M638.14 380.5h1.6M610.27 373.5h1.6M646.22 370.5h1.6M624.25 382.5h1.6M637.27 364.5h1.6M643.21 371.5h1.6M650.59 379.5h1.6M630.78 368.5h1.6M630.72 361.5h1.6M652.11 374.5h1.6M616.36 379.5h1.6M637.98 353.5h1.6M619.29 375.5h1.6M650.82 359.5h1.6M655.18 353.5h1.6M656.63 378.5h1.6M638.4 353.5h1.6M634.43 374.5h1.6M639.34 370.5h1.6M653.04 354.5h1.6M647.02 384.5h1.6M648.01 369.5h1.6M631.15 368.5h1.6M633.63 378.5h1.6M644.19 369.5h1.6M633.91 358.5h1.6M635.2 364.5h1.6M650.3 374.5h1.6M635.28 353.5h1.6M650.99 361.5h1.6M632.38 369.5h1.6M647.26 361.5h1.6M647.74 365.5h1.6M643.25 366.5h1.6M637.34 369.5h1.6M626.28 369.5h1.6M645.25 380.5h1.6M634.74 363.5h1.6M632.82 367.5h1.6M626.23 379.5h1.6M634.21 359.5h1.6M649.36 363.5h1.6M648.24 361.5h1.6M640.3 370.5h1.6M617.97 385.5h1.6M631.42 354.5h1.6M654.97 378.5h1.6M642.12 373.5h1.6M648.46 352.5h1.6M654.27 361.5h1.6M628.2 366.5h1.6M626.81 365.5h1.6M633.33 374.5h1.6M640.72 352.5h1.6M641.94 374.5h1.6M651.78 372.5h1.6M649.2 378.5h1.6M648.55 379.5h1.6M646.7 381.5h1.6M648.84 356.5h1.6M652.62 367.5h1.6M643.12 385.5h1.6M633.35 378.5h1.6M611.28 362.5h1.6M641.29 355.5h1.6M640.09 365.5h1.6M631.74 359.5h1.6M629.78 372.5h1.6M623.99 375.5h1.6M647.3 381.5h1.6M641.41 383.5h1.6M634.96 376.5h1.6M629.51 369.5h1.6M653.77 366.5h1.6M647.2 367.5h1.6M636.82 355.5h1.6M610.5 357.5h1.6M639.03 382.5h1.6M624.9 370.5h1.6M652.63 377.5h1.6M645.37 370.5h1.6M647.29 365.5h1.6M652.43 358.5h1.6M639.97 380.5h1.6M653.77 353.5h1.6M635.41 371.5h1.6M650.37 364.5h1.6M650.86 357.5h1.6M632.1 384.5h1.6M644.96 379.5h1.6M636.03 368.5h1.6M634.82 381.5h1.6M644 384.5h1.6M653.89 380.5h1.6M653.57 373.5h1.6M619.35 381.5h1.6M641.26 376.5h1.6M646.78 359.5h1.6M625.34 373.5h1.6M648.12 371.5h1.6M638.84 380.5h1.6M630.86 376.5h1.6M628.89 364.5h1.6M639.86 361.5h1.6M643.02 358.5h1.6M624.71 380.5h1.6M629.16 359.5h1.6M615.14 366.5h1.6M624.21 355.5h1.6M648.19 364.5h1.6M633.59 358.5h1.6M627.81 354.5h1.6M645.88 365.5h1.6M605.87 371.5h1.6M650.57 383.5h1.6M647.74 358.5h1.6M642.5 380.5h1.6M651.9 364.5h1.6M656.43 353.5h1.6M657.54 368.5h1.6M636.88 380.5h1.6M659.48 379.5h1.6M623.14 381.5h1.6M636.16 369.5h1.6M649.24 353.5h1.6M635.62 366.5h1.6M650.25 352.5h1.6M641.06 361.5h1.6M630.35 364.5h1.6M631.76 377.5h1.6M619.92 385.5h1.6M629.57 378.5h1.6M648.23 372.5h1.6M658.31 379.5h1.6M653.99 353.5h1.6M641.42 375.5h1.6M625.98 379.5h1.6M624.13 363.5h1.6M651.64 361.5h1.6M647.18 378.5h1.6M643.45 383.5h1.6M636.74 375.5h1.6M626.46 354.5h1.6M627.29 377.5h1.6M637.6 375.5h1.6M636.93 375.5h1.6M646.08 363.5h1.6M643.38 352.5h1.6M634.44 363.5h1.6M645.39 363.5h1.6M643.22 367.5h1.6M634.38 375.5h1.6M648.46 352.5h1.6M604.19 357.5h1.6M644.08 385.5h1.6M643.42 385.5h1.6M652.11 379.5h1.6M637.13 382.5h1.6M644.89 379.5h1.6M622.25 362.5h1.6M622.36 379.5h1.6M626.29 371.5h1.6M652.76 354.5h1.6M667.47 377.5h1.6M634.46 357.5h1.6M634.87 362.5h1.6M605.1 375.5h1.6M641.77 383.5h1.6M652.32 352.5h1.6M637.48 377.5h1.6M642.15 363.5h1.6M633.29 360.5h1.6M652.31 361.5h1.6M636.62 381.5h1.6M633.68 374.5h1.6M628.42 352.5h1.6M643.65 365.5h1.6M610.14 363.5h1.6M622.89 385.5h1.6M636.01 374.5h1.6M636.12 356.5h1.6M637.92 379.5h1.6M635.56 369.5h1.6M620.16 359.5h1.6M647.43 376.5h1.6M633.14 358.5h1.6M632.41 383.5h1.6M620.53 381.5h1.6M632.86 356.5h1.6M648.39 365.5h1.6M649.51 358.5h1.6M659.16 366.5h1.6M635.51 367.5h1.6M629.98 372.5h1.6M612.56 352.5h1.6M654.97 355.5h1.6M632.88 382.5h1.6M647.19 375.5h1.6M636.45 353.5h1.6M628.53 367.5h1.6M638.44 363.5h1.6M647.88 368.5h1.6M651.5 373.5h1.6M662.34 386.5h1.6M654.1 354.5h1.6M634.98 382.5h1.6M619.7 362.5h1.6M647.95 377.5h1.6M646.52 385.5h1.6M630.28 355.5h1.6M663.73 359.5h1.6M641.27 377.5h1.6M622.67 379.5h1.6M661.8 380.5h1.6M644.2 355.5h1.6M622.27 378.5h1.6M649.25 353.5h1.6M633.22 366.5h1.6M621.55 379.5h1.6M644.3 352.5h1.6M625.08 367.5h1.6M656.32 375.5h1.6M633.84 385.5h1.6M630.97 360.5h1.6M651.33 373.5h1.6M613.92 380.5h1.6M654.54 361.5h1.6M634.28 379.5h1.6M643.79 382.5h1.6M651.23 365.5h1.6M622.93 366.5h1.6M641.6 374.5h1.6M629.27 377.5h1.6M625.04 374.5h1.6M627.21 380.5h1.6M639.34 375.5h1.6M626.58 374.5h1.6M628.66 384.5h1.6M643.84 383.5h1.6M624.87 368.5h1.6M643.86 382.5h1.6M657.75 354.5h1.6M627.73 357.5h1.6M636.82 377.5h1.6M628.61 358.5h1.6M654.48 356.5h1.6M644.11 374.5h1.6M647.24 352.5h1.6M650.97 376.5h1.6M637.52 356.5h1.6M635.99 380.5h1.6M627.86 370.5h1.6M640.72 378.5h1.6M647.66 368.5h1.6M651.42 367.5h1.6M624.67 363.5h1.6M624.11 366.5h1.6M627.27 364.5h1.6M647.7 381.5h1.6M642.58 369.5h1.6M652.2 364.5h1.6M645.49 383.5h1.6M626.22 385.5h1.6M641.12 377.5h1.6M655.24 369.5h1.6M630.99 374.5h1.6M632.94 382.5h1.6M621.36 365.5h1.6M629.44 354.5h1.6M649.65 380.5h1.6M643.2 353.5h1.6M662.48 384.5h1.6M629.88 356.5h1.6M630.07 360.5h1.6M643.96 368.5h1.6M641.6 352.5h1.6M640.6 374.5h1.6M646.46 369.5h1.6M639.95 383.5h1.6M654.83 370.5h1.6M637.25 364.5h1.6M634.09 352.5h1.6M645.78 368.5h1.6M625.27 359.5h1.6M636.73 375.5h1.6M644.02 375.5h1.6M636.5 357.5h1.6M645.11 378.5h1.6M623.94 357.5h1.6M642.81 381.5h1.6M626.16 356.5h1.6M633.99 353.5h1.6M653.59 359.5h1.6M640.68 367.5h1.6M653.35 357.5h1.6M624.63 380.5h1.6M635.25 362.5h1.6M622.67 356.5h1.6M642.37 378.5h1.6M640.95 355.5h1.6M625.33 377.5h1.6M644.5 365.5h1.6M636.52 363.5h1.6M631.67 372.5h1.6M606.84 383.5h1.6M629.72 364.5h1.6M647.31 376.5h1.6M643.72 372.5h1.6M651.01 363.5h1.6M633.49 376.5h1.6M631.42 363.5h1.6M627.83 382.5h1.6M644.79 369.5h1.6M652.75 368.5h1.6M640.04 359.5h1.6M631 370.5h1.6M639.39 374.5h1.6M641.61 358.5h1.6M632.74 371.5h1.6M658.7 382.5h1.6M632.76 360.5h1.6M629.39 360.5h1.6M647.02 354.5h1.6M648.8 367.5h1.6M624.09 362.5h1.6M637.53 383.5h1.6M632.39 357.5h1.6M635.93 353.5h1.6M640.4 367.5h1.6M642.3 365.5h1.6M657.36 360.5h1.6M617.83 363.5h1.6M637.33 385.5h1.6M625.4 378.5h1.6M630.87 361.5h1.6M636.87 384.5h1.6M632.85 385.5h1.6M646.13 372.5h1.6M647.75 370.5h1.6M646.09 385.5h1.6M622.58 375.5h1.6M631.24 384.5h1.6M652.89 383.5h1.6M638.6 372.5h1.6M628.02 376.5h1.6M643.73 382.5h1.6M643.27 358.5h1.6M633.94 384.5h1.6M629.13 361.5h1.6M630.63 361.5h1.6"/>
<path d="M602.3,394.1 L603.58,394.79 L604.86,395.5 L606.13,396.55 L607.41,399.15 L608.69,402.48 L609.97,404.62 L611.24,406.22 L612.52,407.21 L613.8,407.29 L615.08,407.21 L616.36,407.09 L617.63,406.91 L618.91,406.28 L620.19,404.95 L621.47,403.37 L622.74,401.93 L624.02,400.44 L625.3,398.86 L626.58,397.36 L627.86,396.13 L629.13,395.22 L630.41,394.34 L631.69,393.58 L632.97,393.07 L634.24,392.9 L635.52,392.99 L636.8,393.2 L638.08,393.51 L639.36,393.89 L640.63,394.38 L641.91,395.3 L643.19,396.55 L644.47,397.95 L645.74,399.34 L647.02,400.81 L648.3,402.47 L649.58,404.14 L650.86,405.62 L652.13,406.74 L653.41,407.66 L654.69,408.47 L655.97,409.18 L657.24,409.79 L658.52,410.28 L659.8,410.7 L659.8,413.7 L658.52,414.12 L657.24,414.61 L655.97,415.22 L654.69,415.93 L653.41,416.74 L652.13,417.66 L650.86,418.78 L649.58,420.26 L648.3,421.93 L647.02,423.59 L645.74,425.06 L644.47,426.45 L643.19,427.85 L641.91,429.1 L640.63,430.02 L639.36,430.51 L638.08,430.89 L636.8,431.2 L635.52,431.41 L634.24,431.5 L632.97,431.33 L631.69,430.82 L630.41,430.06 L629.13,429.18 L627.86,428.27 L626.58,427.04 L625.3,425.54 L624.02,423.96 L622.74,422.47 L621.47,421.03 L620.19,419.45 L618.91,418.12 L617.63,417.49 L616.36,417.31 L615.08,417.19 L613.8,417.11 L612.52,417.19 L611.24,418.18 L609.97,419.78 L608.69,421.92 L607.41,425.25 L606.13,427.85 L604.86,428.9 L603.58,429.61 L602.3,430.3Z" fill="#00BF7D" stroke="#000" stroke-width="0.6"/>
<path stroke="#000" stroke-width="1" d="M602.37 423.5h1.6M602 408.5h1.6M602.25 427.5h1.6M602 429.5h1.6M602.2 427.5h1.6M602.34 413.5h1.6M602.38 425.5h1.6M601.71 405.5h1.6M601.72 416.5h1.6M602.21 426.5h1.6M602.16 395.5h1.6M601.88 425.5h1.6M601.93 415.5h1.6M601.92 396.5h1.6M602.36 406.5h1.6M602.15 426.5h1.6M601.88 406.5h1.6M602 418.5h1.6M602.25 423.5h1.6M601.79 416.5h1.6M602.18 413.5h1.6M601.96 413.5h1.6M602.4 417.5h1.6M601.99 407.5h1.6M602.34 429.5h1.6M601.84 399.5h1.6M602.15 409.5h1.6M601.83 402.5h1.6M602.38 421.5h1.6M602.19 415.5h1.6M602.16 402.5h1.6M602.31 427.5h1.6M602.05 419.5h1.6M602.04 418.5h1.6M602.26 397.5h1.6M602.09 408.5h1.6M602.39 401.5h1.6M602.38 405.5h1.6M601.84 416.5h1.6M602.19 402.5h1.6M624.19 428.5h1.6M635.58 428.5h1.6M638.08 399.5h1.6M639.28 415.5h1.6M656.85 400.5h1.6M627.74 396.5h1.6M615.4 397.5h1.6M633.66 414.5h1.6M621.71 405.5h1.6M633.3 397.5h1.6M621.32 425.5h1.6M638.98 400.5h1.6M628.96 424.5h1.6M649.34 402.5h1.6M626.78 423.5h1.6M633.09 398.5h1.6M636.62 428.5h1.6M648.49 423.5h1.6M637.23 422.5h1.6M647.65 423.5h1.6M638.8 427.5h1.6M630.6 426.5h1.6M628.21 401.5h1.6M631.54 416.5h1.6M648.66 427.5h1.6M627.92 425.5h1.6M640.46 396.5h1.6M639.27 417.5h1.6M621.21 426.5h1.6M652.76 411.5h1.6M637 411.5h1.6M637.22 410.5h1.6M631.62 416.5h1.6M656.43 413.5h1.6M623.61 418.5h1.6M642.7 417.5h1.6M619.53 427.5h1.6M638.87 402.5h1.6M630.28 408.5h1.6M629 400.5h1.6M639.22 405.5h1.6M633.8 416.5h1.6M635.6 410.5h1.6M647.95 411.5h1.6M639.12 399.5h1.6M647.34 411.5h1.6M623.14 427.5h1.6M623.09 412.5h1.6M637.43 425.5h1.6M644.96 406.5h1.6M623.24 400.5h1.6M635.74 401.5h1.6M632.24 399.5h1.6M635.61 425.5h1.6M648.99 396.5h1.6M648.1 427.5h1.6M639.13 420.5h1.6M623.59 417.5h1.6M630.38 409.5h1.6M640.45 406.5h1.6M650.27 406.5h1.6M650.61 396.5h1.6M625.82 413.5h1.6M615.74 418.5h1.6M630.01 404.5h1.6M624.24 405.5h1.6M632.78 403.5h1.6M626.01 395.5h1.6M644.26 412.5h1.6M636.74 424.5h1.6M641.8 404.5h1.6M648.65 396.5h1.6M626.51 406.5h1.6M638.77 397.5h1.6M629.81 417.5h1.6M634.51 415.5h1.6M619.95 428.5h1.6M651.64 410.5h1.6M634.27 408.5h1.6M639.06 428.5h1.6M628.49 416.5h1.6M643.42 399.5h1.6M628.25 425.5h1.6M627.81 427.5h1.6M619.34 424.5h1.6M636.28 398.5h1.6M639.31 407.5h1.6M623.06 402.5h1.6M643.92 404.5h1.6M625.49 409.5h1.6M644.54 415.5h1.6M631.38 413.5h1.6M644.77 413.5h1.6M646.83 405.5h1.6M657.28 412.5h1.6M644.27 416.5h1.6M631.28 426.5h1.6M639.47 401.5h1.6M643.93 425.5h1.6M634.08 409.5h1.6M637.72 427.5h1.6M637.8 416.5h1.6M624.4 406.5h1.6M624.25 399.5h1.6M615.09 427.5h1.6M622.22 417.5h1.6M626.95 400.5h1.6M632.78 397.5h1.6M613.24 410.5h1.6M655.28 422.5h1.6M633.01 403.5h1.6M634.52 400.5h1.6M636.62 418.5h1.6M639.24 404.5h1.6M640.47 415.5h1.6M623.5 411.5h1.6M631.93 396.5h1.6M613.35 401.5h1.6M634.09 413.5h1.6M620.4 399.5h1.6M630.39 418.5h1.6M627.31 402.5h1.6M613.86 418.5h1.6M640.81 421.5h1.6M640.89 399.5h1.6M621.4 421.5h1.6M643.45 402.5h1.6M644.71 397.5h1.6M639.1 410.5h1.6M616.7 395.5h1.6M645.09 401.5h1.6M657.06 418.5h1.6M647.75 405.5h1.6M625.46 403.5h1.6M643.14 417.5h1.6M615.63 396.5h1.6M634.04 397.5h1.6M632.94 407.5h1.6M634.03 425.5h1.6M658.13 396.5h1.6M633.92 411.5h1.6M639.33 414.5h1.6M613.09 406.5h1.6M631.05 422.5h1.6M649.45 402.5h1.6M629.61 409.5h1.6M631.89 401.5h1.6M627.88 402.5h1.6M639.27 421.5h1.6M635.65 426.5h1.6M653.18 398.5h1.6M652.98 424.5h1.6M645.14 409.5h1.6M635.83 410.5h1.6M639.66 420.5h1.6M623.25 407.5h1.6M650.18 427.5h1.6M635.14 413.5h1.6M642.64 417.5h1.6M648.32 425.5h1.6M633.56 409.5h1.6M649.27 407.5h1.6M631.15 428.5h1.6M636.65 414.5h1.6M635.12 421.5h1.6M623.17 419.5h1.6M631.74 415.5h1.6M627.81 400.5h1.6M644.22 416.5h1.6M633.54 427.5h1.6M634.01 395.5h1.6M640.95 402.5h1.6M631.93 415.5h1.6M637.78 406.5h1.6M634.06 410.5h1.6M623.64 396.5h1.6M616.87 397.5h1.6M629.17 422.5h1.6M619.92 417.5h1.6M643.17 405.5h1.6M638.19 418.5h1.6M643.66 427.5h1.6M622.79 417.5h1.6M637.11 417.5h1.6M623.84 406.5h1.6M642.14 422.5h1.6M631.13 425.5h1.6M642.41 427.5h1.6M620.63 401.5h1.6M632.1 414.5h1.6M643.97 401.5h1.6M642.29 420.5h1.6M640.99 428.5h1.6M641.6 416.5h1.6M625.62 427.5h1.6M616.18 409.5h1.6M630.16 401.5h1.6M632.81 422.5h1.6M625.09 404.5h1.6M631.52 400.5h1.6M632.82 424.5h1.6M640.39 422.5h1.6M641.31 425.5h1.6M624.62 419.5h1.6M643.86 426.5h1.6M650.56 407.5h1.6M650.64 403.5h1.6M637.78 403.5h1.6M656.78 407.5h1.6M641.03 420.5h1.6M651.92 427.5h1.6M642.27 422.5h1.6M638.36 422.5h1.6M627.79 409.5h1.6M636.65 422.5h1.6M638.28 412.5h1.6M632.44 413.5h1.6M637.68 412.5h1.6M641.04 426.5h1.6M622.12 414.5h1.6M628.54 399.5h1.6M639.64 404.5h1.6M627.78 424.5h1.6M624.53 404.5h1.6M627.29 412.5h1.6M633.4 429.5h1.6M653.89 413.5h1.6M656.97 406.5h1.6M627.72 427.5h1.6M631.86 418.5h1.6M625.2 398.5h1.6M641.25 402.5h1.6M621.93 421.5h1.6M627.05 423.5h1.6M640.32 419.5h1.6M640.32 418.5h1.6M652.8 418.5h1.6M637.89 419.5h1.6M619.73 397.5h1.6M614.04 402.5h1.6M641.99 406.5h1.6M641.67 412.5h1.6M625.99 404.5h1.6M626.62 407.5h1.6M629.97 400.5h1.6M655.24 426.5h1.6M632.25 412.5h1.6M622.91 415.5h1.6M640.8 400.5h1.6M641.56 403.5h1.6M652.01 421.5h1.6M619.11 416.5h1.6M613.18 421.5h1.6M621.79 426.5h1.6M621.22 398.5h1.6M636.69 426.5h1.6M627.46 427.5h1.6M635.41 407.5h1.6M640.54 426.5h1.6M629.44 426.5h1.6M651.15 410.5h1.6M647.5 398.5h1.6M621.84 422.5h1.6M624.06 426.5h1.6M631.12 414.5h1.6M630.28 428.5h1.6M625.95 401.5h1.6M637.28 420.5h1.6M622.11 416.5h1.6M618.39 406.5h1.6M634.16 409.5h1.6M641.76 422.5h1.6M648.17 416.5h1.6M629.81 400.5h1.6M624.69 415.5h1.6M613.19 429.5h1.6M633.77 422.5h1.6M648.03 418.5h1.6M648.55 419.5h1.6M642.73 410.5h1.6M646.78 406.5h1.6M643.27 427.5h1.6M635.17 412.5h1.6M648.97 406.5h1.6M614.98 398.5h1.6M628.03 429.5h1.6M640.72 407.5h1.6M654.51 415.5h1.6M632.11 403.5h1.6M626.95 424.5h1.6M647.97 414.5h1.6M640.17 402.5h1.6M627.9 397.5h1.6M634.88 424.5h1.6M604.59 416.5h1.6M613.99 401.5h1.6M618.49 414.5h1.6M622.59 402.5h1.6M619.1 429.5h1.6M629.96 402.5h1.6M645.25 396.5h1.6M637.96 410.5h1.6M617.43 419.5h1.6M633.21 428.5h1.6M618.42 400.5h1.6M653.02 395.5h1.6M628.72 427.5h1.6M639.13 401.5h1.6M617.25 405.5h1.6M613.45 412.5h1.6M645.54 398.5h1.6M620 395.5h1.6M620.12 418.5h1.6M645.62 410.5h1.6M628.09 400.5h1.6M651.64 425.5h1.6M609.65 410.5h1.6M623.79 410.5h1.6M635.57 417.5h1.6M609.63 398.5h1.6M620.39 413.5h1.6M632.38 415.5h1.6M629.37 403.5h1.6M643.9 408.5h1.6M640.4 413.5h1.6M651.3 415.5h1.6M634.04 412.5h1.6M635.37 409.5h1.6M645.25 426.5h1.6M620.99 402.5h1.6M620.79 412.5h1.6M615.1 396.5h1.6M645.89 416.5h1.6M654.37 401.5h1.6M641.75 397.5h1.6M617.91 423.5h1.6M645.93 413.5h1.6M646.51 410.5h1.6M638.27 409.5h1.6M627.69 415.5h1.6M627.55 427.5h1.6M641.61 400.5h1.6M641.77 428.5h1.6M648.91 413.5h1.6M636.98 420.5h1.6M630.29 408.5h1.6M644.44 416.5h1.6M638.2 401.5h1.6M627.08 429.5h1.6M622.45 414.5h1.6M656.89 398.5h1.6M648.97 416.5h1.6M640.37 399.5h1.6M604.68 419.5h1.6M629.06 421.5h1.6M643.94 411.5h1.6M613.87 399.5h1.6M626.74 421.5h1.6M640.23 422.5h1.6M643.49 428.5h1.6"/>
<path d="M602.3,435.9 L603.61,436.46 L604.93,437.04 L606.24,437.9 L607.55,439.71 L608.86,441.96 L610.18,443.83 L611.49,445.62 L612.8,446.89 L614.12,447.52 L615.43,448.01 L616.74,448.33 L618.05,448.4 L619.37,448.36 L620.68,448.3 L621.99,448.22 L623.31,448.14 L624.62,448.03 L625.93,447.89 L627.24,447.74 L628.56,447.56 L629.87,447.27 L631.18,446.91 L632.49,446.58 L633.81,446.41 L635.12,446.42 L636.43,446.47 L637.75,446.57 L639.06,446.7 L640.37,446.85 L641.68,447.16 L643,447.63 L644.31,448.17 L645.62,448.73 L646.94,449.34 L648.25,450.09 L649.56,450.83 L650.87,451.45 L652.19,451.8 L653.5,452 L653.5,458.4 L652.19,458.6 L650.87,458.95 L649.56,459.57 L648.25,460.31 L646.94,461.06 L645.62,461.67 L644.31,462.23 L643,462.77 L641.68,463.24 L640.37,463.55 L639.06,463.7 L637.75,463.83 L636.43,463.93 L635.12,463.98 L633.81,463.99 L632.49,463.82 L631.18,463.49 L629.87,463.13 L628.56,462.84 L627.24,462.66 L625.93,462.51 L624.62,462.37 L623.31,462.26 L621.99,462.18 L620.68,462.1 L619.37,462.04 L618.05,462 L616.74,462.07 L615.43,462.39 L614.12,462.88 L612.8,463.51 L611.49,464.78 L610.18,466.57 L608.86,468.44 L607.55,470.69 L606.24,472.5 L604.93,473.36 L603.61,473.94 L602.3,474.5Z" fill="#00B0F6" stroke="#000" stroke-width="0.6"/>
<path stroke="#000" stroke-width="1" d="M602.34 450.5h1.6M601.89 460.5h1.6M602.19 455.5h1.6M601.84 469.5h1.6M602.03 462.5h1.6M601.89 461.5h1.6M602.35 455.5h1.6M602.07 451.5h1.6M602.21 443.5h1.6M602.19 465.5h1.6M601.74 472.5h1.6M601.77 446.5h1.6M602.08 471.5h1.6M601.93 440.5h1.6M601.85 446.5h1.6M602.26 471.5h1.6M602.16 452.5h1.6M601.95 446.5h1.6M601.75 442.5h1.6M601.74 459.5h1.6M601.92 466.5h1.6M601.7 460.5h1.6M601.74 446.5h1.6M601.72 439.5h1.6M601.88 464.5h1.6M602.32 447.5h1.6M601.98 445.5h1.6M602.27 460.5h1.6M639.76 445.5h1.6M645.5 467.5h1.6M641.58 461.5h1.6M652.7 461.5h1.6M636.68 438.5h1.6M640.96 439.5h1.6M644.04 439.5h1.6M624.55 441.5h1.6M627.36 470.5h1.6M628.5 462.5h1.6M617.56 443.5h1.6M634.96 449.5h1.6M642.39 454.5h1.6M643.03 448.5h1.6M627.07 452.5h1.6M652.7 470.5h1.6M639.67 450.5h1.6M615.66 438.5h1.6M624.39 441.5h1.6M631.59 450.5h1.6M643.46 449.5h1.6M636.28 441.5h1.6M637.12 455.5h1.6M642.84 470.5h1.6M625.52 464.5h1.6M625.99 440.5h1.6M625.49 456.5h1.6M627.61 462.5h1.6M628.77 448.5h1.6M652.7 460.5h1.6M629.13 444.5h1.6M630.53 452.5h1.6M618.68 443.5h1.6M636.07 464.5h1.6M617.95 461.5h1.6M637.75 450.5h1.6M638.28 469.5h1.6M641.58 442.5h1.6M616.88 466.5h1.6M629.78 447.5h1.6M637.72 460.5h1.6M620.75 457.5h1.6M629.21 467.5h1.6M641.61 461.5h1.6M652.7 459.5h1.6"/>
<path d="M602.3,493.6 L603.59,493.99 L604.89,494.39 L606.18,494.79 L607.48,495.17 L608.77,495.54 L610.07,495.96 L611.36,496.39 L612.66,496.73 L613.95,496.89 L615.25,496.9 L616.54,496.9 L617.83,496.9 L619.13,496.9 L620.42,496.88 L621.72,496.63 L623.01,496.15 L624.31,495.54 L625.6,494.9 L626.9,494.19 L628.19,493.3 L629.49,492.31 L630.78,491.33 L632.07,490.46 L633.37,489.66 L634.66,488.88 L635.96,488.11 L637.25,487.35 L638.55,486.57 L639.84,485.79 L641.14,485.01 L642.43,484.25 L643.73,483.51 L645.02,482.73 L646.31,481.95 L647.61,481.24 L648.9,480.69 L650.2,480.3 L651.49,479.94 L652.79,479.63 L654.08,479.44 L655.38,479.41 L656.67,479.55 L657.97,479.83 L659.26,480.21 L660.55,480.67 L661.85,481.31 L663.14,482.38 L664.44,483.72 L665.73,485.12 L667.03,486.42 L668.32,487.88 L669.62,489.43 L670.91,490.8 L672.21,491.74 L673.5,492.1 L673.5,504.3 L672.21,504.66 L670.91,505.6 L669.62,506.97 L668.32,508.52 L667.03,509.98 L665.73,511.28 L664.44,512.68 L663.14,514.02 L661.85,515.09 L660.55,515.73 L659.26,516.19 L657.97,516.57 L656.67,516.85 L655.38,516.99 L654.08,516.96 L652.79,516.77 L651.49,516.46 L650.2,516.1 L648.9,515.71 L647.61,515.16 L646.31,514.45 L645.02,513.67 L643.73,512.89 L642.43,512.15 L641.14,511.39 L639.84,510.61 L638.55,509.83 L637.25,509.05 L635.96,508.29 L634.66,507.52 L633.37,506.74 L632.07,505.94 L630.78,505.07 L629.49,504.09 L628.19,503.1 L626.9,502.21 L625.6,501.5 L624.31,500.86 L623.01,500.25 L621.72,499.77 L620.42,499.52 L619.13,499.5 L617.83,499.5 L616.54,499.5 L615.25,499.5 L613.95,499.51 L612.66,499.67 L611.36,500.01 L610.07,500.44 L608.77,500.86 L607.48,501.23 L606.18,501.61 L604.89,502.01 L603.59,502.41 L602.3,502.8Z" fill="#E76BF3" stroke="#000" stroke-width="0.6"/>
<path stroke="#000" stroke-width="1" d="M601.7 483.5h1.6M638.49 485.5h1.6M656.01 482.5h1.6M659.86 482.5h1.6M662.2 486.5h1.6M648.19 488.5h1.6M651.34 487.5h1.6M638.49 492.5h1.6M649.59 494.5h1.6M654.02 493.5h1.6M655.19 492.5h1.6M641.18 496.5h1.6M660.68 497.5h1.6M663.6 497.5h1.6M645.85 501.5h1.6M651.57 503.5h1.6M666.87 503.5h1.6M631.25 503.5h1.6M601.7 505.5h1.6M629.15 513.5h1.6M646.08 513.5h1.6M659.51 513.5h1.6M672.36 498.5h1.6"/>
<line x1="674.4" y1="487.3" x2="684" y2="487.3" stroke="#E76BF3" stroke-width="1.25"/>
<line x1="679.2" y1="482.5" x2="679.2" y2="492.1" stroke="#E76BF3" stroke-width="1.25"/>
<text x="10.6" y="331.8" font-size="9.3" text-anchor="middle">1</text>
<text x="10.6" y="374.8" font-size="9.3" text-anchor="middle">2</text>
<text x="10.6" y="417.8" font-size="9.3" text-anchor="middle">3</text>
<text x="10.6" y="460.8" font-size="9.3" text-anchor="middle">4</text>
<text x="10.6" y="503.8" font-size="9.3" text-anchor="middle">5</text>
<text x="-0.5" y="296.6" font-size="9.5">AST</text>
<text x="0" y="0" font-size="9.5" text-anchor="middle" transform="translate(355.5,552.6) scale(1,1.04)">Expression</text>
</svg></body></html>
